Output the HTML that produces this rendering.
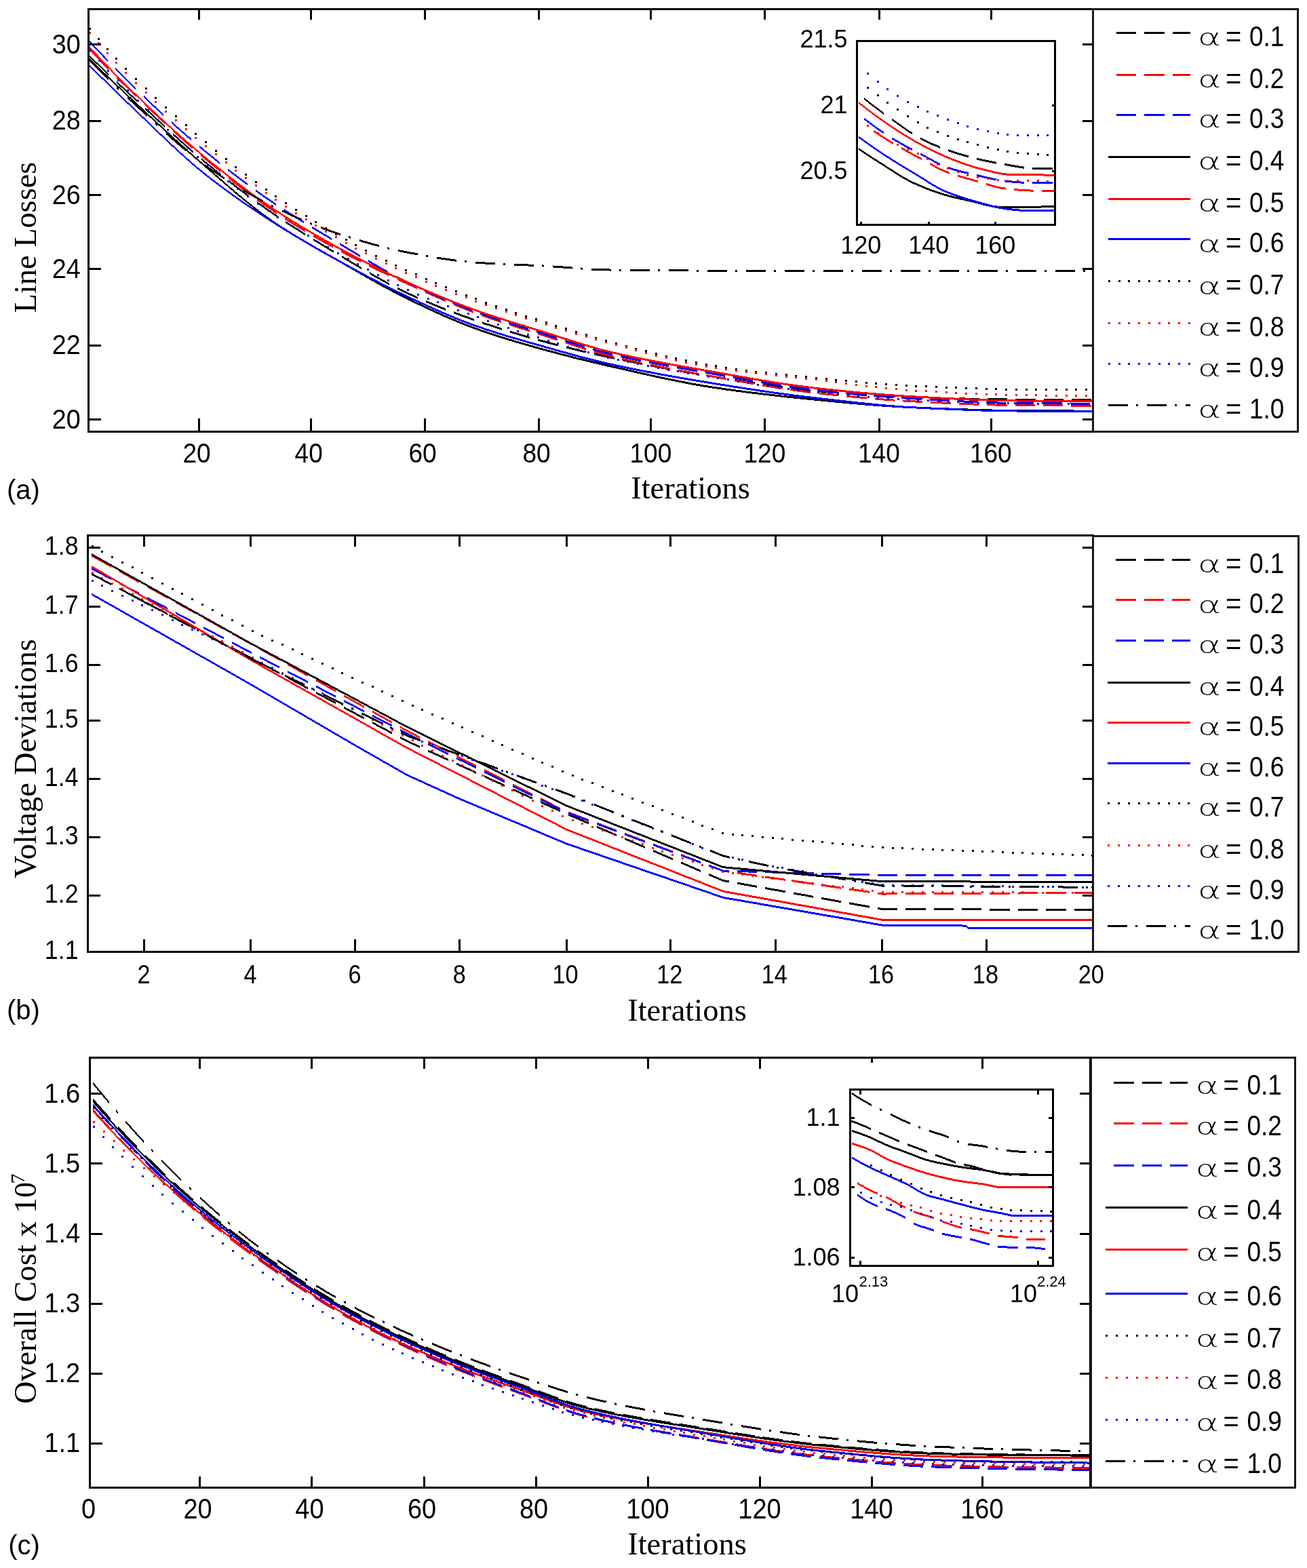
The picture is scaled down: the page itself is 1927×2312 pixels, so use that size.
<!DOCTYPE html>
<html><head><meta charset="utf-8"><title>Convergence plots</title>
<style>html,body{margin:0;padding:0;background:#fff;}svg{display:block;}</style></head>
<body><svg width="1927" height="2312" viewBox="0 0 1927 2312" shape-rendering="crispEdges">
<rect width="100%" height="100%" fill="#fff"/>
<clipPath id="ca"><rect x="130.4" y="13.1" width="1481.3" height="623.1999999999999"/></clipPath>
<path d="M131 80.5 135 84.3 139 88.2 143 92 147 95.8 151 99.6 155 103.4 159 107.2 160.4 108.5 160.4 111.5 159 110.2 155 106.4 151 102.6 147 98.8 143 95 139 91.2 135 87.3 131 83.5ZM172.4 119.8 175 122.3 179 126 183 129.7 187 133.5 191 137.2 195 140.9 199 144.6 201.8 147.2 201.8 150.2 199 147.6 195 143.9 191 140.2 187 136.5 183 132.7 179 129 175 125.3 172.4 122.8ZM213.8 158.3 215 159.4 219 163.1 223 166.8 227 170.5 231 174.2 235 177.9 239 181.6 243 185.3 243.2 185.5 243.2 188.5 243 188.3 239 184.6 235 180.9 231 177.2 227 173.5 223 169.8 219 166.1 215 162.4 213.8 161.3ZM255.2 196.5 259 199.9 263 203.5 267 207.1 271 210.6 275 214.2 279 217.7 283 221.1 284.6 222.5 284.6 225.5 283 224.1 279 220.7 275 217.2 271 213.6 267 210.1 263 206.5 259 202.9 255.2 199.5ZM296.6 232.7 299 234.7 303 238 307 241.2 311 244.5 315 247.7 319 250.9 323 254.1 326 256.5 326 259.5 323 257.1 319 253.9 315 250.7 311 247.5 307 244.2 303 241 299 237.7 296.6 235.7ZM338 266 339 266.7 343 269.8 347 272.9 351 276 355 279 359 282 363 285 367 287.9 367.4 288.2 367.4 291.2 367 290.9 363 288 359 285 355 282 351 279 347 275.9 343 272.8 339 269.7 338 269ZM379.4 297 383 299.6 387 302.4 391 305.2 395 308 399 310.8 403 313.6 407 316.3 408.8 317.5 408.8 320.5 407 319.3 403 316.6 399 313.8 395 311 391 308.2 387 305.4 383 302.6 379.4 300ZM420.8 325.5 423 326.9 427 329.6 431 332.1 435 334.7 439 337.3 443 339.8 447 342.3 450.2 344.3 450.2 347.3 447 345.3 443 342.8 439 340.3 435 337.7 431 335.1 427 332.6 423 329.9 420.8 328.5ZM462.2 351.8 463 352.2 467 354.7 471 357.1 475 359.5 479 362 483 364.4 487 366.8 491 369.1 491.6 369.5 491.6 372.5 491 372.1 487 369.8 483 367.4 479 365 475 362.5 471 360.1 467 357.7 463 355.2 462.2 354.8ZM503.6 376.6 507 378.7 511 381 515 383.4 519 385.8 523 388.2 527 390.6 531 393 533 394.1 533 397.1 531 396 527 393.6 523 391.2 519 388.8 515 386.4 511 384 507 381.7 503.6 379.6ZM545 401.2 547 402.3 551 404.7 555 406.9 559 409.2 563 411.4 567 413.6 571 415.8 574.4 417.6 574.4 420.6 571 418.8 567 416.6 563 414.4 559 412.2 555 409.9 551 407.7 547 405.3 545 404.2ZM586.4 423.9 587 424.2 591 426.2 595 428.1 599 430 603 431.9 607 433.7 611 435.5 615 437.3 615.8 437.7 615.8 440.7 615 440.3 611 438.5 607 436.7 603 434.9 599 433 595 431.1 591 429.2 587 427.2 586.4 426.9ZM627.8 442.9 631 444.2 635 445.9 639 447.5 643 449.2 647 450.8 651 452.4 655 453.9 657.2 454.8 657.2 457.8 655 456.9 651 455.4 647 453.8 643 452.2 639 450.5 635 448.9 631 447.2 627.8 445.9ZM669.2 459.4 671 460 675 461.5 679 463 683 464.5 687 465.9 691 467.3 695 468.7 698.6 470 698.6 473 695 471.7 691 470.3 687 468.9 683 467.5 679 466 675 464.5 671 463 669.2 462.4ZM710.6 474.2 711 474.3 715 475.7 719 477 723 478.3 727 479.6 731 481 735 482.2 739 483.5 740 483.8 740 486.8 739 486.5 735 485.2 731 484 727 482.6 723 481.3 719 480 715 478.7 711 477.3 710.6 477.2ZM752 487.6 755 488.5 759 489.7 763 490.9 767 492.1 771 493.3 775 494.5 779 495.6 781.4 496.3 781.4 499.3 779 498.6 775 497.5 771 496.3 767 495.1 763 493.9 759 492.7 755 491.5 752 490.6ZM793.4 499.7 795 500.1 799 501.2 803 502.3 807 503.4 811 504.4 815 505.5 819 506.5 822.8 507.5 822.8 510.5 819 509.5 815 508.5 811 507.4 807 506.4 803 505.3 799 504.2 795 503.1 793.4 502.7ZM834.8 510.5 835 510.6 839 511.6 843 512.5 847 513.5 851 514.5 855 515.4 859 516.4 863 517.3 864.2 517.6 864.2 520.6 863 520.3 859 519.4 855 518.4 851 517.5 847 516.5 843 515.5 839 514.6 835 513.6 834.8 513.5ZM876.2 520.3 879 520.9 883 521.8 887 522.7 891 523.6 895 524.4 899 525.3 903 526.1 905.6 526.7 905.6 529.7 903 529.1 899 528.3 895 527.4 891 526.6 887 525.7 883 524.8 879 523.9 876.2 523.3ZM917.6 529.2 919 529.5 923 530.3 927 531.1 931 531.9 935 532.7 939 533.5 943 534.3 947 535.1 947 538.1 943 537.3 939 536.5 935 535.7 931 534.9 927 534.1 923 533.3 919 532.5 917.6 532.2ZM959 508.9 959 537.4 963 538.2 967 539 971 539.7 975 540.5 979 541.2 983 542 987 542.7 988.4 542.9 988.4 545.9 987 545.7 983 545 979 544.2 975 543.5 971 542.7 967 542 963 541.2 959 540.4 959 568.9ZM1000.4 545.1 1003 545.6 1007 546.3 1011 547 1015 547.7 1019 548.4 1023 549 1027 549.7 1029.8 550.2 1029.8 553.2 1027 552.7 1023 552 1019 551.4 1015 550.7 1011 550 1007 549.3 1003 548.6 1000.4 548.1ZM1041.8 552.2 1043 552.4 1047 553 1051 553.7 1055 554.3 1059 554.9 1063 555.6 1067 556.2 1071 556.9 1071.2 556.9 1071.2 559.9 1071 559.9 1067 559.2 1063 558.6 1059 557.9 1055 557.3 1051 556.7 1047 556 1043 555.4 1041.8 555.2ZM1083.2 558.8 1087 559.4 1091 560.1 1095 560.7 1099 561.3 1103 562 1107 562.6 1111 563.2 1112.6 563.4 1112.6 566.4 1111 566.2 1107 565.6 1103 565 1099 564.3 1095 563.7 1091 563.1 1087 562.4 1083.2 561.8ZM1124.6 565.2 1127 565.6 1131 566.2 1135 566.8 1139 567.3 1143 567.9 1147 568.4 1151 569 1154 569.4 1154 572.4 1151 572 1147 571.4 1143 570.9 1139 570.3 1135 569.8 1131 569.2 1127 568.6 1124.6 568.2ZM1166 570.9 1167 571 1171 571.5 1175 571.9 1179 572.4 1183 572.8 1187 573.2 1191 573.6 1195 574 1195.4 574.1 1195.4 577.1 1195 577 1191 576.6 1187 576.2 1183 575.8 1179 575.4 1175 574.9 1171 574.5 1167 574 1166 573.9ZM1207.4 575.2 1211 575.5 1215 575.8 1219 576.2 1223 576.5 1227 576.9 1231 577.2 1235 577.5 1236.8 577.7 1236.8 580.7 1235 580.5 1231 580.2 1227 579.9 1223 579.5 1219 579.2 1215 578.8 1211 578.5 1207.4 578.2ZM1248.8 578.7 1251 578.8 1255 579.1 1259 579.5 1263 579.8 1267 580 1271 580.3 1275 580.6 1278.2 580.8 1278.2 583.8 1275 583.6 1271 583.3 1267 583 1263 582.8 1259 582.5 1255 582.1 1251 581.8 1248.8 581.7ZM1290.2 581.6 1291 581.7 1295 581.9 1299 582.2 1303 582.4 1307 582.6 1311 582.8 1315 583.1 1319 583.3 1319.6 583.3 1319.6 586.3 1319 586.3 1315 586.1 1311 585.8 1307 585.6 1303 585.4 1299 585.2 1295 584.9 1291 584.7 1290.2 584.6ZM1331.6 583.8 1335 584 1339 584.1 1343 584.3 1347 584.4 1351 584.5 1355 584.7 1359 584.8 1361 584.8 1361 587.8 1359 587.8 1355 587.7 1351 587.5 1347 587.4 1343 587.3 1339 587.1 1335 587 1331.6 586.8ZM1373 585.2 1375 585.3 1379 585.4 1383 585.5 1387 585.6 1391 585.7 1395 585.8 1399 585.9 1402.4 586 1402.4 589 1399 588.9 1395 588.8 1391 588.7 1387 588.6 1383 588.5 1379 588.4 1375 588.3 1373 588.2ZM1414.4 586.3 1415 586.3 1419 586.4 1423 586.5 1427 586.6 1431 586.7 1435 586.8 1439 586.9 1443 586.9 1443.8 587 1443.8 590 1443 589.9 1439 589.9 1435 589.8 1431 589.7 1427 589.6 1423 589.5 1419 589.4 1415 589.3 1414.4 589.3ZM1455.8 587.2 1459 587.2 1463 587.3 1467 587.3 1471 587.3 1475 587.4 1479 587.4 1483 587.4 1485.2 587.5 1485.2 590.5 1483 590.4 1479 590.4 1475 590.4 1471 590.3 1467 590.3 1463 590.3 1459 590.2 1455.8 590.2ZM1497.2 587.5 1499 587.5 1503 587.5 1507 587.5 1511 587.5 1515 587.5 1519 587.5 1523 587.5 1526.6 587.5 1526.6 590.5 1523 590.5 1519 590.5 1515 590.5 1511 590.5 1507 590.5 1503 590.5 1499 590.5 1497.2 590.5ZM1538.6 587.5 1539 587.5 1543 587.5 1547 587.5 1551 587.5 1555 587.5 1559 587.5 1563 587.5 1567 587.5 1568 587.5 1568 590.5 1567 590.5 1563 590.5 1559 590.5 1555 590.5 1551 590.5 1547 590.5 1543 590.5 1539 590.5 1538.6 590.5ZM1580 587.5 1583 587.5 1587 587.5 1591 587.5 1595 587.5 1599 587.5 1603 587.5 1607 587.5 1609.4 587.5 1609.4 590.5 1607 590.5 1603 590.5 1599 590.5 1595 590.5 1591 590.5 1587 590.5 1583 590.5 1580 590.5Z" fill="#000" clip-path="url(#ca)"/>
<path d="M131 70.4 135 74.6 139 78.7 143 82.8 147 86.9 151 91 155 95.1 159 99.1 159.7 99.9 159.7 102.9 159 102.2 155 98.1 151 94.1 147 90 143 85.9 139 81.8 135 77.7 131 73.6ZM171.7 111.9 175 115.2 179 119.1 183 123 187 127 191 130.8 195 134.7 199 138.5 201.1 140.5 201.1 143.5 199 141.5 195 137.7 191 133.8 187 130 183 126 179 122.1 175 118.2 171.7 114.9ZM213.1 152 215 153.8 219 157.6 223 161.4 227 165.1 231 168.9 235 172.6 239 176.4 242.5 179.6 242.5 182.6 239 179.4 235 175.6 231 171.9 227 168.1 223 164.4 219 160.6 215 156.8 213.1 155ZM254.5 190.6 255 191.1 259 194.7 263 198.3 267 201.9 271 205.5 275 209 279 212.5 283 216 283.9 216.8 283.9 219.8 283 219 279 215.5 275 212 271 208.5 267 204.9 263 201.3 259 197.7 255 194.1 254.5 193.6ZM295.9 227.1 299 229.7 303 233 307 236.3 311 239.6 315 242.9 319 246.2 323 249.5 325.3 251.3 325.3 254.3 323 252.5 319 249.2 315 245.9 311 242.6 307 239.3 303 236 299 232.7 295.9 230.1ZM337.3 261 339 262.3 343 265.5 347 268.7 351 271.8 355 274.9 359 277.9 363 281 366.7 283.7 366.7 286.7 363 284 359 280.9 355 277.9 351 274.8 347 271.7 343 268.5 339 265.3 337.3 264ZM378.7 292.6 379 292.8 383 295.7 387 298.5 391 301.3 395 304.1 399 306.8 403 309.5 407 312.2 408.1 312.9 408.1 315.9 407 315.2 403 312.5 399 309.8 395 307.1 391 304.3 387 301.5 383 298.7 379 295.8 378.7 295.6ZM420.1 320.7 423 322.6 427 325.1 431 327.6 435 330.1 439 332.5 443 335 447 337.4 449.5 338.9 449.5 341.9 447 340.4 443 338 439 335.5 435 333.1 431 330.6 427 328.1 423 325.6 420.1 323.7ZM461.5 346 463 346.8 467 349.1 471 351.4 475 353.7 479 356 483 358.2 487 360.4 490.9 362.6 490.9 365.6 487 363.4 483 361.2 479 359 475 356.7 471 354.4 467 352.1 463 349.8 461.5 349ZM502.9 369.1 503 369.1 507 371.2 511 373.4 515 375.4 519 377.5 523 379.6 527 381.6 531 383.6 532.3 384.3 532.3 387.3 531 386.6 527 384.6 523 382.6 519 380.5 515 378.4 511 376.4 507 374.2 503 372.1 502.9 372.1ZM544.3 390.2 547 391.6 551 393.5 555 395.4 559 397.4 563 399.3 567 401.2 571 403.1 573.7 404.3 573.7 407.3 571 406.1 567 404.2 563 402.3 559 400.4 555 398.4 551 396.5 547 394.6 544.3 393.2ZM585.7 409.9 587 410.5 591 412.4 595 414.2 599 416 603 417.9 607 419.7 611 421.5 615 423.4 615.1 423.4 615.1 426.4 615 426.4 611 424.5 607 422.7 603 420.9 599 419 595 417.2 591 415.4 587 413.5 585.7 412.9ZM627.1 428.9 631 430.6 635 432.4 639 434.2 643 436 647 437.7 651 439.5 655 441.2 656.5 441.9 656.5 444.9 655 444.2 651 442.5 647 440.7 643 439 639 437.2 635 435.4 631 433.6 627.1 431.9ZM668.5 447 671 448 675 449.7 679 451.3 683 452.9 687 454.5 691 456.1 695 457.6 697.9 458.7 697.9 461.7 695 460.6 691 459.1 687 457.5 683 455.9 679 454.3 675 452.7 671 451 668.5 450ZM709.9 463.1 711 463.5 715 464.9 719 466.3 723 467.7 727 469.1 731 470.4 735 471.8 739 473.1 739.3 473.2 739.3 476.2 739 476.1 735 474.8 731 473.4 727 472.1 723 470.7 719 469.3 715 467.9 711 466.5 709.9 466.1ZM751.3 477.1 755 478.3 759 479.5 763 480.8 767 482.1 771 483.3 775 484.6 779 485.9 780.7 486.4 780.7 489.4 779 488.9 775 487.6 771 486.3 767 485.1 763 483.8 759 482.5 755 481.3 751.3 480.1ZM792.7 490.2 795 490.9 799 492.2 803 493.5 807 494.8 811 496.1 815 497.4 819 498.7 822.1 499.7 822.1 502.7 819 501.7 815 500.4 811 499.1 807 497.8 803 496.5 799 495.2 795 493.9 792.7 493.2ZM834.1 503.7 835 504 839 505.3 843 506.6 847 507.9 851 509.2 855 510.5 859 511.8 863 513 863.5 513.2 863.5 516.2 863 516 859 514.8 855 513.5 851 512.2 847 510.9 843 509.6 839 508.3 835 507 834.1 506.7ZM875.5 516.8 879 517.9 883 519 887 520.1 891 521.2 895 522.2 899 523.3 903 524.2 904.9 524.7 904.9 527.7 903 527.2 899 526.3 895 525.2 891 524.2 887 523.1 883 522 879 520.9 875.5 519.8ZM916.9 527.5 919 528 923 528.9 927 529.8 931 530.7 935 531.6 939 532.5 943 533.3 946.3 534 946.3 537 943 536.3 939 535.5 935 534.6 931 533.7 927 532.8 923 531.9 919 531 916.9 530.5ZM958.3 536.5 959 536.6 963 537.4 967 538.2 971 539 975 539.8 979 540.6 983 541.3 987 542.1 987.7 542.2 987.7 545.2 987 545.1 983 544.3 979 543.6 975 542.8 971 542 967 541.2 963 540.4 959 539.6 958.3 539.5ZM999.7 544.5 1003 545.1 1007 545.8 1011 546.5 1015 547.2 1019 548 1023 548.7 1027 549.4 1029.1 549.8 1029.1 552.8 1027 552.4 1023 551.7 1019 551 1015 550.2 1011 549.5 1007 548.8 1003 548.1 999.7 547.5ZM1041.1 551.9 1043 552.3 1047 553 1051 553.7 1055 554.4 1059 555.1 1063 555.8 1067 556.5 1070.5 557.2 1070.5 560.2 1067 559.5 1063 558.8 1059 558.1 1055 557.4 1051 556.7 1047 556 1043 555.3 1041.1 554.9ZM1082.5 559.3 1083 559.4 1087 560.1 1091 560.8 1095 561.5 1099 562.2 1103 563 1107 563.6 1111 564.3 1111.9 564.5 1111.9 567.5 1111 567.3 1107 566.6 1103 566 1099 565.2 1095 564.5 1091 563.8 1087 563.1 1083 562.4 1082.5 562.3ZM1123.9 566.5 1127 567.1 1131 567.7 1135 568.4 1139 569 1143 569.7 1147 570.3 1151 570.9 1153.3 571.3 1153.3 574.3 1151 573.9 1147 573.3 1143 572.7 1139 572 1135 571.4 1131 570.7 1127 570.1 1123.9 569.5ZM1165.3 573 1167 573.3 1171 573.8 1175 574.4 1179 574.9 1183 575.4 1187 576 1191 576.4 1194.7 576.9 1194.7 579.9 1191 579.4 1187 579 1183 578.4 1179 577.9 1175 577.4 1171 576.8 1167 576.3 1165.3 576ZM1206.7 578.2 1207 578.3 1211 578.7 1215 579.2 1219 579.6 1223 580 1227 580.4 1231 580.9 1235 581.3 1236.1 581.4 1236.1 584.4 1235 584.3 1231 583.9 1227 583.4 1223 583 1219 582.6 1215 582.2 1211 581.7 1207 581.3 1206.7 581.2ZM1248.1 582.6 1251 582.9 1255 583.3 1259 583.7 1263 584 1267 584.4 1271 584.8 1275 585.1 1277.5 585.4 1277.5 588.4 1275 588.1 1271 587.8 1267 587.4 1263 587 1259 586.7 1255 586.3 1251 585.9 1248.1 585.6ZM1289.5 586.4 1291 586.5 1295 586.8 1299 587.2 1303 587.5 1307 587.8 1311 588.1 1315 588.4 1318.9 588.6 1318.9 591.6 1315 591.4 1311 591.1 1307 590.8 1303 590.5 1299 590.2 1295 589.8 1291 589.5 1289.5 589.4ZM1330.9 589.4 1331 589.4 1335 589.7 1339 589.9 1343 590.1 1347 590.3 1351 590.6 1355 590.8 1359 591 1360.3 591 1360.3 594 1359 594 1355 593.8 1351 593.6 1347 593.3 1343 593.1 1339 592.9 1335 592.7 1331 592.4 1330.9 592.4ZM1372.3 591.6 1375 591.8 1379 592 1383 592.2 1387 592.4 1391 592.6 1395 592.8 1399 592.9 1401.7 593.1 1401.7 596.1 1399 595.9 1395 595.8 1391 595.6 1387 595.4 1383 595.2 1379 595 1375 594.8 1372.3 594.6ZM1413.7 593.6 1415 593.7 1419 593.8 1423 594 1427 594.2 1431 594.3 1435 594.5 1439 594.6 1443 594.7 1443.1 594.7 1443.1 597.7 1443 597.7 1439 597.6 1435 597.5 1431 597.3 1427 597.2 1423 597 1419 596.8 1415 596.7 1413.7 596.6ZM1455.1 595.1 1459 595.2 1463 595.4 1467 595.5 1471 595.6 1475 595.6 1479 595.7 1483 595.8 1484.5 595.8 1484.5 598.8 1483 598.8 1479 598.7 1475 598.6 1471 598.6 1467 598.5 1463 598.4 1459 598.2 1455.1 598.1ZM1496.5 596 1499 596 1503 596 1507 596.1 1511 596.1 1515 596.1 1519 596.1 1523 596.2 1525.9 596.2 1525.9 599.2 1523 599.2 1519 599.1 1515 599.1 1511 599.1 1507 599.1 1503 599 1499 599 1496.5 599ZM1537.9 596.3 1539 596.3 1543 596.3 1547 596.3 1551 596.3 1555 596.4 1559 596.4 1563 596.4 1567 596.4 1567.3 596.4 1567.3 599.4 1567 599.4 1563 599.4 1559 599.4 1555 599.4 1551 599.3 1547 599.3 1543 599.3 1539 599.3 1537.9 599.3ZM1579.3 596.5 1583 596.5 1587 596.5 1591 596.5 1595 596.5 1599 596.5 1603 596.5 1607 596.5 1608.7 596.5 1608.7 599.5 1607 599.5 1603 599.5 1599 599.5 1595 599.5 1591 599.5 1587 599.5 1583 599.5 1579.3 599.5Z" fill="#f00" clip-path="url(#ca)"/>
<path d="M131 58.4 135 62.7 139 67 143 71.3 147 75.6 151 79.8 155 84 158.6 87.8 158.6 91 155 87.2 151 83 147 78.7 143 74.5 139 70.2 135 65.9 131 61.6ZM170.3 99.9 171 100.6 175 104.7 179 108.8 183 112.8 187 116.8 191 120.7 195 124.7 199 128.5 199.5 129 199.5 132 199 131.5 195 127.7 191 123.7 187 119.8 183 115.8 179 111.8 175 107.8 171 103.7 170.3 102.9ZM211.5 140.5 215 143.8 219 147.6 223 151.4 227 155.1 231 158.8 235 162.6 239 166.2 240.9 168 240.9 171 239 169.2 235 165.6 231 161.8 227 158.1 223 154.4 219 150.6 215 146.8 211.5 143.5ZM252.9 178.9 255 180.7 259 184.3 263 187.9 267 191.4 271 194.9 275 198.4 279 201.8 282.3 204.6 282.3 207.6 279 204.8 275 201.4 271 197.9 267 194.4 263 190.9 259 187.3 255 183.7 252.9 181.9ZM294.3 214.8 295 215.4 299 218.7 303 222 307 225.2 311 228.5 315 231.7 319 235 323 238.2 323.7 238.7 323.7 241.7 323 241.2 319 238 315 234.7 311 231.5 307 228.2 303 225 299 221.7 295 218.4 294.3 217.8ZM335.7 248.2 339 250.8 343 253.9 347 257 351 260 355 263.1 359 266.1 363 269.1 365.1 270.6 365.1 273.6 363 272.1 359 269.1 355 266.1 351 263 347 260 343 256.9 339 253.8 335.7 251.2ZM377.1 279.4 379 280.8 383 283.6 387 286.5 391 289.3 395 292.1 399 294.8 403 297.5 406.5 299.9 406.5 302.9 403 300.5 399 297.8 395 295.1 391 292.3 387 289.5 383 286.6 379 283.8 377.1 282.4ZM418.5 307.8 419 308.1 423 310.7 427 313.3 431 315.8 435 318.3 439 320.8 443 323.3 447 325.8 447.9 326.3 447.9 329.3 447 328.8 443 326.3 439 323.8 435 321.3 431 318.8 427 316.3 423 313.7 419 311.1 418.5 310.8ZM459.9 333.6 463 335.5 467 337.9 471 340.3 475 342.7 479 345 483 347.4 487 349.8 489.3 351.2 489.3 354.2 487 352.8 483 350.4 479 348 475 345.7 471 343.3 467 340.9 463 338.5 459.9 336.6ZM501.3 358.3 503 359.3 507 361.7 511 364.1 515 366.5 519 368.9 523 371.3 527 373.7 530.7 375.9 530.7 378.9 527 376.7 523 374.3 519 371.9 515 369.5 511 367.1 507 364.7 503 362.3 501.3 361.3ZM542.7 383 543 383.2 547 385.5 551 387.9 555 390.2 559 392.5 563 394.8 567 397 571 399.3 572.1 399.9 572.1 402.9 571 402.3 567 400 563 397.8 559 395.5 555 393.2 551 390.9 547 388.5 543 386.2 542.7 386ZM584.1 406.4 587 407.9 591 410 595 412 599 414 603 416 607 417.9 611 419.8 613.5 421 613.5 424 611 422.8 607 420.9 603 419 599 417 595 415 591 413 587 410.9 584.1 409.4ZM625.5 426.6 627 427.3 631 429.1 635 430.9 639 432.7 643 434.4 647 436.2 651 437.9 654.9 439.5 654.9 442.5 651 440.9 647 439.2 643 437.4 639 435.7 635 433.9 631 432.1 627 430.3 625.5 429.6ZM666.9 444.5 667 444.6 671 446.2 675 447.8 679 449.4 683 451 687 452.6 691 454.1 695 455.6 696.3 456.1 696.3 459.1 695 458.6 691 457.1 687 455.6 683 454 679 452.4 675 450.8 671 449.2 667 447.6 666.9 447.5ZM708.3 460.5 711 461.5 715 463 719 464.4 723 465.7 727 467.1 731 468.5 735 469.8 737.7 470.7 737.7 473.7 735 472.8 731 471.5 727 470.1 723 468.7 719 467.4 715 466 711 464.5 708.3 463.5ZM749.7 474.6 751 475.1 755 476.3 759 477.6 763 478.9 767 480.2 771 481.4 775 482.7 779 483.9 779.1 484 779.1 487 779 486.9 775 485.7 771 484.4 767 483.2 763 481.9 759 480.6 755 479.3 751 478.1 749.7 477.6ZM791.1 487.7 795 488.9 799 490.2 803 491.4 807 492.7 811 494 815 495.3 819 496.6 820.5 497 820.5 500 819 499.6 815 498.3 811 497 807 495.7 803 494.4 799 493.2 795 491.9 791.1 490.7ZM832.5 500.9 835 501.7 839 503 843 504.2 847 505.5 851 506.8 855 508 859 509.2 861.9 510.1 861.9 513.1 859 512.2 855 511 851 509.8 847 508.5 843 507.2 839 506 835 504.7 832.5 503.9ZM873.9 513.6 875 513.9 879 515.1 883 516.2 887 517.2 891 518.3 895 519.3 899 520.3 903 521.2 903.3 521.3 903.3 524.3 903 524.2 899 523.3 895 522.3 891 521.3 887 520.2 883 519.2 879 518.1 875 516.9 873.9 516.6ZM915.3 524 919 524.9 923 525.7 927 526.6 931 527.5 935 528.3 939 529.1 943 530 944.7 530.3 944.7 533.3 943 533 939 532.1 935 531.3 931 530.5 927 529.6 923 528.7 919 527.9 915.3 527ZM956.7 532.7 959 533.1 963 533.9 967 534.7 971 535.4 975 536.2 979 536.9 983 537.7 986.1 538.2 986.1 541.2 983 540.7 979 539.9 975 539.2 971 538.4 967 537.7 963 536.9 959 536.1 956.7 535.7ZM998.1 540.4 999 540.6 1003 541.3 1007 542 1011 542.7 1015 543.4 1019 544.1 1023 544.8 1027 545.5 1027.5 545.6 1027.5 548.6 1027 548.5 1023 547.8 1019 547.1 1015 546.4 1011 545.7 1007 545 1003 544.3 999 543.6 998.1 543.4ZM1039.5 547.7 1043 548.3 1047 549 1051 549.7 1055 550.4 1059 551.1 1063 551.8 1067 552.5 1068.9 552.8 1068.9 555.8 1067 555.5 1063 554.8 1059 554.1 1055 553.4 1051 552.7 1047 552 1043 551.3 1039.5 550.7ZM1080.9 555 1083 555.4 1087 556.1 1091 556.8 1095 557.5 1099 558.2 1103 558.9 1107 559.6 1110.3 560.2 1110.3 563.2 1107 562.6 1103 561.9 1099 561.2 1095 560.5 1091 559.8 1087 559.1 1083 558.4 1080.9 558ZM1122.3 562.2 1123 562.3 1127 563 1131 563.7 1135 564.3 1139 565 1143 565.6 1147 566.3 1151 566.9 1151.7 567 1151.7 570 1151 569.9 1147 569.3 1143 568.6 1139 568 1135 567.3 1131 566.7 1127 566 1123 565.3 1122.3 565.2ZM1163.7 568.8 1167 569.3 1171 569.8 1175 570.4 1179 570.9 1183 571.4 1187 572 1191 572.4 1193.1 572.7 1193.1 575.7 1191 575.4 1187 575 1183 574.4 1179 573.9 1175 573.4 1171 572.8 1167 572.3 1163.7 571.8ZM1205.1 574.1 1207 574.3 1211 574.7 1215 575.2 1219 575.6 1223 576 1227 576.4 1231 576.8 1234.5 577.2 1234.5 580.2 1231 579.8 1227 579.4 1223 579 1219 578.6 1215 578.2 1211 577.7 1207 577.3 1205.1 577.1ZM1246.5 578.4 1247 578.4 1251 578.8 1255 579.2 1259 579.6 1263 579.9 1267 580.3 1271 580.7 1275 581 1275.9 581.1 1275.9 584.1 1275 584 1271 583.7 1267 583.3 1263 582.9 1259 582.6 1255 582.2 1251 581.8 1247 581.4 1246.5 581.4ZM1287.9 582.1 1291 582.4 1295 582.7 1299 583 1303 583.3 1307 583.6 1311 583.9 1315 584.2 1317.3 584.4 1317.3 587.4 1315 587.2 1311 586.9 1307 586.6 1303 586.3 1299 586 1295 585.7 1291 585.4 1287.9 585.1ZM1329.3 585.2 1331 585.3 1335 585.6 1339 585.8 1343 586.1 1347 586.3 1351 586.6 1355 586.8 1358.7 587 1358.7 590 1355 589.8 1351 589.6 1347 589.3 1343 589.1 1339 588.8 1335 588.6 1331 588.3 1329.3 588.2ZM1370.7 587.7 1371 587.7 1375 588 1379 588.2 1383 588.4 1387 588.7 1391 588.9 1395 589.1 1399 589.3 1400.1 589.4 1400.1 592.4 1399 592.3 1395 592.1 1391 591.9 1387 591.7 1383 591.4 1379 591.2 1375 591 1371 590.7 1370.7 590.7ZM1412.1 590 1415 590.2 1419 590.4 1423 590.6 1427 590.8 1431 591 1435 591.2 1439 591.3 1441.5 591.4 1441.5 594.4 1439 594.3 1435 594.2 1431 594 1427 593.8 1423 593.6 1419 593.4 1415 593.2 1412.1 593ZM1453.5 591.9 1455 592 1459 592.1 1463 592.2 1467 592.4 1471 592.5 1475 592.6 1479 592.7 1482.9 592.8 1482.9 595.8 1479 595.7 1475 595.6 1471 595.5 1467 595.4 1463 595.2 1459 595.1 1455 595 1453.5 594.9ZM1494.9 593 1495 593 1499 593 1503 593 1507 593.1 1511 593.1 1515 593.1 1519 593.1 1523 593.2 1524.3 593.2 1524.3 596.2 1523 596.2 1519 596.1 1515 596.1 1511 596.1 1507 596.1 1503 596 1499 596 1495 596 1494.9 596ZM1536.3 593.3 1539 593.3 1543 593.3 1547 593.3 1551 593.3 1555 593.4 1559 593.4 1563 593.4 1565.7 593.4 1565.7 596.4 1563 596.4 1559 596.4 1555 596.4 1551 596.3 1547 596.3 1543 596.3 1539 596.3 1536.3 596.3ZM1577.7 593.4 1579 593.5 1583 593.5 1587 593.5 1591 593.5 1595 593.5 1599 593.5 1603 593.5 1607 593.5 1607.1 593.5 1607.1 596.5 1607 596.5 1603 596.5 1599 596.5 1595 596.5 1591 596.5 1587 596.5 1583 596.5 1579 596.5 1577.7 596.4Z" fill="#00f" clip-path="url(#ca)"/>
<path d="M131 84.9 135 88.8 139 92.6 143 96.5 147 100.3 151 104.2 155 108 159 111.8 163 115.6 167 119.4 171 123.2 175 127 179 130.8 183 134.6 187 138.3 191 142.1 195 145.8 199 149.6 203 153.3 207 157 211 160.7 215 164.5 219 168.2 223 171.9 227 175.6 231 179.3 235 183 239 186.7 243 190.4 247 194.1 251 197.8 255 201.4 259 205.1 263 208.7 267 212.3 271 215.9 275 219.5 279 223.1 283 226.6 287 230.2 291 233.7 295 237.2 299 240.6 303 244.1 307 247.6 311 251 315 254.5 319 258 323 261.5 327 264.9 331 268.4 335 271.8 339 275.3 343 278.7 347 282.1 351 285.5 355 288.8 359 292.1 363 295.4 367 298.6 371 301.8 375 305 379 308.1 383 311.2 387 314.2 391 317.1 395 320 399 322.8 403 325.6 407 328.3 411 330.9 415 333.6 419 336.1 423 338.7 427 341.2 431 343.6 435 346.1 439 348.5 443 350.9 447 353.2 451 355.6 455 357.9 459 360.2 463 362.5 467 364.8 471 367 475 369.3 479 371.6 483 373.8 487 376.1 491 378.4 495 380.6 499 382.9 503 385.2 507 387.5 511 389.8 515 392.1 519 394.4 523 396.7 527 399 531 401.3 535 403.6 539 405.9 543 408.1 547 410.4 551 412.6 555 414.8 559 417.1 563 419.3 567 421.4 571 423.6 575 425.7 579 427.8 583 429.9 587 432 591 434 595 436 599 438 603 440 607 441.9 611 443.8 615 445.8 619 447.7 623 449.6 627 451.5 631 453.4 635 455.2 639 457.1 643 458.9 647 460.7 651 462.5 655 464.3 659 466 663 467.8 667 469.5 671 471.1 675 472.8 679 474.4 683 476 687 477.6 691 479.1 695 480.7 699 482.1 703 483.6 707 485 711 486.4 715 487.8 719 489.2 723 490.5 727 491.8 731 493.1 735 494.4 739 495.7 743 496.9 747 498.2 751 499.4 755 500.6 759 501.8 763 503 767 504.2 771 505.3 775 506.5 779 507.6 783 508.7 787 509.9 791 511 795 512.1 799 513.2 803 514.3 807 515.4 811 516.5 815 517.6 819 518.6 823 519.7 827 520.8 831 521.8 835 522.8 839 523.8 843 524.9 847 525.9 851 526.9 855 527.9 859 528.8 863 529.8 867 530.8 871 531.7 875 532.7 879 533.6 883 534.6 887 535.5 891 536.4 895 537.4 899 538.3 903 539.2 907 540.1 911 541 915 541.9 919 542.8 923 543.8 927 544.7 931 545.6 935 546.5 939 547.4 943 548.3 947 549.2 951 550.1 955 551 959 551.9 963 552.8 967 553.7 971 554.6 975 555.4 979 556.3 983 557.1 987 558 991 558.8 995 559.6 999 560.4 1003 561.2 1007 562 1011 562.8 1015 563.5 1019 564.3 1023 565 1027 565.7 1031 566.4 1035 567.1 1039 567.8 1043 568.4 1047 569 1051 569.7 1055 570.3 1059 570.8 1063 571.4 1067 572 1071 572.6 1075 573.1 1079 573.7 1083 574.2 1087 574.8 1091 575.3 1095 575.8 1099 576.3 1103 576.9 1107 577.4 1111 577.9 1115 578.3 1119 578.8 1123 579.3 1127 579.8 1131 580.2 1135 580.7 1139 581.2 1143 581.6 1147 582.1 1151 582.5 1155 582.9 1159 583.4 1163 583.8 1167 584.2 1171 584.6 1175 585 1179 585.4 1183 585.8 1187 586.2 1191 586.6 1195 587 1199 587.4 1203 587.8 1207 588.2 1211 588.6 1215 588.9 1219 589.3 1223 589.7 1227 590.1 1231 590.5 1235 590.9 1239 591.2 1243 591.6 1247 592 1251 592.4 1255 592.7 1259 593.1 1263 593.4 1267 593.8 1271 594.1 1275 594.5 1279 594.8 1283 595.2 1287 595.5 1291 595.8 1295 596.1 1299 596.4 1303 596.7 1307 597 1311 597.3 1315 597.5 1319 597.8 1323 598.1 1327 598.3 1331 598.5 1335 598.8 1339 599 1343 599.2 1347 599.4 1351 599.5 1355 599.7 1359 599.9 1363 600.1 1367 600.2 1371 600.4 1375 600.6 1379 600.7 1383 600.9 1387 601.1 1391 601.2 1395 601.4 1399 601.5 1403 601.7 1407 601.8 1411 602 1415 602.1 1419 602.2 1423 602.4 1427 602.5 1431 602.6 1435 602.7 1439 602.9 1443 603 1447 603.1 1451 603.2 1455 603.3 1459 603.4 1463 603.5 1467 603.5 1471 603.6 1475 603.7 1479 603.8 1483 603.8 1487 603.9 1491 603.9 1495 604 1499 604 1503 604 1507 604.1 1511 604.1 1515 604.1 1519 604.1 1523 604.2 1527 604.2 1531 604.2 1535 604.2 1539 604.3 1543 604.3 1547 604.3 1551 604.3 1555 604.4 1559 604.4 1563 604.4 1567 604.4 1571 604.4 1575 604.4 1579 604.4 1583 604.5 1587 604.5 1591 604.5 1595 604.5 1599 604.5 1603 604.5 1607 604.5 1611 604.5 1611 607.5 1607 607.5 1603 607.5 1599 607.5 1595 607.5 1591 607.5 1587 607.5 1583 607.5 1579 607.4 1575 607.4 1571 607.4 1567 607.4 1563 607.4 1559 607.4 1555 607.4 1551 607.3 1547 607.3 1543 607.3 1539 607.3 1535 607.2 1531 607.2 1527 607.2 1523 607.2 1519 607.1 1515 607.1 1511 607.1 1507 607.1 1503 607 1499 607 1495 607 1491 606.9 1487 606.9 1483 606.8 1479 606.8 1475 606.7 1471 606.6 1467 606.5 1463 606.5 1459 606.4 1455 606.3 1451 606.2 1447 606.1 1443 606 1439 605.9 1435 605.7 1431 605.6 1427 605.5 1423 605.4 1419 605.2 1415 605.1 1411 605 1407 604.8 1403 604.7 1399 604.5 1395 604.4 1391 604.2 1387 604.1 1383 603.9 1379 603.7 1375 603.6 1371 603.4 1367 603.2 1363 603.1 1359 602.9 1355 602.7 1351 602.5 1347 602.4 1343 602.2 1339 602 1335 601.8 1331 601.5 1327 601.3 1323 601.1 1319 600.8 1315 600.5 1311 600.3 1307 600 1303 599.7 1299 599.4 1295 599.1 1291 598.8 1287 598.5 1283 598.2 1279 597.8 1275 597.5 1271 597.1 1267 596.8 1263 596.4 1259 596.1 1255 595.7 1251 595.4 1247 595 1243 594.6 1239 594.2 1235 593.9 1231 593.5 1227 593.1 1223 592.7 1219 592.3 1215 591.9 1211 591.6 1207 591.2 1203 590.8 1199 590.4 1195 590 1191 589.6 1187 589.2 1183 588.8 1179 588.4 1175 588 1171 587.6 1167 587.2 1163 586.8 1159 586.4 1155 585.9 1151 585.5 1147 585.1 1143 584.6 1139 584.2 1135 583.7 1131 583.2 1127 582.8 1123 582.3 1119 581.8 1115 581.3 1111 580.9 1107 580.4 1103 579.9 1099 579.3 1095 578.8 1091 578.3 1087 577.8 1083 577.2 1079 576.7 1075 576.1 1071 575.6 1067 575 1063 574.4 1059 573.8 1055 573.3 1051 572.7 1047 572 1043 571.4 1039 570.8 1035 570.1 1031 569.4 1027 568.7 1023 568 1019 567.3 1015 566.5 1011 565.8 1007 565 1003 564.2 999 563.4 995 562.6 991 561.8 987 561 983 560.1 979 559.3 975 558.4 971 557.6 967 556.7 963 555.8 959 554.9 955 554 951 553.1 947 552.2 943 551.3 939 550.4 935 549.5 931 548.6 927 547.7 923 546.8 919 545.8 915 544.9 911 544 907 543.1 903 542.2 899 541.3 895 540.4 891 539.4 887 538.5 883 537.6 879 536.6 875 535.7 871 534.7 867 533.8 863 532.8 859 531.8 855 530.9 851 529.9 847 528.9 843 527.9 839 526.8 835 525.8 831 524.8 827 523.8 823 522.7 819 521.6 815 520.6 811 519.5 807 518.4 803 517.3 799 516.2 795 515.1 791 514 787 512.9 783 511.7 779 510.6 775 509.5 771 508.3 767 507.2 763 506 759 504.8 755 503.6 751 502.4 747 501.2 743 499.9 739 498.7 735 497.4 731 496.1 727 494.8 723 493.5 719 492.2 715 490.8 711 489.4 707 488 703 486.6 699 485.1 695 483.7 691 482.1 687 480.6 683 479 679 477.4 675 475.8 671 474.1 667 472.5 663 470.8 659 469 655 467.3 651 465.5 647 463.7 643 461.9 639 460.1 635 458.2 631 456.4 627 454.5 623 452.6 619 450.7 615 448.8 611 446.8 607 444.9 603 443 599 441 595 439 591 437 587 435 583 432.9 579 430.8 575 428.7 571 426.6 567 424.4 563 422.3 559 420.1 555 417.8 551 415.6 547 413.4 543 411.1 539 408.9 535 406.6 531 404.3 527 402 523 399.7 519 397.4 515 395.1 511 392.8 507 390.5 503 388.2 499 385.9 495 383.6 491 381.4 487 379.1 483 376.8 479 374.6 475 372.3 471 370 467 367.8 463 365.5 459 363.2 455 360.9 451 358.6 447 356.2 443 353.9 439 351.5 435 349.1 431 346.6 427 344.2 423 341.7 419 339.1 415 336.6 411 333.9 407 331.3 403 328.6 399 325.8 395 323 391 320.1 387 317.2 383 314.2 379 311.1 375 308 371 304.8 367 301.6 363 298.4 359 295.1 355 291.8 351 288.5 347 285.1 343 281.7 339 278.3 335 274.8 331 271.4 327 267.9 323 264.5 319 261 315 257.5 311 254 307 250.6 303 247.1 299 243.6 295 240.2 291 236.7 287 233.2 283 229.6 279 226.1 275 222.5 271 218.9 267 215.3 263 211.7 259 208.1 255 204.4 251 200.8 247 197.1 243 193.4 239 189.7 235 186 231 182.3 227 178.6 223 174.9 219 171.2 215 167.5 211 163.7 207 160 203 156.3 199 152.6 195 148.8 191 145.1 187 141.3 183 137.6 179 133.8 175 130 171 126.2 167 122.4 163 118.6 159 114.8 155 111 151 107.2 147 103.3 143 99.5 139 95.6 135 91.8 131 87.9Z" fill="#000" clip-path="url(#ca)"/>
<path d="M131 67 135 71.3 139 75.6 143 79.9 147 84.1 151 88.3 155 92.5 159 96.7 163 100.9 167 105 171 109.1 175 113.2 179 117.3 183 121.3 187 125.3 191 129.2 195 133.1 199 137 203 140.9 207 144.7 211 148.6 215 152.4 219 156.2 223 160 227 163.7 231 167.5 235 171.2 239 174.9 243 178.6 247 182.3 251 185.9 255 189.5 259 193.1 263 196.7 267 200.2 271 203.8 275 207.3 279 210.7 283 214.2 287 217.6 291 221 295 224.3 299 227.7 303 231 307 234.3 311 237.5 315 240.8 319 244 323 247.2 327 250.4 331 253.6 335 256.8 339 259.9 343 263 347 266.1 351 269.2 355 272.3 359 275.3 363 278.3 367 281.2 371 284.2 375 287.1 379 289.9 383 292.8 387 295.6 391 298.4 395 301.1 399 303.8 403 306.5 407 309.2 411 311.8 415 314.4 419 316.9 423 319.5 427 322 431 324.5 435 327 439 329.4 443 331.9 447 334.3 451 336.7 455 339 459 341.4 463 343.7 467 346 471 348.3 475 350.6 479 352.9 483 355.1 487 357.3 491 359.6 495 361.8 499 364 503 366.1 507 368.3 511 370.4 515 372.6 519 374.7 523 376.8 527 378.9 531 381 535 383.1 539 385.1 543 387.2 547 389.2 551 391.2 555 393.2 559 395.2 563 397.1 567 399.1 571 401 575 402.9 579 404.8 583 406.7 587 408.6 591 410.4 595 412.2 599 414 603 415.8 607 417.6 611 419.4 615 421.2 619 422.9 623 424.7 627 426.4 631 428.1 635 429.9 639 431.5 643 433.2 647 434.9 651 436.6 655 438.2 659 439.8 663 441.4 667 443 671 444.6 675 446.2 679 447.7 683 449.2 687 450.7 691 452.2 695 453.7 699 455.1 703 456.6 707 458 711 459.4 715 460.7 719 462.1 723 463.4 727 464.8 731 466.1 735 467.4 739 468.6 743 469.9 747 471.2 751 472.4 755 473.7 759 474.9 763 476.2 767 477.4 771 478.6 775 479.8 779 481.1 783 482.3 787 483.5 791 484.7 795 486 799 487.2 803 488.4 807 489.7 811 491 815 492.2 819 493.5 823 494.8 827 496.1 831 497.4 835 498.6 839 499.9 843 501.2 847 502.4 851 503.7 855 504.9 859 506.2 863 507.4 867 508.6 871 509.8 875 510.9 879 512 883 513.1 887 514.2 891 515.3 895 516.3 899 517.3 903 518.2 907 519.1 911 520.1 915 521 919 521.9 923 522.7 927 523.6 931 524.5 935 525.3 939 526.1 943 527 947 527.8 951 528.6 955 529.4 959 530.1 963 530.9 967 531.7 971 532.4 975 533.2 979 533.9 983 534.7 987 535.4 991 536.1 995 536.8 999 537.6 1003 538.3 1007 539 1011 539.7 1015 540.4 1019 541.1 1023 541.8 1027 542.5 1031 543.2 1035 543.9 1039 544.6 1043 545.3 1047 546 1051 546.7 1055 547.4 1059 548.1 1063 548.8 1067 549.5 1071 550.2 1075 550.9 1079 551.6 1083 552.4 1087 553.1 1091 553.8 1095 554.5 1099 555.2 1103 555.9 1107 556.6 1111 557.3 1115 558 1119 558.7 1123 559.3 1127 560 1131 560.7 1135 561.3 1139 562 1143 562.6 1147 563.3 1151 563.9 1155 564.5 1159 565.1 1163 565.7 1167 566.3 1171 566.8 1175 567.4 1179 567.9 1183 568.4 1187 569 1191 569.4 1195 569.9 1199 570.4 1203 570.8 1207 571.3 1211 571.7 1215 572.2 1219 572.6 1223 573 1227 573.4 1231 573.9 1235 574.3 1239 574.7 1243 575.1 1247 575.5 1251 575.9 1255 576.2 1259 576.6 1263 577 1267 577.4 1271 577.7 1275 578.1 1279 578.4 1283 578.8 1287 579.1 1291 579.4 1295 579.8 1299 580.1 1303 580.4 1307 580.7 1311 581 1315 581.3 1319 581.6 1323 581.8 1327 582.1 1331 582.4 1335 582.6 1339 582.9 1343 583.1 1347 583.3 1351 583.6 1355 583.8 1359 584 1363 584.2 1367 584.4 1371 584.6 1375 584.9 1379 585.1 1383 585.3 1387 585.5 1391 585.7 1395 585.9 1399 586.1 1403 586.3 1407 586.5 1411 586.7 1415 586.9 1419 587 1423 587.2 1427 587.4 1431 587.6 1435 587.7 1439 587.9 1443 588 1447 588.2 1451 588.3 1455 588.5 1459 588.6 1463 588.7 1467 588.8 1471 588.9 1475 589 1479 589.1 1483 589.2 1487 589.3 1491 589.4 1495 589.4 1499 589.5 1503 589.5 1507 589.6 1511 589.6 1515 589.7 1519 589.7 1523 589.8 1527 589.8 1531 589.8 1535 589.9 1539 589.9 1543 590 1547 590 1551 590 1555 590.1 1559 590.1 1563 590.1 1567 590.1 1571 590.2 1575 590.2 1579 590.2 1583 590.2 1587 590.3 1591 590.3 1595 590.3 1599 590.3 1603 590.3 1607 590.3 1611 590.3 1611 593.3 1607 593.3 1603 593.3 1599 593.3 1595 593.3 1591 593.3 1587 593.3 1583 593.2 1579 593.2 1575 593.2 1571 593.2 1567 593.1 1563 593.1 1559 593.1 1555 593.1 1551 593 1547 593 1543 593 1539 592.9 1535 592.9 1531 592.8 1527 592.8 1523 592.8 1519 592.7 1515 592.7 1511 592.6 1507 592.6 1503 592.5 1499 592.5 1495 592.4 1491 592.4 1487 592.3 1483 592.2 1479 592.1 1475 592 1471 591.9 1467 591.8 1463 591.7 1459 591.6 1455 591.5 1451 591.3 1447 591.2 1443 591 1439 590.9 1435 590.7 1431 590.6 1427 590.4 1423 590.2 1419 590 1415 589.9 1411 589.7 1407 589.5 1403 589.3 1399 589.1 1395 588.9 1391 588.7 1387 588.5 1383 588.3 1379 588.1 1375 587.9 1371 587.6 1367 587.4 1363 587.2 1359 587 1355 586.8 1351 586.6 1347 586.3 1343 586.1 1339 585.9 1335 585.6 1331 585.4 1327 585.1 1323 584.8 1319 584.6 1315 584.3 1311 584 1307 583.7 1303 583.4 1299 583.1 1295 582.8 1291 582.4 1287 582.1 1283 581.8 1279 581.4 1275 581.1 1271 580.7 1267 580.4 1263 580 1259 579.6 1255 579.2 1251 578.9 1247 578.5 1243 578.1 1239 577.7 1235 577.3 1231 576.9 1227 576.4 1223 576 1219 575.6 1215 575.2 1211 574.7 1207 574.3 1203 573.8 1199 573.4 1195 572.9 1191 572.4 1187 572 1183 571.4 1179 570.9 1175 570.4 1171 569.8 1167 569.3 1163 568.7 1159 568.1 1155 567.5 1151 566.9 1147 566.3 1143 565.6 1139 565 1135 564.3 1131 563.7 1127 563 1123 562.3 1119 561.7 1115 561 1111 560.3 1107 559.6 1103 558.9 1099 558.2 1095 557.5 1091 556.8 1087 556.1 1083 555.4 1079 554.6 1075 553.9 1071 553.2 1067 552.5 1063 551.8 1059 551.1 1055 550.4 1051 549.7 1047 549 1043 548.3 1039 547.6 1035 546.9 1031 546.2 1027 545.5 1023 544.8 1019 544.1 1015 543.4 1011 542.7 1007 542 1003 541.3 999 540.6 995 539.8 991 539.1 987 538.4 983 537.7 979 536.9 975 536.2 971 535.4 967 534.7 963 533.9 959 533.1 955 532.4 951 531.6 947 530.8 943 530 939 529.1 935 528.3 931 527.5 927 526.6 923 525.7 919 524.9 915 524 911 523.1 907 522.1 903 521.2 899 520.3 895 519.3 891 518.3 887 517.2 883 516.1 879 515 875 513.9 871 512.8 867 511.6 863 510.4 859 509.2 855 507.9 851 506.7 847 505.4 843 504.2 839 502.9 835 501.6 831 500.4 827 499.1 823 497.8 819 496.5 815 495.2 811 494 807 492.7 803 491.4 799 490.2 795 489 791 487.7 787 486.5 783 485.3 779 484.1 775 482.8 771 481.6 767 480.4 763 479.2 759 477.9 755 476.7 751 475.4 747 474.2 743 472.9 739 471.6 735 470.4 731 469.1 727 467.8 723 466.4 719 465.1 715 463.7 711 462.4 707 461 703 459.6 699 458.1 695 456.7 691 455.2 687 453.7 683 452.2 679 450.7 675 449.2 671 447.6 667 446 663 444.4 659 442.8 655 441.2 651 439.6 647 437.9 643 436.2 639 434.5 635 432.9 631 431.1 627 429.4 623 427.7 619 425.9 615 424.2 611 422.4 607 420.6 603 418.8 599 417 595 415.2 591 413.4 587 411.6 583 409.7 579 407.8 575 405.9 571 404 567 402.1 563 400.1 559 398.2 555 396.2 551 394.2 547 392.2 543 390.2 539 388.1 535 386.1 531 384 527 381.9 523 379.8 519 377.7 515 375.6 511 373.4 507 371.3 503 369.1 499 367 495 364.8 491 362.6 487 360.3 483 358.1 479 355.9 475 353.6 471 351.3 467 349 463 346.7 459 344.4 455 342 451 339.7 447 337.3 443 334.9 439 332.4 435 330 431 327.5 427 325 423 322.5 419 319.9 415 317.4 411 314.8 407 312.2 403 309.5 399 306.8 395 304.1 391 301.4 387 298.6 383 295.8 379 292.9 375 290.1 371 287.2 367 284.2 363 281.3 359 278.3 355 275.3 351 272.2 347 269.1 343 266 339 262.9 335 259.8 331 256.6 327 253.4 323 250.2 319 247 315 243.8 311 240.5 307 237.3 303 234 299 230.7 295 227.3 291 224 287 220.6 283 217.2 279 213.7 275 210.3 271 206.8 267 203.2 263 199.7 259 196.1 255 192.5 251 188.9 247 185.3 243 181.6 239 177.9 235 174.2 231 170.5 227 166.7 223 163 219 159.2 215 155.4 211 151.6 207 147.7 203 143.9 199 140 195 136.1 191 132.2 187 128.3 183 124.3 179 120.3 175 116.2 171 112.2 167 108.1 163 104 159 99.8 155 95.7 151 91.5 147 87.3 143 83 139 78.8 135 74.5 131 70.2Z" fill="#f00" clip-path="url(#ca)"/>
<path d="M131 94.2 135 98.2 139 102.2 143 106.1 147 110.1 151 114 155 118 159 121.9 163 125.8 167 129.7 171 133.6 175 137.5 179 141.4 183 145.2 187 149.1 191 152.9 195 156.7 199 160.6 203 164.4 207 168.2 211 172 215 175.8 219 179.7 223 183.5 227 187.4 231 191.2 235 195.1 239 198.9 243 202.7 247 206.5 251 210.3 255 214 259 217.8 263 221.4 267 225.1 271 228.7 275 232.3 279 235.8 283 239.3 287 242.7 291 246.1 295 249.4 299 252.7 303 255.9 307 259.1 311 262.2 315 265.3 319 268.3 323 271.3 327 274.3 331 277.3 335 280.2 339 283.1 343 286 347 288.8 351 291.7 355 294.5 359 297.2 363 300 367 302.7 371 305.4 375 308.1 379 310.8 383 313.4 387 316 391 318.7 395 321.3 399 323.9 403 326.4 407 329 411 331.5 415 334 419 336.5 423 339 427 341.4 431 343.8 435 346.3 439 348.6 443 351 447 353.4 451 355.7 455 358.1 459 360.4 463 362.7 467 365 471 367.3 475 369.5 479 371.8 483 374 487 376.3 491 378.5 495 380.7 499 382.9 503 385.2 507 387.4 511 389.6 515 391.7 519 393.9 523 396.1 527 398.3 531 400.4 535 402.6 539 404.7 543 406.8 547 408.9 551 411 555 413.1 559 415.2 563 417.3 567 419.3 571 421.3 575 423.3 579 425.3 583 427.3 587 429.3 591 431.2 595 433.1 599 435 603 436.9 607 438.8 611 440.7 615 442.5 619 444.4 623 446.2 627 448.1 631 449.9 635 451.7 639 453.5 643 455.3 647 457.1 651 458.9 655 460.6 659 462.3 663 464 667 465.7 671 467.3 675 469 679 470.6 683 472.1 687 473.7 691 475.2 695 476.7 699 478.1 703 479.6 707 481 711 482.3 715 483.7 719 485 723 486.3 727 487.6 731 488.9 735 490.1 739 491.3 743 492.6 747 493.8 751 495 755 496.1 759 497.3 763 498.5 767 499.6 771 500.8 775 501.9 779 503.1 783 504.2 787 505.3 791 506.5 795 507.6 799 508.7 803 509.9 807 511 811 512.1 815 513.3 819 514.4 823 515.5 827 516.7 831 517.8 835 518.9 839 520 843 521.1 847 522.2 851 523.3 855 524.4 859 525.4 863 526.5 867 527.5 871 528.6 875 529.6 879 530.6 883 531.5 887 532.5 891 533.5 895 534.4 899 535.3 903 536.2 907 537 911 537.9 915 538.8 919 539.6 923 540.4 927 541.3 931 542.1 935 542.9 939 543.7 943 544.5 947 545.3 951 546.1 955 546.8 959 547.6 963 548.4 967 549.1 971 549.9 975 550.6 979 551.3 983 552.1 987 552.8 991 553.5 995 554.2 999 554.9 1003 555.6 1007 556.3 1011 557 1015 557.7 1019 558.4 1023 559 1027 559.7 1031 560.4 1035 561 1039 561.7 1043 562.4 1047 563 1051 563.7 1055 564.3 1059 565 1063 565.6 1067 566.2 1071 566.9 1075 567.5 1079 568.2 1083 568.8 1087 569.4 1091 570 1095 570.7 1099 571.3 1103 571.9 1107 572.5 1111 573.1 1115 573.7 1119 574.3 1123 574.9 1127 575.5 1131 576.1 1135 576.6 1139 577.2 1143 577.8 1147 578.3 1151 578.9 1155 579.4 1159 580 1163 580.5 1167 581 1171 581.6 1175 582.1 1179 582.6 1183 583.1 1187 583.6 1191 584 1195 584.5 1199 585 1203 585.4 1207 585.9 1211 586.4 1215 586.8 1219 587.3 1223 587.8 1227 588.2 1231 588.7 1235 589.1 1239 589.6 1243 590.1 1247 590.5 1251 591 1255 591.4 1259 591.8 1263 592.3 1267 592.7 1271 593.1 1275 593.5 1279 593.9 1283 594.3 1287 594.7 1291 595.1 1295 595.5 1299 595.9 1303 596.2 1307 596.6 1311 596.9 1315 597.2 1319 597.5 1323 597.8 1327 598.1 1331 598.4 1335 598.7 1339 598.9 1343 599.1 1347 599.3 1351 599.5 1355 599.7 1359 599.9 1363 600.1 1367 600.3 1371 600.5 1375 600.7 1379 600.9 1383 601.1 1387 601.2 1391 601.4 1395 601.6 1399 601.8 1403 601.9 1407 602.1 1411 602.2 1415 602.4 1419 602.5 1423 602.7 1427 602.8 1431 603 1435 603.1 1439 603.2 1443 603.4 1447 603.5 1451 603.6 1455 603.7 1459 603.8 1463 603.9 1467 604 1471 604.1 1475 604.1 1479 604.2 1483 604.3 1487 604.3 1491 604.4 1495 604.4 1499 604.5 1503 604.5 1507 604.6 1511 604.6 1515 604.6 1519 604.7 1523 604.7 1527 604.7 1531 604.8 1535 604.8 1539 604.8 1543 604.8 1547 604.9 1551 604.9 1555 604.9 1559 604.9 1563 605 1567 605 1571 605 1575 605 1579 605 1583 605.1 1587 605.1 1591 605.1 1595 605.1 1599 605.1 1603 605.1 1607 605.1 1611 605.1 1611 608.1 1607 608.1 1603 608.1 1599 608.1 1595 608.1 1591 608.1 1587 608.1 1583 608.1 1579 608 1575 608 1571 608 1567 608 1563 608 1559 607.9 1555 607.9 1551 607.9 1547 607.9 1543 607.8 1539 607.8 1535 607.8 1531 607.8 1527 607.7 1523 607.7 1519 607.7 1515 607.6 1511 607.6 1507 607.6 1503 607.5 1499 607.5 1495 607.4 1491 607.4 1487 607.3 1483 607.3 1479 607.2 1475 607.1 1471 607.1 1467 607 1463 606.9 1459 606.8 1455 606.7 1451 606.6 1447 606.5 1443 606.4 1439 606.2 1435 606.1 1431 606 1427 605.8 1423 605.7 1419 605.5 1415 605.4 1411 605.2 1407 605.1 1403 604.9 1399 604.8 1395 604.6 1391 604.4 1387 604.2 1383 604.1 1379 603.9 1375 603.7 1371 603.5 1367 603.3 1363 603.1 1359 602.9 1355 602.7 1351 602.5 1347 602.3 1343 602.1 1339 601.9 1335 601.7 1331 601.4 1327 601.1 1323 600.8 1319 600.5 1315 600.2 1311 599.9 1307 599.6 1303 599.2 1299 598.9 1295 598.5 1291 598.1 1287 597.7 1283 597.3 1279 596.9 1275 596.5 1271 596.1 1267 595.7 1263 595.3 1259 594.8 1255 594.4 1251 594 1247 593.5 1243 593.1 1239 592.6 1235 592.1 1231 591.7 1227 591.2 1223 590.8 1219 590.3 1215 589.8 1211 589.4 1207 588.9 1203 588.4 1199 588 1195 587.5 1191 587 1187 586.6 1183 586.1 1179 585.6 1175 585.1 1171 584.6 1167 584 1163 583.5 1159 583 1155 582.4 1151 581.9 1147 581.3 1143 580.8 1139 580.2 1135 579.6 1131 579.1 1127 578.5 1123 577.9 1119 577.3 1115 576.7 1111 576.1 1107 575.5 1103 574.9 1099 574.3 1095 573.7 1091 573 1087 572.4 1083 571.8 1079 571.2 1075 570.5 1071 569.9 1067 569.2 1063 568.6 1059 568 1055 567.3 1051 566.7 1047 566 1043 565.4 1039 564.7 1035 564 1031 563.4 1027 562.7 1023 562 1019 561.4 1015 560.7 1011 560 1007 559.3 1003 558.6 999 557.9 995 557.2 991 556.5 987 555.8 983 555.1 979 554.3 975 553.6 971 552.9 967 552.1 963 551.4 959 550.6 955 549.8 951 549.1 947 548.3 943 547.5 939 546.7 935 545.9 931 545.1 927 544.3 923 543.4 919 542.6 915 541.8 911 540.9 907 540 903 539.2 899 538.3 895 537.4 891 536.5 887 535.5 883 534.5 879 533.6 875 532.6 871 531.6 867 530.5 863 529.5 859 528.4 855 527.4 851 526.3 847 525.2 843 524.1 839 523 835 521.9 831 520.8 827 519.7 823 518.5 819 517.4 815 516.3 811 515.1 807 514 803 512.9 799 511.7 795 510.6 791 509.5 787 508.3 783 507.2 779 506.1 775 504.9 771 503.8 767 502.6 763 501.5 759 500.3 755 499.1 751 498 747 496.8 743 495.6 739 494.3 735 493.1 731 491.9 727 490.6 723 489.3 719 488 715 486.7 711 485.3 707 484 703 482.6 699 481.1 695 479.7 691 478.2 687 476.7 683 475.1 679 473.6 675 472 671 470.3 667 468.7 663 467 659 465.3 655 463.6 651 461.9 647 460.1 643 458.3 639 456.5 635 454.7 631 452.9 627 451.1 623 449.2 619 447.4 615 445.5 611 443.7 607 441.8 603 439.9 599 438 595 436.1 591 434.2 587 432.3 583 430.3 579 428.3 575 426.3 571 424.3 567 422.3 563 420.3 559 418.2 555 416.1 551 414 547 411.9 543 409.8 539 407.7 535 405.6 531 403.4 527 401.3 523 399.1 519 396.9 515 394.7 511 392.6 507 390.4 503 388.2 499 385.9 495 383.7 491 381.5 487 379.3 483 377 479 374.8 475 372.5 471 370.3 467 368 463 365.7 459 363.4 455 361.1 451 358.7 447 356.4 443 354 439 351.6 435 349.3 431 346.8 427 344.4 423 342 419 339.5 415 337 411 334.5 407 332 403 329.4 399 326.9 395 324.3 391 321.7 387 319 383 316.4 379 313.8 375 311.1 371 308.4 367 305.7 363 303 359 300.2 355 297.5 351 294.7 347 291.8 343 289 339 286.1 335 283.2 331 280.3 327 277.3 323 274.3 319 271.3 315 268.3 311 265.2 307 262.1 303 258.9 299 255.7 295 252.4 291 249.1 287 245.7 283 242.3 279 238.8 275 235.3 271 231.7 267 228.1 263 224.4 259 220.8 255 217 251 213.3 247 209.5 243 205.7 239 201.9 235 198.1 231 194.2 227 190.4 223 186.5 219 182.7 215 178.8 211 175 207 171.2 203 167.4 199 163.6 195 159.7 191 155.9 187 152.1 183 148.2 179 144.4 175 140.5 171 136.6 167 132.7 163 128.8 159 124.9 155 121 151 117 147 113.1 143 109.1 139 105.2 135 101.2 131 97.2Z" fill="#00f" clip-path="url(#ca)"/>
<path d="M130.8 41h3v3h-3zM143.7 55.8h3v3h-3zM156.8 70.5h3v3h-3zM170.3 85.2h3v3h-3zM184.3 100h3v3h-3zM198.7 114.7h3v3h-3zM213.5 129.2h3v3h-3zM228.2 143.3h3v3h-3zM243 156.9h3v3h-3zM257.7 170.3h3v3h-3zM272.5 183.3h3v3h-3zM287.2 196h3v3h-3zM302 208.4h3v3h-3zM316.7 220.7h3v3h-3zM331.5 232.7h3v3h-3zM346.2 244.5h3v3h-3zM361 256h3v3h-3zM375.7 267.1h3v3h-3zM390.5 277.9h3v3h-3zM405.2 288.2h3v3h-3zM420 298.2h3v3h-3zM434.7 307.9h3v3h-3zM449.5 317.3h3v3h-3zM464.2 326.4h3v3h-3zM479 335.3h3v3h-3zM493.7 343.8h3v3h-3zM508.5 352.1h3v3h-3zM523.2 360.1h3v3h-3zM538 367.9h3v3h-3zM552.7 375.5h3v3h-3zM567.5 382.9h3v3h-3zM582.2 390h3v3h-3zM597 396.8h3v3h-3zM611.7 403.4h3v3h-3zM626.5 409.8h3v3h-3zM641.2 416h3v3h-3zM656 422.1h3v3h-3zM670.7 427.9h3v3h-3zM685.5 433.6h3v3h-3zM700.2 439.1h3v3h-3zM715 444.5h3v3h-3zM729.7 449.7h3v3h-3zM744.5 454.8h3v3h-3zM759.2 459.8h3v3h-3zM774 464.6h3v3h-3zM788.7 469.4h3v3h-3zM803.5 474.1h3v3h-3zM818.2 478.8h3v3h-3zM833 483.4h3v3h-3zM847.7 487.9h3v3h-3zM862.5 492.4h3v3h-3zM877.2 496.7h3v3h-3zM892 500.8h3v3h-3zM906.7 504.7h3v3h-3zM921.5 508.6h3v3h-3zM936.2 512.5h3v3h-3zM951 516.3h3v3h-3zM965.7 520.1h3v3h-3zM980.5 523.7h3v3h-3zM995.2 527.1h3v3h-3zM1010 530.3h3v3h-3zM1024.7 533.3h3v3h-3zM1039.5 536h3v3h-3zM1054.2 538.4h3v3h-3zM1069 540.6h3v3h-3zM1083.7 542.7h3v3h-3zM1098.5 544.6h3v3h-3zM1113.2 546.5h3v3h-3zM1128 548.2h3v3h-3zM1142.7 549.8h3v3h-3zM1157.5 551.4h3v3h-3zM1172.2 552.9h3v3h-3zM1187 554.4h3v3h-3zM1201.7 555.8h3v3h-3zM1216.5 557.2h3v3h-3zM1231.2 558.6h3v3h-3zM1246 560h3v3h-3zM1260.7 561.3h3v3h-3zM1275.5 562.6h3v3h-3zM1290.2 563.7h3v3h-3zM1305 564.9h3v3h-3zM1319.7 565.9h3v3h-3zM1334.5 566.8h3v3h-3zM1349.2 567.5h3v3h-3zM1364 568.2h3v3h-3zM1378.7 568.9h3v3h-3zM1393.5 569.6h3v3h-3zM1408.2 570.2h3v3h-3zM1423 570.8h3v3h-3zM1437.7 571.3h3v3h-3zM1452.5 571.8h3v3h-3zM1467.2 572.2h3v3h-3zM1482 572.5h3v3h-3zM1496.7 572.7h3v3h-3zM1511.5 572.8h3v3h-3zM1526.2 572.9h3v3h-3zM1541 573h3v3h-3zM1555.7 573.1h3v3h-3zM1570.5 573.2h3v3h-3zM1585.2 573.3h3v3h-3zM1600 573.3h3v3h-3z" fill="#000" clip-path="url(#ca)"/>
<path d="M130.8 47h3v3h-3zM143.6 61.8h3v3h-3zM156.8 76.5h3v3h-3zM170.3 91.2h3v3h-3zM184.2 106h3v3h-3zM198.7 120.7h3v3h-3zM213.5 135.2h3v3h-3zM228.2 149.1h3v3h-3zM243 162.7h3v3h-3zM257.7 176h3v3h-3zM272.5 188.9h3v3h-3zM287.2 201.5h3v3h-3zM302 213.9h3v3h-3zM316.7 226.1h3v3h-3zM331.5 238.1h3v3h-3zM346.2 249.8h3v3h-3zM361 261.2h3v3h-3zM375.7 272.2h3v3h-3zM390.5 282.9h3v3h-3zM405.2 293.1h3v3h-3zM420 303.1h3v3h-3zM434.7 312.7h3v3h-3zM449.5 322h3v3h-3zM464.2 331.1h3v3h-3zM479 339.9h3v3h-3zM493.7 348.3h3v3h-3zM508.5 356.5h3v3h-3zM523.2 364.5h3v3h-3zM538 372.2h3v3h-3zM552.7 379.7h3v3h-3zM567.5 387h3v3h-3zM582.2 394h3v3h-3zM597 400.8h3v3h-3zM611.7 407.4h3v3h-3zM626.5 413.7h3v3h-3zM641.2 419.8h3v3h-3zM656 425.8h3v3h-3zM670.7 431.6h3v3h-3zM685.5 437.2h3v3h-3zM700.2 442.6h3v3h-3zM715 447.9h3v3h-3zM729.7 453.1h3v3h-3zM744.5 458.1h3v3h-3zM759.2 463h3v3h-3zM774 467.7h3v3h-3zM788.7 472.4h3v3h-3zM803.5 477.1h3v3h-3zM818.2 481.7h3v3h-3zM833 486.2h3v3h-3zM847.7 490.7h3v3h-3zM862.5 495h3v3h-3zM877.2 499.2h3v3h-3zM892 503.3h3v3h-3zM906.7 507.2h3v3h-3zM921.5 511.1h3v3h-3zM936.2 515h3v3h-3zM951 518.8h3v3h-3zM965.7 522.5h3v3h-3zM980.5 526.1h3v3h-3zM995.2 529.6h3v3h-3zM1010 532.8h3v3h-3zM1024.7 535.8h3v3h-3zM1039.5 538.5h3v3h-3zM1054.2 540.9h3v3h-3zM1069 543.1h3v3h-3zM1083.7 545.1h3v3h-3zM1098.5 546.9h3v3h-3zM1113.2 548.7h3v3h-3zM1128 550.3h3v3h-3zM1142.7 551.9h3v3h-3zM1157.5 553.5h3v3h-3zM1172.2 555.1h3v3h-3zM1187 556.7h3v3h-3zM1201.7 558.4h3v3h-3zM1216.5 560.1h3v3h-3zM1231.2 562h3v3h-3zM1246 563.8h3v3h-3zM1260.7 565.7h3v3h-3zM1275.5 567.5h3v3h-3zM1290.2 569.2h3v3h-3zM1305 570.8h3v3h-3zM1319.7 572.3h3v3h-3zM1334.5 573.5h3v3h-3zM1349.2 574.5h3v3h-3zM1364 575.4h3v3h-3zM1378.7 576.3h3v3h-3zM1393.5 577.1h3v3h-3zM1408.2 577.9h3v3h-3zM1423 578.6h3v3h-3zM1437.7 579.3h3v3h-3zM1452.5 579.9h3v3h-3zM1467.2 580.3h3v3h-3zM1482 580.7h3v3h-3zM1496.7 581h3v3h-3zM1511.5 581.2h3v3h-3zM1526.2 581.3h3v3h-3zM1541 581.5h3v3h-3zM1555.7 581.6h3v3h-3zM1570.5 581.8h3v3h-3zM1585.2 581.8h3v3h-3zM1600 581.9h3v3h-3z" fill="#f00" clip-path="url(#ca)"/>
<path d="M130.9 73h3v3h-3zM144.5 87.8h3v3h-3zM158.4 102.5h3v3h-3zM172.5 117.2h3v3h-3zM187 132h3v3h-3zM201.7 146.7h3v3h-3zM216.5 161.1h3v3h-3zM231.2 175.4h3v3h-3zM246 189.5h3v3h-3zM260.7 203.2h3v3h-3zM275.5 216.6h3v3h-3zM290.2 229.5h3v3h-3zM305 241.9h3v3h-3zM319.7 253.9h3v3h-3zM334.5 265.7h3v3h-3zM349.2 277.1h3v3h-3zM364 288.2h3v3h-3zM378.7 298.8h3v3h-3zM393.5 309.1h3v3h-3zM408.2 318.9h3v3h-3zM423 328.3h3v3h-3zM437.7 337.4h3v3h-3zM452.5 346.2h3v3h-3zM467.2 354.7h3v3h-3zM482 363.2h3v3h-3zM496.7 371.5h3v3h-3zM511.5 379.8h3v3h-3zM526.2 388.1h3v3h-3zM541 396.3h3v3h-3zM555.7 404.3h3v3h-3zM570.5 412h3v3h-3zM585.2 419.3h3v3h-3zM600 426.1h3v3h-3zM614.7 432.6h3v3h-3zM629.5 438.6h3v3h-3zM644.2 444.4h3v3h-3zM659 450h3v3h-3zM673.7 455.5h3v3h-3zM688.5 460.9h3v3h-3zM703.2 466.2h3v3h-3zM718 471.5h3v3h-3zM732.7 476.7h3v3h-3zM747.5 481.8h3v3h-3zM762.2 486.8h3v3h-3zM777 491.7h3v3h-3zM791.7 496.4h3v3h-3zM806.5 500.9h3v3h-3zM821.2 505.4h3v3h-3zM836 509.8h3v3h-3zM850.7 514.1h3v3h-3zM865.5 518.2h3v3h-3zM880.2 522.1h3v3h-3zM895 525.7h3v3h-3zM909.7 529h3v3h-3zM924.5 532.1h3v3h-3zM939.2 535.2h3v3h-3zM954 538h3v3h-3zM968.7 540.8h3v3h-3zM983.5 543.5h3v3h-3zM998.2 546.1h3v3h-3zM1013 548.6h3v3h-3zM1027.7 551.1h3v3h-3zM1042.5 553.5h3v3h-3zM1057.2 555.9h3v3h-3zM1072 558.4h3v3h-3zM1086.7 560.8h3v3h-3zM1101.5 563.2h3v3h-3zM1116.2 565.5h3v3h-3zM1131 567.8h3v3h-3zM1145.7 569.9h3v3h-3zM1160.5 572h3v3h-3zM1175.2 573.9h3v3h-3zM1190 575.6h3v3h-3zM1204.7 577.1h3v3h-3zM1219.5 578.6h3v3h-3zM1234.2 580.1h3v3h-3zM1249 581.4h3v3h-3zM1263.7 582.7h3v3h-3zM1278.5 584h3v3h-3zM1293.2 585.1h3v3h-3zM1308 586.2h3v3h-3zM1322.7 587.1h3v3h-3zM1337.5 587.9h3v3h-3zM1352.2 588.7h3v3h-3zM1367 589.4h3v3h-3zM1381.7 590.1h3v3h-3zM1396.5 590.8h3v3h-3zM1411.2 591.4h3v3h-3zM1426 592h3v3h-3zM1440.7 592.5h3v3h-3zM1455.5 592.9h3v3h-3zM1470.2 593.2h3v3h-3zM1485 593.4h3v3h-3zM1499.7 593.5h3v3h-3zM1514.5 593.5h3v3h-3zM1529.2 593.5h3v3h-3zM1544 593.5h3v3h-3zM1558.7 593.5h3v3h-3zM1573.5 593.5h3v3h-3zM1588.2 593.5h3v3h-3zM1603 593.5h3v3h-3z" fill="#00f" clip-path="url(#ca)"/>
<path d="M131 86.5 135 90.5 139 94.6 143 98.6 147 102.6 151 106.5 155 110.5 159 114.4 159.9 115.3 159.9 118.3 159 117.4 155 113.5 151 109.5 147 105.6 143 101.6 139 97.6 135 93.6 131 89.5ZM171.9 127 174.9 129.9 174.9 132.9 171.9 130ZM187.9 142.3 191 145.1 195 148.9 199 152.6 203 156.3 207 160 211 163.7 215 167.4 216.9 169.2 216.9 172.2 215 170.4 211 166.7 207 163 203 159.3 199 155.6 195 151.9 191 148.1 187.9 145.3ZM228.9 180.3 231 182.2 231.9 183.1 231.9 186.1 231 185.2 228.9 183.3ZM244.9 195 247 196.9 251 200.4 255 204 259 207.5 263 211 267 214.4 271 217.8 273.9 220.2 273.9 223.2 271 220.8 267 217.4 263 214 259 210.5 255 207 251 203.4 247 199.9 244.9 198ZM285.9 229.9 287 230.8 288.9 232.2 288.9 235.2 287 233.8 285.9 232.9ZM301.9 241.9 303 242.6 307 245.5 311 248.3 315 251 319 253.8 323 256.4 327 259.1 330.9 261.7 330.9 264.7 327 262.1 323 259.4 319 256.8 315 254 311 251.3 307 248.5 303 245.6 301.9 244.9ZM342.9 269.4 343 269.4 345.9 271.2 345.9 274.2 343 272.4 342.9 272.4ZM358.9 279.1 359 279.2 363 281.5 367 283.8 371 286.1 375 288.3 379 290.5 383 292.7 387 294.8 387.9 295.3 387.9 298.3 387 297.8 383 295.7 379 293.5 375 291.3 371 289.1 367 286.8 363 284.5 359 282.2 358.9 282.1ZM399.9 301.5 402.9 302.9 402.9 305.9 399.9 304.5ZM415.9 309.3 419 310.7 423 312.6 427 314.4 431 316.3 435 318.1 439 319.9 443 321.6 444.9 322.4 444.9 325.4 443 324.6 439 322.9 435 321.1 431 319.3 427 317.4 423 315.6 419 313.7 415.9 312.3ZM456.9 327.5 459 328.4 459.9 328.7 459.9 331.7 459 331.4 456.9 330.5ZM472.9 333.9 475 334.6 479 336.1 483 337.6 487 339.1 491 340.5 495 341.8 499 343.2 501.9 344.1 501.9 347.1 499 346.2 495 344.8 491 343.5 487 342.1 483 340.6 479 339.1 475 337.6 472.9 336.9ZM513.9 348 515 348.3 516.9 348.9 516.9 351.9 515 351.3 513.9 351ZM529.9 352.9 531 353.2 535 354.4 539 355.6 543 356.7 547 357.9 551 359 555 360.1 558.9 361.1 558.9 364.1 555 363.1 551 362 547 360.9 543 359.7 539 358.6 535 357.4 531 356.2 529.9 355.9ZM570.9 364.1 571 364.1 573.9 364.9 573.9 367.9 571 367.1 570.9 367.1ZM586.9 367.8 587 367.8 591 368.7 595 369.5 599 370.3 603 371.1 607 371.8 611 372.6 615 373.4 615.9 373.5 615.9 376.5 615 376.4 611 375.6 607 374.8 603 374.1 599 373.3 595 372.5 591 371.7 587 370.8 586.9 370.8ZM627.9 375.7 630.9 376.3 630.9 379.3 627.9 378.7ZM643.9 378.5 647 379 651 379.6 655 380.2 659 380.8 663 381.4 667 382 671 382.5 672.9 382.7 672.9 385.7 671 385.5 667 385 663 384.4 659 383.8 655 383.2 651 382.6 647 382 643.9 381.5ZM684.9 384.1 687 384.4 687.9 384.4 687.9 387.4 687 387.4 684.9 387.1ZM700.9 385.6 703 385.7 707 386 711 386.3 715 386.5 719 386.7 723 387 727 387.2 729.9 387.3 729.9 390.3 727 390.2 723 390 719 389.7 715 389.5 711 389.3 707 389 703 388.7 700.9 388.6ZM741.9 387.9 743 388 744.9 388 744.9 391 743 391 741.9 390.9ZM757.9 388.6 759 388.6 763 388.8 767 389 771 389.1 775 389.3 779 389.5 783 389.7 786.9 389.8 786.9 392.8 783 392.7 779 392.5 775 392.3 771 392.1 767 392 763 391.8 759 391.6 757.9 391.6ZM798.9 390.4 799 390.4 801.9 390.6 801.9 393.6 799 393.4 798.9 393.4ZM814.9 391.4 815 391.4 819 391.7 823 392 827 392.3 831 392.6 835 392.9 839 393.2 843 393.5 843.9 393.6 843.9 396.6 843 396.5 839 396.2 835 395.9 831 395.6 827 395.3 823 395 819 394.7 815 394.4 814.9 394.4ZM855.9 394.4 858.9 394.7 858.9 397.7 855.9 397.4ZM871.9 395.5 875 395.6 879 395.8 883 396 887 396.2 891 396.3 895 396.4 899 396.5 900.9 396.5 900.9 399.5 899 399.5 895 399.4 891 399.3 887 399.2 883 399 879 398.8 875 398.6 871.9 398.5ZM912.9 396.7 915 396.7 915.9 396.7 915.9 399.7 915 399.7 912.9 399.7ZM928.9 396.8 931 396.9 935 396.9 939 396.9 943 397 947 397 951 397 955 397.1 957.9 397.1 957.9 400.1 955 400.1 951 400 947 400 943 400 939 399.9 935 399.9 931 399.9 928.9 399.8ZM969.9 397.2 971 397.2 972.9 397.2 972.9 400.2 971 400.2 969.9 400.2ZM985.9 397.3 987 397.3 991 397.3 995 397.4 999 397.4 1003 397.4 1007 397.4 1011 397.4 1014.9 397.4 1014.9 400.4 1011 400.4 1007 400.4 1003 400.4 999 400.4 995 400.4 991 400.3 987 400.3 985.9 400.3ZM1026.9 397.5 1027 397.5 1029.9 397.5 1029.9 400.5 1027 400.5 1026.9 400.5ZM1042.9 397.5 1043 397.5 1047 397.5 1051 397.5 1055 397.5 1059 397.5 1063 397.5 1067 397.5 1071 397.5 1071.9 397.5 1071.9 400.5 1071 400.5 1067 400.5 1063 400.5 1059 400.5 1055 400.5 1051 400.5 1047 400.5 1043 400.5 1042.9 400.5ZM1083.9 397.5 1086.9 397.5 1086.9 400.5 1083.9 400.5ZM1099.9 397.5 1103 397.5 1107 397.5 1111 397.5 1115 397.5 1119 397.5 1123 397.5 1127 397.5 1128.9 397.5 1128.9 400.5 1127 400.5 1123 400.5 1119 400.5 1115 400.5 1111 400.5 1107 400.5 1103 400.5 1099.9 400.5ZM1140.9 397.5 1143 397.5 1143.9 397.5 1143.9 400.5 1143 400.5 1140.9 400.5ZM1156.9 397.5 1159 397.5 1163 397.5 1167 397.5 1171 397.5 1175 397.5 1179 397.5 1183 397.5 1185.9 397.5 1185.9 400.5 1183 400.5 1179 400.5 1175 400.5 1171 400.5 1167 400.5 1163 400.5 1159 400.5 1156.9 400.5ZM1197.9 397.5 1199 397.5 1200.9 397.5 1200.9 400.5 1199 400.5 1197.9 400.5ZM1213.9 397.5 1215 397.5 1219 397.5 1223 397.5 1227 397.5 1231 397.5 1235 397.5 1239 397.5 1242.9 397.5 1242.9 400.5 1239 400.5 1235 400.5 1231 400.5 1227 400.5 1223 400.5 1219 400.5 1215 400.5 1213.9 400.5ZM1254.9 397.5 1255 397.5 1257.9 397.5 1257.9 400.5 1255 400.5 1254.9 400.5ZM1270.9 397.5 1271 397.5 1275 397.5 1279 397.5 1283 397.5 1287 397.5 1291 397.5 1295 397.5 1299 397.5 1299.9 397.5 1299.9 400.5 1299 400.5 1295 400.5 1291 400.5 1287 400.5 1283 400.5 1279 400.5 1275 400.5 1271 400.5 1270.9 400.5ZM1311.9 397.5 1314.9 397.5 1314.9 400.5 1311.9 400.5ZM1327.9 397.5 1331 397.5 1335 397.5 1339 397.5 1343 397.5 1347 397.5 1351 397.5 1355 397.5 1356.9 397.5 1356.9 400.5 1355 400.5 1351 400.5 1347 400.5 1343 400.5 1339 400.5 1335 400.5 1331 400.5 1327.9 400.5ZM1368.9 397.5 1371 397.5 1371.9 397.5 1371.9 400.5 1371 400.5 1368.9 400.5ZM1384.9 397.5 1387 397.5 1391 397.5 1395 397.5 1399 397.5 1403 397.5 1407 397.5 1411 397.5 1413.9 397.5 1413.9 400.5 1411 400.5 1407 400.5 1403 400.5 1399 400.5 1395 400.5 1391 400.5 1387 400.5 1384.9 400.5ZM1425.9 397.5 1427 397.5 1428.9 397.5 1428.9 400.5 1427 400.5 1425.9 400.5ZM1441.9 397.5 1443 397.5 1447 397.5 1451 397.5 1455 397.5 1459 397.5 1463 397.5 1467 397.5 1470.9 397.5 1470.9 400.5 1467 400.5 1463 400.5 1459 400.5 1455 400.5 1451 400.5 1447 400.5 1443 400.5 1441.9 400.5ZM1482.9 397.5 1483 397.5 1485.9 397.5 1485.9 400.5 1483 400.5 1482.9 400.5ZM1498.9 397.5 1499 397.5 1503 397.5 1507 397.5 1511 397.5 1515 397.5 1519 397.5 1523 397.5 1527 397.5 1527.9 397.5 1527.9 400.5 1527 400.5 1523 400.5 1519 400.5 1515 400.5 1511 400.5 1507 400.5 1503 400.5 1499 400.5 1498.9 400.5ZM1539.9 397.5 1542.9 397.5 1542.9 400.5 1539.9 400.5ZM1555.9 397.5 1559 397.5 1563 397.5 1567 397.5 1571 397.5 1575 397.5 1579 397.5 1583 397.5 1584.9 397.5 1584.9 400.5 1583 400.5 1579 400.5 1575 400.5 1571 400.5 1567 400.5 1563 400.5 1559 400.5 1555.9 400.5ZM1596.9 397.5 1599 397.5 1599.9 397.5 1599.9 400.5 1599 400.5 1596.9 400.5Z" fill="#000" clip-path="url(#ca)"/>
<rect x="130.4" y="13.1" width="1481.3" height="623.2" fill="none" stroke="#000" stroke-width="3"/>
<line x1="293.1" y1="636.3" x2="293.1" y2="617.3" stroke="#000" stroke-width="3"/>
<line x1="293.1" y1="13.1" x2="293.1" y2="29.1" stroke="#000" stroke-width="3"/>
<text transform="translate(290.1 682) scale(0.9 1)" font-family="'Liberation Sans', Arial, Helvetica, sans-serif" font-size="41.2" text-anchor="middle">20</text>
<line x1="458.2" y1="636.3" x2="458.2" y2="617.3" stroke="#000" stroke-width="3"/>
<line x1="458.2" y1="13.1" x2="458.2" y2="29.1" stroke="#000" stroke-width="3"/>
<text transform="translate(455.2 682) scale(0.9 1)" font-family="'Liberation Sans', Arial, Helvetica, sans-serif" font-size="41.2" text-anchor="middle">40</text>
<line x1="626.1" y1="636.3" x2="626.1" y2="617.3" stroke="#000" stroke-width="3"/>
<line x1="626.1" y1="13.1" x2="626.1" y2="29.1" stroke="#000" stroke-width="3"/>
<text transform="translate(623.1 682) scale(0.9 1)" font-family="'Liberation Sans', Arial, Helvetica, sans-serif" font-size="41.2" text-anchor="middle">60</text>
<line x1="794.1" y1="636.3" x2="794.1" y2="617.3" stroke="#000" stroke-width="3"/>
<line x1="794.1" y1="13.1" x2="794.1" y2="29.1" stroke="#000" stroke-width="3"/>
<text transform="translate(791.1 682) scale(0.9 1)" font-family="'Liberation Sans', Arial, Helvetica, sans-serif" font-size="41.2" text-anchor="middle">80</text>
<line x1="959.9" y1="636.3" x2="959.9" y2="617.3" stroke="#000" stroke-width="3"/>
<line x1="959.9" y1="13.1" x2="959.9" y2="29.1" stroke="#000" stroke-width="3"/>
<text transform="translate(959.4 682) scale(0.9 1)" font-family="'Liberation Sans', Arial, Helvetica, sans-serif" font-size="41.2" text-anchor="middle">100</text>
<line x1="1127.9" y1="636.3" x2="1127.9" y2="617.3" stroke="#000" stroke-width="3"/>
<line x1="1127.9" y1="13.1" x2="1127.9" y2="29.1" stroke="#000" stroke-width="3"/>
<text transform="translate(1127.4 682) scale(0.9 1)" font-family="'Liberation Sans', Arial, Helvetica, sans-serif" font-size="41.2" text-anchor="middle">120</text>
<line x1="1296.4" y1="636.3" x2="1296.4" y2="617.3" stroke="#000" stroke-width="3"/>
<line x1="1296.4" y1="13.1" x2="1296.4" y2="29.1" stroke="#000" stroke-width="3"/>
<text transform="translate(1295.9 682) scale(0.9 1)" font-family="'Liberation Sans', Arial, Helvetica, sans-serif" font-size="41.2" text-anchor="middle">140</text>
<line x1="1461.3" y1="636.3" x2="1461.3" y2="617.3" stroke="#000" stroke-width="3"/>
<line x1="1461.3" y1="13.1" x2="1461.3" y2="29.1" stroke="#000" stroke-width="3"/>
<text transform="translate(1460.8 682) scale(0.9 1)" font-family="'Liberation Sans', Arial, Helvetica, sans-serif" font-size="41.2" text-anchor="middle">160</text>
<line x1="130.4" y1="618.5" x2="149.4" y2="618.5" stroke="#000" stroke-width="3"/>
<line x1="1611.7" y1="618.5" x2="1595.7" y2="618.5" stroke="#000" stroke-width="3"/>
<text transform="translate(118.7 631.5) scale(0.93 1)" font-family="'Liberation Sans', Arial, Helvetica, sans-serif" font-size="40.6" text-anchor="end">20</text>
<line x1="130.4" y1="509.1" x2="149.4" y2="509.1" stroke="#000" stroke-width="3"/>
<line x1="1611.7" y1="509.1" x2="1595.7" y2="509.1" stroke="#000" stroke-width="3"/>
<text transform="translate(118.7 522.1) scale(0.93 1)" font-family="'Liberation Sans', Arial, Helvetica, sans-serif" font-size="40.6" text-anchor="end">22</text>
<line x1="130.4" y1="396.9" x2="149.4" y2="396.9" stroke="#000" stroke-width="3"/>
<line x1="1611.7" y1="396.9" x2="1595.7" y2="396.9" stroke="#000" stroke-width="3"/>
<text transform="translate(118.7 409.9) scale(0.93 1)" font-family="'Liberation Sans', Arial, Helvetica, sans-serif" font-size="40.6" text-anchor="end">24</text>
<line x1="130.4" y1="287.6" x2="149.4" y2="287.6" stroke="#000" stroke-width="3"/>
<line x1="1611.7" y1="287.6" x2="1595.7" y2="287.6" stroke="#000" stroke-width="3"/>
<text transform="translate(118.7 300.6) scale(0.93 1)" font-family="'Liberation Sans', Arial, Helvetica, sans-serif" font-size="40.6" text-anchor="end">26</text>
<line x1="130.4" y1="178.3" x2="149.4" y2="178.3" stroke="#000" stroke-width="3"/>
<line x1="1611.7" y1="178.3" x2="1595.7" y2="178.3" stroke="#000" stroke-width="3"/>
<text transform="translate(118.7 191.3) scale(0.93 1)" font-family="'Liberation Sans', Arial, Helvetica, sans-serif" font-size="40.6" text-anchor="end">28</text>
<line x1="130.4" y1="65.6" x2="149.4" y2="65.6" stroke="#000" stroke-width="3"/>
<line x1="1611.7" y1="65.6" x2="1595.7" y2="65.6" stroke="#000" stroke-width="3"/>
<text transform="translate(118.7 78.6) scale(0.93 1)" font-family="'Liberation Sans', Arial, Helvetica, sans-serif" font-size="40.6" text-anchor="end">30</text>
<rect x="1263.5" y="60" width="291.9" height="271.7" fill="#fff" stroke="#000" stroke-width="3"/>
<clipPath id="cai"><rect x="1263.5" y="60" width="291.9000000000001" height="271.7"/></clipPath>
<path d="M1274 144 1278 147.1 1282 150.2 1286 153.3 1290.1 156.3 1294.1 159.3 1298.1 162.3 1302.1 165.2 1303.4 166.2 1303.4 169.2 1302.1 168.2 1298.1 165.3 1294.1 162.3 1290.1 159.3 1286 156.3 1282 153.2 1278 150.1 1274 147ZM1315.4 174.8 1318.2 176.7 1322.2 179.6 1326.2 182.4 1330.2 185.3 1334.2 188.2 1338.2 191 1342.2 193.7 1344.8 195.3 1344.8 198.3 1342.2 196.7 1338.2 194 1334.2 191.2 1330.2 188.3 1326.2 185.4 1322.2 182.6 1318.2 179.7 1315.4 177.8ZM1356.8 202.5 1358.3 203.3 1362.3 205.3 1366.3 207.2 1370.3 209.1 1374.4 210.9 1378.4 212.6 1382.4 214.2 1386.2 215.8 1386.2 218.8 1382.4 217.2 1378.4 215.6 1374.4 213.9 1370.3 212.1 1366.3 210.2 1362.3 208.3 1358.3 206.3 1356.8 205.5ZM1398.2 220.2 1398.4 220.3 1402.5 221.6 1406.5 223 1410.5 224.3 1414.5 225.5 1418.5 226.7 1422.5 227.9 1426.5 229 1427.6 229.3 1427.6 232.3 1426.5 232 1422.5 230.9 1418.5 229.7 1414.5 228.5 1410.5 227.3 1406.5 226 1402.5 224.6 1398.4 223.3 1398.2 223.2ZM1439.6 232.4 1442.6 233.1 1446.6 234.1 1450.6 235 1454.6 235.8 1458.7 236.7 1462.7 237.5 1466.7 238.3 1469 238.7 1469 241.7 1466.7 241.3 1462.7 240.5 1458.7 239.7 1454.6 238.8 1450.6 238 1446.6 237.1 1442.6 236.1 1439.6 235.4ZM1481 240.9 1482.7 241.2 1486.8 241.9 1490.8 242.6 1494.8 243.3 1498.8 244 1502.8 244.7 1506.8 245.3 1510.4 245.8 1510.4 248.8 1506.8 248.3 1502.8 247.7 1498.8 247 1494.8 246.3 1490.8 245.6 1486.8 244.9 1482.7 244.2 1481 243.9ZM1522.4 246.7 1522.9 246.7 1526.9 246.8 1530.9 246.9 1534.9 247 1538.9 247.1 1543 247.1 1547 247.2 1551 247.2 1551.8 247.2 1551.8 250.2 1551 250.2 1547 250.2 1543 250.1 1538.9 250.1 1534.9 250 1530.9 249.9 1526.9 249.8 1522.9 249.7 1522.4 249.7Z" fill="#000" clip-path="url(#cai)"/>
<path d="M1288 191.5 1292 194.3 1296.1 197 1300.1 199.6 1304.2 202.2 1308.2 204.8 1312.3 207.2 1316.3 209.6 1317.4 210.2 1317.4 213.2 1316.3 212.6 1312.3 210.2 1308.2 207.8 1304.2 205.2 1300.1 202.6 1296.1 200 1292 197.3 1288 194.5ZM1329.4 217.1 1332.5 218.9 1336.5 221.1 1340.6 223.3 1344.6 225.5 1348.7 227.7 1352.7 229.9 1356.8 232.1 1358.8 233.2 1358.8 236.2 1356.8 235.1 1352.7 232.9 1348.7 230.7 1344.6 228.5 1340.6 226.3 1336.5 224.1 1332.5 221.9 1329.4 220.1ZM1370.8 239.8 1373 241 1377 243.2 1381 245.4 1385.1 247.4 1389.1 249.3 1393.2 251.1 1397.2 252.7 1400.2 253.8 1400.2 256.8 1397.2 255.7 1393.2 254.1 1389.1 252.3 1385.1 250.4 1381 248.4 1377 246.2 1373 244 1370.8 242.8ZM1412.2 257.7 1413.4 258.1 1417.5 259.3 1421.5 260.4 1425.5 261.5 1429.6 262.6 1433.6 263.7 1437.7 264.9 1441.6 266 1441.6 269 1437.7 267.9 1433.6 266.7 1429.6 265.6 1425.5 264.5 1421.5 263.4 1417.5 262.3 1413.4 261.1 1412.2 260.7ZM1453.6 269.6 1453.9 269.7 1457.9 271 1462 272.2 1466 273.3 1470 274.4 1474.1 275.3 1478.1 276 1482.2 276.6 1483 276.6 1483 279.6 1482.2 279.6 1478.1 279 1474.1 278.3 1470 277.4 1466 276.3 1462 275.2 1457.9 274 1453.9 272.7 1453.6 272.6ZM1495 278 1498.4 278.3 1502.4 278.6 1506.5 278.9 1510.5 279.2 1514.5 279.4 1518.6 279.5 1522.6 279.5 1524.4 279.5 1524.4 282.5 1522.6 282.5 1518.6 282.5 1514.5 282.4 1510.5 282.2 1506.5 281.9 1502.4 281.6 1498.4 281.3 1495 281ZM1536.4 279.5 1538.8 279.5 1542.9 279.5 1546.9 279.5 1551 279.5 1555 279.5 1555 282.5 1551 282.5 1546.9 282.5 1542.9 282.5 1538.8 282.5 1536.4 282.5Z" fill="#f00" clip-path="url(#cai)"/>
<path d="M1274 173.5 1278 176.6 1282 179.6 1286 182.6 1290.1 185.5 1294.1 188.4 1298.1 191.2 1302.1 193.9 1303.4 194.8 1303.4 197.8 1302.1 196.9 1298.1 194.2 1294.1 191.4 1290.1 188.5 1286 185.6 1282 182.6 1278 179.6 1274 176.5ZM1315.4 202.5 1318.2 204.2 1322.2 206.6 1326.2 208.9 1330.2 211.2 1334.2 213.4 1338.2 215.5 1342.2 217.7 1344.8 219 1344.8 222 1342.2 220.7 1338.2 218.5 1334.2 216.4 1330.2 214.2 1326.2 211.9 1322.2 209.6 1318.2 207.2 1315.4 205.5ZM1356.8 225.3 1358.3 226 1362.3 228.2 1366.3 230.4 1370.3 232.6 1374.4 234.8 1378.4 237 1382.4 239.1 1386.2 241 1386.2 244 1382.4 242.1 1378.4 240 1374.4 237.8 1370.3 235.6 1366.3 233.4 1362.3 231.2 1358.3 229 1356.8 228.3ZM1398.2 246 1398.4 246.1 1402.5 247.4 1406.5 248.6 1410.5 249.7 1414.5 250.8 1418.5 251.8 1422.5 252.8 1426.5 253.7 1427.6 254 1427.6 257 1426.5 256.7 1422.5 255.8 1418.5 254.8 1414.5 253.8 1410.5 252.7 1406.5 251.6 1402.5 250.4 1398.4 249.1 1398.2 249ZM1439.6 256.7 1442.6 257.4 1446.6 258.3 1450.6 259.3 1454.6 260.3 1458.7 261.3 1462.7 262.2 1466.7 263.1 1469 263.6 1469 266.6 1466.7 266.1 1462.7 265.2 1458.7 264.3 1454.6 263.3 1450.6 262.3 1446.6 261.3 1442.6 260.4 1439.6 259.7ZM1481 265.4 1482.7 265.6 1486.8 266 1490.8 266.4 1494.8 266.7 1498.8 267.1 1502.8 267.4 1506.8 267.6 1510.4 267.8 1510.4 270.8 1506.8 270.6 1502.8 270.4 1498.8 270.1 1494.8 269.7 1490.8 269.4 1486.8 269 1482.7 268.6 1481 268.4ZM1522.4 268.1 1522.9 268.1 1526.9 268.1 1530.9 268.1 1534.9 268.1 1538.9 268.1 1543 268.1 1547 268.1 1551 268.1 1551.8 268.1 1551.8 271.1 1551 271.1 1547 271.1 1543 271.1 1538.9 271.1 1534.9 271.1 1530.9 271.1 1526.9 271.1 1522.9 271.1 1522.4 271.1Z" fill="#00f" clip-path="url(#cai)"/>
<path d="M1265.5 217.7 1269.5 220.4 1273.5 223.1 1277.6 225.7 1281.6 228.4 1285.6 231 1289.6 233.6 1293.6 236.1 1297.7 238.7 1301.7 241.2 1305.7 243.8 1309.7 246.4 1313.8 249 1317.8 251.6 1321.8 254.2 1325.8 256.7 1329.8 259.1 1333.9 261.5 1337.9 263.7 1341.9 265.8 1345.9 267.8 1349.9 269.6 1354 271.4 1358 273.1 1362 274.8 1366 276.4 1370 278 1374.1 279.5 1378.1 280.9 1382.1 282.3 1386.1 283.6 1390.1 284.9 1394.2 286.1 1398.2 287.2 1402.2 288.3 1406.2 289.3 1410.2 290.2 1414.3 291.1 1418.3 292 1422.3 292.9 1426.3 293.7 1430.4 294.6 1434.4 295.5 1438.4 296.5 1442.4 297.6 1446.4 298.7 1450.5 299.8 1454.5 300.8 1458.5 301.7 1462.5 302.6 1466.5 303.2 1470.6 303.6 1474.6 303.7 1478.6 303.7 1482.6 303.7 1486.6 303.7 1490.7 303.7 1494.7 303.7 1498.7 303.7 1502.7 303.7 1506.8 303.7 1510.8 303.7 1514.8 303.6 1518.8 303.6 1522.8 303.6 1526.9 303.6 1530.9 303.5 1534.9 303.5 1538.9 303.4 1542.9 303.4 1547 303.3 1551 303.3 1555 303.2 1555 306.2 1551 306.3 1547 306.3 1542.9 306.4 1538.9 306.4 1534.9 306.5 1530.9 306.5 1526.9 306.6 1522.8 306.6 1518.8 306.6 1514.8 306.6 1510.8 306.7 1506.8 306.7 1502.7 306.7 1498.7 306.7 1494.7 306.7 1490.7 306.7 1486.6 306.7 1482.6 306.7 1478.6 306.7 1474.6 306.7 1470.6 306.6 1466.5 306.2 1462.5 305.6 1458.5 304.7 1454.5 303.8 1450.5 302.8 1446.4 301.7 1442.4 300.6 1438.4 299.5 1434.4 298.5 1430.4 297.6 1426.3 296.7 1422.3 295.9 1418.3 295 1414.3 294.1 1410.2 293.2 1406.2 292.3 1402.2 291.3 1398.2 290.2 1394.2 289.1 1390.1 287.9 1386.1 286.6 1382.1 285.3 1378.1 283.9 1374.1 282.5 1370 281 1366 279.4 1362 277.8 1358 276.1 1354 274.4 1349.9 272.6 1345.9 270.8 1341.9 268.8 1337.9 266.7 1333.9 264.5 1329.8 262.1 1325.8 259.7 1321.8 257.2 1317.8 254.6 1313.8 252 1309.7 249.4 1305.7 246.8 1301.7 244.2 1297.7 241.7 1293.6 239.1 1289.6 236.6 1285.6 234 1281.6 231.4 1277.6 228.7 1273.5 226.1 1269.5 223.4 1265.5 220.7Z" fill="#000" clip-path="url(#cai)"/>
<path d="M1265.5 149.4 1269.5 152.6 1273.5 155.7 1277.6 158.9 1281.6 161.9 1285.6 165 1289.6 167.9 1293.6 170.8 1297.7 173.7 1301.7 176.5 1305.7 179.3 1309.7 182.1 1313.8 184.8 1317.8 187.5 1321.8 190.2 1325.8 192.8 1329.8 195.3 1333.9 197.8 1337.9 200.3 1341.9 202.7 1345.9 205 1349.9 207.3 1354 209.5 1358 211.7 1362 213.9 1366 216 1370 218.1 1374.1 220.1 1378.1 222.1 1382.1 224 1386.1 225.8 1390.1 227.6 1394.2 229.4 1398.2 231 1402.2 232.7 1406.2 234.3 1410.2 235.9 1414.3 237.4 1418.3 238.9 1422.3 240.3 1426.3 241.7 1430.4 243.1 1434.4 244.3 1438.4 245.5 1442.4 246.6 1446.4 247.6 1450.5 248.6 1454.5 249.7 1458.5 250.7 1462.5 251.7 1466.5 252.7 1470.6 253.5 1474.6 254.3 1478.6 254.9 1482.6 255.4 1486.6 255.7 1490.7 255.8 1494.7 255.9 1498.7 256 1502.7 256.1 1506.8 256.1 1510.8 256.2 1514.8 256.2 1518.8 256.3 1522.8 256.3 1526.9 256.4 1530.9 256.4 1534.9 256.4 1538.9 256.5 1542.9 256.5 1547 256.5 1551 256.5 1555 256.5 1555 259.5 1551 259.5 1547 259.5 1542.9 259.5 1538.9 259.5 1534.9 259.4 1530.9 259.4 1526.9 259.4 1522.8 259.3 1518.8 259.3 1514.8 259.2 1510.8 259.2 1506.8 259.1 1502.7 259.1 1498.7 259 1494.7 258.9 1490.7 258.8 1486.6 258.7 1482.6 258.4 1478.6 257.9 1474.6 257.3 1470.6 256.5 1466.5 255.7 1462.5 254.7 1458.5 253.7 1454.5 252.7 1450.5 251.6 1446.4 250.6 1442.4 249.6 1438.4 248.5 1434.4 247.3 1430.4 246.1 1426.3 244.7 1422.3 243.3 1418.3 241.9 1414.3 240.4 1410.2 238.9 1406.2 237.3 1402.2 235.7 1398.2 234 1394.2 232.4 1390.1 230.6 1386.1 228.8 1382.1 227 1378.1 225.1 1374.1 223.1 1370 221.1 1366 219 1362 216.9 1358 214.7 1354 212.5 1349.9 210.3 1345.9 208 1341.9 205.7 1337.9 203.3 1333.9 200.8 1329.8 198.3 1325.8 195.8 1321.8 193.2 1317.8 190.5 1313.8 187.8 1309.7 185.1 1305.7 182.3 1301.7 179.5 1297.7 176.7 1293.6 173.8 1289.6 170.9 1285.6 168 1281.6 164.9 1277.6 161.9 1273.5 158.7 1269.5 155.6 1265.5 152.4Z" fill="#f00" clip-path="url(#cai)"/>
<path d="M1265.5 200 1269.5 203 1273.5 205.9 1277.6 208.8 1281.6 211.7 1285.6 214.5 1289.6 217.3 1293.6 220.1 1297.7 222.8 1301.7 225.4 1305.7 228.1 1309.7 230.6 1313.8 233.2 1317.8 235.7 1321.8 238.2 1325.8 240.7 1329.8 243.2 1333.9 245.6 1337.9 248.1 1341.9 250.5 1345.9 252.9 1349.9 255.3 1354 257.8 1358 260.3 1362 262.8 1366 265.4 1370 267.8 1374.1 270.3 1378.1 272.6 1382.1 274.9 1386.1 277 1390.1 279 1394.2 280.8 1398.2 282.5 1402.2 284.1 1406.2 285.6 1410.2 287 1414.3 288.4 1418.3 289.7 1422.3 291 1426.3 292.2 1430.4 293.4 1434.4 294.6 1438.4 295.7 1442.4 296.8 1446.4 298 1450.5 299.1 1454.5 300.2 1458.5 301.3 1462.5 302.4 1466.5 303.4 1470.6 304.2 1474.6 304.9 1478.6 305.6 1482.6 306.3 1486.6 306.9 1490.7 307.4 1494.7 307.9 1498.7 308.2 1502.7 308.5 1506.8 308.6 1510.8 308.7 1514.8 308.8 1518.8 308.9 1522.8 309 1526.9 309 1530.9 309.1 1534.9 309.2 1538.9 309.2 1542.9 309.3 1547 309.3 1551 309.3 1555 309.3 1555 312.3 1551 312.3 1547 312.3 1542.9 312.3 1538.9 312.2 1534.9 312.2 1530.9 312.1 1526.9 312 1522.8 312 1518.8 311.9 1514.8 311.8 1510.8 311.7 1506.8 311.6 1502.7 311.5 1498.7 311.2 1494.7 310.9 1490.7 310.4 1486.6 309.9 1482.6 309.3 1478.6 308.6 1474.6 307.9 1470.6 307.2 1466.5 306.4 1462.5 305.4 1458.5 304.3 1454.5 303.2 1450.5 302.1 1446.4 301 1442.4 299.8 1438.4 298.7 1434.4 297.6 1430.4 296.4 1426.3 295.2 1422.3 294 1418.3 292.7 1414.3 291.4 1410.2 290 1406.2 288.6 1402.2 287.1 1398.2 285.5 1394.2 283.8 1390.1 282 1386.1 280 1382.1 277.9 1378.1 275.6 1374.1 273.3 1370 270.8 1366 268.4 1362 265.8 1358 263.3 1354 260.8 1349.9 258.3 1345.9 255.9 1341.9 253.5 1337.9 251.1 1333.9 248.6 1329.8 246.2 1325.8 243.7 1321.8 241.2 1317.8 238.7 1313.8 236.2 1309.7 233.6 1305.7 231.1 1301.7 228.4 1297.7 225.8 1293.6 223.1 1289.6 220.3 1285.6 217.5 1281.6 214.7 1277.6 211.8 1273.5 208.9 1269.5 206 1265.5 203Z" fill="#00f" clip-path="url(#cai)"/>
<path d="M1277.8 128h3v3h-3zM1292.5 139.1h3v3h-3zM1307.3 149.7h3v3h-3zM1322 159.7h3v3h-3zM1336.8 169.5h3v3h-3zM1351.5 178.6h3v3h-3zM1366.3 186.5h3v3h-3zM1381 193.1h3v3h-3zM1395.8 199h3v3h-3zM1410.5 204h3v3h-3zM1425.3 208.3h3v3h-3zM1440 212.1h3v3h-3zM1454.8 215.6h3v3h-3zM1469.5 219h3v3h-3zM1484.3 222h3v3h-3zM1499 223.9h3v3h-3zM1513.8 225.2h3v3h-3zM1528.5 226.2h3v3h-3zM1543.3 226.9h3v3h-3z" fill="#000" clip-path="url(#cai)"/>
<path d="M1277.8 184.2h3v3h-3zM1292.5 195.2h3v3h-3zM1307.3 204.5h3v3h-3zM1322 212.1h3v3h-3zM1336.8 218.7h3v3h-3zM1351.5 225.3h3v3h-3zM1366.3 232.8h3v3h-3zM1381 240.6h3v3h-3zM1395.8 247.1h3v3h-3zM1410.5 252.3h3v3h-3zM1425.3 256.6h3v3h-3zM1440 259.8h3v3h-3zM1454.8 262.1h3v3h-3zM1469.5 263.9h3v3h-3zM1484.3 264.6h3v3h-3zM1499 264.9h3v3h-3zM1513.8 265.2h3v3h-3zM1528.5 265.4h3v3h-3zM1543.3 265.5h3v3h-3z" fill="#f00" clip-path="url(#cai)"/>
<path d="M1277.8 107.2h3v3h-3zM1292.5 119.3h3v3h-3zM1307.3 130.3h3v3h-3zM1322 140h3v3h-3zM1336.8 148.6h3v3h-3zM1351.5 156.2h3v3h-3zM1366.3 163.1h3v3h-3zM1381 169.4h3v3h-3zM1395.8 175.1h3v3h-3zM1410.5 180.1h3v3h-3zM1425.3 184.8h3v3h-3zM1440 189h3v3h-3zM1454.8 192.2h3v3h-3zM1469.5 194.8h3v3h-3zM1484.3 196.8h3v3h-3zM1499 197.5h3v3h-3zM1513.8 197.5h3v3h-3zM1528.5 197.5h3v3h-3zM1543.3 197.5h3v3h-3z" fill="#00f" clip-path="url(#cai)"/>
<rect x="1263.5" y="60" width="291.9" height="271.7" fill="none" stroke="#000" stroke-width="3"/>
<line x1="1269.2" y1="331.7" x2="1269.2" y2="327.2" stroke="#000" stroke-width="3"/>
<line x1="1369.6" y1="331.7" x2="1369.6" y2="327.2" stroke="#000" stroke-width="3"/>
<line x1="1467" y1="331.7" x2="1467" y2="327.2" stroke="#000" stroke-width="3"/>
<line x1="1555.4" y1="155" x2="1550.6" y2="155" stroke="#000" stroke-width="3"/>
<line x1="1555.4" y1="252" x2="1550.6" y2="252" stroke="#000" stroke-width="3"/>
<text transform="translate(1269.2 374) scale(1.0 1)" font-family="'Liberation Sans', Arial, Helvetica, sans-serif" font-size="36" text-anchor="middle">120</text>
<text transform="translate(1369.3 374) scale(1.0 1)" font-family="'Liberation Sans', Arial, Helvetica, sans-serif" font-size="36" text-anchor="middle">140</text>
<text transform="translate(1467.3 374) scale(1.0 1)" font-family="'Liberation Sans', Arial, Helvetica, sans-serif" font-size="36" text-anchor="middle">160</text>
<text transform="translate(1249.5 70.2) scale(1.0 1)" font-family="'Liberation Sans', Arial, Helvetica, sans-serif" font-size="36" text-anchor="end">21.5</text>
<text transform="translate(1249.5 167.1) scale(1.0 1)" font-family="'Liberation Sans', Arial, Helvetica, sans-serif" font-size="36" text-anchor="end">21</text>
<text transform="translate(1249.5 264) scale(1.0 1)" font-family="'Liberation Sans', Arial, Helvetica, sans-serif" font-size="36" text-anchor="end">20.5</text>
<rect x="1611.7" y="13.1" width="301.3" height="623.2" fill="none" stroke="#181818" stroke-width="3"/>
<path d="M1645.7 47.1 1675.1 47.1 1675.1 50.1 1645.7 50.1ZM1687.1 47.1 1716.5 47.1 1716.5 50.1 1687.1 50.1ZM1728.5 47.1 1755.1 47.1 1755.1 50.1 1728.5 50.1Z" fill="#000"/>
<text transform="translate(1765.8 67.3) scale(1.55 1)" font-family="'DejaVu Sans', sans-serif" font-size="34" text-anchor="start" font-weight="200">α</text>
<text transform="translate(1806.9 68.1) scale(0.95 1)" font-family="'Liberation Sans', Arial, Helvetica, sans-serif" font-size="42" text-anchor="start">=</text>
<text transform="translate(1841.9 68.1) scale(0.875 1)" font-family="'Liberation Sans', Arial, Helvetica, sans-serif" font-size="42.3" text-anchor="start">0.1</text>
<path d="M1645.7 109.1 1675.1 109.1 1675.1 112.1 1645.7 112.1ZM1687.1 109.1 1716.5 109.1 1716.5 112.1 1687.1 112.1ZM1728.5 109.1 1755.1 109.1 1755.1 112.1 1728.5 112.1Z" fill="#f00"/>
<text transform="translate(1765.8 129.3) scale(1.55 1)" font-family="'DejaVu Sans', sans-serif" font-size="34" text-anchor="start" font-weight="200">α</text>
<text transform="translate(1806.9 130.1) scale(0.95 1)" font-family="'Liberation Sans', Arial, Helvetica, sans-serif" font-size="42" text-anchor="start">=</text>
<text transform="translate(1841.9 130.1) scale(0.875 1)" font-family="'Liberation Sans', Arial, Helvetica, sans-serif" font-size="42.3" text-anchor="start">0.2</text>
<path d="M1645.7 167.9 1675.1 167.9 1675.1 170.9 1645.7 170.9ZM1687.1 167.9 1716.5 167.9 1716.5 170.9 1687.1 170.9ZM1728.5 167.9 1755.1 167.9 1755.1 170.9 1728.5 170.9Z" fill="#00f"/>
<text transform="translate(1765.8 188.1) scale(1.55 1)" font-family="'DejaVu Sans', sans-serif" font-size="34" text-anchor="start" font-weight="200">α</text>
<text transform="translate(1806.9 188.9) scale(0.95 1)" font-family="'Liberation Sans', Arial, Helvetica, sans-serif" font-size="42" text-anchor="start">=</text>
<text transform="translate(1841.9 188.9) scale(0.875 1)" font-family="'Liberation Sans', Arial, Helvetica, sans-serif" font-size="42.3" text-anchor="start">0.3</text>
<path d="M1633.7 229.9 1755.1 229.9 1755.1 232.9 1633.7 232.9Z" fill="#000"/>
<text transform="translate(1765.8 250.1) scale(1.55 1)" font-family="'DejaVu Sans', sans-serif" font-size="34" text-anchor="start" font-weight="200">α</text>
<text transform="translate(1806.9 250.9) scale(0.95 1)" font-family="'Liberation Sans', Arial, Helvetica, sans-serif" font-size="42" text-anchor="start">=</text>
<text transform="translate(1841.9 250.9) scale(0.875 1)" font-family="'Liberation Sans', Arial, Helvetica, sans-serif" font-size="42.3" text-anchor="start">0.4</text>
<path d="M1633.7 292.2 1755.1 292.2 1755.1 295.2 1633.7 295.2Z" fill="#f00"/>
<text transform="translate(1765.8 312.4) scale(1.55 1)" font-family="'DejaVu Sans', sans-serif" font-size="34" text-anchor="start" font-weight="200">α</text>
<text transform="translate(1806.9 313.2) scale(0.95 1)" font-family="'Liberation Sans', Arial, Helvetica, sans-serif" font-size="42" text-anchor="start">=</text>
<text transform="translate(1841.9 313.2) scale(0.875 1)" font-family="'Liberation Sans', Arial, Helvetica, sans-serif" font-size="42.3" text-anchor="start">0.5</text>
<path d="M1633.7 351.4 1755.1 351.4 1755.1 354.4 1633.7 354.4Z" fill="#00f"/>
<text transform="translate(1765.8 371.6) scale(1.55 1)" font-family="'DejaVu Sans', sans-serif" font-size="34" text-anchor="start" font-weight="200">α</text>
<text transform="translate(1806.9 372.4) scale(0.95 1)" font-family="'Liberation Sans', Arial, Helvetica, sans-serif" font-size="42" text-anchor="start">=</text>
<text transform="translate(1841.9 372.4) scale(0.875 1)" font-family="'Liberation Sans', Arial, Helvetica, sans-serif" font-size="42.3" text-anchor="start">0.6</text>
<path d="M1633.7 413.4h3v3h-3zM1648.5 413.4h3v3h-3zM1663.2 413.4h3v3h-3zM1678 413.4h3v3h-3zM1692.7 413.4h3v3h-3zM1707.5 413.4h3v3h-3zM1722.2 413.4h3v3h-3zM1737 413.4h3v3h-3zM1751.7 413.4h3v3h-3z" fill="#000"/>
<text transform="translate(1765.8 433.6) scale(1.55 1)" font-family="'DejaVu Sans', sans-serif" font-size="34" text-anchor="start" font-weight="200">α</text>
<text transform="translate(1806.9 434.4) scale(0.95 1)" font-family="'Liberation Sans', Arial, Helvetica, sans-serif" font-size="42" text-anchor="start">=</text>
<text transform="translate(1841.9 434.4) scale(0.875 1)" font-family="'Liberation Sans', Arial, Helvetica, sans-serif" font-size="42.3" text-anchor="start">0.7</text>
<path d="M1633.7 475.1h3v3h-3zM1648.5 475.1h3v3h-3zM1663.2 475.1h3v3h-3zM1678 475.1h3v3h-3zM1692.7 475.1h3v3h-3zM1707.5 475.1h3v3h-3zM1722.2 475.1h3v3h-3zM1737 475.1h3v3h-3zM1751.7 475.1h3v3h-3z" fill="#f00"/>
<text transform="translate(1765.8 495.3) scale(1.55 1)" font-family="'DejaVu Sans', sans-serif" font-size="34" text-anchor="start" font-weight="200">α</text>
<text transform="translate(1806.9 496.1) scale(0.95 1)" font-family="'Liberation Sans', Arial, Helvetica, sans-serif" font-size="42" text-anchor="start">=</text>
<text transform="translate(1841.9 496.1) scale(0.875 1)" font-family="'Liberation Sans', Arial, Helvetica, sans-serif" font-size="42.3" text-anchor="start">0.8</text>
<path d="M1633.7 534.5h3v3h-3zM1648.5 534.5h3v3h-3zM1663.2 534.5h3v3h-3zM1678 534.5h3v3h-3zM1692.7 534.5h3v3h-3zM1707.5 534.5h3v3h-3zM1722.2 534.5h3v3h-3zM1737 534.5h3v3h-3zM1751.7 534.5h3v3h-3z" fill="#00f"/>
<text transform="translate(1765.8 554.7) scale(1.55 1)" font-family="'DejaVu Sans', sans-serif" font-size="34" text-anchor="start" font-weight="200">α</text>
<text transform="translate(1806.9 555.5) scale(0.95 1)" font-family="'Liberation Sans', Arial, Helvetica, sans-serif" font-size="42" text-anchor="start">=</text>
<text transform="translate(1841.9 555.5) scale(0.875 1)" font-family="'Liberation Sans', Arial, Helvetica, sans-serif" font-size="42.3" text-anchor="start">0.9</text>
<path d="M1633.7 596.2 1662.7 596.2 1662.7 599.2 1633.7 599.2ZM1674.7 596.2 1677.7 596.2 1677.7 599.2 1674.7 599.2ZM1690.7 596.2 1719.7 596.2 1719.7 599.2 1690.7 599.2ZM1731.7 596.2 1734.7 596.2 1734.7 599.2 1731.7 599.2ZM1747.7 596.2 1755.1 596.2 1755.1 599.2 1747.7 599.2Z" fill="#000"/>
<text transform="translate(1765.8 616.4) scale(1.55 1)" font-family="'DejaVu Sans', sans-serif" font-size="34" text-anchor="start" font-weight="200">α</text>
<text transform="translate(1806.9 617.2) scale(0.95 1)" font-family="'Liberation Sans', Arial, Helvetica, sans-serif" font-size="42" text-anchor="start">=</text>
<text transform="translate(1841.9 617.2) scale(0.875 1)" font-family="'Liberation Sans', Arial, Helvetica, sans-serif" font-size="42.3" text-anchor="start">1.0</text>
<text transform="translate(52.6 350) rotate(-90)" font-family="'Liberation Serif', 'Times New Roman', serif" font-size="46.3" text-anchor="middle">Line Losses</text>
<text x="1018" y="735.3" font-family="'Liberation Serif', 'Times New Roman', serif" font-size="46.5" text-anchor="middle">Iterations</text>
<text x="10" y="736" font-family="'Liberation Sans', Arial, Helvetica, sans-serif" font-size="40">(a)</text>
<clipPath id="cb"><rect x="129.4" y="789.8" width="1482.3" height="613.8"/></clipPath>
<path d="M134.5 844.5 138.5 846.6 142.5 848.7 146.5 850.8 150.5 852.9 154.5 855.1 158.5 857.2 162.5 859.3 163.9 860 163.9 863 162.5 862.3 158.5 860.2 154.5 858.1 150.5 855.9 146.5 853.8 142.5 851.7 138.5 849.6 134.5 847.5ZM175.9 866.3 178.5 867.7 182.5 869.8 186.5 872 190.5 874.1 194.5 876.2 198.5 878.3 202.5 880.4 205.3 881.9 205.3 884.9 202.5 883.4 198.5 881.3 194.5 879.2 190.5 877.1 186.5 875 182.5 872.8 178.5 870.7 175.9 869.3ZM217.3 888.2 218.5 888.8 222.5 891 226.5 893.1 230.6 895.2 234.6 897.3 238.6 899.4 242.6 901.5 246.6 903.6 246.7 903.7 246.7 906.7 246.6 906.6 242.6 904.5 238.6 902.4 234.6 900.3 230.6 898.2 226.5 896.1 222.5 894 218.5 891.8 217.3 891.2ZM258.7 910 262.6 912.1 266.6 914.2 270.6 916.3 274.6 918.4 278.6 920.5 282.6 922.6 286.6 924.7 288.1 925.5 288.1 928.5 286.6 927.7 282.6 925.6 278.6 923.5 274.6 921.4 270.6 919.3 266.6 917.2 262.6 915.1 258.7 913ZM300.1 931.9 302.6 933.2 306.6 935.3 310.6 937.4 314.6 939.5 318.6 941.6 322.6 943.8 326.6 945.9 329.5 947.4 329.5 950.4 326.6 948.9 322.6 946.8 318.6 944.6 314.6 942.5 310.6 940.4 306.6 938.3 302.6 936.2 300.1 934.9ZM341.5 953.7 342.6 954.3 346.6 956.4 350.6 958.5 354.6 960.6 358.6 962.8 362.6 964.9 366.6 967 369.5 968.5 370.6 969.1 370.9 969.2 370.9 972.2 370.6 972.1 369.5 971.5 366.6 970 362.6 967.9 358.6 965.8 354.6 963.6 350.6 961.5 346.6 959.4 342.6 957.3 341.5 956.7ZM382.9 975.6 386.6 977.6 390.6 979.7 394.6 981.9 398.6 984 402.6 986.1 406.6 988.3 410.6 990.4 412.3 991.3 412.3 994.3 410.6 993.4 406.6 991.3 402.6 989.1 398.6 987 394.6 984.9 390.6 982.7 386.6 980.6 382.9 978.6ZM424.3 997.7 426.7 998.9 430.7 1001 434.7 1003.2 438.7 1005.3 442.7 1007.4 446.7 1009.6 450.7 1011.7 453.7 1013.3 453.7 1016.3 450.7 1014.7 446.7 1012.6 442.7 1010.4 438.7 1008.3 434.7 1006.2 430.7 1004 426.7 1001.9 424.3 1000.7ZM465.7 1019.7 466.7 1020.2 470.7 1022.3 474.7 1024.5 478.7 1026.6 482.7 1028.7 486.7 1030.9 490.7 1033 494.7 1035.1 495.1 1035.3 495.1 1038.3 494.7 1038.1 490.7 1036 486.7 1033.9 482.7 1031.7 478.7 1029.6 474.7 1027.5 470.7 1025.3 466.7 1023.2 465.7 1022.7ZM507.1 1041.7 510.7 1043.6 514.7 1045.8 518.7 1047.9 522.7 1050 526.7 1052.2 530.7 1054.3 534.7 1056.4 536.5 1057.4 536.5 1060.4 534.7 1059.4 530.7 1057.3 526.7 1055.2 522.7 1053 518.7 1050.9 514.7 1048.8 510.7 1046.6 507.1 1044.7ZM548.5 1063.7 550.7 1064.9 554.7 1067.1 558.7 1069.2 562.7 1071.3 566.7 1073.5 570.7 1075.6 574.7 1077.7 577.9 1079.4 577.9 1082.4 574.7 1080.7 570.7 1078.6 566.7 1076.5 562.7 1074.3 558.7 1072.2 554.7 1070.1 550.7 1067.9 548.5 1066.7ZM589.9 1085.8 590.7 1086.2 594.7 1088.4 598.8 1090.5 600.6 1091.5 602.8 1092.5 606.8 1094.3 610.8 1096.1 614.8 1097.9 618.8 1099.8 619.3 1100 619.3 1103 618.8 1102.8 614.8 1100.9 610.8 1099.1 606.8 1097.3 602.8 1095.5 600.6 1094.5 598.8 1093.5 594.7 1091.4 590.7 1089.2 589.9 1088.8ZM631.3 1105.5 634.8 1107.1 638.8 1108.9 642.8 1110.7 646.8 1112.6 650.8 1114.4 654.8 1116.2 658.8 1118 660.7 1118.9 660.7 1121.9 658.8 1121 654.8 1119.2 650.8 1117.4 646.8 1115.6 642.8 1113.7 638.8 1111.9 634.8 1110.1 631.3 1108.5ZM672.7 1124.4 674.8 1125.3 678.8 1127.2 682.8 1129 686.8 1130.8 690.8 1132.6 694.8 1134.5 698.8 1136.3 702.1 1137.8 702.1 1140.8 698.8 1139.3 694.8 1137.5 690.8 1135.6 686.8 1133.8 682.8 1132 678.8 1130.2 674.8 1128.3 672.7 1127.4ZM714.1 1143.3 714.8 1143.6 718.8 1145.4 722.8 1147.3 726.8 1149.1 730.8 1150.9 734.8 1152.7 738.8 1154.6 742.8 1156.4 743.5 1156.7 743.5 1159.7 742.8 1159.4 738.8 1157.6 734.8 1155.7 730.8 1153.9 726.8 1152.1 722.8 1150.3 718.8 1148.4 714.8 1146.6 714.1 1146.3ZM755.5 1162.2 758.8 1163.7 762.8 1165.5 766.8 1167.3 770.8 1169.2 774.8 1171 778.8 1172.8 782.9 1174.7 784.9 1175.6 784.9 1178.6 782.9 1177.7 778.8 1175.8 774.8 1174 770.8 1172.2 766.8 1170.3 762.8 1168.5 758.8 1166.7 755.5 1165.2ZM796.9 1181.1 798.9 1182 802.9 1183.8 806.9 1185.6 810.9 1187.4 814.9 1189.3 818.9 1191.1 822.9 1192.9 826.3 1194.5 826.3 1197.5 822.9 1195.9 818.9 1194.1 814.9 1192.3 810.9 1190.4 806.9 1188.6 802.9 1186.8 798.9 1185 796.9 1184.1ZM838.3 1199.9 838.9 1200.1 842.9 1201.8 846.9 1203.5 850.9 1205.2 854.9 1206.9 858.9 1208.6 862.9 1210.3 866.9 1212 867.7 1212.4 867.7 1215.4 866.9 1215 862.9 1213.3 858.9 1211.6 854.9 1209.9 850.9 1208.2 846.9 1206.5 842.9 1204.8 838.9 1203.1 838.3 1202.9ZM879.7 1217.5 882.9 1218.9 886.9 1220.6 890.9 1222.3 894.9 1224 898.9 1225.7 902.9 1227.4 906.9 1229.1 909.1 1230 909.1 1233 906.9 1232.1 902.9 1230.4 898.9 1228.7 894.9 1227 890.9 1225.3 886.9 1223.6 882.9 1221.9 879.7 1220.5ZM921.1 1235.1 922.9 1235.9 926.9 1237.6 930.9 1239.3 934.9 1241 938.9 1242.7 942.9 1244.4 946.9 1246.2 950.5 1247.7 950.5 1250.7 946.9 1249.2 942.9 1247.4 938.9 1245.7 934.9 1244 930.9 1242.3 926.9 1240.6 922.9 1238.9 921.1 1238.1ZM962.5 1252.8 962.9 1253 967 1254.7 971 1256.4 975 1258.1 979 1259.8 983 1261.5 987 1263.2 991 1264.9 991.9 1265.3 991.9 1268.3 991 1267.9 987 1266.2 983 1264.5 979 1262.8 975 1261.1 971 1259.4 967 1257.7 962.9 1256 962.5 1255.8ZM1003.9 1270.4 1007 1271.7 1011 1273.4 1015 1275.1 1019 1276.8 1023 1278.5 1027 1280.3 1031 1282 1033.3 1282.9 1033.3 1285.9 1031 1285 1027 1283.3 1023 1281.5 1019 1279.8 1015 1278.1 1011 1276.4 1007 1274.7 1003.9 1273.4ZM1045.3 1288.1 1047 1288.8 1051 1290.5 1055 1292.2 1059 1293.9 1063 1295.6 1066 1296.9 1067 1297.1 1071 1297.8 1074.7 1298.5 1074.7 1301.5 1071 1300.8 1067 1300.1 1066 1299.9 1063 1298.6 1059 1296.9 1055 1295.2 1051 1293.5 1047 1291.8 1045.3 1291.1ZM1086.7 1300.6 1087 1300.7 1091 1301.4 1095 1302.1 1099 1302.8 1103 1303.5 1107 1304.3 1111 1305 1115 1305.7 1116.1 1305.9 1116.1 1308.9 1115 1308.7 1111 1308 1107 1307.3 1103 1306.5 1099 1305.8 1095 1305.1 1091 1304.4 1087 1303.7 1086.7 1303.6ZM1128.1 1308 1131 1308.6 1135 1309.3 1139 1310 1143 1310.7 1147 1311.4 1151.1 1312.2 1155.1 1312.9 1157.5 1313.3 1157.5 1316.3 1155.1 1315.9 1151.1 1315.2 1147 1314.4 1143 1313.7 1139 1313 1135 1312.3 1131 1311.6 1128.1 1311ZM1169.5 1315.5 1171.1 1315.8 1175.1 1316.5 1179.1 1317.2 1183.1 1317.9 1187.1 1318.6 1191.1 1319.4 1195.1 1320.1 1198.9 1320.8 1198.9 1323.8 1195.1 1323.1 1191.1 1322.4 1187.1 1321.6 1183.1 1320.9 1179.1 1320.2 1175.1 1319.5 1171.1 1318.8 1169.5 1318.5ZM1210.9 1322.9 1211.1 1322.9 1215.1 1323.7 1219.1 1324.4 1223.1 1325.1 1227.1 1325.8 1231.1 1326.5 1235.1 1327.3 1239.1 1328 1240.3 1328.2 1240.3 1331.2 1239.1 1331 1235.1 1330.3 1231.1 1329.5 1227.1 1328.8 1223.1 1328.1 1219.1 1327.4 1215.1 1326.7 1211.1 1325.9 1210.9 1325.9ZM1252.3 1330.3 1255.1 1330.8 1259.1 1331.6 1263.1 1332.3 1267.1 1333 1271.1 1333.7 1275.1 1334.4 1279.1 1335.2 1281.7 1335.6 1281.7 1338.6 1279.1 1338.2 1275.1 1337.4 1271.1 1336.7 1267.1 1336 1263.1 1335.3 1259.1 1334.6 1255.1 1333.8 1252.3 1333.3ZM1293.7 1337.8 1295.1 1338 1299.1 1338.8 1300.5 1339 1303.1 1339 1307.1 1339 1311.1 1339 1315.1 1339 1319.1 1339.1 1323.1 1339.1 1323.1 1342.1 1319.1 1342.1 1315.1 1342 1311.1 1342 1307.1 1342 1303.1 1342 1300.5 1342 1299.1 1341.8 1295.1 1341 1293.7 1340.8ZM1335.1 1339.1 1335.2 1339.1 1339.2 1339.1 1343.2 1339.1 1347.2 1339.1 1351.2 1339.1 1355.2 1339.2 1359.2 1339.2 1363.2 1339.2 1364.5 1339.2 1364.5 1342.2 1363.2 1342.2 1359.2 1342.2 1355.2 1342.2 1351.2 1342.1 1347.2 1342.1 1343.2 1342.1 1339.2 1342.1 1335.2 1342.1 1335.1 1342.1ZM1376.5 1339.2 1379.2 1339.2 1383.2 1339.2 1387.2 1339.3 1391.2 1339.3 1395.2 1339.3 1399.2 1339.3 1403.2 1339.3 1405.9 1339.3 1405.9 1342.3 1403.2 1342.3 1399.2 1342.3 1395.2 1342.3 1391.2 1342.3 1387.2 1342.3 1383.2 1342.2 1379.2 1342.2 1376.5 1342.2ZM1417.9 1339.3 1419.2 1339.3 1423.2 1339.4 1427.2 1339.4 1431.2 1339.4 1435.2 1339.4 1439.2 1339.4 1443.2 1339.4 1447.2 1339.4 1447.3 1339.4 1447.3 1342.4 1447.2 1342.4 1443.2 1342.4 1439.2 1342.4 1435.2 1342.4 1431.2 1342.4 1427.2 1342.4 1423.2 1342.4 1419.2 1342.3 1417.9 1342.3ZM1459.3 1339.5 1463.2 1339.5 1467.2 1339.5 1471.2 1339.5 1475.2 1339.5 1479.2 1339.5 1483.2 1339.5 1487.2 1339.5 1488.7 1339.5 1488.7 1342.5 1487.2 1342.5 1483.2 1342.5 1479.2 1342.5 1475.2 1342.5 1471.2 1342.5 1467.2 1342.5 1463.2 1342.5 1459.3 1342.5ZM1500.7 1339.6 1503.2 1339.6 1507.2 1339.6 1511.2 1339.6 1515.2 1339.6 1519.3 1339.6 1523.3 1339.6 1527.3 1339.7 1530.1 1339.7 1530.1 1342.7 1527.3 1342.7 1523.3 1342.6 1519.3 1342.6 1515.2 1342.6 1511.2 1342.6 1507.2 1342.6 1503.2 1342.6 1500.7 1342.6ZM1542.1 1339.7 1543.3 1339.7 1547.3 1339.7 1551.3 1339.7 1555.3 1339.7 1559.3 1339.7 1563.3 1339.8 1567.3 1339.8 1571.3 1339.8 1571.5 1339.8 1571.5 1342.8 1571.3 1342.8 1567.3 1342.8 1563.3 1342.8 1559.3 1342.7 1555.3 1342.7 1551.3 1342.7 1547.3 1342.7 1543.3 1342.7 1542.1 1342.7ZM1583.5 1339.8 1587.3 1339.8 1591.3 1339.8 1595.3 1339.9 1599.3 1339.9 1603.3 1339.9 1607.3 1339.9 1611.3 1339.9 1611.3 1342.9 1607.3 1342.9 1603.3 1342.9 1599.3 1342.9 1595.3 1342.9 1591.3 1342.8 1587.3 1342.8 1583.5 1342.8Z" fill="#000" clip-path="url(#cb)"/>
<path d="M134.5 817.5 138.5 819.7 142.5 821.9 146.5 824.1 150.5 826.4 154.5 828.6 158.5 830.8 162.5 833 163.9 833.8 163.9 836.8 162.5 836 158.5 833.8 154.5 831.6 150.5 829.4 146.5 827.1 142.5 824.9 138.5 822.7 134.5 820.5ZM175.9 840.4 178.5 841.9 182.5 844.1 186.5 846.3 190.5 848.5 194.5 850.7 198.5 852.9 202.5 855.1 205.3 856.7 205.3 859.7 202.5 858.1 198.5 855.9 194.5 853.7 190.5 851.5 186.5 849.3 182.5 847.1 178.5 844.9 175.9 843.4ZM217.3 863.3 218.5 864 222.5 866.2 226.5 868.4 230.6 870.6 234.6 872.8 238.6 875.1 242.6 877.3 246.6 879.5 246.7 879.6 246.7 882.6 246.6 882.5 242.6 880.3 238.6 878.1 234.6 875.8 230.6 873.6 226.5 871.4 222.5 869.2 218.5 867 217.3 866.3ZM258.7 886.2 262.6 888.3 266.6 890.6 270.6 892.8 274.6 895 278.6 897.2 282.6 899.4 286.6 901.6 288.1 902.5 288.1 905.5 286.6 904.6 282.6 902.4 278.6 900.2 274.6 898 270.6 895.8 266.6 893.6 262.6 891.3 258.7 889.2ZM300.1 909.1 302.6 910.5 306.6 912.7 310.6 914.9 314.6 917.1 318.6 919.3 322.6 921.6 326.6 923.8 329.5 925.4 329.5 928.4 326.6 926.8 322.6 924.6 318.6 922.3 314.6 920.1 310.6 917.9 306.6 915.7 302.6 913.5 300.1 912.1ZM341.5 932 342.6 932.6 346.6 934.8 350.6 937.1 354.6 939.3 358.6 941.5 362.6 943.7 366.6 945.9 369.5 947.5 370.6 948.1 370.9 948.3 370.9 951.3 370.6 951.1 369.5 950.5 366.6 948.9 362.6 946.7 358.6 944.5 354.6 942.3 350.6 940.1 346.6 937.8 342.6 935.6 341.5 935ZM382.9 955 386.6 957.1 390.6 959.3 394.6 961.5 398.6 963.8 402.6 966 406.6 968.2 410.6 970.5 412.3 971.4 412.3 974.4 410.6 973.5 406.6 971.2 402.6 969 398.6 966.8 394.6 964.5 390.6 962.3 386.6 960.1 382.9 958ZM424.3 978.1 426.7 979.4 430.7 981.6 434.7 983.9 438.7 986.1 442.7 988.3 446.7 990.6 450.7 992.8 453.7 994.5 453.7 997.5 450.7 995.8 446.7 993.6 442.7 991.3 438.7 989.1 434.7 986.9 430.7 984.6 426.7 982.4 424.3 981.1ZM465.7 1001.2 466.7 1001.7 470.7 1004 474.7 1006.2 478.7 1008.4 482.7 1010.7 486.7 1012.9 490.7 1015.1 494.7 1017.4 495.1 1017.6 495.1 1020.6 494.7 1020.4 490.7 1018.1 486.7 1015.9 482.7 1013.7 478.7 1011.4 474.7 1009.2 470.7 1007 466.7 1004.7 465.7 1004.2ZM507.1 1024.3 510.7 1026.3 514.7 1028.5 518.7 1030.8 522.7 1033 526.7 1035.2 530.7 1037.5 534.7 1039.7 536.5 1040.7 536.5 1043.7 534.7 1042.7 530.7 1040.5 526.7 1038.2 522.7 1036 518.7 1033.8 514.7 1031.5 510.7 1029.3 507.1 1027.3ZM548.5 1047.4 550.7 1048.6 554.7 1050.9 558.7 1053.1 562.7 1055.3 566.7 1057.6 570.7 1059.8 574.7 1062 577.9 1063.8 577.9 1066.8 574.7 1065 570.7 1062.8 566.7 1060.6 562.7 1058.3 558.7 1056.1 554.7 1053.9 550.7 1051.6 548.5 1050.4ZM589.9 1070.5 590.7 1071 594.7 1073.2 598.8 1075.4 600.6 1076.5 602.8 1077.6 606.8 1079.6 610.8 1081.6 614.8 1083.7 618.8 1085.7 619.3 1086 619.3 1089 618.8 1088.7 614.8 1086.7 610.8 1084.6 606.8 1082.6 602.8 1080.6 600.6 1079.5 598.8 1078.4 594.7 1076.2 590.7 1074 589.9 1073.5ZM631.3 1092.1 634.8 1093.8 638.8 1095.9 642.8 1097.9 646.8 1099.9 650.8 1101.9 654.8 1104 658.8 1106 660.7 1107 660.7 1110 658.8 1109 654.8 1107 650.8 1104.9 646.8 1102.9 642.8 1100.9 638.8 1098.9 634.8 1096.8 631.3 1095.1ZM672.7 1113.1 674.8 1114.1 678.8 1116.2 682.8 1118.2 686.8 1120.2 690.8 1122.3 694.8 1124.3 698.8 1126.3 702.1 1128 702.1 1131 698.8 1129.3 694.8 1127.3 690.8 1125.3 686.8 1123.2 682.8 1121.2 678.8 1119.2 674.8 1117.1 672.7 1116.1ZM714.1 1134.1 714.8 1134.4 718.8 1136.5 722.8 1138.5 726.8 1140.5 730.8 1142.6 734.8 1144.6 738.8 1146.6 742.8 1148.7 743.5 1149 743.5 1152 742.8 1151.7 738.8 1149.6 734.8 1147.6 730.8 1145.6 726.8 1143.5 722.8 1141.5 718.8 1139.5 714.8 1137.4 714.1 1137.1ZM755.5 1155.1 758.8 1156.8 762.8 1158.8 766.8 1160.9 770.8 1162.9 774.8 1164.9 778.8 1166.9 782.9 1169 784.9 1170 784.9 1173 782.9 1172 778.8 1169.9 774.8 1167.9 770.8 1165.9 766.8 1163.9 762.8 1161.8 758.8 1159.8 755.5 1158.1ZM796.9 1176.1 798.9 1177.1 802.9 1179.1 806.9 1181.2 810.9 1183.2 814.9 1185.2 818.9 1187.3 822.9 1189.3 826.3 1191 826.3 1194 822.9 1192.3 818.9 1190.3 814.9 1188.2 810.9 1186.2 806.9 1184.2 802.9 1182.1 798.9 1180.1 796.9 1179.1ZM838.3 1196.7 838.9 1196.9 842.9 1198.4 846.9 1199.9 850.9 1201.4 854.9 1203 858.9 1204.5 862.9 1206 866.9 1207.5 867.7 1207.8 867.7 1210.8 866.9 1210.5 862.9 1209 858.9 1207.5 854.9 1206 850.9 1204.4 846.9 1202.9 842.9 1201.4 838.9 1199.9 838.3 1199.7ZM879.7 1212.3 882.9 1213.5 886.9 1215 890.9 1216.5 894.9 1218 898.9 1219.5 902.9 1221 906.9 1222.6 909.1 1223.4 909.1 1226.4 906.9 1225.6 902.9 1224 898.9 1222.5 894.9 1221 890.9 1219.5 886.9 1218 882.9 1216.5 879.7 1215.3ZM921.1 1227.9 922.9 1228.6 926.9 1230.1 930.9 1231.6 934.9 1233.1 938.9 1234.6 942.9 1236.1 946.9 1237.6 950.5 1239 950.5 1242 946.9 1240.6 942.9 1239.1 938.9 1237.6 934.9 1236.1 930.9 1234.6 926.9 1233.1 922.9 1231.6 921.1 1230.9ZM962.5 1243.5 962.9 1243.7 967 1245.2 971 1246.7 975 1248.2 979 1249.7 983 1251.2 987 1252.7 991 1254.2 991.9 1254.6 991.9 1257.6 991 1257.2 987 1255.7 983 1254.2 979 1252.7 975 1251.2 971 1249.7 967 1248.2 962.9 1246.7 962.5 1246.5ZM1003.9 1259.1 1007 1260.2 1011 1261.8 1015 1263.3 1019 1264.8 1023 1266.3 1027 1267.8 1031 1269.3 1033.3 1270.2 1033.3 1273.2 1031 1272.3 1027 1270.8 1023 1269.3 1019 1267.8 1015 1266.3 1011 1264.8 1007 1263.2 1003.9 1262.1ZM1045.3 1274.7 1047 1275.3 1051 1276.8 1055 1278.3 1059 1279.8 1063 1281.4 1066 1282.5 1067 1282.6 1071 1283.2 1074.7 1283.8 1074.7 1286.8 1071 1286.2 1067 1285.6 1066 1285.5 1063 1284.4 1059 1282.8 1055 1281.3 1051 1279.8 1047 1278.3 1045.3 1277.7ZM1086.7 1285.5 1087 1285.5 1091 1286.1 1095 1286.7 1099 1287.3 1103 1287.9 1107 1288.4 1111 1289 1115 1289.6 1116.1 1289.8 1116.1 1292.8 1115 1292.6 1111 1292 1107 1291.4 1103 1290.9 1099 1290.3 1095 1289.7 1091 1289.1 1087 1288.5 1086.7 1288.5ZM1128.1 1291.5 1131 1291.9 1135 1292.5 1139 1293.1 1143 1293.7 1147 1294.2 1151.1 1294.8 1155.1 1295.4 1157.5 1295.8 1157.5 1298.8 1155.1 1298.4 1151.1 1297.8 1147 1297.2 1143 1296.7 1139 1296.1 1135 1295.5 1131 1294.9 1128.1 1294.5ZM1169.5 1297.5 1171.1 1297.7 1175.1 1298.3 1179.1 1298.9 1183.1 1299.5 1187.1 1300.1 1191.1 1300.6 1195.1 1301.2 1198.9 1301.8 1198.9 1304.8 1195.1 1304.2 1191.1 1303.6 1187.1 1303.1 1183.1 1302.5 1179.1 1301.9 1175.1 1301.3 1171.1 1300.7 1169.5 1300.5ZM1210.9 1303.5 1211.1 1303.5 1215.1 1304.1 1219.1 1304.7 1223.1 1305.3 1227.1 1305.9 1231.1 1306.4 1235.1 1307 1239.1 1307.6 1240.3 1307.8 1240.3 1310.8 1239.1 1310.6 1235.1 1310 1231.1 1309.4 1227.1 1308.9 1223.1 1308.3 1219.1 1307.7 1215.1 1307.1 1211.1 1306.5 1210.9 1306.5ZM1252.3 1309.5 1255.1 1309.9 1259.1 1310.5 1263.1 1311.1 1267.1 1311.7 1271.1 1312.2 1275.1 1312.8 1279.1 1313.4 1281.7 1313.8 1281.7 1316.8 1279.1 1316.4 1275.1 1315.8 1271.1 1315.2 1267.1 1314.7 1263.1 1314.1 1259.1 1313.5 1255.1 1312.9 1252.3 1312.5ZM1293.7 1315.5 1295.1 1315.7 1299.1 1316.3 1300.5 1316.5 1303.1 1316.5 1307.1 1316.5 1311.1 1316.4 1315.1 1316.4 1319.1 1316.4 1323.1 1316.4 1323.1 1319.4 1319.1 1319.4 1315.1 1319.4 1311.1 1319.4 1307.1 1319.5 1303.1 1319.5 1300.5 1319.5 1299.1 1319.3 1295.1 1318.7 1293.7 1318.5ZM1335.1 1316.3 1335.2 1316.3 1339.2 1316.3 1343.2 1316.3 1347.2 1316.3 1351.2 1316.2 1355.2 1316.2 1359.2 1316.2 1363.2 1316.2 1364.5 1316.2 1364.5 1319.2 1363.2 1319.2 1359.2 1319.2 1355.2 1319.2 1351.2 1319.2 1347.2 1319.3 1343.2 1319.3 1339.2 1319.3 1335.2 1319.3 1335.1 1319.3ZM1376.5 1316.1 1379.2 1316.1 1383.2 1316.1 1387.2 1316.1 1391.2 1316 1395.2 1316 1399.2 1316 1403.2 1316 1405.9 1316 1405.9 1319 1403.2 1319 1399.2 1319 1395.2 1319 1391.2 1319 1387.2 1319.1 1383.2 1319.1 1379.2 1319.1 1376.5 1319.1ZM1417.9 1315.9 1419.2 1315.9 1423.2 1315.9 1427.2 1315.8 1431.2 1315.8 1435.2 1315.8 1439.2 1315.8 1443.2 1315.8 1447.2 1315.7 1447.3 1315.7 1447.3 1318.7 1447.2 1318.7 1443.2 1318.8 1439.2 1318.8 1435.2 1318.8 1431.2 1318.8 1427.2 1318.8 1423.2 1318.9 1419.2 1318.9 1417.9 1318.9ZM1459.3 1315.7 1463.2 1315.7 1467.2 1315.6 1471.2 1315.6 1475.2 1315.6 1479.2 1315.6 1483.2 1315.6 1487.2 1315.5 1488.7 1315.5 1488.7 1318.5 1487.2 1318.5 1483.2 1318.6 1479.2 1318.6 1475.2 1318.6 1471.2 1318.6 1467.2 1318.6 1463.2 1318.7 1459.3 1318.7ZM1500.7 1315.5 1503.2 1315.5 1507.2 1315.4 1511.2 1315.4 1515.2 1315.4 1519.3 1315.4 1523.3 1315.4 1527.3 1315.3 1530.1 1315.3 1530.1 1318.3 1527.3 1318.3 1523.3 1318.4 1519.3 1318.4 1515.2 1318.4 1511.2 1318.4 1507.2 1318.4 1503.2 1318.5 1500.7 1318.5ZM1542.1 1315.3 1543.3 1315.3 1547.3 1315.2 1551.3 1315.2 1555.3 1315.2 1559.3 1315.2 1563.3 1315.1 1567.3 1315.1 1571.3 1315.1 1571.5 1315.1 1571.5 1318.1 1571.3 1318.1 1567.3 1318.1 1563.3 1318.1 1559.3 1318.2 1555.3 1318.2 1551.3 1318.2 1547.3 1318.2 1543.3 1318.3 1542.1 1318.3ZM1583.5 1315 1587.3 1315 1591.3 1315 1595.3 1315 1599.3 1315 1603.3 1314.9 1607.3 1314.9 1611.3 1314.9 1611.3 1317.9 1607.3 1317.9 1603.3 1317.9 1599.3 1318 1595.3 1318 1591.3 1318 1587.3 1318 1583.5 1318Z" fill="#f00" clip-path="url(#cb)"/>
<path d="M134.5 836.5 138.5 838.6 142.5 840.7 146.5 842.8 150.5 844.9 154.5 847.1 158.5 849.2 162.5 851.3 163.9 852 163.9 855 162.5 854.3 158.5 852.2 154.5 850.1 150.5 847.9 146.5 845.8 142.5 843.7 138.5 841.6 134.5 839.5ZM175.9 858.3 178.5 859.7 182.5 861.8 186.5 864 190.5 866.1 194.5 868.2 198.5 870.3 202.5 872.4 205.3 873.9 205.3 876.9 202.5 875.4 198.5 873.3 194.5 871.2 190.5 869.1 186.5 867 182.5 864.8 178.5 862.7 175.9 861.3ZM217.3 880.2 218.5 880.8 222.5 883 226.5 885.1 230.6 887.2 234.6 889.3 238.6 891.4 242.6 893.5 246.6 895.6 246.7 895.7 246.7 898.7 246.6 898.6 242.6 896.5 238.6 894.4 234.6 892.3 230.6 890.2 226.5 888.1 222.5 886 218.5 883.8 217.3 883.2ZM258.7 902 262.6 904.1 266.6 906.2 270.6 908.3 274.6 910.4 278.6 912.5 282.6 914.6 286.6 916.7 288.1 917.5 288.1 920.5 286.6 919.7 282.6 917.6 278.6 915.5 274.6 913.4 270.6 911.3 266.6 909.2 262.6 907.1 258.7 905ZM300.1 923.9 302.6 925.2 306.6 927.3 310.6 929.4 314.6 931.5 318.6 933.6 322.6 935.8 326.6 937.9 329.5 939.4 329.5 942.4 326.6 940.9 322.6 938.8 318.6 936.6 314.6 934.5 310.6 932.4 306.6 930.3 302.6 928.2 300.1 926.9ZM341.5 945.7 342.6 946.3 346.6 948.4 350.6 950.5 354.6 952.6 358.6 954.8 362.6 956.9 366.6 959 369.5 960.5 370.6 961.1 370.9 961.2 370.9 964.2 370.6 964.1 369.5 963.5 366.6 962 362.6 959.9 358.6 957.8 354.6 955.6 350.6 953.5 346.6 951.4 342.6 949.3 341.5 948.7ZM382.9 967.5 386.6 969.4 390.6 971.5 394.6 973.6 398.6 975.6 402.6 977.7 406.6 979.8 410.6 981.9 412.3 982.7 412.3 985.7 410.6 984.9 406.6 982.8 402.6 980.7 398.6 978.6 394.6 976.6 390.6 974.5 386.6 972.4 382.9 970.5ZM424.3 988.9 426.7 990.2 430.7 992.3 434.7 994.3 438.7 996.4 442.7 998.5 446.7 1000.6 450.7 1002.6 453.7 1004.2 453.7 1007.2 450.7 1005.6 446.7 1003.6 442.7 1001.5 438.7 999.4 434.7 997.3 430.7 995.3 426.7 993.2 424.3 991.9ZM465.7 1010.4 466.7 1011 470.7 1013 474.7 1015.1 478.7 1017.2 482.7 1019.3 486.7 1021.3 490.7 1023.4 494.7 1025.5 495.1 1025.7 495.1 1028.7 494.7 1028.5 490.7 1026.4 486.7 1024.3 482.7 1022.3 478.7 1020.2 474.7 1018.1 470.7 1016 466.7 1014 465.7 1013.4ZM507.1 1031.9 510.7 1033.8 514.7 1035.9 518.7 1038 522.7 1040 526.7 1042.1 530.7 1044.2 534.7 1046.3 536.5 1047.2 536.5 1050.2 534.7 1049.3 530.7 1047.2 526.7 1045.1 522.7 1043 518.7 1041 514.7 1038.9 510.7 1036.8 507.1 1034.9ZM548.5 1053.4 550.7 1054.6 554.7 1056.7 558.7 1058.7 562.7 1060.8 566.7 1062.9 570.7 1065 574.7 1067 577.9 1068.7 577.9 1071.7 574.7 1070 570.7 1068 566.7 1065.9 562.7 1063.8 558.7 1061.7 554.7 1059.7 550.7 1057.6 548.5 1056.4ZM589.9 1074.9 590.7 1075.4 594.7 1077.4 598.8 1079.5 600.6 1080.5 602.8 1081.5 606.8 1083.5 610.8 1085.5 614.8 1087.5 618.8 1089.5 619.3 1089.7 619.3 1092.7 618.8 1092.5 614.8 1090.5 610.8 1088.5 606.8 1086.5 602.8 1084.5 600.6 1083.5 598.8 1082.5 594.7 1080.4 590.7 1078.4 589.9 1077.9ZM631.3 1095.7 634.8 1097.4 638.8 1099.4 642.8 1101.3 646.8 1103.3 650.8 1105.3 654.8 1107.3 658.8 1109.3 660.7 1110.2 660.7 1113.2 658.8 1112.3 654.8 1110.3 650.8 1108.3 646.8 1106.3 642.8 1104.3 638.8 1102.4 634.8 1100.4 631.3 1098.7ZM672.7 1116.1 674.8 1117.2 678.8 1119.2 682.8 1121.1 686.8 1123.1 690.8 1125.1 694.8 1127.1 698.8 1129.1 702.1 1130.7 702.1 1133.7 698.8 1132.1 694.8 1130.1 690.8 1128.1 686.8 1126.1 682.8 1124.1 678.8 1122.2 674.8 1120.2 672.7 1119.1ZM714.1 1136.6 714.8 1137 718.8 1139 722.8 1140.9 726.8 1142.9 730.8 1144.9 734.8 1146.9 738.8 1148.9 742.8 1150.8 743.5 1151.2 743.5 1154.2 742.8 1153.8 738.8 1151.9 734.8 1149.9 730.8 1147.9 726.8 1145.9 722.8 1143.9 718.8 1142 714.8 1140 714.1 1139.6ZM755.5 1157.1 758.8 1158.8 762.8 1160.7 766.8 1162.7 770.8 1164.7 774.8 1166.7 778.8 1168.7 782.9 1170.6 784.9 1171.7 784.9 1174.7 782.9 1173.6 778.8 1171.7 774.8 1169.7 770.8 1167.7 766.8 1165.7 762.8 1163.7 758.8 1161.8 755.5 1160.1ZM796.9 1177.6 798.9 1178.6 802.9 1180.5 806.9 1182.5 810.9 1184.5 814.9 1186.5 818.9 1188.5 822.9 1190.5 826.3 1192.1 826.3 1195.1 822.9 1193.5 818.9 1191.5 814.9 1189.5 810.9 1187.5 806.9 1185.5 802.9 1183.5 798.9 1181.6 796.9 1180.6ZM838.3 1197.7 838.9 1197.9 842.9 1199.4 846.9 1200.9 850.9 1202.4 854.9 1203.9 858.9 1205.4 862.9 1206.9 866.9 1208.3 867.7 1208.6 867.7 1211.6 866.9 1211.3 862.9 1209.9 858.9 1208.4 854.9 1206.9 850.9 1205.4 846.9 1203.9 842.9 1202.4 838.9 1200.9 838.3 1200.7ZM879.7 1213.1 882.9 1214.3 886.9 1215.8 890.9 1217.3 894.9 1218.8 898.9 1220.3 902.9 1221.8 906.9 1223.2 909.1 1224.1 909.1 1227.1 906.9 1226.2 902.9 1224.8 898.9 1223.3 894.9 1221.8 890.9 1220.3 886.9 1218.8 882.9 1217.3 879.7 1216.1ZM921.1 1228.5 922.9 1229.2 926.9 1230.7 930.9 1232.2 934.9 1233.7 938.9 1235.2 942.9 1236.7 946.9 1238.1 950.5 1239.5 950.5 1242.5 946.9 1241.1 942.9 1239.7 938.9 1238.2 934.9 1236.7 930.9 1235.2 926.9 1233.7 922.9 1232.2 921.1 1231.5ZM962.5 1243.9 962.9 1244.1 967 1245.6 971 1247.1 975 1248.6 979 1250.1 983 1251.6 987 1253 991 1254.5 991.9 1254.9 991.9 1257.9 991 1257.5 987 1256 983 1254.6 979 1253.1 975 1251.6 971 1250.1 967 1248.6 962.9 1247.1 962.5 1246.9ZM1003.9 1259.4 1007 1260.5 1011 1262 1015 1263.5 1019 1265 1023 1266.5 1027 1268 1031 1269.4 1033.3 1270.3 1033.3 1273.3 1031 1272.4 1027 1271 1023 1269.5 1019 1268 1015 1266.5 1011 1265 1007 1263.5 1003.9 1262.4ZM1045.3 1274.8 1047 1275.4 1051 1276.9 1055 1278.4 1059 1279.9 1063 1281.4 1066 1282.5 1067 1282.5 1071 1282.6 1074.7 1282.7 1074.7 1285.7 1071 1285.6 1067 1285.5 1066 1285.5 1063 1284.4 1059 1282.9 1055 1281.4 1051 1279.9 1047 1278.4 1045.3 1277.8ZM1086.7 1283.1 1087 1283.1 1091 1283.2 1095 1283.3 1099 1283.4 1103 1283.5 1107 1283.6 1111 1283.7 1115 1283.9 1116.1 1283.9 1116.1 1286.9 1115 1286.9 1111 1286.7 1107 1286.6 1103 1286.5 1099 1286.4 1095 1286.3 1091 1286.2 1087 1286.1 1086.7 1286.1ZM1128.1 1284.2 1131 1284.3 1135 1284.4 1139 1284.5 1143 1284.6 1147 1284.7 1151.1 1284.9 1155.1 1285 1157.5 1285 1157.5 1288 1155.1 1288 1151.1 1287.9 1147 1287.7 1143 1287.6 1139 1287.5 1135 1287.4 1131 1287.3 1128.1 1287.2ZM1169.5 1285.4 1171.1 1285.4 1175.1 1285.5 1179.1 1285.6 1183.1 1285.7 1187.1 1285.9 1191.1 1286 1195.1 1286.1 1198.9 1286.2 1198.9 1289.2 1195.1 1289.1 1191.1 1289 1187.1 1288.9 1183.1 1288.7 1179.1 1288.6 1175.1 1288.5 1171.1 1288.4 1169.5 1288.4ZM1210.9 1286.5 1211.1 1286.5 1215.1 1286.6 1219.1 1286.7 1223.1 1286.9 1227.1 1287 1231.1 1287.1 1235.1 1287.2 1239.1 1287.3 1240.3 1287.3 1240.3 1290.3 1239.1 1290.3 1235.1 1290.2 1231.1 1290.1 1227.1 1290 1223.1 1289.9 1219.1 1289.7 1215.1 1289.6 1211.1 1289.5 1210.9 1289.5ZM1252.3 1287.7 1255.1 1287.7 1259.1 1287.9 1263.1 1288 1267.1 1288.1 1271.1 1288.2 1275.1 1288.3 1279.1 1288.4 1281.7 1288.5 1281.7 1291.5 1279.1 1291.4 1275.1 1291.3 1271.1 1291.2 1267.1 1291.1 1263.1 1291 1259.1 1290.9 1255.1 1290.7 1252.3 1290.7ZM1293.7 1288.8 1295.1 1288.9 1299.1 1289 1300.5 1289 1303.1 1289 1307.1 1289 1311.1 1289 1315.1 1289 1319.1 1289 1323.1 1289 1323.1 1292 1319.1 1292 1315.1 1292 1311.1 1292 1307.1 1292 1303.1 1292 1300.5 1292 1299.1 1292 1295.1 1291.9 1293.7 1291.8ZM1335.1 1289 1335.2 1289 1339.2 1289 1343.2 1289 1347.2 1289 1351.2 1289 1355.2 1289.1 1359.2 1289.1 1363.2 1289.1 1364.5 1289.1 1364.5 1292.1 1363.2 1292.1 1359.2 1292.1 1355.2 1292.1 1351.2 1292 1347.2 1292 1343.2 1292 1339.2 1292 1335.2 1292 1335.1 1292ZM1376.5 1289.1 1379.2 1289.1 1383.2 1289.1 1387.2 1289.1 1391.2 1289.1 1395.2 1289.1 1399.2 1289.1 1403.2 1289.1 1405.9 1289.1 1405.9 1292.1 1403.2 1292.1 1399.2 1292.1 1395.2 1292.1 1391.2 1292.1 1387.2 1292.1 1383.2 1292.1 1379.2 1292.1 1376.5 1292.1ZM1417.9 1289.1 1419.2 1289.1 1423.2 1289.1 1427.2 1289.1 1431.2 1289.1 1435.2 1289.1 1439.2 1289.1 1443.2 1289.1 1447.2 1289.1 1447.3 1289.1 1447.3 1292.1 1447.2 1292.1 1443.2 1292.1 1439.2 1292.1 1435.2 1292.1 1431.2 1292.1 1427.2 1292.1 1423.2 1292.1 1419.2 1292.1 1417.9 1292.1ZM1459.3 1289.2 1463.2 1289.2 1467.2 1289.2 1471.2 1289.2 1475.2 1289.2 1479.2 1289.2 1483.2 1289.2 1487.2 1289.2 1488.7 1289.2 1488.7 1292.2 1487.2 1292.2 1483.2 1292.2 1479.2 1292.2 1475.2 1292.2 1471.2 1292.2 1467.2 1292.2 1463.2 1292.2 1459.3 1292.2ZM1500.7 1289.2 1503.2 1289.2 1507.2 1289.2 1511.2 1289.2 1515.2 1289.2 1519.3 1289.2 1523.3 1289.2 1527.3 1289.2 1530.1 1289.2 1530.1 1292.2 1527.3 1292.2 1523.3 1292.2 1519.3 1292.2 1515.2 1292.2 1511.2 1292.2 1507.2 1292.2 1503.2 1292.2 1500.7 1292.2ZM1542.1 1289.2 1543.3 1289.2 1547.3 1289.2 1551.3 1289.2 1555.3 1289.2 1559.3 1289.2 1563.3 1289.3 1567.3 1289.3 1571.3 1289.3 1571.5 1289.3 1571.5 1292.3 1571.3 1292.3 1567.3 1292.3 1563.3 1292.3 1559.3 1292.2 1555.3 1292.2 1551.3 1292.2 1547.3 1292.2 1543.3 1292.2 1542.1 1292.2ZM1583.5 1289.3 1587.3 1289.3 1591.3 1289.3 1595.3 1289.3 1599.3 1289.3 1603.3 1289.3 1607.3 1289.3 1611.3 1289.3 1611.3 1292.3 1607.3 1292.3 1603.3 1292.3 1599.3 1292.3 1595.3 1292.3 1591.3 1292.3 1587.3 1292.3 1583.5 1292.3Z" fill="#00f" clip-path="url(#cb)"/>
<path d="M134.5 815.6 138.5 817.8 142.5 820.1 146.5 822.3 150.5 824.6 154.5 826.8 158.5 829 162.5 831.3 166.5 833.5 170.5 835.8 174.5 838 178.5 840.2 182.5 842.5 186.5 844.7 190.5 847 194.5 849.2 198.5 851.4 202.5 853.7 206.5 855.9 210.5 858.2 214.5 860.4 218.5 862.6 222.5 864.9 226.5 867.1 230.6 869.3 234.6 871.6 238.6 873.8 242.6 876.1 246.6 878.3 250.6 880.5 254.6 882.8 258.6 885 262.6 887.3 266.6 889.5 270.6 891.7 274.6 894 278.6 896.2 282.6 898.5 286.6 900.7 290.6 902.9 294.6 905.2 298.6 907.4 302.6 909.7 306.6 911.9 310.6 914.1 314.6 916.4 318.6 918.6 322.6 920.9 326.6 923.1 330.6 925.3 334.6 927.6 338.6 929.8 342.6 932.1 346.6 934.3 350.6 936.5 354.6 938.8 358.6 941 362.6 943.3 366.6 945.5 369.5 947.1 370.6 947.7 374.6 949.8 378.6 952 382.6 954.1 386.6 956.2 390.6 958.4 394.6 960.5 398.6 962.7 402.6 964.8 406.6 966.9 410.6 969.1 414.7 971.2 418.7 973.3 422.7 975.5 426.7 977.6 430.7 979.8 434.7 981.9 438.7 984 442.7 986.2 446.7 988.3 450.7 990.4 454.7 992.6 458.7 994.7 462.7 996.8 466.7 999 470.7 1001.1 474.7 1003.3 478.7 1005.4 482.7 1007.5 486.7 1009.7 490.7 1011.8 494.7 1013.9 498.7 1016.1 502.7 1018.2 506.7 1020.3 510.7 1022.5 514.7 1024.6 518.7 1026.8 522.7 1028.9 526.7 1031 530.7 1033.2 534.7 1035.3 538.7 1037.4 542.7 1039.6 546.7 1041.7 550.7 1043.8 554.7 1046 558.7 1048.1 562.7 1050.3 566.7 1052.4 570.7 1054.5 574.7 1056.7 578.7 1058.8 582.7 1060.9 586.7 1063.1 590.7 1065.2 594.7 1067.3 598.8 1069.5 600.6 1070.5 602.8 1071.5 606.8 1073.5 610.8 1075.5 614.8 1077.5 618.8 1079.5 622.8 1081.4 626.8 1083.4 630.8 1085.4 634.8 1087.4 638.8 1089.4 642.8 1091.3 646.8 1093.3 650.8 1095.3 654.8 1097.3 658.8 1099.3 662.8 1101.2 666.8 1103.2 670.8 1105.2 674.8 1107.2 678.8 1109.2 682.8 1111.1 686.8 1113.1 690.8 1115.1 694.8 1117.1 698.8 1119.1 702.8 1121 706.8 1123 710.8 1125 714.8 1127 718.8 1129 722.8 1130.9 726.8 1132.9 730.8 1134.9 734.8 1136.9 738.8 1138.9 742.8 1140.8 746.8 1142.8 750.8 1144.8 754.8 1146.8 758.8 1148.8 762.8 1150.7 766.8 1152.7 770.8 1154.7 774.8 1156.7 778.8 1158.7 782.9 1160.6 786.9 1162.6 790.9 1164.6 794.9 1166.6 798.9 1168.6 802.9 1170.5 806.9 1172.5 810.9 1174.5 814.9 1176.5 818.9 1178.5 822.9 1180.5 826.9 1182.4 830.9 1184.4 834.9 1186.4 835.1 1186.5 838.9 1188 842.9 1189.6 846.9 1191.1 850.9 1192.7 854.9 1194.3 858.9 1195.8 862.9 1197.4 866.9 1199 870.9 1200.6 874.9 1202.1 878.9 1203.7 882.9 1205.3 886.9 1206.8 890.9 1208.4 894.9 1210 898.9 1211.6 902.9 1213.1 906.9 1214.7 910.9 1216.3 914.9 1217.8 918.9 1219.4 922.9 1221 926.9 1222.6 930.9 1224.1 934.9 1225.7 938.9 1227.3 942.9 1228.9 946.9 1230.4 950.9 1232 954.9 1233.6 958.9 1235.1 962.9 1236.7 967 1238.3 971 1239.9 975 1241.4 979 1243 983 1244.6 987 1246.1 991 1247.7 995 1249.3 999 1250.9 1003 1252.4 1007 1254 1011 1255.6 1015 1257.1 1019 1258.7 1023 1260.3 1027 1261.9 1031 1263.4 1035 1265 1039 1266.6 1043 1268.1 1047 1269.7 1051 1271.3 1055 1272.9 1059 1274.4 1063 1276 1066 1277.2 1067 1277.3 1071 1277.6 1075 1278 1079 1278.4 1083 1278.7 1087 1279.1 1091 1279.4 1095 1279.8 1099 1280.2 1103 1280.5 1107 1280.9 1111 1281.2 1115 1281.6 1119 1281.9 1123 1282.3 1127 1282.7 1131 1283 1135 1283.4 1139 1283.7 1143 1284.1 1147 1284.5 1151.1 1284.8 1155.1 1285.2 1159.1 1285.5 1163.1 1285.9 1167.1 1286.2 1171.1 1286.6 1175.1 1287 1179.1 1287.3 1183.1 1287.7 1187.1 1288 1191.1 1288.4 1195.1 1288.8 1199.1 1289.1 1203.1 1289.5 1207.1 1289.8 1211.1 1290.2 1215.1 1290.5 1219.1 1290.9 1223.1 1291.3 1227.1 1291.6 1231.1 1292 1235.1 1292.3 1239.1 1292.7 1243.1 1293.1 1247.1 1293.4 1251.1 1293.8 1255.1 1294.1 1259.1 1294.5 1263.1 1294.9 1267.1 1295.2 1271.1 1295.6 1275.1 1295.9 1279.1 1296.3 1283.1 1296.6 1287.1 1297 1291.1 1297.4 1295.1 1297.7 1299.1 1298.1 1300.5 1298.2 1303.1 1298.2 1307.1 1298.2 1311.1 1298.2 1315.1 1298.2 1319.1 1298.2 1323.1 1298.2 1327.1 1298.3 1331.1 1298.3 1335.2 1298.3 1339.2 1298.3 1343.2 1298.3 1347.2 1298.3 1351.2 1298.3 1355.2 1298.3 1359.2 1298.3 1363.2 1298.3 1367.2 1298.3 1371.2 1298.3 1375.2 1298.3 1379.2 1298.4 1383.2 1298.4 1387.2 1298.4 1391.2 1298.4 1395.2 1298.4 1399.2 1298.4 1403.2 1298.4 1407.2 1298.4 1411.2 1298.4 1415.2 1298.4 1419.2 1298.4 1423.2 1298.4 1427.2 1298.4 1431.2 1298.5 1435.2 1298.5 1439.2 1298.5 1443.2 1298.5 1447.2 1298.5 1451.2 1298.5 1455.2 1298.5 1459.2 1298.5 1463.2 1298.5 1467.2 1298.5 1471.2 1298.5 1475.2 1298.5 1479.2 1298.5 1483.2 1298.6 1487.2 1298.6 1491.2 1298.6 1495.2 1298.6 1499.2 1298.6 1503.2 1298.6 1507.2 1298.6 1511.2 1298.6 1515.2 1298.6 1519.3 1298.6 1523.3 1298.6 1527.3 1298.6 1531.3 1298.6 1535.3 1298.7 1539.3 1298.7 1543.3 1298.7 1547.3 1298.7 1551.3 1298.7 1555.3 1298.7 1559.3 1298.7 1563.3 1298.7 1567.3 1298.7 1571.3 1298.7 1575.3 1298.7 1579.3 1298.7 1583.3 1298.7 1587.3 1298.8 1591.3 1298.8 1595.3 1298.8 1599.3 1298.8 1603.3 1298.8 1607.3 1298.8 1611.3 1298.8 1611.3 1301.8 1607.3 1301.8 1603.3 1301.8 1599.3 1301.8 1595.3 1301.8 1591.3 1301.8 1587.3 1301.8 1583.3 1301.7 1579.3 1301.7 1575.3 1301.7 1571.3 1301.7 1567.3 1301.7 1563.3 1301.7 1559.3 1301.7 1555.3 1301.7 1551.3 1301.7 1547.3 1301.7 1543.3 1301.7 1539.3 1301.7 1535.3 1301.7 1531.3 1301.6 1527.3 1301.6 1523.3 1301.6 1519.3 1301.6 1515.2 1301.6 1511.2 1301.6 1507.2 1301.6 1503.2 1301.6 1499.2 1301.6 1495.2 1301.6 1491.2 1301.6 1487.2 1301.6 1483.2 1301.6 1479.2 1301.5 1475.2 1301.5 1471.2 1301.5 1467.2 1301.5 1463.2 1301.5 1459.2 1301.5 1455.2 1301.5 1451.2 1301.5 1447.2 1301.5 1443.2 1301.5 1439.2 1301.5 1435.2 1301.5 1431.2 1301.5 1427.2 1301.4 1423.2 1301.4 1419.2 1301.4 1415.2 1301.4 1411.2 1301.4 1407.2 1301.4 1403.2 1301.4 1399.2 1301.4 1395.2 1301.4 1391.2 1301.4 1387.2 1301.4 1383.2 1301.4 1379.2 1301.4 1375.2 1301.3 1371.2 1301.3 1367.2 1301.3 1363.2 1301.3 1359.2 1301.3 1355.2 1301.3 1351.2 1301.3 1347.2 1301.3 1343.2 1301.3 1339.2 1301.3 1335.2 1301.3 1331.1 1301.3 1327.1 1301.3 1323.1 1301.2 1319.1 1301.2 1315.1 1301.2 1311.1 1301.2 1307.1 1301.2 1303.1 1301.2 1300.5 1301.2 1299.1 1301.1 1295.1 1300.7 1291.1 1300.4 1287.1 1300 1283.1 1299.6 1279.1 1299.3 1275.1 1298.9 1271.1 1298.6 1267.1 1298.2 1263.1 1297.9 1259.1 1297.5 1255.1 1297.1 1251.1 1296.8 1247.1 1296.4 1243.1 1296.1 1239.1 1295.7 1235.1 1295.3 1231.1 1295 1227.1 1294.6 1223.1 1294.3 1219.1 1293.9 1215.1 1293.5 1211.1 1293.2 1207.1 1292.8 1203.1 1292.5 1199.1 1292.1 1195.1 1291.8 1191.1 1291.4 1187.1 1291 1183.1 1290.7 1179.1 1290.3 1175.1 1290 1171.1 1289.6 1167.1 1289.2 1163.1 1288.9 1159.1 1288.5 1155.1 1288.2 1151.1 1287.8 1147 1287.5 1143 1287.1 1139 1286.7 1135 1286.4 1131 1286 1127 1285.7 1123 1285.3 1119 1284.9 1115 1284.6 1111 1284.2 1107 1283.9 1103 1283.5 1099 1283.2 1095 1282.8 1091 1282.4 1087 1282.1 1083 1281.7 1079 1281.4 1075 1281 1071 1280.6 1067 1280.3 1066 1280.2 1063 1279 1059 1277.4 1055 1275.9 1051 1274.3 1047 1272.7 1043 1271.1 1039 1269.6 1035 1268 1031 1266.4 1027 1264.9 1023 1263.3 1019 1261.7 1015 1260.1 1011 1258.6 1007 1257 1003 1255.4 999 1253.9 995 1252.3 991 1250.7 987 1249.1 983 1247.6 979 1246 975 1244.4 971 1242.9 967 1241.3 962.9 1239.7 958.9 1238.1 954.9 1236.6 950.9 1235 946.9 1233.4 942.9 1231.9 938.9 1230.3 934.9 1228.7 930.9 1227.1 926.9 1225.6 922.9 1224 918.9 1222.4 914.9 1220.8 910.9 1219.3 906.9 1217.7 902.9 1216.1 898.9 1214.6 894.9 1213 890.9 1211.4 886.9 1209.8 882.9 1208.3 878.9 1206.7 874.9 1205.1 870.9 1203.6 866.9 1202 862.9 1200.4 858.9 1198.8 854.9 1197.3 850.9 1195.7 846.9 1194.1 842.9 1192.6 838.9 1191 835.1 1189.5 834.9 1189.4 830.9 1187.4 826.9 1185.4 822.9 1183.5 818.9 1181.5 814.9 1179.5 810.9 1177.5 806.9 1175.5 802.9 1173.5 798.9 1171.6 794.9 1169.6 790.9 1167.6 786.9 1165.6 782.9 1163.6 778.8 1161.7 774.8 1159.7 770.8 1157.7 766.8 1155.7 762.8 1153.7 758.8 1151.8 754.8 1149.8 750.8 1147.8 746.8 1145.8 742.8 1143.8 738.8 1141.9 734.8 1139.9 730.8 1137.9 726.8 1135.9 722.8 1133.9 718.8 1132 714.8 1130 710.8 1128 706.8 1126 702.8 1124 698.8 1122.1 694.8 1120.1 690.8 1118.1 686.8 1116.1 682.8 1114.1 678.8 1112.2 674.8 1110.2 670.8 1108.2 666.8 1106.2 662.8 1104.2 658.8 1102.3 654.8 1100.3 650.8 1098.3 646.8 1096.3 642.8 1094.3 638.8 1092.4 634.8 1090.4 630.8 1088.4 626.8 1086.4 622.8 1084.4 618.8 1082.5 614.8 1080.5 610.8 1078.5 606.8 1076.5 602.8 1074.5 600.6 1073.5 598.8 1072.5 594.7 1070.3 590.7 1068.2 586.7 1066.1 582.7 1063.9 578.7 1061.8 574.7 1059.7 570.7 1057.5 566.7 1055.4 562.7 1053.3 558.7 1051.1 554.7 1049 550.7 1046.8 546.7 1044.7 542.7 1042.6 538.7 1040.4 534.7 1038.3 530.7 1036.2 526.7 1034 522.7 1031.9 518.7 1029.8 514.7 1027.6 510.7 1025.5 506.7 1023.3 502.7 1021.2 498.7 1019.1 494.7 1016.9 490.7 1014.8 486.7 1012.7 482.7 1010.5 478.7 1008.4 474.7 1006.3 470.7 1004.1 466.7 1002 462.7 999.8 458.7 997.7 454.7 995.6 450.7 993.4 446.7 991.3 442.7 989.2 438.7 987 434.7 984.9 430.7 982.8 426.7 980.6 422.7 978.5 418.7 976.3 414.7 974.2 410.6 972.1 406.6 969.9 402.6 967.8 398.6 965.7 394.6 963.5 390.6 961.4 386.6 959.2 382.6 957.1 378.6 955 374.6 952.8 370.6 950.7 369.5 950.1 366.6 948.5 362.6 946.3 358.6 944 354.6 941.8 350.6 939.5 346.6 937.3 342.6 935.1 338.6 932.8 334.6 930.6 330.6 928.3 326.6 926.1 322.6 923.9 318.6 921.6 314.6 919.4 310.6 917.1 306.6 914.9 302.6 912.7 298.6 910.4 294.6 908.2 290.6 905.9 286.6 903.7 282.6 901.5 278.6 899.2 274.6 897 270.6 894.7 266.6 892.5 262.6 890.3 258.6 888 254.6 885.8 250.6 883.5 246.6 881.3 242.6 879.1 238.6 876.8 234.6 874.6 230.6 872.3 226.5 870.1 222.5 867.9 218.5 865.6 214.5 863.4 210.5 861.2 206.5 858.9 202.5 856.7 198.5 854.4 194.5 852.2 190.5 850 186.5 847.7 182.5 845.5 178.5 843.2 174.5 841 170.5 838.8 166.5 836.5 162.5 834.3 158.5 832 154.5 829.8 150.5 827.6 146.5 825.3 142.5 823.1 138.5 820.8 134.5 818.6Z" fill="#000" clip-path="url(#cb)"/>
<path d="M134.5 833.4 138.5 835.8 142.5 838.1 146.5 840.5 150.5 842.8 154.5 845.2 158.5 847.5 162.5 849.9 166.5 852.2 170.5 854.6 174.5 856.9 178.5 859.3 182.5 861.6 186.5 864 190.5 866.3 194.5 868.7 198.5 871 202.5 873.4 206.5 875.7 210.5 878.1 214.5 880.4 218.5 882.8 222.5 885.1 226.5 887.5 230.6 889.8 234.6 892.2 238.6 894.5 242.6 896.9 246.6 899.2 250.6 901.6 254.6 903.9 258.6 906.3 262.6 908.6 266.6 911 270.6 913.3 274.6 915.7 278.6 918 282.6 920.4 286.6 922.7 290.6 925.1 294.6 927.4 298.6 929.8 302.6 932.1 306.6 934.5 310.6 936.8 314.6 939.2 318.6 941.5 322.6 943.9 326.6 946.2 330.6 948.6 334.6 950.9 338.6 953.3 342.6 955.6 346.6 958 350.6 960.3 354.6 962.7 358.6 965 362.6 967.4 366.6 969.7 369.5 971.4 370.6 972 374.6 974.3 378.6 976.5 382.6 978.8 386.6 981 390.6 983.3 394.6 985.6 398.6 987.8 402.6 990.1 406.6 992.3 410.6 994.6 414.7 996.8 418.7 999.1 422.7 1001.3 426.7 1003.6 430.7 1005.8 434.7 1008.1 438.7 1010.3 442.7 1012.6 446.7 1014.8 450.7 1017.1 454.7 1019.3 458.7 1021.6 462.7 1023.8 466.7 1026.1 470.7 1028.3 474.7 1030.6 478.7 1032.9 482.7 1035.1 486.7 1037.4 490.7 1039.6 494.7 1041.9 498.7 1044.1 502.7 1046.4 506.7 1048.6 510.7 1050.9 514.7 1053.1 518.7 1055.4 522.7 1057.6 526.7 1059.9 530.7 1062.1 534.7 1064.4 538.7 1066.6 542.7 1068.9 546.7 1071.1 550.7 1073.4 554.7 1075.7 558.7 1077.9 562.7 1080.2 566.7 1082.4 570.7 1084.7 574.7 1086.9 578.7 1089.2 582.7 1091.4 586.7 1093.7 590.7 1095.9 594.7 1098.2 598.8 1100.4 600.6 1101.5 602.8 1102.6 606.8 1104.6 610.8 1106.7 614.8 1108.7 618.8 1110.8 622.8 1112.8 626.8 1114.9 630.8 1116.9 634.8 1119 638.8 1121 642.8 1123.1 646.8 1125.1 650.8 1127.2 654.8 1129.2 658.8 1131.3 662.8 1133.3 666.8 1135.4 670.8 1137.4 674.8 1139.4 678.8 1141.5 682.8 1143.5 686.8 1145.6 690.8 1147.6 694.8 1149.7 698.8 1151.7 702.8 1153.8 706.8 1155.8 710.8 1157.9 714.8 1159.9 718.8 1162 722.8 1164 726.8 1166.1 730.8 1168.1 734.8 1170.2 738.8 1172.2 742.8 1174.3 746.8 1176.3 750.8 1178.4 754.8 1180.4 758.8 1182.5 762.8 1184.5 766.8 1186.6 770.8 1188.6 774.8 1190.7 778.8 1192.7 782.9 1194.8 786.9 1196.8 790.9 1198.9 794.9 1200.9 798.9 1203 802.9 1205 806.9 1207 810.9 1209.1 814.9 1211.1 818.9 1213.2 822.9 1215.2 826.9 1217.3 830.9 1219.3 834.9 1221.4 835.1 1221.5 838.9 1223 842.9 1224.6 846.9 1226.2 850.9 1227.7 854.9 1229.3 858.9 1230.9 862.9 1232.5 866.9 1234.1 870.9 1235.6 874.9 1237.2 878.9 1238.8 882.9 1240.4 886.9 1242 890.9 1243.5 894.9 1245.1 898.9 1246.7 902.9 1248.3 906.9 1249.9 910.9 1251.4 914.9 1253 918.9 1254.6 922.9 1256.2 926.9 1257.8 930.9 1259.3 934.9 1260.9 938.9 1262.5 942.9 1264.1 946.9 1265.7 950.9 1267.2 954.9 1268.8 958.9 1270.4 962.9 1272 967 1273.6 971 1275.1 975 1276.7 979 1278.3 983 1279.9 987 1281.5 991 1283 995 1284.6 999 1286.2 1003 1287.8 1007 1289.4 1011 1291 1015 1292.5 1019 1294.1 1023 1295.7 1027 1297.3 1031 1298.9 1035 1300.4 1039 1302 1043 1303.6 1047 1305.2 1051 1306.8 1055 1308.3 1059 1309.9 1063 1311.5 1066 1312.7 1067 1312.9 1071 1313.6 1075 1314.3 1079 1315 1083 1315.7 1087 1316.5 1091 1317.2 1095 1317.9 1099 1318.6 1103 1319.3 1107 1320.1 1111 1320.8 1115 1321.5 1119 1322.2 1123 1322.9 1127 1323.7 1131 1324.4 1135 1325.1 1139 1325.8 1143 1326.5 1147 1327.2 1151.1 1328 1155.1 1328.7 1159.1 1329.4 1163.1 1330.1 1167.1 1330.8 1171.1 1331.6 1175.1 1332.3 1179.1 1333 1183.1 1333.7 1187.1 1334.4 1191.1 1335.2 1195.1 1335.9 1199.1 1336.6 1203.1 1337.3 1207.1 1338 1211.1 1338.7 1215.1 1339.5 1219.1 1340.2 1223.1 1340.9 1227.1 1341.6 1231.1 1342.3 1235.1 1343.1 1239.1 1343.8 1243.1 1344.5 1247.1 1345.2 1251.1 1345.9 1255.1 1346.6 1259.1 1347.4 1263.1 1348.1 1267.1 1348.8 1271.1 1349.5 1275.1 1350.2 1279.1 1351 1283.1 1351.7 1287.1 1352.4 1291.1 1353.1 1295.1 1353.8 1299.1 1354.6 1300.5 1354.8 1303.1 1354.8 1307.1 1354.8 1311.1 1354.8 1315.1 1354.8 1319.1 1354.8 1323.1 1354.8 1327.1 1354.8 1331.1 1354.8 1335.2 1354.8 1339.2 1354.8 1343.2 1354.8 1347.2 1354.8 1351.2 1354.8 1355.2 1354.8 1359.2 1354.8 1363.2 1354.8 1367.2 1354.8 1371.2 1354.8 1375.2 1354.8 1379.2 1354.9 1383.2 1354.9 1387.2 1354.9 1391.2 1354.9 1395.2 1354.9 1399.2 1354.9 1403.2 1354.9 1407.2 1354.9 1411.2 1354.9 1415.2 1354.9 1419.2 1354.9 1423.2 1354.9 1427.2 1354.9 1431.2 1354.9 1435.2 1354.9 1439.2 1354.9 1443.2 1354.9 1447.2 1354.9 1451.2 1354.9 1455.2 1354.9 1459.2 1354.9 1463.2 1354.9 1467.2 1354.9 1471.2 1354.9 1475.2 1354.9 1479.2 1354.9 1483.2 1354.9 1487.2 1354.9 1491.2 1354.9 1495.2 1354.9 1499.2 1354.9 1503.2 1354.9 1507.2 1354.9 1511.2 1354.9 1515.2 1354.9 1519.3 1354.9 1523.3 1354.9 1527.3 1354.9 1531.3 1354.9 1535.3 1355 1539.3 1355 1543.3 1355 1547.3 1355 1551.3 1355 1555.3 1355 1559.3 1355 1563.3 1355 1567.3 1355 1571.3 1355 1575.3 1355 1579.3 1355 1583.3 1355 1587.3 1355 1591.3 1355 1595.3 1355 1599.3 1355 1603.3 1355 1607.3 1355 1611.3 1355 1611.3 1358 1607.3 1358 1603.3 1358 1599.3 1358 1595.3 1358 1591.3 1358 1587.3 1358 1583.3 1358 1579.3 1358 1575.3 1358 1571.3 1358 1567.3 1358 1563.3 1358 1559.3 1358 1555.3 1358 1551.3 1358 1547.3 1358 1543.3 1358 1539.3 1358 1535.3 1358 1531.3 1357.9 1527.3 1357.9 1523.3 1357.9 1519.3 1357.9 1515.2 1357.9 1511.2 1357.9 1507.2 1357.9 1503.2 1357.9 1499.2 1357.9 1495.2 1357.9 1491.2 1357.9 1487.2 1357.9 1483.2 1357.9 1479.2 1357.9 1475.2 1357.9 1471.2 1357.9 1467.2 1357.9 1463.2 1357.9 1459.2 1357.9 1455.2 1357.9 1451.2 1357.9 1447.2 1357.9 1443.2 1357.9 1439.2 1357.9 1435.2 1357.9 1431.2 1357.9 1427.2 1357.9 1423.2 1357.9 1419.2 1357.9 1415.2 1357.9 1411.2 1357.9 1407.2 1357.9 1403.2 1357.9 1399.2 1357.9 1395.2 1357.9 1391.2 1357.9 1387.2 1357.9 1383.2 1357.9 1379.2 1357.9 1375.2 1357.8 1371.2 1357.8 1367.2 1357.8 1363.2 1357.8 1359.2 1357.8 1355.2 1357.8 1351.2 1357.8 1347.2 1357.8 1343.2 1357.8 1339.2 1357.8 1335.2 1357.8 1331.1 1357.8 1327.1 1357.8 1323.1 1357.8 1319.1 1357.8 1315.1 1357.8 1311.1 1357.8 1307.1 1357.8 1303.1 1357.8 1300.5 1357.8 1299.1 1357.6 1295.1 1356.8 1291.1 1356.1 1287.1 1355.4 1283.1 1354.7 1279.1 1354 1275.1 1353.2 1271.1 1352.5 1267.1 1351.8 1263.1 1351.1 1259.1 1350.4 1255.1 1349.6 1251.1 1348.9 1247.1 1348.2 1243.1 1347.5 1239.1 1346.8 1235.1 1346.1 1231.1 1345.3 1227.1 1344.6 1223.1 1343.9 1219.1 1343.2 1215.1 1342.5 1211.1 1341.7 1207.1 1341 1203.1 1340.3 1199.1 1339.6 1195.1 1338.9 1191.1 1338.2 1187.1 1337.4 1183.1 1336.7 1179.1 1336 1175.1 1335.3 1171.1 1334.6 1167.1 1333.8 1163.1 1333.1 1159.1 1332.4 1155.1 1331.7 1151.1 1331 1147 1330.2 1143 1329.5 1139 1328.8 1135 1328.1 1131 1327.4 1127 1326.7 1123 1325.9 1119 1325.2 1115 1324.5 1111 1323.8 1107 1323.1 1103 1322.3 1099 1321.6 1095 1320.9 1091 1320.2 1087 1319.5 1083 1318.7 1079 1318 1075 1317.3 1071 1316.6 1067 1315.9 1066 1315.7 1063 1314.5 1059 1312.9 1055 1311.3 1051 1309.8 1047 1308.2 1043 1306.6 1039 1305 1035 1303.4 1031 1301.9 1027 1300.3 1023 1298.7 1019 1297.1 1015 1295.5 1011 1294 1007 1292.4 1003 1290.8 999 1289.2 995 1287.6 991 1286 987 1284.5 983 1282.9 979 1281.3 975 1279.7 971 1278.1 967 1276.6 962.9 1275 958.9 1273.4 954.9 1271.8 950.9 1270.2 946.9 1268.7 942.9 1267.1 938.9 1265.5 934.9 1263.9 930.9 1262.3 926.9 1260.8 922.9 1259.2 918.9 1257.6 914.9 1256 910.9 1254.4 906.9 1252.9 902.9 1251.3 898.9 1249.7 894.9 1248.1 890.9 1246.5 886.9 1245 882.9 1243.4 878.9 1241.8 874.9 1240.2 870.9 1238.6 866.9 1237.1 862.9 1235.5 858.9 1233.9 854.9 1232.3 850.9 1230.7 846.9 1229.2 842.9 1227.6 838.9 1226 835.1 1224.5 834.9 1224.4 830.9 1222.3 826.9 1220.3 822.9 1218.2 818.9 1216.2 814.9 1214.1 810.9 1212.1 806.9 1210 802.9 1208 798.9 1206 794.9 1203.9 790.9 1201.9 786.9 1199.8 782.9 1197.8 778.8 1195.7 774.8 1193.7 770.8 1191.6 766.8 1189.6 762.8 1187.5 758.8 1185.5 754.8 1183.4 750.8 1181.4 746.8 1179.3 742.8 1177.3 738.8 1175.2 734.8 1173.2 730.8 1171.1 726.8 1169.1 722.8 1167 718.8 1165 714.8 1162.9 710.8 1160.9 706.8 1158.8 702.8 1156.8 698.8 1154.7 694.8 1152.7 690.8 1150.6 686.8 1148.6 682.8 1146.5 678.8 1144.5 674.8 1142.4 670.8 1140.4 666.8 1138.4 662.8 1136.3 658.8 1134.3 654.8 1132.2 650.8 1130.2 646.8 1128.1 642.8 1126.1 638.8 1124 634.8 1122 630.8 1119.9 626.8 1117.9 622.8 1115.8 618.8 1113.8 614.8 1111.7 610.8 1109.7 606.8 1107.6 602.8 1105.6 600.6 1104.5 598.8 1103.4 594.7 1101.2 590.7 1098.9 586.7 1096.7 582.7 1094.4 578.7 1092.2 574.7 1089.9 570.7 1087.7 566.7 1085.4 562.7 1083.2 558.7 1080.9 554.7 1078.7 550.7 1076.4 546.7 1074.1 542.7 1071.9 538.7 1069.6 534.7 1067.4 530.7 1065.1 526.7 1062.9 522.7 1060.6 518.7 1058.4 514.7 1056.1 510.7 1053.9 506.7 1051.6 502.7 1049.4 498.7 1047.1 494.7 1044.9 490.7 1042.6 486.7 1040.4 482.7 1038.1 478.7 1035.9 474.7 1033.6 470.7 1031.3 466.7 1029.1 462.7 1026.8 458.7 1024.6 454.7 1022.3 450.7 1020.1 446.7 1017.8 442.7 1015.6 438.7 1013.3 434.7 1011.1 430.7 1008.8 426.7 1006.6 422.7 1004.3 418.7 1002.1 414.7 999.8 410.6 997.6 406.6 995.3 402.6 993.1 398.6 990.8 394.6 988.6 390.6 986.3 386.6 984 382.6 981.8 378.6 979.5 374.6 977.3 370.6 975 369.5 974.4 366.6 972.7 362.6 970.4 358.6 968 354.6 965.7 350.6 963.3 346.6 961 342.6 958.6 338.6 956.3 334.6 953.9 330.6 951.6 326.6 949.2 322.6 946.9 318.6 944.5 314.6 942.2 310.6 939.8 306.6 937.5 302.6 935.1 298.6 932.8 294.6 930.4 290.6 928.1 286.6 925.7 282.6 923.4 278.6 921 274.6 918.7 270.6 916.3 266.6 914 262.6 911.6 258.6 909.3 254.6 906.9 250.6 904.6 246.6 902.2 242.6 899.9 238.6 897.5 234.6 895.2 230.6 892.8 226.5 890.5 222.5 888.1 218.5 885.8 214.5 883.4 210.5 881.1 206.5 878.7 202.5 876.4 198.5 874 194.5 871.7 190.5 869.3 186.5 867 182.5 864.6 178.5 862.3 174.5 859.9 170.5 857.6 166.5 855.2 162.5 852.9 158.5 850.5 154.5 848.2 150.5 845.8 146.5 843.5 142.5 841.1 138.5 838.8 134.5 836.4Z" fill="#f00" clip-path="url(#cb)"/>
<path d="M134.5 874.2 138.5 876.5 142.5 878.7 146.5 881 150.5 883.3 154.5 885.6 158.5 887.8 162.5 890.1 166.5 892.4 170.5 894.6 174.5 896.9 178.5 899.2 182.5 901.4 186.5 903.7 190.5 906 194.5 908.3 198.5 910.5 202.5 912.8 206.5 915.1 210.5 917.3 214.5 919.6 218.5 921.9 222.5 924.1 226.5 926.4 230.6 928.7 234.6 931 238.6 933.2 242.6 935.5 246.6 937.8 250.6 940 254.6 942.3 258.6 944.6 262.6 946.8 266.6 949.1 270.6 951.4 274.6 953.7 278.6 955.9 282.6 958.2 286.6 960.5 290.6 962.7 294.6 965 298.6 967.3 302.6 969.5 306.6 971.8 310.6 974.1 314.6 976.4 318.6 978.6 322.6 980.9 326.6 983.2 330.6 985.4 334.6 987.7 338.6 990 342.6 992.2 346.6 994.5 350.6 996.8 354.6 999.1 358.6 1001.3 362.6 1003.6 366.6 1005.9 369.5 1007.5 370.6 1008.2 374.6 1010.5 378.6 1012.8 382.6 1015.2 386.6 1017.5 390.6 1019.9 394.6 1022.2 398.6 1024.5 402.6 1026.9 406.6 1029.2 410.6 1031.5 414.7 1033.9 418.7 1036.2 422.7 1038.6 426.7 1040.9 430.7 1043.2 434.7 1045.6 438.7 1047.9 442.7 1050.3 446.7 1052.6 450.7 1054.9 454.7 1057.3 458.7 1059.6 462.7 1062 466.7 1064.3 470.7 1066.6 474.7 1069 478.7 1071.3 482.7 1073.6 486.7 1076 490.7 1078.3 494.7 1080.7 498.7 1083 502.7 1085.3 506.7 1087.7 510.7 1090 514.7 1092.4 518.7 1094.7 522.7 1097 523.5 1097.5 526.7 1099.3 530.7 1101.6 534.7 1103.9 538.7 1106.2 542.7 1108.5 546.7 1110.7 550.7 1113 554.7 1115.3 558.7 1117.6 562.7 1119.9 566.7 1122.2 570.7 1124.4 574.7 1126.7 578.7 1129 582.7 1131.3 586.7 1133.6 590.7 1135.9 594.7 1138.1 598.8 1140.4 600.6 1141.5 602.8 1142.5 606.8 1144.3 610.8 1146.1 614.8 1147.9 618.8 1149.7 622.8 1151.5 626.8 1153.3 630.8 1155.2 634.8 1157 638.8 1158.8 642.8 1160.6 646.8 1162.4 650.8 1164.2 654.8 1166.1 658.8 1167.9 662.8 1169.7 666.8 1171.5 670.8 1173.3 674.8 1175.1 677.8 1176.5 678.8 1176.9 682.8 1178.6 686.8 1180.3 690.8 1182 694.8 1183.6 698.8 1185.3 702.8 1187 706.8 1188.7 710.8 1190.4 714.8 1192 718.8 1193.7 722.8 1195.4 726.8 1197.1 730.8 1198.7 734.8 1200.4 738.8 1202.1 742.8 1203.8 746.8 1205.5 750.8 1207.1 754.8 1208.8 758.8 1210.5 762.8 1212.2 766.8 1213.9 770.8 1215.5 774.8 1217.2 778.8 1218.9 782.9 1220.6 786.9 1222.3 790.9 1223.9 794.9 1225.6 798.9 1227.3 802.9 1229 806.9 1230.7 810.9 1232.3 814.9 1234 818.9 1235.7 822.9 1237.4 826.9 1239 830.9 1240.7 834.9 1242.4 835.1 1242.5 838.9 1243.8 842.9 1245.2 846.9 1246.6 850.9 1247.9 854.9 1249.3 858.9 1250.7 862.9 1252.1 866.9 1253.4 870.9 1254.8 874.9 1256.2 878.9 1257.6 882.9 1258.9 886.9 1260.3 890.9 1261.7 894.9 1263.1 898.9 1264.4 902.9 1265.8 906.9 1267.2 910.9 1268.6 914.9 1269.9 918.9 1271.3 922.9 1272.7 926.9 1274.1 930.9 1275.4 934.9 1276.8 938.9 1278.2 942.9 1279.6 946.9 1281 950.9 1282.3 954.9 1283.7 958.9 1285.1 962.9 1286.5 967 1287.8 971 1289.2 975 1290.6 979 1292 983 1293.3 987 1294.7 991 1296.1 995 1297.5 999 1298.8 1003 1300.2 1007 1301.6 1011 1303 1015 1304.3 1019 1305.7 1023 1307.1 1027 1308.5 1031 1309.8 1035 1311.2 1039 1312.6 1043 1314 1047 1315.3 1051 1316.7 1055 1318.1 1059 1319.5 1063 1320.9 1066 1321.9 1067 1322.1 1071 1322.8 1075 1323.5 1079 1324.2 1083 1324.8 1087 1325.5 1091 1326.2 1095 1326.9 1099 1327.6 1103 1328.3 1107 1329 1111 1329.7 1115 1330.4 1119 1331.1 1123 1331.8 1127 1332.5 1131 1333.2 1135 1333.9 1139 1334.6 1143 1335.3 1147 1336 1151.1 1336.7 1155.1 1337.4 1159.1 1338 1163.1 1338.7 1167.1 1339.4 1171.1 1340.1 1175.1 1340.8 1179.1 1341.5 1183.1 1342.2 1187.1 1342.9 1191.1 1343.6 1195.1 1344.3 1199.1 1345 1203.1 1345.7 1207.1 1346.4 1211.1 1347.1 1215.1 1347.8 1219.1 1348.5 1223.1 1349.2 1227.1 1349.9 1231.1 1350.6 1235.1 1351.2 1239.1 1351.9 1243.1 1352.6 1247.1 1353.3 1251.1 1354 1255.1 1354.7 1259.1 1355.4 1263.1 1356.1 1267.1 1356.8 1271.1 1357.5 1275.1 1358.2 1279.1 1358.9 1283.1 1359.6 1287.1 1360.3 1291.1 1361 1295.1 1361.7 1299.1 1362.4 1300.5 1362.6 1303.1 1362.6 1307.1 1362.6 1311.1 1362.7 1315.1 1362.7 1319.1 1362.7 1323.1 1362.8 1327.1 1362.8 1331.1 1362.8 1335.2 1362.9 1339.2 1362.9 1343.2 1362.9 1347.2 1362.9 1351.2 1363 1355.2 1363 1359.2 1363 1363.2 1363.1 1367.2 1363.1 1371.2 1363.1 1375.2 1363.1 1379.2 1363.2 1383.2 1363.2 1387.2 1363.2 1391.2 1363.3 1395.2 1363.3 1399.2 1363.3 1403.2 1363.4 1407.2 1363.4 1411.2 1363.4 1415.2 1363.4 1419.2 1363.5 1423.2 1363.5 1423.6 1363.5 1427.2 1366.6 1427.5 1366.8 1431.2 1366.8 1435.2 1366.8 1439.2 1366.8 1443.2 1366.8 1447.2 1366.8 1451.2 1366.8 1455.2 1366.8 1459.2 1366.8 1463.2 1366.8 1467.2 1366.8 1471.2 1366.8 1475.2 1366.8 1479.2 1366.8 1483.2 1366.8 1487.2 1366.8 1491.2 1366.8 1495.2 1366.8 1499.2 1366.8 1503.2 1366.8 1507.2 1366.8 1511.2 1366.8 1515.2 1366.8 1519.3 1366.8 1523.3 1366.8 1527.3 1366.8 1531.3 1366.8 1535.3 1366.8 1539.3 1366.8 1543.3 1366.8 1547.3 1366.8 1551.3 1366.8 1555.3 1366.8 1559.3 1366.8 1563.3 1366.8 1567.3 1366.8 1571.3 1366.8 1575.3 1366.8 1579.3 1366.8 1583.3 1366.8 1587.3 1366.8 1591.3 1366.8 1595.3 1366.8 1599.3 1366.8 1603.3 1366.8 1607.3 1366.8 1611.3 1366.8 1611.3 1369.8 1607.3 1369.8 1603.3 1369.8 1599.3 1369.8 1595.3 1369.8 1591.3 1369.8 1587.3 1369.8 1583.3 1369.8 1579.3 1369.8 1575.3 1369.8 1571.3 1369.8 1567.3 1369.8 1563.3 1369.8 1559.3 1369.8 1555.3 1369.8 1551.3 1369.8 1547.3 1369.8 1543.3 1369.8 1539.3 1369.8 1535.3 1369.8 1531.3 1369.8 1527.3 1369.8 1523.3 1369.8 1519.3 1369.8 1515.2 1369.8 1511.2 1369.8 1507.2 1369.8 1503.2 1369.8 1499.2 1369.8 1495.2 1369.8 1491.2 1369.8 1487.2 1369.8 1483.2 1369.8 1479.2 1369.8 1475.2 1369.8 1471.2 1369.8 1467.2 1369.8 1463.2 1369.8 1459.2 1369.8 1455.2 1369.8 1451.2 1369.8 1447.2 1369.8 1443.2 1369.8 1439.2 1369.8 1435.2 1369.8 1431.2 1369.8 1427.5 1369.8 1427.2 1369.6 1423.6 1366.5 1423.2 1366.5 1419.2 1366.5 1415.2 1366.4 1411.2 1366.4 1407.2 1366.4 1403.2 1366.4 1399.2 1366.3 1395.2 1366.3 1391.2 1366.3 1387.2 1366.2 1383.2 1366.2 1379.2 1366.2 1375.2 1366.1 1371.2 1366.1 1367.2 1366.1 1363.2 1366.1 1359.2 1366 1355.2 1366 1351.2 1366 1347.2 1365.9 1343.2 1365.9 1339.2 1365.9 1335.2 1365.9 1331.1 1365.8 1327.1 1365.8 1323.1 1365.8 1319.1 1365.7 1315.1 1365.7 1311.1 1365.7 1307.1 1365.6 1303.1 1365.6 1300.5 1365.6 1299.1 1365.4 1295.1 1364.7 1291.1 1364 1287.1 1363.3 1283.1 1362.6 1279.1 1361.9 1275.1 1361.2 1271.1 1360.5 1267.1 1359.8 1263.1 1359.1 1259.1 1358.4 1255.1 1357.7 1251.1 1357 1247.1 1356.3 1243.1 1355.6 1239.1 1354.9 1235.1 1354.2 1231.1 1353.6 1227.1 1352.9 1223.1 1352.2 1219.1 1351.5 1215.1 1350.8 1211.1 1350.1 1207.1 1349.4 1203.1 1348.7 1199.1 1348 1195.1 1347.3 1191.1 1346.6 1187.1 1345.9 1183.1 1345.2 1179.1 1344.5 1175.1 1343.8 1171.1 1343.1 1167.1 1342.4 1163.1 1341.7 1159.1 1341 1155.1 1340.4 1151.1 1339.7 1147 1339 1143 1338.3 1139 1337.6 1135 1336.9 1131 1336.2 1127 1335.5 1123 1334.8 1119 1334.1 1115 1333.4 1111 1332.7 1107 1332 1103 1331.3 1099 1330.6 1095 1329.9 1091 1329.2 1087 1328.5 1083 1327.8 1079 1327.2 1075 1326.5 1071 1325.8 1067 1325.1 1066 1324.9 1063 1323.9 1059 1322.5 1055 1321.1 1051 1319.7 1047 1318.3 1043 1317 1039 1315.6 1035 1314.2 1031 1312.8 1027 1311.5 1023 1310.1 1019 1308.7 1015 1307.3 1011 1306 1007 1304.6 1003 1303.2 999 1301.8 995 1300.5 991 1299.1 987 1297.7 983 1296.3 979 1295 975 1293.6 971 1292.2 967 1290.8 962.9 1289.5 958.9 1288.1 954.9 1286.7 950.9 1285.3 946.9 1284 942.9 1282.6 938.9 1281.2 934.9 1279.8 930.9 1278.4 926.9 1277.1 922.9 1275.7 918.9 1274.3 914.9 1272.9 910.9 1271.6 906.9 1270.2 902.9 1268.8 898.9 1267.4 894.9 1266.1 890.9 1264.7 886.9 1263.3 882.9 1261.9 878.9 1260.6 874.9 1259.2 870.9 1257.8 866.9 1256.4 862.9 1255.1 858.9 1253.7 854.9 1252.3 850.9 1250.9 846.9 1249.6 842.9 1248.2 838.9 1246.8 835.1 1245.5 834.9 1245.4 830.9 1243.7 826.9 1242 822.9 1240.4 818.9 1238.7 814.9 1237 810.9 1235.3 806.9 1233.7 802.9 1232 798.9 1230.3 794.9 1228.6 790.9 1226.9 786.9 1225.3 782.9 1223.6 778.8 1221.9 774.8 1220.2 770.8 1218.5 766.8 1216.9 762.8 1215.2 758.8 1213.5 754.8 1211.8 750.8 1210.1 746.8 1208.5 742.8 1206.8 738.8 1205.1 734.8 1203.4 730.8 1201.7 726.8 1200.1 722.8 1198.4 718.8 1196.7 714.8 1195 710.8 1193.4 706.8 1191.7 702.8 1190 698.8 1188.3 694.8 1186.6 690.8 1185 686.8 1183.3 682.8 1181.6 678.8 1179.9 677.8 1179.5 674.8 1178.1 670.8 1176.3 666.8 1174.5 662.8 1172.7 658.8 1170.9 654.8 1169.1 650.8 1167.2 646.8 1165.4 642.8 1163.6 638.8 1161.8 634.8 1160 630.8 1158.2 626.8 1156.3 622.8 1154.5 618.8 1152.7 614.8 1150.9 610.8 1149.1 606.8 1147.3 602.8 1145.5 600.6 1144.5 598.8 1143.4 594.7 1141.1 590.7 1138.9 586.7 1136.6 582.7 1134.3 578.7 1132 574.7 1129.7 570.7 1127.4 566.7 1125.2 562.7 1122.9 558.7 1120.6 554.7 1118.3 550.7 1116 546.7 1113.7 542.7 1111.5 538.7 1109.2 534.7 1106.9 530.7 1104.6 526.7 1102.3 523.5 1100.5 522.7 1100 518.7 1097.7 514.7 1095.4 510.7 1093 506.7 1090.7 502.7 1088.3 498.7 1086 494.7 1083.7 490.7 1081.3 486.7 1079 482.7 1076.6 478.7 1074.3 474.7 1072 470.7 1069.6 466.7 1067.3 462.7 1065 458.7 1062.6 454.7 1060.3 450.7 1057.9 446.7 1055.6 442.7 1053.3 438.7 1050.9 434.7 1048.6 430.7 1046.2 426.7 1043.9 422.7 1041.6 418.7 1039.2 414.7 1036.9 410.6 1034.5 406.6 1032.2 402.6 1029.9 398.6 1027.5 394.6 1025.2 390.6 1022.9 386.6 1020.5 382.6 1018.2 378.6 1015.8 374.6 1013.5 370.6 1011.2 369.5 1010.5 366.6 1008.9 362.6 1006.6 358.6 1004.3 354.6 1002.1 350.6 999.8 346.6 997.5 342.6 995.2 338.6 993 334.6 990.7 330.6 988.4 326.6 986.2 322.6 983.9 318.6 981.6 314.6 979.4 310.6 977.1 306.6 974.8 302.6 972.5 298.6 970.3 294.6 968 290.6 965.7 286.6 963.5 282.6 961.2 278.6 958.9 274.6 956.7 270.6 954.4 266.6 952.1 262.6 949.8 258.6 947.6 254.6 945.3 250.6 943 246.6 940.8 242.6 938.5 238.6 936.2 234.6 934 230.6 931.7 226.5 929.4 222.5 927.1 218.5 924.9 214.5 922.6 210.5 920.3 206.5 918.1 202.5 915.8 198.5 913.5 194.5 911.3 190.5 909 186.5 906.7 182.5 904.4 178.5 902.2 174.5 899.9 170.5 897.6 166.5 895.4 162.5 893.1 158.5 890.8 154.5 888.6 150.5 886.3 146.5 884 142.5 881.7 138.5 879.5 134.5 877.2Z" fill="#00f" clip-path="url(#cb)"/>
<path d="M134.5 804.3h3v3h-3zM149.2 812.1h3v3h-3zM164 819.9h3v3h-3zM178.8 827.6h3v3h-3zM193.5 835.4h3v3h-3zM208.2 843.2h3v3h-3zM223 851h3v3h-3zM237.8 858.8h3v3h-3zM252.5 866.6h3v3h-3zM267.2 874.3h3v3h-3zM282 882.1h3v3h-3zM296.8 889.9h3v3h-3zM311.5 897.7h3v3h-3zM326.2 905.5h3v3h-3zM341 913.3h3v3h-3zM355.8 921h3v3h-3zM370.5 928.7h3v3h-3zM385.2 935.6h3v3h-3zM400 942.5h3v3h-3zM414.8 949.3h3v3h-3zM429.5 956.2h3v3h-3zM444.2 963.1h3v3h-3zM459 970h3v3h-3zM473.8 976.9h3v3h-3zM488.5 983.8h3v3h-3zM503.2 990.7h3v3h-3zM518 997.6h3v3h-3zM532.8 1004.5h3v3h-3zM547.5 1011.4h3v3h-3zM562.2 1018.3h3v3h-3zM577 1025.2h3v3h-3zM591.8 1032h3v3h-3zM606.5 1038.7h3v3h-3zM621.2 1045.2h3v3h-3zM636 1051.7h3v3h-3zM650.8 1058.2h3v3h-3zM665.5 1064.6h3v3h-3zM680.2 1071.1h3v3h-3zM695 1077.6h3v3h-3zM709.8 1084.1h3v3h-3zM724.5 1090.6h3v3h-3zM739.2 1097h3v3h-3zM754 1103.5h3v3h-3zM768.8 1110h3v3h-3zM783.5 1116.5h3v3h-3zM798.2 1123h3v3h-3zM813 1129.4h3v3h-3zM827.8 1135.9h3v3h-3zM842.5 1141.9h3v3h-3zM857.2 1147.6h3v3h-3zM872 1153.3h3v3h-3zM886.8 1158.9h3v3h-3zM901.5 1164.6h3v3h-3zM916.2 1170.3h3v3h-3zM931 1176h3v3h-3zM945.8 1181.6h3v3h-3zM960.5 1187.3h3v3h-3zM975.2 1193h3v3h-3zM990 1198.6h3v3h-3zM1004.8 1204.3h3v3h-3zM1019.5 1210h3v3h-3zM1034.2 1215.6h3v3h-3zM1049 1221.3h3v3h-3zM1063.8 1226.9h3v3h-3zM1078.5 1228.5h3v3h-3zM1093.2 1229.9h3v3h-3zM1108 1231.2h3v3h-3zM1122.8 1232.5h3v3h-3zM1137.5 1233.8h3v3h-3zM1152.2 1235.2h3v3h-3zM1167 1236.5h3v3h-3zM1181.8 1237.8h3v3h-3zM1196.5 1239.1h3v3h-3zM1211.2 1240.4h3v3h-3zM1226 1241.8h3v3h-3zM1240.8 1243.1h3v3h-3zM1255.5 1244.4h3v3h-3zM1270.2 1245.7h3v3h-3zM1285 1247h3v3h-3zM1299.8 1248.3h3v3h-3zM1314.5 1248.9h3v3h-3zM1329.2 1249.4h3v3h-3zM1344 1250h3v3h-3zM1358.8 1250.5h3v3h-3zM1373.5 1251.1h3v3h-3zM1388.2 1251.7h3v3h-3zM1403 1252.2h3v3h-3zM1417.8 1252.8h3v3h-3zM1432.5 1253.3h3v3h-3zM1447.2 1253.9h3v3h-3zM1462 1254.4h3v3h-3zM1476.8 1255h3v3h-3zM1491.5 1255.5h3v3h-3zM1506.2 1256.1h3v3h-3zM1521 1256.7h3v3h-3zM1535.8 1257.2h3v3h-3zM1550.5 1257.8h3v3h-3zM1565.2 1258.3h3v3h-3zM1580 1258.9h3v3h-3zM1594.8 1259.4h3v3h-3zM1608.9 1260h3v3h-3z" fill="#000" clip-path="url(#cb)"/>
<path d="M134.5 842.9h3v3h-3zM149.2 850.7h3v3h-3zM164 858.5h3v3h-3zM178.8 866.3h3v3h-3zM193.5 874.1h3v3h-3zM208.2 881.9h3v3h-3zM223 889.7h3v3h-3zM237.8 897.6h3v3h-3zM252.5 905.4h3v3h-3zM267.2 913.2h3v3h-3zM282 921h3v3h-3zM296.8 928.8h3v3h-3zM311.5 936.6h3v3h-3zM326.2 944.4h3v3h-3zM341 952.2h3v3h-3zM355.8 960h3v3h-3zM370.5 967.8h3v3h-3zM385.2 975.5h3v3h-3zM400 983.1h3v3h-3zM414.8 990.8h3v3h-3zM429.5 998.4h3v3h-3zM444.2 1006.1h3v3h-3zM459 1013.7h3v3h-3zM473.8 1021.4h3v3h-3zM488.5 1029.1h3v3h-3zM503.2 1036.7h3v3h-3zM518 1044.4h3v3h-3zM532.8 1052h3v3h-3zM547.5 1059.7h3v3h-3zM562.2 1067.3h3v3h-3zM577 1075h3v3h-3zM591.8 1082.7h3v3h-3zM606.5 1090.2h3v3h-3zM621.2 1097.6h3v3h-3zM636 1105h3v3h-3zM650.8 1112.5h3v3h-3zM665.5 1119.9h3v3h-3zM680.2 1127.3h3v3h-3zM695 1134.7h3v3h-3zM709.8 1142.2h3v3h-3zM724.5 1149.6h3v3h-3zM739.2 1157h3v3h-3zM754 1164.4h3v3h-3zM768.8 1171.9h3v3h-3zM783.5 1179.3h3v3h-3zM798.2 1186.7h3v3h-3zM813 1194.1h3v3h-3zM827.8 1201.6h3v3h-3zM842.5 1207.6h3v3h-3zM857.2 1212.7h3v3h-3zM872 1217.8h3v3h-3zM886.8 1222.9h3v3h-3zM901.5 1228h3v3h-3zM916.2 1233.1h3v3h-3zM931 1238.2h3v3h-3zM945.8 1243.3h3v3h-3zM960.5 1248.5h3v3h-3zM975.2 1253.6h3v3h-3zM990 1258.7h3v3h-3zM1004.8 1263.8h3v3h-3zM1019.5 1268.9h3v3h-3zM1034.2 1274h3v3h-3zM1049 1279.1h3v3h-3zM1063.8 1284.1h3v3h-3zM1078.5 1286.2h3v3h-3zM1093.2 1288.1h3v3h-3zM1108 1289.9h3v3h-3zM1122.8 1291.7h3v3h-3zM1137.5 1293.5h3v3h-3zM1152.2 1295.3h3v3h-3zM1167 1297.2h3v3h-3zM1181.8 1299h3v3h-3zM1196.5 1300.8h3v3h-3zM1211.2 1302.6h3v3h-3zM1226 1304.5h3v3h-3zM1240.8 1306.3h3v3h-3zM1255.5 1308.1h3v3h-3zM1270.2 1309.9h3v3h-3zM1285 1311.8h3v3h-3zM1299.8 1313.5h3v3h-3zM1314.5 1313.6h3v3h-3zM1329.2 1313.6h3v3h-3zM1344 1313.7h3v3h-3zM1358.8 1313.8h3v3h-3zM1373.5 1313.8h3v3h-3zM1388.2 1313.9h3v3h-3zM1403 1314h3v3h-3zM1417.8 1314h3v3h-3zM1432.5 1314.1h3v3h-3zM1447.2 1314.2h3v3h-3zM1462 1314.2h3v3h-3zM1476.8 1314.3h3v3h-3zM1491.5 1314.4h3v3h-3zM1506.2 1314.4h3v3h-3zM1521 1314.5h3v3h-3zM1535.8 1314.6h3v3h-3zM1550.5 1314.6h3v3h-3zM1565.2 1314.7h3v3h-3zM1580 1314.8h3v3h-3zM1594.8 1314.8h3v3h-3zM1608.9 1314.9h3v3h-3z" fill="#f00" clip-path="url(#cb)"/>
<path d="M134.5 855.2h3v3h-3zM149.2 862.4h3v3h-3zM164 869.5h3v3h-3zM178.8 876.7h3v3h-3zM193.5 883.8h3v3h-3zM208.2 891h3v3h-3zM223 898.2h3v3h-3zM237.8 905.3h3v3h-3zM252.5 912.5h3v3h-3zM267.2 919.6h3v3h-3zM282 926.8h3v3h-3zM296.8 933.9h3v3h-3zM311.5 941.1h3v3h-3zM326.2 948.2h3v3h-3zM341 955.4h3v3h-3zM355.8 962.6h3v3h-3zM370.5 969.7h3v3h-3zM385.2 977.1h3v3h-3zM400 984.4h3v3h-3zM414.8 991.8h3v3h-3zM429.5 999.1h3v3h-3zM444.2 1006.4h3v3h-3zM459 1013.8h3v3h-3zM473.8 1021.1h3v3h-3zM488.5 1028.5h3v3h-3zM503.2 1035.8h3v3h-3zM518 1043.1h3v3h-3zM532.8 1050.5h3v3h-3zM547.5 1057.8h3v3h-3zM562.2 1065.1h3v3h-3zM577 1072.5h3v3h-3zM591.8 1079.8h3v3h-3zM606.5 1086.2h3v3h-3zM621.2 1091.6h3v3h-3zM636 1097h3v3h-3zM650.8 1102.4h3v3h-3zM665.5 1107.8h3v3h-3zM680.2 1113.2h3v3h-3zM695 1118.7h3v3h-3zM709.8 1124.1h3v3h-3zM724.5 1129.5h3v3h-3zM739.2 1134.9h3v3h-3zM754 1140.3h3v3h-3zM768.8 1145.7h3v3h-3zM783.5 1151.1h3v3h-3zM798.2 1156.5h3v3h-3zM813 1161.9h3v3h-3zM827.8 1167.4h3v3h-3zM842.5 1173h3v3h-3zM857.2 1178.8h3v3h-3zM872 1184.6h3v3h-3zM886.8 1190.4h3v3h-3zM901.5 1196.3h3v3h-3zM916.2 1202.1h3v3h-3zM931 1207.9h3v3h-3zM945.8 1213.7h3v3h-3zM960.5 1219.5h3v3h-3zM975.2 1225.3h3v3h-3zM990 1231.1h3v3h-3zM1004.8 1236.9h3v3h-3zM1019.5 1242.7h3v3h-3zM1034.2 1248.6h3v3h-3zM1049 1254.4h3v3h-3zM1063.8 1260.1h3v3h-3zM1078.5 1263.4h3v3h-3zM1093.2 1266.4h3v3h-3zM1108 1269.5h3v3h-3zM1122.8 1272.6h3v3h-3zM1137.5 1275.6h3v3h-3zM1152.2 1278.3h3v3h-3zM1167 1280.8h3v3h-3zM1181.8 1283.4h3v3h-3zM1196.5 1285.9h3v3h-3zM1211.2 1288.4h3v3h-3zM1226 1291h3v3h-3zM1240.8 1293.5h3v3h-3zM1255.5 1296h3v3h-3zM1270.2 1298.6h3v3h-3zM1285 1301.1h3v3h-3zM1299.8 1303.4h3v3h-3zM1314.5 1303.7h3v3h-3zM1329.2 1303.8h3v3h-3zM1344 1304h3v3h-3zM1358.8 1304.1h3v3h-3zM1373.5 1304.3h3v3h-3zM1388.2 1304.4h3v3h-3zM1403 1304.6h3v3h-3zM1417.8 1304.8h3v3h-3zM1432.5 1304.9h3v3h-3zM1447.2 1305.1h3v3h-3zM1462 1305.2h3v3h-3zM1476.8 1305.4h3v3h-3zM1491.5 1305.5h3v3h-3zM1506.2 1305.7h3v3h-3zM1521 1305.9h3v3h-3zM1535.8 1306h3v3h-3zM1550.5 1306.2h3v3h-3zM1565.2 1306.3h3v3h-3zM1580 1306.5h3v3h-3zM1594.8 1306.6h3v3h-3zM1608.9 1306.8h3v3h-3z" fill="#00f" clip-path="url(#cb)"/>
<path d="M134.5 844.5 138.5 846.6 142.5 848.8 146.5 850.9 150.5 853 154.5 855.1 158.5 857.3 162.5 859.4 163.5 859.9 163.5 862.9 162.5 862.4 158.5 860.3 154.5 858.1 150.5 856 146.5 853.9 142.5 851.8 138.5 849.6 134.5 847.5ZM175.5 866.3 178.5 867.9 178.5 870.9 175.5 869.3ZM191.5 874.8 194.5 876.4 198.5 878.6 202.5 880.7 206.5 882.8 210.5 884.9 214.5 887.1 218.5 889.2 220.5 890.2 220.5 893.2 218.5 892.2 214.5 890.1 210.5 887.9 206.5 885.8 202.5 883.7 198.5 881.6 194.5 879.4 191.5 877.8ZM232.5 896.6 234.6 897.7 235.5 898.2 235.5 901.2 234.6 900.7 232.5 899.6ZM248.5 905.1 250.6 906.2 254.6 908.4 258.6 910.5 262.6 912.6 266.6 914.8 270.6 916.9 274.6 919 277.5 920.6 277.5 923.6 274.6 922 270.6 919.9 266.6 917.8 262.6 915.6 258.6 913.5 254.6 911.4 250.6 909.2 248.5 908.1ZM289.5 926.9 290.6 927.5 292.5 928.5 292.5 931.5 290.6 930.5 289.5 929.9ZM305.5 935.5 306.6 936 310.6 938.2 314.6 940.3 318.6 942.4 322.6 944.6 326.6 946.7 330.6 948.8 334.5 950.9 334.5 953.9 330.6 951.8 326.6 949.7 322.6 947.6 318.6 945.4 314.6 943.3 310.6 941.2 306.6 939 305.5 938.5ZM346.5 957.3 346.6 957.3 349.5 958.9 349.5 961.9 346.6 960.3 346.5 960.3ZM362.5 965.8 362.6 965.8 366.6 968 369.5 969.5 370.6 970.1 374.6 972 378.6 974 382.6 976 386.6 978 390.6 979.9 391.5 980.4 391.5 983.4 390.6 982.9 386.6 981 382.6 979 378.6 977 374.6 975 370.6 973.1 369.5 972.5 366.6 971 362.6 968.8 362.5 968.8ZM403.5 986.3 406.5 987.7 406.5 990.7 403.5 989.3ZM419.5 994.2 422.7 995.7 426.7 997.7 430.7 999.7 434.7 1001.6 438.7 1003.6 442.7 1005.6 446.7 1007.6 448.5 1008.5 448.5 1011.5 446.7 1010.6 442.7 1008.6 438.7 1006.6 434.7 1004.6 430.7 1002.7 426.7 1000.7 422.7 998.7 419.5 997.2ZM460.5 1014.4 462.7 1015.5 463.5 1015.9 463.5 1018.9 462.7 1018.5 460.5 1017.4ZM476.5 1022.3 478.7 1023.3 482.7 1025.3 486.7 1027.3 490.7 1029.3 494.7 1031.2 498.7 1033.2 502.7 1035.2 505.5 1036.6 505.5 1039.6 502.7 1038.2 498.7 1036.2 494.7 1034.2 490.7 1032.3 486.7 1030.3 482.7 1028.3 478.7 1026.3 476.5 1025.3ZM517.5 1042.5 518.7 1043.1 520.5 1044 520.5 1047 518.7 1046.1 517.5 1045.5ZM533.5 1050.4 534.7 1051 538.7 1053 542.7 1054.9 546.7 1056.9 550.7 1058.9 554.7 1060.9 558.7 1062.8 562.5 1064.7 562.5 1067.7 558.7 1065.8 554.7 1063.9 550.7 1061.9 546.7 1059.9 542.7 1057.9 538.7 1056 534.7 1054 533.5 1053.4ZM574.5 1070.6 574.7 1070.7 577.5 1072.1 577.5 1075.1 574.7 1073.7 574.5 1073.6ZM590.5 1078.5 590.7 1078.6 594.7 1080.6 598.8 1082.6 600.6 1083.5 602.8 1084.3 606.8 1085.7 610.8 1087.2 614.8 1088.6 618.8 1090.1 619.5 1090.3 619.5 1093.3 618.8 1093.1 614.8 1091.6 610.8 1090.2 606.8 1088.7 602.8 1087.3 600.6 1086.5 598.8 1085.6 594.7 1083.6 590.7 1081.6 590.5 1081.5ZM631.5 1094.7 634.5 1095.8 634.5 1098.8 631.5 1097.7ZM647.5 1100.5 650.8 1101.7 654.8 1103.1 658.8 1104.6 662.8 1106 666.8 1107.5 670.8 1108.9 674.8 1110.4 676.5 1111 676.5 1114 674.8 1113.4 670.8 1111.9 666.8 1110.5 662.8 1109 658.8 1107.6 654.8 1106.1 650.8 1104.7 647.5 1103.5ZM688.5 1115.4 690.8 1116.2 691.5 1116.4 691.5 1119.4 690.8 1119.2 688.5 1118.4ZM704.5 1121.2 706.8 1122 710.8 1123.4 714.8 1124.9 718.8 1126.3 722.8 1127.8 726.8 1129.2 730.8 1130.7 733.5 1131.7 733.5 1134.7 730.8 1133.7 726.8 1132.2 722.8 1130.8 718.8 1129.3 714.8 1127.9 710.8 1126.4 706.8 1125 704.5 1124.2ZM745.5 1136 746.8 1136.5 748.5 1137.1 748.5 1140.1 746.8 1139.5 745.5 1139ZM761.5 1141.8 762.8 1142.3 766.8 1143.8 770.8 1145.2 774.8 1146.7 778.8 1148.1 782.9 1149.6 786.9 1151 790.5 1152.3 790.5 1155.3 786.9 1154 782.9 1152.6 778.8 1151.1 774.8 1149.7 770.8 1148.2 766.8 1146.8 762.8 1145.3 761.5 1144.8ZM802.5 1156.7 802.9 1156.8 805.5 1157.8 805.5 1160.8 802.9 1159.8 802.5 1159.7ZM818.5 1162.5 818.9 1162.6 822.9 1164.1 826.9 1165.5 830.9 1167 834.9 1168.4 835.1 1168.5 838.9 1170 842.9 1171.6 846.9 1173.2 847.5 1173.4 847.5 1176.4 846.9 1176.2 842.9 1174.6 838.9 1173 835.1 1171.5 834.9 1171.4 830.9 1170 826.9 1168.5 822.9 1167.1 818.9 1165.6 818.5 1165.5ZM859.5 1178.2 862.5 1179.4 862.5 1182.4 859.5 1181.2ZM875.5 1184.6 878.9 1185.9 882.9 1187.5 886.9 1189.1 890.9 1190.7 894.9 1192.3 898.9 1193.9 902.9 1195.5 904.5 1196.1 904.5 1199.1 902.9 1198.5 898.9 1196.9 894.9 1195.3 890.9 1193.7 886.9 1192.1 882.9 1190.5 878.9 1188.9 875.5 1187.6ZM916.5 1200.9 918.9 1201.9 919.5 1202.1 919.5 1205.1 918.9 1204.9 916.5 1203.9ZM932.5 1207.3 934.9 1208.3 938.9 1209.9 942.9 1211.5 946.9 1213.1 950.9 1214.6 954.9 1216.2 958.9 1217.8 961.5 1218.9 961.5 1221.9 958.9 1220.8 954.9 1219.2 950.9 1217.6 946.9 1216.1 942.9 1214.5 938.9 1212.9 934.9 1211.3 932.5 1210.3ZM973.5 1223.6 975 1224.2 976.5 1224.8 976.5 1227.8 975 1227.2 973.5 1226.6ZM989.5 1230 991 1230.6 995 1232.2 999 1233.8 1003 1235.4 1007 1237 1011 1238.6 1015 1240.2 1018.5 1241.6 1018.5 1244.6 1015 1243.2 1011 1241.6 1007 1240 1003 1238.4 999 1236.8 995 1235.2 991 1233.6 989.5 1233ZM1030.5 1246.3 1031 1246.5 1033.5 1247.5 1033.5 1250.5 1031 1249.5 1030.5 1249.3ZM1046.5 1252.7 1047 1252.9 1051 1254.5 1055 1256.1 1059 1257.7 1063 1259.3 1066 1260.5 1067 1260.7 1071 1261.6 1075 1262.5 1075.5 1262.6 1075.5 1265.6 1075 1265.5 1071 1264.6 1067 1263.7 1066 1263.5 1063 1262.3 1059 1260.7 1055 1259.1 1051 1257.5 1047 1255.9 1046.5 1255.7ZM1087.5 1265.2 1090.5 1265.9 1090.5 1268.9 1087.5 1268.2ZM1103.5 1268.7 1107 1269.5 1111 1270.4 1115 1271.3 1119 1272.2 1123 1273 1127 1273.9 1131 1274.8 1132.5 1275.1 1132.5 1278.1 1131 1277.8 1127 1276.9 1123 1276 1119 1275.2 1115 1274.3 1111 1273.4 1107 1272.5 1103.5 1271.7ZM1144.5 1277.7 1147 1278.1 1147.5 1278.2 1147.5 1281.2 1147 1281.1 1144.5 1280.7ZM1160.5 1280.5 1163.1 1280.9 1167.1 1281.6 1171.1 1282.3 1175.1 1283 1179.1 1283.6 1183.1 1284.3 1187.1 1285 1189.5 1285.4 1189.5 1288.4 1187.1 1288 1183.1 1287.3 1179.1 1286.6 1175.1 1286 1171.1 1285.3 1167.1 1284.6 1163.1 1283.9 1160.5 1283.5ZM1201.5 1287.5 1203.1 1287.8 1204.5 1288 1204.5 1291 1203.1 1290.8 1201.5 1290.5ZM1217.5 1290.2 1219.1 1290.5 1223.1 1291.2 1227.1 1291.9 1231.1 1292.6 1235.1 1293.3 1239.1 1294 1243.1 1294.6 1246.5 1295.2 1246.5 1298.2 1243.1 1297.6 1239.1 1297 1235.1 1296.3 1231.1 1295.6 1227.1 1294.9 1223.1 1294.2 1219.1 1293.5 1217.5 1293.2ZM1258.5 1297.3 1259.1 1297.4 1261.5 1297.8 1261.5 1300.8 1259.1 1300.4 1258.5 1300.3ZM1274.5 1300 1275.1 1300.1 1279.1 1300.8 1283.1 1301.5 1287.1 1302.2 1291.1 1302.9 1295.1 1303.6 1299.1 1304.3 1300.5 1304.5 1303.1 1304.5 1303.5 1304.5 1303.5 1307.5 1303.1 1307.5 1300.5 1307.5 1299.1 1307.3 1295.1 1306.6 1291.1 1305.9 1287.1 1305.2 1283.1 1304.5 1279.1 1303.8 1275.1 1303.1 1274.5 1303ZM1315.5 1304.6 1318.5 1304.6 1318.5 1307.6 1315.5 1307.6ZM1331.5 1304.7 1335.2 1304.8 1339.2 1304.8 1343.2 1304.8 1347.2 1304.8 1351.2 1304.9 1355.2 1304.9 1359.2 1304.9 1360.5 1304.9 1360.5 1307.9 1359.2 1307.9 1355.2 1307.9 1351.2 1307.9 1347.2 1307.8 1343.2 1307.8 1339.2 1307.8 1335.2 1307.8 1331.5 1307.7ZM1372.5 1305 1375.2 1305.1 1375.5 1305.1 1375.5 1308.1 1375.2 1308.1 1372.5 1308ZM1388.5 1305.2 1391.2 1305.2 1395.2 1305.2 1399.2 1305.2 1403.2 1305.3 1407.2 1305.3 1411.2 1305.3 1415.2 1305.3 1417.5 1305.4 1417.5 1308.4 1415.2 1308.3 1411.2 1308.3 1407.2 1308.3 1403.2 1308.3 1399.2 1308.2 1395.2 1308.2 1391.2 1308.2 1388.5 1308.2ZM1429.5 1305.5 1431.2 1305.5 1432.5 1305.5 1432.5 1308.5 1431.2 1308.5 1429.5 1308.5ZM1445.5 1305.6 1447.2 1305.6 1451.2 1305.6 1455.2 1305.6 1459.2 1305.7 1463.2 1305.7 1467.2 1305.7 1471.2 1305.8 1474.5 1305.8 1474.5 1308.8 1471.2 1308.8 1467.2 1308.7 1463.2 1308.7 1459.2 1308.7 1455.2 1308.6 1451.2 1308.6 1447.2 1308.6 1445.5 1308.6ZM1486.5 1305.9 1487.2 1305.9 1489.5 1305.9 1489.5 1308.9 1487.2 1308.9 1486.5 1308.9ZM1502.5 1306 1503.2 1306 1507.2 1306 1511.2 1306.1 1515.2 1306.1 1519.3 1306.1 1523.3 1306.1 1527.3 1306.2 1531.3 1306.2 1531.5 1306.2 1531.5 1309.2 1531.3 1309.2 1527.3 1309.2 1523.3 1309.1 1519.3 1309.1 1515.2 1309.1 1511.2 1309.1 1507.2 1309 1503.2 1309 1502.5 1309ZM1543.5 1306.3 1546.5 1306.3 1546.5 1309.3 1543.5 1309.3ZM1559.5 1306.4 1563.3 1306.4 1567.3 1306.5 1571.3 1306.5 1575.3 1306.5 1579.3 1306.6 1583.3 1306.6 1587.3 1306.6 1588.5 1306.6 1588.5 1309.6 1587.3 1309.6 1583.3 1309.6 1579.3 1309.6 1575.3 1309.5 1571.3 1309.5 1567.3 1309.5 1563.3 1309.4 1559.5 1309.4ZM1600.5 1306.7 1603.3 1306.7 1603.5 1306.7 1603.5 1309.7 1603.3 1309.7 1600.5 1309.7Z" fill="#000" clip-path="url(#cb)"/>
<rect x="129.4" y="789.8" width="1482.3" height="613.8" fill="none" stroke="#000" stroke-width="3"/>
<line x1="212.5" y1="1403.6" x2="212.5" y2="1384.6" stroke="#000" stroke-width="3"/>
<line x1="212.5" y1="789.8" x2="212.5" y2="805.8" stroke="#000" stroke-width="3"/>
<text transform="translate(212 1450.1) scale(0.88 1)" font-family="'Liberation Sans', Arial, Helvetica, sans-serif" font-size="38.9" text-anchor="middle">2</text>
<line x1="369.5" y1="1403.6" x2="369.5" y2="1384.6" stroke="#000" stroke-width="3"/>
<line x1="369.5" y1="789.8" x2="369.5" y2="805.8" stroke="#000" stroke-width="3"/>
<text transform="translate(369 1450.1) scale(0.88 1)" font-family="'Liberation Sans', Arial, Helvetica, sans-serif" font-size="38.9" text-anchor="middle">4</text>
<line x1="523.5" y1="1403.6" x2="523.5" y2="1384.6" stroke="#000" stroke-width="3"/>
<line x1="523.5" y1="789.8" x2="523.5" y2="805.8" stroke="#000" stroke-width="3"/>
<text transform="translate(523 1450.1) scale(0.88 1)" font-family="'Liberation Sans', Arial, Helvetica, sans-serif" font-size="38.9" text-anchor="middle">6</text>
<line x1="677.8" y1="1403.6" x2="677.8" y2="1384.6" stroke="#000" stroke-width="3"/>
<line x1="677.8" y1="789.8" x2="677.8" y2="805.8" stroke="#000" stroke-width="3"/>
<text transform="translate(677.3 1450.1) scale(0.88 1)" font-family="'Liberation Sans', Arial, Helvetica, sans-serif" font-size="38.9" text-anchor="middle">8</text>
<line x1="835.1" y1="1403.6" x2="835.1" y2="1384.6" stroke="#000" stroke-width="3"/>
<line x1="835.1" y1="789.8" x2="835.1" y2="805.8" stroke="#000" stroke-width="3"/>
<text transform="translate(833.6 1450.1) scale(0.88 1)" font-family="'Liberation Sans', Arial, Helvetica, sans-serif" font-size="38.9" text-anchor="middle">10</text>
<line x1="988.8" y1="1403.6" x2="988.8" y2="1384.6" stroke="#000" stroke-width="3"/>
<line x1="988.8" y1="789.8" x2="988.8" y2="805.8" stroke="#000" stroke-width="3"/>
<text transform="translate(987.3 1450.1) scale(0.88 1)" font-family="'Liberation Sans', Arial, Helvetica, sans-serif" font-size="38.9" text-anchor="middle">12</text>
<line x1="1143.3" y1="1403.6" x2="1143.3" y2="1384.6" stroke="#000" stroke-width="3"/>
<line x1="1143.3" y1="789.8" x2="1143.3" y2="805.8" stroke="#000" stroke-width="3"/>
<text transform="translate(1141.8 1450.1) scale(0.88 1)" font-family="'Liberation Sans', Arial, Helvetica, sans-serif" font-size="38.9" text-anchor="middle">14</text>
<line x1="1300.5" y1="1403.6" x2="1300.5" y2="1384.6" stroke="#000" stroke-width="3"/>
<line x1="1300.5" y1="789.8" x2="1300.5" y2="805.8" stroke="#000" stroke-width="3"/>
<text transform="translate(1299 1450.1) scale(0.88 1)" font-family="'Liberation Sans', Arial, Helvetica, sans-serif" font-size="38.9" text-anchor="middle">16</text>
<line x1="1454.4" y1="1403.6" x2="1454.4" y2="1384.6" stroke="#000" stroke-width="3"/>
<line x1="1454.4" y1="789.8" x2="1454.4" y2="805.8" stroke="#000" stroke-width="3"/>
<text transform="translate(1452.9 1450.1) scale(0.88 1)" font-family="'Liberation Sans', Arial, Helvetica, sans-serif" font-size="38.9" text-anchor="middle">18</text>
<text transform="translate(1608.8 1450.1) scale(0.88 1)" font-family="'Liberation Sans', Arial, Helvetica, sans-serif" font-size="38.9" text-anchor="middle">20</text>
<line x1="129.4" y1="1320.6" x2="148.4" y2="1320.6" stroke="#000" stroke-width="3"/>
<line x1="1611.7" y1="1320.6" x2="1595.7" y2="1320.6" stroke="#000" stroke-width="3"/>
<text transform="translate(115.5 1331.1) scale(0.94 1)" font-family="'Liberation Sans', Arial, Helvetica, sans-serif" font-size="38" text-anchor="end">1.2</text>
<line x1="129.4" y1="1234.9" x2="148.4" y2="1234.9" stroke="#000" stroke-width="3"/>
<line x1="1611.7" y1="1234.9" x2="1595.7" y2="1234.9" stroke="#000" stroke-width="3"/>
<text transform="translate(115.5 1245.4) scale(0.94 1)" font-family="'Liberation Sans', Arial, Helvetica, sans-serif" font-size="38" text-anchor="end">1.3</text>
<line x1="129.4" y1="1148.6" x2="148.4" y2="1148.6" stroke="#000" stroke-width="3"/>
<line x1="1611.7" y1="1148.6" x2="1595.7" y2="1148.6" stroke="#000" stroke-width="3"/>
<text transform="translate(115.5 1159.1) scale(0.94 1)" font-family="'Liberation Sans', Arial, Helvetica, sans-serif" font-size="38" text-anchor="end">1.4</text>
<line x1="129.4" y1="1062.9" x2="148.4" y2="1062.9" stroke="#000" stroke-width="3"/>
<line x1="1611.7" y1="1062.9" x2="1595.7" y2="1062.9" stroke="#000" stroke-width="3"/>
<text transform="translate(115.5 1073.4) scale(0.94 1)" font-family="'Liberation Sans', Arial, Helvetica, sans-serif" font-size="38" text-anchor="end">1.5</text>
<line x1="129.4" y1="980" x2="148.4" y2="980" stroke="#000" stroke-width="3"/>
<line x1="1611.7" y1="980" x2="1595.7" y2="980" stroke="#000" stroke-width="3"/>
<text transform="translate(115.5 990.5) scale(0.94 1)" font-family="'Liberation Sans', Arial, Helvetica, sans-serif" font-size="38" text-anchor="end">1.6</text>
<line x1="129.4" y1="894.3" x2="148.4" y2="894.3" stroke="#000" stroke-width="3"/>
<line x1="1611.7" y1="894.3" x2="1595.7" y2="894.3" stroke="#000" stroke-width="3"/>
<text transform="translate(115.5 904.8) scale(0.94 1)" font-family="'Liberation Sans', Arial, Helvetica, sans-serif" font-size="38" text-anchor="end">1.7</text>
<line x1="129.4" y1="807.1" x2="148.4" y2="807.1" stroke="#000" stroke-width="3"/>
<line x1="1611.7" y1="807.1" x2="1595.7" y2="807.1" stroke="#000" stroke-width="3"/>
<text transform="translate(115.5 817.6) scale(0.94 1)" font-family="'Liberation Sans', Arial, Helvetica, sans-serif" font-size="38" text-anchor="end">1.8</text>
<text transform="translate(115.5 1414.2) scale(0.94 1)" font-family="'Liberation Sans', Arial, Helvetica, sans-serif" font-size="38" text-anchor="end">1.1</text>
<rect x="1611.7" y="790" width="302.3" height="613.6" fill="none" stroke="#181818" stroke-width="3"/>
<path d="M1645.4 824.2 1674.8 824.2 1674.8 827.2 1645.4 827.2ZM1686.8 824.2 1716.2 824.2 1716.2 827.2 1686.8 827.2ZM1728.2 824.2 1755 824.2 1755 827.2 1728.2 827.2Z" fill="#000"/>
<text transform="translate(1765.8 844.4) scale(1.55 1)" font-family="'DejaVu Sans', sans-serif" font-size="34" text-anchor="start" font-weight="200">α</text>
<text transform="translate(1806.9 845.2) scale(0.95 1)" font-family="'Liberation Sans', Arial, Helvetica, sans-serif" font-size="42" text-anchor="start">=</text>
<text transform="translate(1841.9 845.2) scale(0.875 1)" font-family="'Liberation Sans', Arial, Helvetica, sans-serif" font-size="42.3" text-anchor="start">0.1</text>
<path d="M1645.4 883.4 1674.8 883.4 1674.8 886.4 1645.4 886.4ZM1686.8 883.4 1716.2 883.4 1716.2 886.4 1686.8 886.4ZM1728.2 883.4 1755 883.4 1755 886.4 1728.2 886.4Z" fill="#f00"/>
<text transform="translate(1765.8 903.6) scale(1.55 1)" font-family="'DejaVu Sans', sans-serif" font-size="34" text-anchor="start" font-weight="200">α</text>
<text transform="translate(1806.9 904.4) scale(0.95 1)" font-family="'Liberation Sans', Arial, Helvetica, sans-serif" font-size="42" text-anchor="start">=</text>
<text transform="translate(1841.9 904.4) scale(0.875 1)" font-family="'Liberation Sans', Arial, Helvetica, sans-serif" font-size="42.3" text-anchor="start">0.2</text>
<path d="M1645.4 942.8 1674.8 942.8 1674.8 945.8 1645.4 945.8ZM1686.8 942.8 1716.2 942.8 1716.2 945.8 1686.8 945.8ZM1728.2 942.8 1755 942.8 1755 945.8 1728.2 945.8Z" fill="#00f"/>
<text transform="translate(1765.8 963) scale(1.55 1)" font-family="'DejaVu Sans', sans-serif" font-size="34" text-anchor="start" font-weight="200">α</text>
<text transform="translate(1806.9 963.8) scale(0.95 1)" font-family="'Liberation Sans', Arial, Helvetica, sans-serif" font-size="42" text-anchor="start">=</text>
<text transform="translate(1841.9 963.8) scale(0.875 1)" font-family="'Liberation Sans', Arial, Helvetica, sans-serif" font-size="42.3" text-anchor="start">0.3</text>
<path d="M1633.4 1004.8 1755 1004.8 1755 1007.8 1633.4 1007.8Z" fill="#000"/>
<text transform="translate(1765.8 1025) scale(1.55 1)" font-family="'DejaVu Sans', sans-serif" font-size="34" text-anchor="start" font-weight="200">α</text>
<text transform="translate(1806.9 1025.8) scale(0.95 1)" font-family="'Liberation Sans', Arial, Helvetica, sans-serif" font-size="42" text-anchor="start">=</text>
<text transform="translate(1841.9 1025.8) scale(0.875 1)" font-family="'Liberation Sans', Arial, Helvetica, sans-serif" font-size="42.3" text-anchor="start">0.4</text>
<path d="M1633.4 1064.2 1755 1064.2 1755 1067.2 1633.4 1067.2Z" fill="#f00"/>
<text transform="translate(1765.8 1084.4) scale(1.55 1)" font-family="'DejaVu Sans', sans-serif" font-size="34" text-anchor="start" font-weight="200">α</text>
<text transform="translate(1806.9 1085.2) scale(0.95 1)" font-family="'Liberation Sans', Arial, Helvetica, sans-serif" font-size="42" text-anchor="start">=</text>
<text transform="translate(1841.9 1085.2) scale(0.875 1)" font-family="'Liberation Sans', Arial, Helvetica, sans-serif" font-size="42.3" text-anchor="start">0.5</text>
<path d="M1633.4 1123.6 1755 1123.6 1755 1126.6 1633.4 1126.6Z" fill="#00f"/>
<text transform="translate(1765.8 1143.8) scale(1.55 1)" font-family="'DejaVu Sans', sans-serif" font-size="34" text-anchor="start" font-weight="200">α</text>
<text transform="translate(1806.9 1144.6) scale(0.95 1)" font-family="'Liberation Sans', Arial, Helvetica, sans-serif" font-size="42" text-anchor="start">=</text>
<text transform="translate(1841.9 1144.6) scale(0.875 1)" font-family="'Liberation Sans', Arial, Helvetica, sans-serif" font-size="42.3" text-anchor="start">0.6</text>
<path d="M1633.4 1182.8h3v3h-3zM1648.2 1182.8h3v3h-3zM1662.9 1182.8h3v3h-3zM1677.7 1182.8h3v3h-3zM1692.4 1182.8h3v3h-3zM1707.2 1182.8h3v3h-3zM1721.9 1182.8h3v3h-3zM1736.7 1182.8h3v3h-3zM1751.4 1182.8h3v3h-3z" fill="#000"/>
<text transform="translate(1765.8 1203) scale(1.55 1)" font-family="'DejaVu Sans', sans-serif" font-size="34" text-anchor="start" font-weight="200">α</text>
<text transform="translate(1806.9 1203.8) scale(0.95 1)" font-family="'Liberation Sans', Arial, Helvetica, sans-serif" font-size="42" text-anchor="start">=</text>
<text transform="translate(1841.9 1203.8) scale(0.875 1)" font-family="'Liberation Sans', Arial, Helvetica, sans-serif" font-size="42.3" text-anchor="start">0.7</text>
<path d="M1633.4 1244.8h3v3h-3zM1648.2 1244.8h3v3h-3zM1662.9 1244.8h3v3h-3zM1677.7 1244.8h3v3h-3zM1692.4 1244.8h3v3h-3zM1707.2 1244.8h3v3h-3zM1721.9 1244.8h3v3h-3zM1736.7 1244.8h3v3h-3zM1751.4 1244.8h3v3h-3z" fill="#f00"/>
<text transform="translate(1765.8 1265) scale(1.55 1)" font-family="'DejaVu Sans', sans-serif" font-size="34" text-anchor="start" font-weight="200">α</text>
<text transform="translate(1806.9 1265.8) scale(0.95 1)" font-family="'Liberation Sans', Arial, Helvetica, sans-serif" font-size="42" text-anchor="start">=</text>
<text transform="translate(1841.9 1265.8) scale(0.875 1)" font-family="'Liberation Sans', Arial, Helvetica, sans-serif" font-size="42.3" text-anchor="start">0.8</text>
<path d="M1633.4 1304.8h3v3h-3zM1648.2 1304.8h3v3h-3zM1662.9 1304.8h3v3h-3zM1677.7 1304.8h3v3h-3zM1692.4 1304.8h3v3h-3zM1707.2 1304.8h3v3h-3zM1721.9 1304.8h3v3h-3zM1736.7 1304.8h3v3h-3zM1751.4 1304.8h3v3h-3z" fill="#00f"/>
<text transform="translate(1765.8 1325) scale(1.55 1)" font-family="'DejaVu Sans', sans-serif" font-size="34" text-anchor="start" font-weight="200">α</text>
<text transform="translate(1806.9 1325.8) scale(0.95 1)" font-family="'Liberation Sans', Arial, Helvetica, sans-serif" font-size="42" text-anchor="start">=</text>
<text transform="translate(1841.9 1325.8) scale(0.875 1)" font-family="'Liberation Sans', Arial, Helvetica, sans-serif" font-size="42.3" text-anchor="start">0.9</text>
<path d="M1633.4 1363.6 1662.4 1363.6 1662.4 1366.6 1633.4 1366.6ZM1674.4 1363.6 1677.4 1363.6 1677.4 1366.6 1674.4 1366.6ZM1690.4 1363.6 1719.4 1363.6 1719.4 1366.6 1690.4 1366.6ZM1731.4 1363.6 1734.4 1363.6 1734.4 1366.6 1731.4 1366.6ZM1747.4 1363.6 1755 1363.6 1755 1366.6 1747.4 1366.6Z" fill="#000"/>
<text transform="translate(1765.8 1383.8) scale(1.55 1)" font-family="'DejaVu Sans', sans-serif" font-size="34" text-anchor="start" font-weight="200">α</text>
<text transform="translate(1806.9 1384.6) scale(0.95 1)" font-family="'Liberation Sans', Arial, Helvetica, sans-serif" font-size="42" text-anchor="start">=</text>
<text transform="translate(1841.9 1384.6) scale(0.875 1)" font-family="'Liberation Sans', Arial, Helvetica, sans-serif" font-size="42.3" text-anchor="start">1.0</text>
<text transform="translate(53 1118.5) rotate(-90)" font-family="'Liberation Serif', 'Times New Roman', serif" font-size="46.3" text-anchor="middle">Voltage Deviations</text>
<text x="1013" y="1504.5" font-family="'Liberation Serif', 'Times New Roman', serif" font-size="46.5" text-anchor="middle">Iterations</text>
<text x="10" y="1503" font-family="'Liberation Sans', Arial, Helvetica, sans-serif" font-size="40">(b)</text>
<clipPath id="cc"><rect x="132.4" y="1559.2" width="1475.3" height="634.2"/></clipPath>
<path d="M137 1619.3 141 1623.8 145 1628.4 149 1632.9 153 1637.4 157 1641.8 161 1646.2 163.3 1648.8 163.3 1652 161 1649.5 157 1645.1 153 1640.7 149 1636.2 145 1631.8 141 1627.2 137 1622.7ZM174.4 1660.8 177.1 1663.7 181.1 1667.9 185.1 1672.2 189.1 1676.4 193.1 1680.6 197.1 1684.8 201.1 1688.9 202.4 1690.3 202.4 1693.3 201.1 1692 197.1 1687.9 193.1 1683.8 189.1 1679.6 185.1 1675.4 181.1 1671.1 177.1 1666.9 174.4 1664ZM214.2 1702.3 217.1 1705.2 221.1 1709.1 225.1 1713.1 229.1 1717 233.1 1720.8 237.1 1724.6 241.1 1728.4 243.6 1730.8 243.6 1733.8 241.1 1731.4 237.1 1727.6 233.1 1723.8 229.1 1720 225.1 1716.1 221.1 1712.1 217.1 1708.2 214.2 1705.3ZM255.6 1741.9 257.2 1743.3 261.2 1746.9 265.2 1750.5 269.2 1754 273.2 1757.6 277.2 1761.1 281.2 1764.6 285 1767.9 285 1770.9 281.2 1767.6 277.2 1764.1 273.2 1760.6 269.2 1757 265.2 1753.5 261.2 1749.9 257.2 1746.3 255.6 1744.9ZM297 1778.1 297.2 1778.2 301.2 1781.6 305.2 1784.9 309.2 1788.2 313.2 1791.5 317.2 1794.8 321.3 1798 325.3 1801.2 326.4 1802.1 326.4 1805.1 325.3 1804.2 321.3 1801 317.2 1797.8 313.2 1794.5 309.2 1791.2 305.2 1787.9 301.2 1784.6 297.2 1781.2 297 1781.1ZM338.4 1811.6 341.3 1813.8 345.3 1816.9 349.3 1820 353.3 1823 357.3 1826 361.3 1829 365.3 1832 367.8 1833.9 367.8 1836.9 365.3 1835 361.3 1832 357.3 1829 353.3 1826 349.3 1823 345.3 1819.9 341.3 1816.8 338.4 1814.6ZM379.8 1842.7 381.3 1843.7 385.3 1846.6 389.3 1849.5 393.3 1852.3 397.4 1855.2 401.4 1858 405.4 1860.7 409.2 1863.4 409.2 1866.4 405.4 1863.7 401.4 1861 397.4 1858.2 393.3 1855.3 389.3 1852.5 385.3 1849.6 381.3 1846.7 379.8 1845.7ZM421.2 1871.6 421.4 1871.7 425.4 1874.4 429.4 1877.1 433.4 1879.8 437.4 1882.5 441.4 1885.1 445.4 1887.7 449.4 1890.3 450.6 1891.1 450.6 1894.1 449.4 1893.3 445.4 1890.7 441.4 1888.1 437.4 1885.5 433.4 1882.8 429.4 1880.1 425.4 1877.4 421.4 1874.7 421.2 1874.6ZM462.6 1898.7 465.4 1900.5 469.5 1903 473.5 1905.4 477.5 1907.9 481.5 1910.3 485.5 1912.7 489.5 1915.1 492 1916.6 492 1919.6 489.5 1918.1 485.5 1915.7 481.5 1913.3 477.5 1910.9 473.5 1908.4 469.5 1906 465.4 1903.5 462.6 1901.7ZM504 1923.6 505.5 1924.4 509.5 1926.6 513.5 1928.9 517.5 1931.1 521.5 1933.3 525.5 1935.4 529.5 1937.6 533.4 1939.7 533.4 1942.7 529.5 1940.6 525.5 1938.4 521.5 1936.3 517.5 1934.1 513.5 1931.9 509.5 1929.6 505.5 1927.4 504 1926.6ZM545.4 1945.9 545.6 1946 549.6 1948.1 553.6 1950.1 557.6 1952.1 561.6 1954.1 565.6 1956.1 569.6 1958.1 573.6 1960 574.8 1960.7 574.8 1963.7 573.6 1963 569.6 1961.1 565.6 1959.1 561.6 1957.1 557.6 1955.1 553.6 1953.1 549.6 1951.1 545.6 1949 545.4 1948.9ZM586.8 1966.4 589.6 1967.7 593.6 1969.6 597.6 1971.5 601.6 1973.3 605.6 1975.2 609.6 1977 613.6 1978.8 616.2 1980 616.2 1983 613.6 1981.8 609.6 1980 605.6 1978.2 601.6 1976.3 597.6 1974.5 593.6 1972.6 589.6 1970.7 586.8 1969.4ZM628.2 1985.3 629.7 1986 633.7 1987.7 637.7 1989.4 641.7 1991.2 645.7 1992.9 649.7 1994.6 653.7 1996.3 657.6 1997.9 657.6 2000.9 653.7 1999.3 649.7 1997.6 645.7 1995.9 641.7 1994.2 637.7 1992.4 633.7 1990.7 629.7 1989 628.2 1988.3ZM669.6 2002.9 669.7 2002.9 673.7 2004.5 677.7 2006.1 681.7 2007.7 685.7 2009.3 689.8 2010.9 693.8 2012.5 697.8 2014 699 2014.5 699 2017.5 697.8 2017 693.8 2015.5 689.8 2013.9 685.7 2012.3 681.7 2010.7 677.7 2009.1 673.7 2007.5 669.7 2005.9 669.6 2005.9ZM711 2019.1 713.8 2020.1 717.8 2021.7 721.8 2023.2 725.8 2024.7 729.8 2026.1 733.8 2027.6 737.8 2029.1 740.4 2030.1 740.4 2033.1 737.8 2032.1 733.8 2030.6 729.8 2029.1 725.8 2027.7 721.8 2026.2 717.8 2024.7 713.8 2023.1 711 2022.1ZM752.4 2034.5 753.8 2035 757.8 2036.4 761.9 2037.9 765.9 2039.4 769.9 2040.8 773.9 2042.3 777.9 2043.8 781.8 2045.2 781.8 2048.2 777.9 2046.8 773.9 2045.3 769.9 2043.8 765.9 2042.4 761.9 2040.9 757.8 2039.4 753.8 2038 752.4 2037.5ZM793.8 2049.8 793.9 2049.8 797.9 2051.3 801.9 2052.8 805.9 2054.3 809.9 2055.8 813.9 2057.3 817.9 2058.8 821.9 2060.3 823.2 2060.7 823.2 2063.7 821.9 2063.3 817.9 2061.8 813.9 2060.3 809.9 2058.8 805.9 2057.3 801.9 2055.8 797.9 2054.3 793.9 2052.8 793.8 2052.8ZM835.2 2064.8 838 2065.7 842 2067 846 2068.2 850 2069.4 854 2070.5 858 2071.6 862 2072.6 864.6 2073.2 864.6 2076.2 862 2075.6 858 2074.6 854 2073.5 850 2072.4 846 2071.2 842 2070 838 2068.7 835.2 2067.8ZM876.6 2076 878 2076.3 882 2077.2 886 2078.1 890 2079 894 2079.8 898 2080.7 902 2081.5 906 2082.3 906 2085.3 902 2084.5 898 2083.7 894 2082.8 890 2082 886 2081.1 882 2080.2 878 2079.3 876.6 2079ZM918 2084.6 918.1 2084.6 922.1 2085.4 926.1 2086.1 930.1 2086.9 934.1 2087.6 938.1 2088.3 942.1 2089 946.1 2089.7 947.4 2089.9 947.4 2092.9 946.1 2092.7 942.1 2092 938.1 2091.3 934.1 2090.6 930.1 2089.9 926.1 2089.1 922.1 2088.4 918.1 2087.6 918 2087.6ZM959.4 2092 962.1 2092.4 966.1 2093.1 970.1 2093.7 974.1 2094.4 978.1 2095 982.1 2095.7 986.2 2096.3 988.8 2096.7 988.8 2099.7 986.2 2099.3 982.1 2098.7 978.1 2098 974.1 2097.4 970.1 2096.7 966.1 2096.1 962.1 2095.4 959.4 2095ZM1000.8 2098.6 1002.2 2098.8 1006.2 2099.4 1010.2 2100.1 1014.2 2100.7 1018.2 2101.3 1022.2 2102 1026.2 2102.6 1030.2 2103.2 1030.2 2103.2 1030.2 2106.2 1030.2 2106.2 1026.2 2105.6 1022.2 2105 1018.2 2104.3 1014.2 2103.7 1010.2 2103.1 1006.2 2102.4 1002.2 2101.8 1000.8 2101.6ZM1042.2 2105.2 1046.2 2105.8 1050.2 2106.4 1054.2 2107.1 1058.3 2107.7 1062.3 2108.4 1066.3 2109 1070.3 2109.7 1071.6 2109.9 1071.6 2112.9 1070.3 2112.7 1066.3 2112 1062.3 2111.4 1058.3 2110.7 1054.2 2110.1 1050.2 2109.4 1046.2 2108.8 1042.2 2108.2ZM1083.6 2111.8 1086.3 2112.2 1090.3 2112.9 1094.3 2113.5 1098.3 2114.1 1102.3 2114.7 1106.3 2115.4 1110.3 2116 1113 2116.4 1113 2119.4 1110.3 2119 1106.3 2118.4 1102.3 2117.7 1098.3 2117.1 1094.3 2116.5 1090.3 2115.9 1086.3 2115.2 1083.6 2114.8ZM1125 2118.2 1126.3 2118.4 1130.4 2119 1134.4 2119.6 1138.4 2120.1 1142.4 2120.7 1146.4 2121.2 1150.4 2121.8 1154.4 2122.3 1154.4 2122.3 1154.4 2125.3 1154.4 2125.3 1150.4 2124.8 1146.4 2124.2 1142.4 2123.7 1138.4 2123.1 1134.4 2122.6 1130.4 2122 1126.3 2121.4 1125 2121.2ZM1166.4 2123.9 1170.4 2124.4 1174.4 2124.9 1178.4 2125.4 1182.4 2125.8 1186.4 2126.3 1190.4 2126.8 1194.4 2127.2 1195.8 2127.3 1195.8 2130.3 1194.4 2130.2 1190.4 2129.8 1186.4 2129.3 1182.4 2128.8 1178.4 2128.4 1174.4 2127.9 1170.4 2127.4 1166.4 2126.9ZM1207.8 2128.6 1210.5 2128.8 1214.5 2129.2 1218.5 2129.6 1222.5 2130 1226.5 2130.3 1230.5 2130.7 1234.5 2131.1 1237.2 2131.4 1237.2 2134.4 1234.5 2134.1 1230.5 2133.7 1226.5 2133.3 1222.5 2133 1218.5 2132.6 1214.5 2132.2 1210.5 2131.8 1207.8 2131.6ZM1249.2 2132.5 1250.5 2132.6 1254.5 2133 1258.5 2133.3 1262.5 2133.7 1266.5 2134 1270.5 2134.4 1274.5 2134.7 1278.6 2135.1 1278.6 2135.1 1278.6 2138.1 1278.6 2138.1 1274.5 2137.7 1270.5 2137.4 1266.5 2137 1262.5 2136.7 1258.5 2136.3 1254.5 2136 1250.5 2135.6 1249.2 2135.5ZM1290.6 2136.1 1294.6 2136.4 1298.6 2136.7 1302.6 2137 1306.6 2137.3 1310.6 2137.6 1314.6 2137.9 1318.6 2138.2 1320 2138.3 1320 2141.3 1318.6 2141.2 1314.6 2140.9 1310.6 2140.6 1306.6 2140.3 1302.6 2140 1298.6 2139.7 1294.6 2139.4 1290.6 2139.1ZM1332 2139 1334.6 2139.2 1338.6 2139.4 1342.6 2139.6 1346.6 2139.8 1350.7 2140 1354.7 2140.2 1358.7 2140.4 1361.4 2140.5 1361.4 2143.5 1358.7 2143.4 1354.7 2143.2 1350.7 2143 1346.6 2142.8 1342.6 2142.6 1338.6 2142.4 1334.6 2142.2 1332 2142ZM1373.4 2141 1374.7 2141 1378.7 2141.2 1382.7 2141.3 1386.7 2141.4 1390.7 2141.5 1394.7 2141.6 1398.7 2141.7 1402.7 2141.8 1402.8 2141.8 1402.8 2144.8 1402.7 2144.8 1398.7 2144.7 1394.7 2144.6 1390.7 2144.5 1386.7 2144.4 1382.7 2144.3 1378.7 2144.2 1374.7 2144 1373.4 2144ZM1414.8 2142.1 1418.7 2142.1 1422.7 2142.2 1426.8 2142.3 1430.8 2142.4 1434.8 2142.5 1438.8 2142.5 1442.8 2142.6 1444.2 2142.6 1444.2 2145.6 1442.8 2145.6 1438.8 2145.5 1434.8 2145.5 1430.8 2145.4 1426.8 2145.3 1422.7 2145.2 1418.7 2145.1 1414.8 2145.1ZM1456.2 2142.8 1458.8 2142.9 1462.8 2142.9 1466.8 2143 1470.8 2143.1 1474.8 2143.1 1478.8 2143.2 1482.8 2143.2 1485.6 2143.2 1485.6 2146.2 1482.8 2146.2 1478.8 2146.2 1474.8 2146.1 1470.8 2146.1 1466.8 2146 1462.8 2145.9 1458.8 2145.9 1456.2 2145.8ZM1497.6 2143.3 1498.9 2143.4 1502.9 2143.4 1506.9 2143.4 1510.9 2143.5 1514.9 2143.5 1518.9 2143.5 1522.9 2143.6 1526.9 2143.6 1527 2143.6 1527 2146.6 1526.9 2146.6 1522.9 2146.6 1518.9 2146.5 1514.9 2146.5 1510.9 2146.5 1506.9 2146.4 1502.9 2146.4 1498.9 2146.4 1497.6 2146.3ZM1539 2143.7 1542.9 2143.7 1546.9 2143.7 1550.9 2143.8 1554.9 2143.8 1558.9 2143.8 1562.9 2143.8 1566.9 2143.9 1568.4 2143.9 1568.4 2146.9 1566.9 2146.9 1562.9 2146.8 1558.9 2146.8 1554.9 2146.8 1550.9 2146.8 1546.9 2146.7 1542.9 2146.7 1539 2146.7ZM1580.4 2143.9 1583 2143.9 1587 2144 1591 2144 1595 2144 1599 2144 1603 2144 1607 2144 1607 2147 1603 2147 1599 2147 1595 2147 1591 2147 1587 2147 1583 2146.9 1580.4 2146.9Z" fill="#000" clip-path="url(#cc)"/>
<path d="M137 1634.3 141 1638.8 145 1643.3 149 1647.8 153 1652.2 157 1656.6 161 1661 163.6 1663.8 163.6 1667 161 1664.2 157 1659.9 153 1655.5 149 1651.1 145 1646.6 141 1642.2 137 1637.7ZM174.8 1675.8 177.1 1678.2 181.1 1682.5 185.1 1686.7 189.1 1690.9 193.1 1695 197.1 1699.1 201.1 1703.2 203.1 1705.3 203.1 1708.3 201.1 1706.3 197.1 1702.2 193.1 1698.1 189.1 1694 185.1 1689.8 181.1 1685.6 177.1 1681.4 174.8 1679ZM215.1 1717.3 217.1 1719.2 221.1 1723.2 225.1 1727.1 229.1 1730.9 233.1 1734.7 237.1 1738.5 241.1 1742.3 244.5 1745.4 244.5 1748.4 241.1 1745.3 237.1 1741.5 233.1 1737.7 229.1 1733.9 225.1 1730.1 221.1 1726.2 217.1 1722.2 215.1 1720.3ZM256.5 1756.3 257.2 1756.9 261.2 1760.5 265.2 1764 269.2 1767.5 273.2 1771 277.2 1774.5 281.2 1777.9 285.2 1781.3 285.9 1781.9 285.9 1784.9 285.2 1784.3 281.2 1780.9 277.2 1777.5 273.2 1774 269.2 1770.5 265.2 1767 261.2 1763.5 257.2 1759.9 256.5 1759.3ZM297.9 1792 301.2 1794.7 305.2 1798 309.2 1801.3 313.2 1804.5 317.2 1807.7 321.3 1810.9 325.3 1814 327.3 1815.6 327.3 1818.6 325.3 1817 321.3 1813.9 317.2 1810.7 313.2 1807.5 309.2 1804.3 305.2 1801 301.2 1797.7 297.9 1795ZM339.3 1824.9 341.3 1826.5 345.3 1829.5 349.3 1832.5 353.3 1835.5 357.3 1838.5 361.3 1841.5 365.3 1844.4 368.7 1846.9 368.7 1849.9 365.3 1847.4 361.3 1844.5 357.3 1841.5 353.3 1838.5 349.3 1835.5 345.3 1832.5 341.3 1829.5 339.3 1827.9ZM380.7 1855.5 381.3 1856 385.3 1858.8 389.3 1861.6 393.3 1864.4 397.4 1867.2 401.4 1870 405.4 1872.8 409.4 1875.6 410.1 1876.1 410.1 1879.1 409.4 1878.6 405.4 1875.8 401.4 1873 397.4 1870.2 393.3 1867.4 389.3 1864.6 385.3 1861.8 381.3 1859 380.7 1858.5ZM422.1 1884.3 425.4 1886.5 429.4 1889.2 433.4 1891.9 437.4 1894.6 441.4 1897.3 445.4 1899.9 449.4 1902.5 451.5 1903.8 451.5 1906.8 449.4 1905.5 445.4 1902.9 441.4 1900.3 437.4 1897.6 433.4 1894.9 429.4 1892.2 425.4 1889.5 422.1 1887.3ZM463.5 1911.5 465.4 1912.7 469.5 1915.2 473.5 1917.7 477.5 1920.2 481.5 1922.6 485.5 1925 489.5 1927.4 492.9 1929.5 492.9 1932.5 489.5 1930.4 485.5 1928 481.5 1925.6 477.5 1923.2 473.5 1920.7 469.5 1918.2 465.4 1915.7 463.5 1914.5ZM504.9 1936.4 505.5 1936.8 509.5 1939.1 513.5 1941.3 517.5 1943.5 521.5 1945.7 525.5 1947.9 529.5 1950.1 533.5 1952.2 534.3 1952.6 534.3 1955.6 533.5 1955.2 529.5 1953.1 525.5 1950.9 521.5 1948.7 517.5 1946.5 513.5 1944.3 509.5 1942.1 505.5 1939.8 504.9 1939.4ZM546.3 1958.9 549.6 1960.6 553.6 1962.7 557.6 1964.7 561.6 1966.7 565.6 1968.7 569.6 1970.7 573.6 1972.7 575.7 1973.7 575.7 1976.7 573.6 1975.7 569.6 1973.7 565.6 1971.7 561.6 1969.7 557.6 1967.7 553.6 1965.7 549.6 1963.6 546.3 1961.9ZM587.7 1979.5 589.6 1980.4 593.6 1982.3 597.6 1984.2 601.6 1986.1 605.6 1987.9 609.6 1989.8 613.6 1991.6 617.1 1993.2 617.1 1996.2 613.6 1994.6 609.6 1992.8 605.6 1990.9 601.6 1989.1 597.6 1987.2 593.6 1985.3 589.6 1983.4 587.7 1982.5ZM629.1 1998.6 629.7 1998.8 633.7 2000.6 637.7 2002.3 641.7 2004.1 645.7 2005.8 649.7 2007.5 653.7 2009.3 657.7 2010.9 658.5 2011.3 658.5 2014.3 657.7 2013.9 653.7 2012.3 649.7 2010.5 645.7 2008.8 641.7 2007.1 637.7 2005.3 633.7 2003.6 629.7 2001.8 629.1 2001.6ZM670.5 2016.2 673.7 2017.6 677.7 2019.2 681.7 2020.8 685.7 2022.4 689.8 2024 693.8 2025.6 697.8 2027.1 699.9 2028 699.9 2031 697.8 2030.1 693.8 2028.6 689.8 2027 685.7 2025.4 681.7 2023.8 677.7 2022.2 673.7 2020.6 670.5 2019.2ZM711.9 2032.6 713.8 2033.3 717.8 2034.8 721.8 2036.4 725.8 2037.9 729.8 2039.4 733.8 2040.9 737.8 2042.4 741.3 2043.7 741.3 2046.7 737.8 2045.4 733.8 2043.9 729.8 2042.4 725.8 2040.9 721.8 2039.4 717.8 2037.8 713.8 2036.3 711.9 2035.6ZM753.3 2048.1 753.8 2048.3 757.8 2049.8 761.9 2051.3 765.9 2052.7 769.9 2054.2 773.9 2055.7 777.9 2057.2 781.9 2058.7 782.7 2059 782.7 2062 781.9 2061.7 777.9 2060.2 773.9 2058.7 769.9 2057.2 765.9 2055.7 761.9 2054.3 757.8 2052.8 753.8 2051.3 753.3 2051.1ZM794.7 2063.6 797.9 2064.8 801.9 2066.3 805.9 2067.9 809.9 2069.4 813.9 2071 817.9 2072.5 821.9 2073.9 824.1 2074.7 824.1 2077.7 821.9 2076.9 817.9 2075.5 813.9 2074 809.9 2072.4 805.9 2070.9 801.9 2069.3 797.9 2067.8 794.7 2066.6ZM836.1 2078.9 838 2079.6 842 2080.9 846 2082.1 850 2083.3 854 2084.5 858 2085.6 862 2086.6 865.5 2087.5 865.5 2090.5 862 2089.6 858 2088.6 854 2087.5 850 2086.3 846 2085.1 842 2083.9 838 2082.6 836.1 2081.9ZM877.5 2090.4 878 2090.5 882 2091.5 886 2092.4 890 2093.3 894 2094.2 898 2095 902 2095.9 906 2096.7 906.9 2096.9 906.9 2099.9 906 2099.7 902 2098.9 898 2098 894 2097.2 890 2096.3 886 2095.4 882 2094.5 878 2093.5 877.5 2093.4ZM918.9 2099.3 922.1 2100 926.1 2100.7 930.1 2101.5 934.1 2102.3 938.1 2103 942.1 2103.8 946.1 2104.5 948.3 2104.9 948.3 2107.9 946.1 2107.5 942.1 2106.8 938.1 2106 934.1 2105.3 930.1 2104.5 926.1 2103.7 922.1 2103 918.9 2102.3ZM960.3 2107 962.1 2107.3 966.1 2108 970.1 2108.7 974.1 2109.4 978.1 2110.1 982.1 2110.7 986.2 2111.4 989.7 2112 989.7 2115 986.2 2114.4 982.1 2113.7 978.1 2113.1 974.1 2112.4 970.1 2111.7 966.1 2111 962.1 2110.3 960.3 2110ZM1001.7 2114 1002.2 2114.1 1006.2 2114.8 1010.2 2115.4 1014.2 2116.1 1018.2 2116.7 1022.2 2117.4 1026.2 2118.1 1030.2 2118.8 1031.1 2118.9 1031.1 2121.9 1030.2 2121.8 1026.2 2121.1 1022.2 2120.4 1018.2 2119.7 1014.2 2119.1 1010.2 2118.4 1006.2 2117.8 1002.2 2117.1 1001.7 2117ZM1043.1 2120.9 1046.2 2121.5 1050.2 2122.1 1054.2 2122.8 1058.3 2123.5 1062.3 2124.2 1066.3 2124.9 1070.3 2125.5 1072.5 2125.9 1072.5 2128.9 1070.3 2128.5 1066.3 2127.9 1062.3 2127.2 1058.3 2126.5 1054.2 2125.8 1050.2 2125.1 1046.2 2124.5 1043.1 2123.9ZM1084.5 2127.9 1086.3 2128.2 1090.3 2128.9 1094.3 2129.6 1098.3 2130.2 1102.3 2130.9 1106.3 2131.5 1110.3 2132.2 1113.9 2132.8 1113.9 2135.8 1110.3 2135.2 1106.3 2134.5 1102.3 2133.9 1098.3 2133.2 1094.3 2132.6 1090.3 2131.9 1086.3 2131.2 1084.5 2130.9ZM1125.9 2134.7 1126.3 2134.7 1130.4 2135.4 1134.4 2136 1138.4 2136.6 1142.4 2137.2 1146.4 2137.8 1150.4 2138.4 1154.4 2138.9 1155.3 2139.1 1155.3 2142.1 1154.4 2141.9 1150.4 2141.4 1146.4 2140.8 1142.4 2140.2 1138.4 2139.6 1134.4 2139 1130.4 2138.4 1126.3 2137.7 1125.9 2137.7ZM1167.3 2140.7 1170.4 2141.1 1174.4 2141.7 1178.4 2142.2 1182.4 2142.7 1186.4 2143.2 1190.4 2143.7 1194.4 2144.1 1196.7 2144.4 1196.7 2147.4 1194.4 2147.1 1190.4 2146.7 1186.4 2146.2 1182.4 2145.7 1178.4 2145.2 1174.4 2144.7 1170.4 2144.1 1167.3 2143.7ZM1208.7 2145.7 1210.5 2145.9 1214.5 2146.3 1218.5 2146.7 1222.5 2147.1 1226.5 2147.5 1230.5 2147.9 1234.5 2148.3 1238.1 2148.6 1238.1 2151.6 1234.5 2151.3 1230.5 2150.9 1226.5 2150.5 1222.5 2150.1 1218.5 2149.7 1214.5 2149.3 1210.5 2148.9 1208.7 2148.7ZM1250.1 2149.8 1250.5 2149.9 1254.5 2150.2 1258.5 2150.6 1262.5 2151 1266.5 2151.4 1270.5 2151.7 1274.5 2152.1 1278.6 2152.5 1279.5 2152.6 1279.5 2155.6 1278.6 2155.5 1274.5 2155.1 1270.5 2154.7 1266.5 2154.4 1262.5 2154 1258.5 2153.6 1254.5 2153.2 1250.5 2152.9 1250.1 2152.8ZM1291.5 2153.6 1294.6 2153.9 1298.6 2154.2 1302.6 2154.5 1306.6 2154.8 1310.6 2155.1 1314.6 2155.4 1318.6 2155.7 1320.9 2155.9 1320.9 2158.9 1318.6 2158.7 1314.6 2158.4 1310.6 2158.1 1306.6 2157.8 1302.6 2157.5 1298.6 2157.2 1294.6 2156.9 1291.5 2156.6ZM1332.9 2156.7 1334.6 2156.8 1338.6 2157.1 1342.6 2157.3 1346.6 2157.6 1350.7 2157.8 1354.7 2158 1358.7 2158.2 1362.3 2158.4 1362.3 2161.4 1358.7 2161.2 1354.7 2161 1350.7 2160.8 1346.6 2160.6 1342.6 2160.3 1338.6 2160.1 1334.6 2159.8 1332.9 2159.7ZM1374.3 2158.9 1374.7 2158.9 1378.7 2159 1382.7 2159.2 1386.7 2159.3 1390.7 2159.4 1394.7 2159.5 1398.7 2159.7 1402.7 2159.8 1403.7 2159.8 1403.7 2162.8 1402.7 2162.8 1398.7 2162.7 1394.7 2162.5 1390.7 2162.4 1386.7 2162.3 1382.7 2162.2 1378.7 2162 1374.7 2161.9 1374.3 2161.9ZM1415.7 2160.1 1418.7 2160.2 1422.7 2160.3 1426.8 2160.4 1430.8 2160.5 1434.8 2160.6 1438.8 2160.7 1442.8 2160.8 1445.1 2160.9 1445.1 2163.9 1442.8 2163.8 1438.8 2163.7 1434.8 2163.6 1430.8 2163.5 1426.8 2163.4 1422.7 2163.3 1418.7 2163.2 1415.7 2163.1ZM1457.1 2161.1 1458.8 2161.2 1462.8 2161.2 1466.8 2161.3 1470.8 2161.4 1474.8 2161.5 1478.8 2161.5 1482.8 2161.6 1486.5 2161.6 1486.5 2164.6 1482.8 2164.6 1478.8 2164.5 1474.8 2164.5 1470.8 2164.4 1466.8 2164.3 1462.8 2164.2 1458.8 2164.2 1457.1 2164.1ZM1498.5 2161.8 1498.9 2161.8 1502.9 2161.9 1506.9 2161.9 1510.9 2162 1514.9 2162 1518.9 2162.1 1522.9 2162.1 1526.9 2162.2 1527.9 2162.2 1527.9 2165.2 1526.9 2165.2 1522.9 2165.1 1518.9 2165.1 1514.9 2165 1510.9 2165 1506.9 2164.9 1502.9 2164.9 1498.9 2164.8 1498.5 2164.8ZM1539.9 2162.4 1542.9 2162.4 1546.9 2162.4 1550.9 2162.5 1554.9 2162.5 1558.9 2162.6 1562.9 2162.6 1566.9 2162.7 1569.3 2162.7 1569.3 2165.7 1566.9 2165.7 1562.9 2165.6 1558.9 2165.6 1554.9 2165.5 1550.9 2165.5 1546.9 2165.4 1542.9 2165.4 1539.9 2165.4ZM1581.3 2162.8 1583 2162.8 1587 2162.9 1591 2162.9 1595 2162.9 1599 2162.9 1603 2163 1607 2163 1607 2166 1603 2166 1599 2165.9 1595 2165.9 1591 2165.9 1587 2165.9 1583 2165.8 1581.3 2165.8Z" fill="#f00" clip-path="url(#cc)"/>
<path d="M137 1628.3 141 1632.9 145 1637.4 149 1641.9 153 1646.4 157 1650.9 161 1655.3 163.2 1657.8 163.2 1661 161 1658.6 157 1654.2 153 1649.8 149 1645.3 145 1640.8 141 1636.3 137 1631.7ZM174.3 1669.8 177.1 1672.8 181.1 1677.1 185.1 1681.4 189.1 1685.6 193.1 1689.8 197.1 1694 201.1 1698.2 202.1 1699.3 202.1 1702.3 201.1 1701.3 197.1 1697.1 193.1 1693 189.1 1688.8 185.1 1684.6 181.1 1680.3 177.1 1676 174.3 1673ZM214 1711.3 217.1 1714.5 221.1 1718.4 225.1 1722.4 229.1 1726.3 233.1 1730.2 237.1 1734 241.1 1737.8 243.3 1739.9 243.3 1742.9 241.1 1740.8 237.1 1737 233.1 1733.2 229.1 1729.3 225.1 1725.4 221.1 1721.4 217.1 1717.5 214 1714.3ZM255.3 1751.1 257.2 1752.7 261.2 1756.3 265.2 1760 269.2 1763.5 273.2 1767.1 277.2 1770.6 281.2 1774.1 284.7 1777.2 284.7 1780.2 281.2 1777.1 277.2 1773.6 273.2 1770.1 269.2 1766.5 265.2 1763 261.2 1759.3 257.2 1755.7 255.3 1754.1ZM296.7 1787.4 297.2 1787.8 301.2 1791.2 305.2 1794.5 309.2 1797.9 313.2 1801.2 317.2 1804.4 321.3 1807.7 325.3 1810.9 326.1 1811.6 326.1 1814.6 325.3 1813.9 321.3 1810.7 317.2 1807.4 313.2 1804.2 309.2 1800.9 305.2 1797.5 301.2 1794.2 297.2 1790.8 296.7 1790.4ZM338.1 1821.1 341.3 1823.6 345.3 1826.7 349.3 1829.8 353.3 1832.8 357.3 1835.9 361.3 1838.9 365.3 1841.9 367.5 1843.6 367.5 1846.6 365.3 1844.9 361.3 1841.9 357.3 1838.9 353.3 1835.8 349.3 1832.8 345.3 1829.7 341.3 1826.6 338.1 1824.1ZM379.5 1852.4 381.3 1853.7 385.3 1856.6 389.3 1859.4 393.3 1862.3 397.4 1865.1 401.4 1868 405.4 1870.8 408.9 1873.3 408.9 1876.3 405.4 1873.8 401.4 1871 397.4 1868.1 393.3 1865.3 389.3 1862.4 385.3 1859.6 381.3 1856.7 379.5 1855.4ZM420.9 1881.6 421.4 1881.9 425.4 1884.6 429.4 1887.3 433.4 1890 437.4 1892.7 441.4 1895.4 445.4 1898 449.4 1900.6 450.3 1901.2 450.3 1904.2 449.4 1903.6 445.4 1901 441.4 1898.4 437.4 1895.7 433.4 1893 429.4 1890.3 425.4 1887.6 421.4 1884.9 420.9 1884.6ZM462.3 1908.9 465.4 1910.9 469.5 1913.4 473.5 1915.9 477.5 1918.4 481.5 1920.8 485.5 1923.3 489.5 1925.7 491.7 1927 491.7 1930 489.5 1928.7 485.5 1926.3 481.5 1923.8 477.5 1921.4 473.5 1918.9 469.5 1916.4 465.4 1913.9 462.3 1911.9ZM503.7 1934 505.5 1935 509.5 1937.3 513.5 1939.6 517.5 1941.8 521.5 1944 525.5 1946.2 529.5 1948.4 533.1 1950.3 533.1 1953.3 529.5 1951.4 525.5 1949.2 521.5 1947 517.5 1944.8 513.5 1942.6 509.5 1940.3 505.5 1938 503.7 1937ZM545.1 1956.7 545.6 1956.9 549.6 1959 553.6 1961.1 557.6 1963.1 561.6 1965.1 565.6 1967.2 569.6 1969.2 573.6 1971.1 574.5 1971.6 574.5 1974.6 573.6 1974.1 569.6 1972.2 565.6 1970.2 561.6 1968.1 557.6 1966.1 553.6 1964.1 549.6 1962 545.6 1959.9 545.1 1959.7ZM586.5 1977.4 589.6 1978.9 593.6 1980.8 597.6 1982.7 601.6 1984.6 605.6 1986.5 609.6 1988.3 613.6 1990.2 615.9 1991.2 615.9 1994.2 613.6 1993.2 609.6 1991.3 605.6 1989.5 601.6 1987.6 597.6 1985.7 593.6 1983.8 589.6 1981.9 586.5 1980.4ZM627.9 1996.6 629.7 1997.4 633.7 1999.2 637.7 2000.9 641.7 2002.7 645.7 2004.4 649.7 2006.2 653.7 2007.9 657.3 2009.4 657.3 2012.4 653.7 2010.9 649.7 2009.2 645.7 2007.4 641.7 2005.7 637.7 2003.9 633.7 2002.2 629.7 2000.4 627.9 1999.6ZM669.3 2014.4 669.7 2014.6 673.7 2016.2 677.7 2017.9 681.7 2019.5 685.7 2021.1 689.8 2022.7 693.8 2024.3 697.8 2025.9 698.7 2026.3 698.7 2029.3 697.8 2028.9 693.8 2027.3 689.8 2025.7 685.7 2024.1 681.7 2022.5 677.7 2020.9 673.7 2019.2 669.7 2017.6 669.3 2017.4ZM710.7 2030.9 713.8 2032.1 717.8 2033.6 721.8 2035.2 725.8 2036.7 729.8 2038.2 733.8 2039.7 737.8 2041.2 740.1 2042.1 740.1 2045.1 737.8 2044.2 733.8 2042.7 729.8 2041.2 725.8 2039.7 721.8 2038.2 717.8 2036.6 713.8 2035.1 710.7 2033.9ZM752.1 2046.6 753.8 2047.2 757.8 2048.7 761.9 2050.2 765.9 2051.7 769.9 2053.1 773.9 2054.6 777.9 2056.1 781.5 2057.5 781.5 2060.5 777.9 2059.1 773.9 2057.6 769.9 2056.1 765.9 2054.7 761.9 2053.2 757.8 2051.7 753.8 2050.2 752.1 2049.6ZM793.5 2062.1 793.9 2062.2 797.9 2063.8 801.9 2065.4 805.9 2066.9 809.9 2068.5 813.9 2070.1 817.9 2071.6 821.9 2073.1 822.9 2073.5 822.9 2076.5 821.9 2076.1 817.9 2074.6 813.9 2073.1 809.9 2071.5 805.9 2069.9 801.9 2068.4 797.9 2066.8 793.9 2065.2 793.5 2065.1ZM834.9 2077.8 838 2078.8 842 2080.2 846 2081.5 850 2082.7 854 2083.9 858 2085 862 2086.1 864.3 2086.7 864.3 2089.7 862 2089.1 858 2088 854 2086.9 850 2085.7 846 2084.5 842 2083.2 838 2081.8 834.9 2080.8ZM876.3 2089.7 878 2090.1 882 2091.1 886 2092 890 2092.9 894 2093.9 898 2094.8 902 2095.7 905.7 2096.5 905.7 2099.5 902 2098.7 898 2097.8 894 2096.9 890 2095.9 886 2095 882 2094.1 878 2093.1 876.3 2092.7ZM917.7 2099 918.1 2099.1 922.1 2099.9 926.1 2100.7 930.1 2101.5 934.1 2102.3 938.1 2103 942.1 2103.8 946.1 2104.6 947.1 2104.8 947.1 2107.8 946.1 2107.6 942.1 2106.8 938.1 2106 934.1 2105.3 930.1 2104.5 926.1 2103.7 922.1 2102.9 918.1 2102.1 917.7 2102ZM959.1 2107 962.1 2107.5 966.1 2108.3 970.1 2109 974.1 2109.7 978.1 2110.4 982.1 2111.1 986.2 2111.8 988.5 2112.2 988.5 2115.2 986.2 2114.8 982.1 2114.1 978.1 2113.4 974.1 2112.7 970.1 2112 966.1 2111.3 962.1 2110.5 959.1 2110ZM1000.5 2114.3 1002.2 2114.6 1006.2 2115.3 1010.2 2116 1014.2 2116.7 1018.2 2117.4 1022.2 2118.1 1026.2 2118.8 1029.9 2119.4 1029.9 2122.4 1026.2 2121.8 1022.2 2121.1 1018.2 2120.4 1014.2 2119.7 1010.2 2119 1006.2 2118.3 1002.2 2117.6 1000.5 2117.3ZM1041.9 2121.5 1042.2 2121.6 1046.2 2122.3 1050.2 2123 1054.2 2123.7 1058.3 2124.4 1062.3 2125.1 1066.3 2125.9 1070.3 2126.6 1071.3 2126.8 1071.3 2129.8 1070.3 2129.6 1066.3 2128.9 1062.3 2128.1 1058.3 2127.4 1054.2 2126.7 1050.2 2126 1046.2 2125.3 1042.2 2124.6 1041.9 2124.5ZM1083.3 2128.9 1086.3 2129.4 1090.3 2130.1 1094.3 2130.8 1098.3 2131.5 1102.3 2132.2 1106.3 2132.8 1110.3 2133.5 1112.7 2133.9 1112.7 2136.9 1110.3 2136.5 1106.3 2135.8 1102.3 2135.2 1098.3 2134.5 1094.3 2133.8 1090.3 2133.1 1086.3 2132.4 1083.3 2131.9ZM1124.7 2135.9 1126.3 2136.2 1130.4 2136.8 1134.4 2137.5 1138.4 2138.1 1142.4 2138.8 1146.4 2139.4 1150.4 2140 1154.1 2140.6 1154.1 2143.6 1150.4 2143 1146.4 2142.4 1142.4 2141.8 1138.4 2141.1 1134.4 2140.5 1130.4 2139.8 1126.3 2139.2 1124.7 2138.9ZM1166.1 2142.3 1166.4 2142.4 1170.4 2142.9 1174.4 2143.5 1178.4 2144 1182.4 2144.6 1186.4 2145.1 1190.4 2145.6 1194.4 2146.1 1195.5 2146.2 1195.5 2149.2 1194.4 2149.1 1190.4 2148.6 1186.4 2148.1 1182.4 2147.6 1178.4 2147 1174.4 2146.5 1170.4 2145.9 1166.4 2145.4 1166.1 2145.3ZM1207.5 2147.6 1210.5 2147.9 1214.5 2148.3 1218.5 2148.7 1222.5 2149.1 1226.5 2149.5 1230.5 2150 1234.5 2150.4 1236.9 2150.6 1236.9 2153.6 1234.5 2153.4 1230.5 2153 1226.5 2152.5 1222.5 2152.1 1218.5 2151.7 1214.5 2151.3 1210.5 2150.9 1207.5 2150.6ZM1248.9 2151.8 1250.5 2152 1254.5 2152.4 1258.5 2152.8 1262.5 2153.2 1266.5 2153.5 1270.5 2153.9 1274.5 2154.3 1278.3 2154.6 1278.3 2157.6 1274.5 2157.3 1270.5 2156.9 1266.5 2156.5 1262.5 2156.2 1258.5 2155.8 1254.5 2155.4 1250.5 2155 1248.9 2154.8ZM1290.3 2155.7 1290.6 2155.7 1294.6 2156.1 1298.6 2156.4 1302.6 2156.8 1306.6 2157.1 1310.6 2157.4 1314.6 2157.7 1318.6 2158 1319.7 2158.1 1319.7 2161.1 1318.6 2161 1314.6 2160.7 1310.6 2160.4 1306.6 2160.1 1302.6 2159.8 1298.6 2159.4 1294.6 2159.1 1290.6 2158.7 1290.3 2158.7ZM1331.7 2159 1334.6 2159.2 1338.6 2159.4 1342.6 2159.7 1346.6 2159.9 1350.7 2160.2 1354.7 2160.4 1358.7 2160.6 1361.1 2160.7 1361.1 2163.7 1358.7 2163.6 1354.7 2163.4 1350.7 2163.2 1346.6 2162.9 1342.6 2162.7 1338.6 2162.4 1334.6 2162.2 1331.7 2162ZM1373.1 2161.3 1374.7 2161.3 1378.7 2161.5 1382.7 2161.6 1386.7 2161.8 1390.7 2161.9 1394.7 2162 1398.7 2162.1 1402.5 2162.3 1402.5 2165.3 1398.7 2165.1 1394.7 2165 1390.7 2164.9 1386.7 2164.8 1382.7 2164.6 1378.7 2164.5 1374.7 2164.3 1373.1 2164.3ZM1414.5 2162.6 1414.7 2162.6 1418.7 2162.8 1422.7 2162.9 1426.8 2163 1430.8 2163.1 1434.8 2163.2 1438.8 2163.3 1442.8 2163.4 1443.9 2163.4 1443.9 2166.4 1442.8 2166.4 1438.8 2166.3 1434.8 2166.2 1430.8 2166.1 1426.8 2166 1422.7 2165.9 1418.7 2165.8 1414.7 2165.6 1414.5 2165.6ZM1455.9 2163.7 1458.8 2163.8 1462.8 2163.9 1466.8 2164 1470.8 2164 1474.8 2164.1 1478.8 2164.2 1482.8 2164.3 1485.3 2164.3 1485.3 2167.3 1482.8 2167.3 1478.8 2167.2 1474.8 2167.1 1470.8 2167 1466.8 2167 1462.8 2166.9 1458.8 2166.8 1455.9 2166.7ZM1497.3 2164.5 1498.9 2164.6 1502.9 2164.6 1506.9 2164.7 1510.9 2164.8 1514.9 2164.8 1518.9 2164.9 1522.9 2164.9 1526.7 2165 1526.7 2168 1522.9 2167.9 1518.9 2167.9 1514.9 2167.8 1510.9 2167.8 1506.9 2167.7 1502.9 2167.6 1498.9 2167.6 1497.3 2167.5ZM1538.7 2165.2 1538.9 2165.2 1542.9 2165.2 1546.9 2165.3 1550.9 2165.4 1554.9 2165.4 1558.9 2165.5 1562.9 2165.5 1566.9 2165.6 1568.1 2165.6 1568.1 2168.6 1566.9 2168.6 1562.9 2168.5 1558.9 2168.5 1554.9 2168.4 1550.9 2168.4 1546.9 2168.3 1542.9 2168.2 1538.9 2168.2 1538.7 2168.2ZM1580.1 2165.7 1583 2165.8 1587 2165.8 1591 2165.8 1595 2165.9 1599 2165.9 1603 2166 1607 2166 1607 2169 1603 2169 1599 2168.9 1595 2168.9 1591 2168.8 1587 2168.8 1583 2168.8 1580.1 2168.7Z" fill="#00f" clip-path="url(#cc)"/>
<path d="M137 1622.3 141 1626.8 145 1631.4 149 1635.8 153 1640.3 157 1644.7 161 1649.1 165 1653.5 169 1657.9 173 1662.2 177.1 1666.5 181.1 1670.8 185.1 1675 189.1 1679.2 193.1 1683.4 197.1 1687.6 201.1 1691.7 205.1 1695.8 209.1 1699.8 213.1 1703.9 217.1 1707.9 221.1 1711.8 225.1 1715.7 229.1 1719.6 233.1 1723.5 237.1 1727.3 241.1 1731 245.1 1734.8 249.2 1738.5 253.2 1742.2 257.2 1745.8 261.2 1749.4 265.2 1753 269.2 1756.5 273.2 1760 277.2 1763.5 281.2 1767 285.2 1770.4 289.2 1773.9 293.2 1777.3 297.2 1780.6 301.2 1784 305.2 1787.3 309.2 1790.6 313.2 1793.8 317.2 1797.1 321.3 1800.3 325.3 1803.5 329.3 1806.6 333.3 1809.8 337.3 1812.9 341.3 1816 345.3 1819.1 349.3 1822.2 353.3 1825.2 357.3 1828.2 361.3 1831.2 365.3 1834.2 369.3 1837.1 373.3 1840 377.3 1842.9 381.3 1845.8 385.3 1848.7 389.3 1851.5 393.3 1854.3 397.4 1857.2 401.4 1860 405.4 1862.7 409.4 1865.5 413.4 1868.3 417.4 1871 421.4 1873.7 425.4 1876.4 429.4 1879.1 433.4 1881.8 437.4 1884.4 441.4 1887 445.4 1889.7 449.4 1892.2 453.4 1894.8 457.4 1897.4 461.4 1899.9 465.4 1902.4 469.5 1904.9 473.5 1907.4 477.5 1909.8 481.5 1912.2 485.5 1914.6 489.5 1917 493.5 1919.3 497.5 1921.7 501.5 1924 505.5 1926.3 509.5 1928.5 513.5 1930.7 517.5 1932.9 521.5 1935.1 525.5 1937.3 529.5 1939.4 533.5 1941.6 537.5 1943.7 541.6 1945.7 545.6 1947.8 549.6 1949.9 553.6 1951.9 557.6 1953.9 561.6 1955.9 565.6 1957.9 569.6 1959.9 573.6 1961.8 577.6 1963.8 581.6 1965.7 585.6 1967.6 589.6 1969.5 593.6 1971.4 597.6 1973.2 601.6 1975.1 605.6 1976.9 609.6 1978.7 613.6 1980.6 617.7 1982.3 621.7 1984.1 625.7 1985.9 629.7 1987.7 633.7 1989.4 637.7 1991.2 641.7 1992.9 645.7 1994.6 649.7 1996.3 653.7 1998 657.7 1999.7 661.7 2001.3 665.7 2003 669.7 2004.6 673.7 2006.2 677.7 2007.8 681.7 2009.4 685.7 2011 689.8 2012.5 693.8 2014.1 697.8 2015.6 701.8 2017.2 705.8 2018.7 709.8 2020.2 713.8 2021.7 717.8 2023.3 721.8 2024.8 725.8 2026.2 729.8 2027.7 733.8 2029.2 737.8 2030.7 741.8 2032.2 745.8 2033.6 749.8 2035.1 753.8 2036.5 757.8 2038 761.9 2039.5 765.9 2040.9 769.9 2042.4 773.9 2043.8 777.9 2045.3 781.9 2046.8 785.9 2048.3 789.9 2049.8 793.9 2051.3 797.9 2052.8 801.9 2054.3 805.9 2055.8 809.9 2057.3 813.9 2058.8 817.9 2060.3 821.9 2061.7 825.9 2063.1 829.9 2064.5 833.9 2065.9 838 2067.2 842 2068.4 846 2069.7 850 2070.8 854 2071.9 858 2073 862 2074 866 2075 870 2075.9 874 2076.8 878 2077.7 882 2078.6 886 2079.5 890 2080.4 894 2081.2 898 2082 902 2082.9 906 2083.7 910.1 2084.5 914.1 2085.2 918.1 2086 922.1 2086.7 926.1 2087.5 930.1 2088.2 934.1 2088.9 938.1 2089.6 942.1 2090.3 946.1 2091 950.1 2091.7 954.1 2092.4 958.1 2093 962.1 2093.7 966.1 2094.4 970.1 2095 974.1 2095.7 978.1 2096.3 982.1 2096.9 986.2 2097.6 990.2 2098.2 994.2 2098.8 998.2 2099.4 1002.2 2100.1 1006.2 2100.7 1010.2 2101.3 1014.2 2101.9 1018.2 2102.6 1022.2 2103.2 1026.2 2103.8 1030.2 2104.4 1034.2 2105.1 1038.2 2105.7 1042.2 2106.4 1046.2 2107 1050.2 2107.6 1054.2 2108.3 1058.3 2108.9 1062.3 2109.6 1066.3 2110.2 1070.3 2110.8 1074.3 2111.5 1078.3 2112.1 1082.3 2112.7 1086.3 2113.4 1090.3 2114 1094.3 2114.6 1098.3 2115.3 1102.3 2115.9 1106.3 2116.5 1110.3 2117.1 1114.3 2117.7 1118.3 2118.3 1122.3 2118.9 1126.3 2119.5 1130.4 2120.1 1134.4 2120.6 1138.4 2121.2 1142.4 2121.8 1146.4 2122.3 1150.4 2122.9 1154.4 2123.4 1158.4 2123.9 1162.4 2124.4 1166.4 2124.9 1170.4 2125.4 1174.4 2125.9 1178.4 2126.4 1182.4 2126.9 1186.4 2127.3 1190.4 2127.8 1194.4 2128.2 1198.4 2128.6 1202.4 2129 1206.5 2129.4 1210.5 2129.8 1214.5 2130.2 1218.5 2130.6 1222.5 2130.9 1226.5 2131.3 1230.5 2131.7 1234.5 2132.1 1238.5 2132.4 1242.5 2132.8 1246.5 2133.2 1250.5 2133.5 1254.5 2133.9 1258.5 2134.3 1262.5 2134.6 1266.5 2135 1270.5 2135.3 1274.5 2135.7 1278.6 2136 1282.6 2136.3 1286.6 2136.6 1290.6 2137 1294.6 2137.3 1298.6 2137.6 1302.6 2137.9 1306.6 2138.2 1310.6 2138.5 1314.6 2138.7 1318.6 2139 1322.6 2139.3 1326.6 2139.5 1330.6 2139.8 1334.6 2140 1338.6 2140.2 1342.6 2140.5 1346.6 2140.7 1350.7 2140.9 1354.7 2141 1358.7 2141.2 1362.7 2141.4 1366.7 2141.5 1370.7 2141.7 1374.7 2141.8 1378.7 2141.9 1382.7 2142 1386.7 2142.1 1390.7 2142.2 1394.7 2142.3 1398.7 2142.4 1402.7 2142.5 1406.7 2142.6 1410.7 2142.7 1414.7 2142.8 1418.7 2142.9 1422.7 2143 1426.8 2143 1430.8 2143.1 1434.8 2143.2 1438.8 2143.3 1442.8 2143.3 1446.8 2143.4 1450.8 2143.4 1454.8 2143.5 1458.8 2143.6 1462.8 2143.6 1466.8 2143.7 1470.8 2143.7 1474.8 2143.8 1478.8 2143.8 1482.8 2143.9 1486.8 2143.9 1490.8 2143.9 1494.8 2144 1498.9 2144 1502.9 2144 1506.9 2144 1510.9 2144.1 1514.9 2144.1 1518.9 2144.1 1522.9 2144.2 1526.9 2144.2 1530.9 2144.2 1534.9 2144.2 1538.9 2144.3 1542.9 2144.3 1546.9 2144.3 1550.9 2144.3 1554.9 2144.4 1558.9 2144.4 1562.9 2144.4 1566.9 2144.4 1571 2144.4 1575 2144.4 1579 2144.5 1583 2144.5 1587 2144.5 1591 2144.5 1595 2144.5 1599 2144.5 1603 2144.5 1607 2144.5 1607 2147.5 1603 2147.5 1599 2147.5 1595 2147.5 1591 2147.5 1587 2147.5 1583 2147.5 1579 2147.5 1575 2147.4 1571 2147.4 1566.9 2147.4 1562.9 2147.4 1558.9 2147.4 1554.9 2147.4 1550.9 2147.3 1546.9 2147.3 1542.9 2147.3 1538.9 2147.3 1534.9 2147.2 1530.9 2147.2 1526.9 2147.2 1522.9 2147.2 1518.9 2147.1 1514.9 2147.1 1510.9 2147.1 1506.9 2147 1502.9 2147 1498.9 2147 1494.8 2147 1490.8 2146.9 1486.8 2146.9 1482.8 2146.9 1478.8 2146.8 1474.8 2146.8 1470.8 2146.7 1466.8 2146.7 1462.8 2146.6 1458.8 2146.6 1454.8 2146.5 1450.8 2146.4 1446.8 2146.4 1442.8 2146.3 1438.8 2146.3 1434.8 2146.2 1430.8 2146.1 1426.8 2146 1422.7 2146 1418.7 2145.9 1414.7 2145.8 1410.7 2145.7 1406.7 2145.6 1402.7 2145.5 1398.7 2145.4 1394.7 2145.3 1390.7 2145.2 1386.7 2145.1 1382.7 2145 1378.7 2144.9 1374.7 2144.8 1370.7 2144.7 1366.7 2144.5 1362.7 2144.4 1358.7 2144.2 1354.7 2144 1350.7 2143.9 1346.6 2143.7 1342.6 2143.5 1338.6 2143.2 1334.6 2143 1330.6 2142.8 1326.6 2142.5 1322.6 2142.3 1318.6 2142 1314.6 2141.7 1310.6 2141.5 1306.6 2141.2 1302.6 2140.9 1298.6 2140.6 1294.6 2140.3 1290.6 2140 1286.6 2139.6 1282.6 2139.3 1278.6 2139 1274.5 2138.7 1270.5 2138.3 1266.5 2138 1262.5 2137.6 1258.5 2137.3 1254.5 2136.9 1250.5 2136.5 1246.5 2136.2 1242.5 2135.8 1238.5 2135.4 1234.5 2135.1 1230.5 2134.7 1226.5 2134.3 1222.5 2133.9 1218.5 2133.6 1214.5 2133.2 1210.5 2132.8 1206.5 2132.4 1202.4 2132 1198.4 2131.6 1194.4 2131.2 1190.4 2130.8 1186.4 2130.3 1182.4 2129.9 1178.4 2129.4 1174.4 2128.9 1170.4 2128.4 1166.4 2127.9 1162.4 2127.4 1158.4 2126.9 1154.4 2126.4 1150.4 2125.9 1146.4 2125.3 1142.4 2124.8 1138.4 2124.2 1134.4 2123.6 1130.4 2123.1 1126.3 2122.5 1122.3 2121.9 1118.3 2121.3 1114.3 2120.7 1110.3 2120.1 1106.3 2119.5 1102.3 2118.9 1098.3 2118.3 1094.3 2117.6 1090.3 2117 1086.3 2116.4 1082.3 2115.7 1078.3 2115.1 1074.3 2114.5 1070.3 2113.8 1066.3 2113.2 1062.3 2112.6 1058.3 2111.9 1054.2 2111.3 1050.2 2110.6 1046.2 2110 1042.2 2109.4 1038.2 2108.7 1034.2 2108.1 1030.2 2107.4 1026.2 2106.8 1022.2 2106.2 1018.2 2105.6 1014.2 2104.9 1010.2 2104.3 1006.2 2103.7 1002.2 2103.1 998.2 2102.4 994.2 2101.8 990.2 2101.2 986.2 2100.6 982.1 2099.9 978.1 2099.3 974.1 2098.7 970.1 2098 966.1 2097.4 962.1 2096.7 958.1 2096 954.1 2095.4 950.1 2094.7 946.1 2094 942.1 2093.3 938.1 2092.6 934.1 2091.9 930.1 2091.2 926.1 2090.5 922.1 2089.7 918.1 2089 914.1 2088.2 910.1 2087.5 906 2086.7 902 2085.9 898 2085 894 2084.2 890 2083.4 886 2082.5 882 2081.6 878 2080.7 874 2079.8 870 2078.9 866 2078 862 2077 858 2076 854 2074.9 850 2073.8 846 2072.7 842 2071.4 838 2070.2 833.9 2068.9 829.9 2067.5 825.9 2066.1 821.9 2064.7 817.9 2063.3 813.9 2061.8 809.9 2060.3 805.9 2058.8 801.9 2057.3 797.9 2055.8 793.9 2054.3 789.9 2052.8 785.9 2051.3 781.9 2049.8 777.9 2048.3 773.9 2046.8 769.9 2045.4 765.9 2043.9 761.9 2042.5 757.8 2041 753.8 2039.5 749.8 2038.1 745.8 2036.6 741.8 2035.2 737.8 2033.7 733.8 2032.2 729.8 2030.7 725.8 2029.2 721.8 2027.8 717.8 2026.3 713.8 2024.7 709.8 2023.2 705.8 2021.7 701.8 2020.2 697.8 2018.6 693.8 2017.1 689.8 2015.5 685.7 2014 681.7 2012.4 677.7 2010.8 673.7 2009.2 669.7 2007.6 665.7 2006 661.7 2004.3 657.7 2002.7 653.7 2001 649.7 1999.3 645.7 1997.6 641.7 1995.9 637.7 1994.2 633.7 1992.4 629.7 1990.7 625.7 1988.9 621.7 1987.1 617.7 1985.3 613.6 1983.6 609.6 1981.7 605.6 1979.9 601.6 1978.1 597.6 1976.2 593.6 1974.4 589.6 1972.5 585.6 1970.6 581.6 1968.7 577.6 1966.8 573.6 1964.8 569.6 1962.9 565.6 1960.9 561.6 1958.9 557.6 1956.9 553.6 1954.9 549.6 1952.9 545.6 1950.8 541.6 1948.7 537.5 1946.7 533.5 1944.6 529.5 1942.4 525.5 1940.3 521.5 1938.1 517.5 1935.9 513.5 1933.7 509.5 1931.5 505.5 1929.3 501.5 1927 497.5 1924.7 493.5 1922.3 489.5 1920 485.5 1917.6 481.5 1915.2 477.5 1912.8 473.5 1910.4 469.5 1907.9 465.4 1905.4 461.4 1902.9 457.4 1900.4 453.4 1897.8 449.4 1895.2 445.4 1892.7 441.4 1890 437.4 1887.4 433.4 1884.8 429.4 1882.1 425.4 1879.4 421.4 1876.7 417.4 1874 413.4 1871.3 409.4 1868.5 405.4 1865.7 401.4 1863 397.4 1860.2 393.3 1857.3 389.3 1854.5 385.3 1851.7 381.3 1848.8 377.3 1845.9 373.3 1843 369.3 1840.1 365.3 1837.2 361.3 1834.2 357.3 1831.2 353.3 1828.2 349.3 1825.2 345.3 1822.1 341.3 1819 337.3 1815.9 333.3 1812.8 329.3 1809.6 325.3 1806.5 321.3 1803.3 317.2 1800.1 313.2 1796.8 309.2 1793.6 305.2 1790.3 301.2 1787 297.2 1783.6 293.2 1780.3 289.2 1776.9 285.2 1773.4 281.2 1770 277.2 1766.5 273.2 1763 269.2 1759.5 265.2 1756 261.2 1752.4 257.2 1748.8 253.2 1745.2 249.2 1741.5 245.1 1737.8 241.1 1734 237.1 1730.3 233.1 1726.5 229.1 1722.6 225.1 1718.7 221.1 1714.8 217.1 1710.9 213.1 1706.9 209.1 1702.9 205.1 1698.8 201.1 1694.8 197.1 1690.7 193.1 1686.5 189.1 1682.4 185.1 1678.2 181.1 1674 177.1 1669.7 173 1665.4 169 1661.1 165 1656.8 161 1652.4 157 1648 153 1643.6 149 1639.2 145 1634.7 141 1630.2 137 1625.7Z" fill="#000" clip-path="url(#cc)"/>
<path d="M137 1636.4 141 1640.8 145 1645.1 149 1649.5 153 1653.8 157 1658.1 161 1662.4 165 1666.7 169 1670.9 173 1675.1 177.1 1679.2 181.1 1683.4 185.1 1687.5 189.1 1691.6 193.1 1695.6 197.1 1699.6 201.1 1703.6 205.1 1707.6 209.1 1711.5 213.1 1715.4 217.1 1719.2 221.1 1723 225.1 1726.8 229.1 1730.6 233.1 1734.3 237.1 1737.9 241.1 1741.6 245.1 1745.2 249.2 1748.8 253.2 1752.3 257.2 1755.8 261.2 1759.3 265.2 1762.7 269.2 1766.1 273.2 1769.5 277.2 1772.9 281.2 1776.2 285.2 1779.5 289.2 1782.8 293.2 1786.1 297.2 1789.3 301.2 1792.5 305.2 1795.8 309.2 1799 313.2 1802.2 317.2 1805.4 321.3 1808.5 325.3 1811.7 329.3 1814.8 333.3 1817.9 337.3 1820.9 341.3 1824 345.3 1827 349.3 1830 353.3 1832.9 357.3 1835.9 361.3 1838.8 365.3 1841.7 369.3 1844.6 373.3 1847.5 377.3 1850.3 381.3 1853.1 385.3 1855.9 389.3 1858.7 393.3 1861.5 397.4 1864.2 401.4 1867 405.4 1869.8 409.4 1872.6 413.4 1875.4 417.4 1878.2 421.4 1880.9 425.4 1883.7 429.4 1886.4 433.4 1889.1 437.4 1891.8 441.4 1894.5 445.4 1897.1 449.4 1899.7 453.4 1902.3 457.4 1904.9 461.4 1907.5 465.4 1910.1 469.5 1912.6 473.5 1915.1 477.5 1917.6 481.5 1920 485.5 1922.5 489.5 1924.9 493.5 1927.3 497.5 1929.7 501.5 1932 505.5 1934.3 509.5 1936.6 513.5 1938.9 517.5 1941.1 521.5 1943.3 525.5 1945.5 529.5 1947.7 533.5 1949.9 537.5 1952 541.6 1954.2 545.6 1956.3 549.6 1958.4 553.6 1960.4 557.6 1962.5 561.6 1964.5 565.6 1966.5 569.6 1968.4 573.6 1970.3 577.6 1972.2 581.6 1974.1 585.6 1975.9 589.6 1977.8 593.6 1979.6 597.6 1981.4 601.6 1983.2 605.6 1985 609.6 1986.8 613.6 1988.6 617.7 1990.3 621.7 1992.1 625.7 1993.8 629.7 1995.5 633.7 1997.2 637.7 1998.9 641.7 2000.6 645.7 2002.3 649.7 2003.9 653.7 2005.6 657.7 2007.2 661.7 2008.8 665.7 2010.4 669.7 2012 673.7 2013.6 677.7 2015.1 681.7 2016.7 685.7 2018.2 689.8 2019.7 693.8 2021.2 697.8 2022.8 701.8 2024.2 705.8 2025.7 709.8 2027.2 713.8 2028.7 717.8 2030.1 721.8 2031.6 725.8 2033 729.8 2034.5 733.8 2035.9 737.8 2037.4 741.8 2038.8 745.8 2040.2 749.8 2041.6 753.8 2043 757.8 2044.5 761.9 2045.9 765.9 2047.3 769.9 2048.7 773.9 2050.1 777.9 2051.5 781.9 2053 785.9 2054.4 789.9 2055.9 793.9 2057.4 797.9 2058.8 801.9 2060.3 805.9 2061.8 809.9 2063.3 813.9 2064.7 817.9 2066.2 821.9 2067.6 825.9 2069 829.9 2070.4 833.9 2071.7 838 2073 842 2074.2 846 2075.4 850 2076.6 854 2077.7 858 2078.7 862 2079.7 866 2080.6 870 2081.6 874 2082.5 878 2083.4 882 2084.2 886 2085.1 890 2085.9 894 2086.7 898 2087.6 902 2088.4 906 2089.1 910.1 2089.9 914.1 2090.7 918.1 2091.4 922.1 2092.1 926.1 2092.8 930.1 2093.6 934.1 2094.3 938.1 2094.9 942.1 2095.6 946.1 2096.3 950.1 2097 954.1 2097.6 958.1 2098.3 962.1 2098.9 966.1 2099.5 970.1 2100.2 974.1 2100.8 978.1 2101.4 982.1 2102 986.2 2102.6 990.2 2103.2 994.2 2103.8 998.2 2104.5 1002.2 2105.1 1006.2 2105.7 1010.2 2106.3 1014.2 2106.9 1018.2 2107.5 1022.2 2108.1 1026.2 2108.7 1030.2 2109.3 1034.2 2109.9 1038.2 2110.5 1042.2 2111.1 1046.2 2111.8 1050.2 2112.4 1054.2 2113 1058.3 2113.6 1062.3 2114.2 1066.3 2114.9 1070.3 2115.5 1074.3 2116.1 1078.3 2116.7 1082.3 2117.3 1086.3 2117.9 1090.3 2118.6 1094.3 2119.2 1098.3 2119.8 1102.3 2120.4 1106.3 2121 1110.3 2121.5 1114.3 2122.1 1118.3 2122.7 1122.3 2123.3 1126.3 2123.8 1130.4 2124.4 1134.4 2125 1138.4 2125.5 1142.4 2126 1146.4 2126.6 1150.4 2127.1 1154.4 2127.6 1158.4 2128.1 1162.4 2128.6 1166.4 2129.1 1170.4 2129.6 1174.4 2130.1 1178.4 2130.5 1182.4 2131 1186.4 2131.4 1190.4 2131.8 1194.4 2132.2 1198.4 2132.6 1202.4 2133 1206.5 2133.4 1210.5 2133.8 1214.5 2134.2 1218.5 2134.5 1222.5 2134.9 1226.5 2135.3 1230.5 2135.7 1234.5 2136 1238.5 2136.4 1242.5 2136.8 1246.5 2137.1 1250.5 2137.5 1254.5 2137.8 1258.5 2138.2 1262.5 2138.5 1266.5 2138.9 1270.5 2139.2 1274.5 2139.6 1278.6 2139.9 1282.6 2140.2 1286.6 2140.5 1290.6 2140.9 1294.6 2141.2 1298.6 2141.5 1302.6 2141.8 1306.6 2142 1310.6 2142.3 1314.6 2142.6 1318.6 2142.9 1322.6 2143.1 1326.6 2143.4 1330.6 2143.6 1334.6 2143.8 1338.6 2144.1 1342.6 2144.3 1346.6 2144.5 1350.7 2144.7 1354.7 2144.9 1358.7 2145 1362.7 2145.2 1366.7 2145.3 1370.7 2145.5 1374.7 2145.6 1378.7 2145.7 1382.7 2145.8 1386.7 2145.9 1390.7 2146 1394.7 2146.1 1398.7 2146.2 1402.7 2146.3 1406.7 2146.4 1410.7 2146.5 1414.7 2146.5 1418.7 2146.6 1422.7 2146.7 1426.8 2146.8 1430.8 2146.8 1434.8 2146.9 1438.8 2147 1442.8 2147 1446.8 2147.1 1450.8 2147.1 1454.8 2147.2 1458.8 2147.2 1462.8 2147.3 1466.8 2147.3 1470.8 2147.4 1474.8 2147.4 1478.8 2147.5 1482.8 2147.5 1486.8 2147.5 1490.8 2147.6 1494.8 2147.6 1498.9 2147.6 1502.9 2147.6 1506.9 2147.7 1510.9 2147.7 1514.9 2147.7 1518.9 2147.7 1522.9 2147.8 1526.9 2147.8 1530.9 2147.8 1534.9 2147.8 1538.9 2147.8 1542.9 2147.9 1546.9 2147.9 1550.9 2147.9 1554.9 2147.9 1558.9 2147.9 1562.9 2147.9 1566.9 2148 1571 2148 1575 2148 1579 2148 1583 2148 1587 2148 1591 2148 1595 2148 1599 2148 1603 2148 1607 2148 1607 2151 1603 2151 1599 2151 1595 2151 1591 2151 1587 2151 1583 2151 1579 2151 1575 2151 1571 2151 1566.9 2151 1562.9 2150.9 1558.9 2150.9 1554.9 2150.9 1550.9 2150.9 1546.9 2150.9 1542.9 2150.9 1538.9 2150.8 1534.9 2150.8 1530.9 2150.8 1526.9 2150.8 1522.9 2150.8 1518.9 2150.7 1514.9 2150.7 1510.9 2150.7 1506.9 2150.7 1502.9 2150.6 1498.9 2150.6 1494.8 2150.6 1490.8 2150.6 1486.8 2150.5 1482.8 2150.5 1478.8 2150.5 1474.8 2150.4 1470.8 2150.4 1466.8 2150.3 1462.8 2150.3 1458.8 2150.2 1454.8 2150.2 1450.8 2150.1 1446.8 2150.1 1442.8 2150 1438.8 2150 1434.8 2149.9 1430.8 2149.8 1426.8 2149.8 1422.7 2149.7 1418.7 2149.6 1414.7 2149.5 1410.7 2149.5 1406.7 2149.4 1402.7 2149.3 1398.7 2149.2 1394.7 2149.1 1390.7 2149 1386.7 2148.9 1382.7 2148.8 1378.7 2148.7 1374.7 2148.6 1370.7 2148.5 1366.7 2148.3 1362.7 2148.2 1358.7 2148 1354.7 2147.9 1350.7 2147.7 1346.6 2147.5 1342.6 2147.3 1338.6 2147.1 1334.6 2146.8 1330.6 2146.6 1326.6 2146.4 1322.6 2146.1 1318.6 2145.9 1314.6 2145.6 1310.6 2145.3 1306.6 2145 1302.6 2144.8 1298.6 2144.5 1294.6 2144.2 1290.6 2143.9 1286.6 2143.5 1282.6 2143.2 1278.6 2142.9 1274.5 2142.6 1270.5 2142.2 1266.5 2141.9 1262.5 2141.5 1258.5 2141.2 1254.5 2140.8 1250.5 2140.5 1246.5 2140.1 1242.5 2139.8 1238.5 2139.4 1234.5 2139 1230.5 2138.7 1226.5 2138.3 1222.5 2137.9 1218.5 2137.5 1214.5 2137.2 1210.5 2136.8 1206.5 2136.4 1202.4 2136 1198.4 2135.6 1194.4 2135.2 1190.4 2134.8 1186.4 2134.4 1182.4 2134 1178.4 2133.5 1174.4 2133.1 1170.4 2132.6 1166.4 2132.1 1162.4 2131.6 1158.4 2131.1 1154.4 2130.6 1150.4 2130.1 1146.4 2129.6 1142.4 2129 1138.4 2128.5 1134.4 2128 1130.4 2127.4 1126.3 2126.8 1122.3 2126.3 1118.3 2125.7 1114.3 2125.1 1110.3 2124.5 1106.3 2124 1102.3 2123.4 1098.3 2122.8 1094.3 2122.2 1090.3 2121.6 1086.3 2120.9 1082.3 2120.3 1078.3 2119.7 1074.3 2119.1 1070.3 2118.5 1066.3 2117.9 1062.3 2117.2 1058.3 2116.6 1054.2 2116 1050.2 2115.4 1046.2 2114.8 1042.2 2114.1 1038.2 2113.5 1034.2 2112.9 1030.2 2112.3 1026.2 2111.7 1022.2 2111.1 1018.2 2110.5 1014.2 2109.9 1010.2 2109.3 1006.2 2108.7 1002.2 2108.1 998.2 2107.5 994.2 2106.8 990.2 2106.2 986.2 2105.6 982.1 2105 978.1 2104.4 974.1 2103.8 970.1 2103.2 966.1 2102.5 962.1 2101.9 958.1 2101.3 954.1 2100.6 950.1 2100 946.1 2099.3 942.1 2098.6 938.1 2097.9 934.1 2097.3 930.1 2096.6 926.1 2095.8 922.1 2095.1 918.1 2094.4 914.1 2093.7 910.1 2092.9 906 2092.1 902 2091.4 898 2090.6 894 2089.7 890 2088.9 886 2088.1 882 2087.2 878 2086.4 874 2085.5 870 2084.6 866 2083.6 862 2082.7 858 2081.7 854 2080.7 850 2079.6 846 2078.4 842 2077.2 838 2076 833.9 2074.7 829.9 2073.4 825.9 2072 821.9 2070.6 817.9 2069.2 813.9 2067.7 809.9 2066.3 805.9 2064.8 801.9 2063.3 797.9 2061.8 793.9 2060.4 789.9 2058.9 785.9 2057.4 781.9 2056 777.9 2054.5 773.9 2053.1 769.9 2051.7 765.9 2050.3 761.9 2048.9 757.8 2047.5 753.8 2046 749.8 2044.6 745.8 2043.2 741.8 2041.8 737.8 2040.4 733.8 2038.9 729.8 2037.5 725.8 2036 721.8 2034.6 717.8 2033.1 713.8 2031.7 709.8 2030.2 705.8 2028.7 701.8 2027.2 697.8 2025.8 693.8 2024.2 689.8 2022.7 685.7 2021.2 681.7 2019.7 677.7 2018.1 673.7 2016.6 669.7 2015 665.7 2013.4 661.7 2011.8 657.7 2010.2 653.7 2008.6 649.7 2006.9 645.7 2005.3 641.7 2003.6 637.7 2001.9 633.7 2000.2 629.7 1998.5 625.7 1996.8 621.7 1995.1 617.7 1993.3 613.6 1991.6 609.6 1989.8 605.6 1988 601.6 1986.2 597.6 1984.4 593.6 1982.6 589.6 1980.8 585.6 1978.9 581.6 1977.1 577.6 1975.2 573.6 1973.3 569.6 1971.4 565.6 1969.5 561.6 1967.5 557.6 1965.5 553.6 1963.4 549.6 1961.4 545.6 1959.3 541.6 1957.2 537.5 1955 533.5 1952.9 529.5 1950.7 525.5 1948.5 521.5 1946.3 517.5 1944.1 513.5 1941.9 509.5 1939.6 505.5 1937.3 501.5 1935 497.5 1932.7 493.5 1930.3 489.5 1927.9 485.5 1925.5 481.5 1923 477.5 1920.6 473.5 1918.1 469.5 1915.6 465.4 1913.1 461.4 1910.5 457.4 1907.9 453.4 1905.3 449.4 1902.7 445.4 1900.1 441.4 1897.5 437.4 1894.8 433.4 1892.1 429.4 1889.4 425.4 1886.7 421.4 1883.9 417.4 1881.2 413.4 1878.4 409.4 1875.6 405.4 1872.8 401.4 1870 397.4 1867.2 393.3 1864.5 389.3 1861.7 385.3 1858.9 381.3 1856.1 377.3 1853.3 373.3 1850.5 369.3 1847.6 365.3 1844.7 361.3 1841.8 357.3 1838.9 353.3 1835.9 349.3 1833 345.3 1830 341.3 1827 337.3 1823.9 333.3 1820.9 329.3 1817.8 325.3 1814.7 321.3 1811.5 317.2 1808.4 313.2 1805.2 309.2 1802 305.2 1798.8 301.2 1795.5 297.2 1792.3 293.2 1789.1 289.2 1785.8 285.2 1782.5 281.2 1779.2 277.2 1775.9 273.2 1772.5 269.2 1769.1 265.2 1765.7 261.2 1762.3 257.2 1758.8 253.2 1755.3 249.2 1751.8 245.1 1748.2 241.1 1744.6 237.1 1740.9 233.1 1737.3 229.1 1733.6 225.1 1729.8 221.1 1726 217.1 1722.2 213.1 1718.4 209.1 1714.5 205.1 1710.6 201.1 1706.6 197.1 1702.6 193.1 1698.6 189.1 1694.6 185.1 1690.5 181.1 1686.5 177.1 1682.3 173 1678.2 169 1674 165 1669.8 161 1665.6 157 1661.3 153 1657 149 1652.7 145 1648.4 141 1644 137 1639.6Z" fill="#f00" clip-path="url(#cc)"/>
<path d="M137 1627.3 141 1631.8 145 1636.3 149 1640.8 153 1645.2 157 1649.6 161 1654 165 1658.3 169 1662.7 173 1667 177.1 1671.2 181.1 1675.5 185.1 1679.7 189.1 1683.9 193.1 1688 197.1 1692.1 201.1 1696.2 205.1 1700.3 209.1 1704.3 213.1 1708.3 217.1 1712.2 221.1 1716.2 225.1 1720.1 229.1 1723.9 233.1 1727.7 237.1 1731.5 241.1 1735.3 245.1 1739 249.2 1742.6 253.2 1746.3 257.2 1749.9 261.2 1753.5 265.2 1757 269.2 1760.5 273.2 1764 277.2 1767.5 281.2 1770.9 285.2 1774.3 289.2 1777.7 293.2 1781.1 297.2 1784.4 301.2 1787.7 305.2 1791 309.2 1794.3 313.2 1797.5 317.2 1800.7 321.3 1803.9 325.3 1807 329.3 1810.2 333.3 1813.3 337.3 1816.4 341.3 1819.5 345.3 1822.5 349.3 1825.5 353.3 1828.5 357.3 1831.5 361.3 1834.5 365.3 1837.4 369.3 1840.3 373.3 1843.2 377.3 1846.1 381.3 1849 385.3 1851.8 389.3 1854.6 393.3 1857.4 397.4 1860.2 401.4 1863 405.4 1865.7 409.4 1868.5 413.4 1871.3 417.4 1874 421.4 1876.7 425.4 1879.4 429.4 1882.1 433.4 1884.8 437.4 1887.4 441.4 1890 445.4 1892.7 449.4 1895.2 453.4 1897.8 457.4 1900.4 461.4 1902.9 465.4 1905.4 469.5 1907.9 473.5 1910.4 477.5 1912.8 481.5 1915.2 485.5 1917.6 489.5 1920 493.5 1922.3 497.5 1924.7 501.5 1927 505.5 1929.3 509.5 1931.5 513.5 1933.7 517.5 1935.9 521.5 1938.1 525.5 1940.3 529.5 1942.4 533.5 1944.6 537.5 1946.7 541.6 1948.7 545.6 1950.8 549.6 1952.9 553.6 1954.9 557.6 1956.9 561.6 1958.9 565.6 1960.9 569.6 1962.9 573.6 1964.8 577.6 1966.8 581.6 1968.7 585.6 1970.6 589.6 1972.5 593.6 1974.4 597.6 1976.2 601.6 1978.1 605.6 1979.9 609.6 1981.7 613.6 1983.6 617.7 1985.3 621.7 1987.1 625.7 1988.9 629.7 1990.7 633.7 1992.4 637.7 1994.2 641.7 1995.9 645.7 1997.6 649.7 1999.3 653.7 2001 657.7 2002.7 661.7 2004.3 665.7 2006 669.7 2007.6 673.7 2009.2 677.7 2010.8 681.7 2012.4 685.7 2014 689.8 2015.5 693.8 2017.1 697.8 2018.6 701.8 2020.2 705.8 2021.7 709.8 2023.2 713.8 2024.7 717.8 2026.3 721.8 2027.8 725.8 2029.2 729.8 2030.7 733.8 2032.2 737.8 2033.7 741.8 2035.2 745.8 2036.6 749.8 2038.1 753.8 2039.5 757.8 2041 761.9 2042.5 765.9 2043.9 769.9 2045.4 773.9 2046.8 777.9 2048.3 781.9 2049.8 785.9 2051.3 789.9 2052.8 793.9 2054.3 797.9 2055.8 801.9 2057.3 805.9 2058.9 809.9 2060.5 813.9 2062 817.9 2063.5 821.9 2065 825.9 2066.5 829.9 2067.9 833.9 2069.3 838 2070.7 842 2072 846 2073.2 850 2074.5 854 2075.6 858 2076.7 862 2077.8 866 2078.8 870 2079.8 874 2080.8 878 2081.7 882 2082.7 886 2083.6 890 2084.5 894 2085.4 898 2086.3 902 2087.1 906 2088 910.1 2088.8 914.1 2089.7 918.1 2090.5 922.1 2091.3 926.1 2092.1 930.1 2092.8 934.1 2093.6 938.1 2094.4 942.1 2095.1 946.1 2095.8 950.1 2096.6 954.1 2097.3 958.1 2098 962.1 2098.7 966.1 2099.4 970.1 2100.1 974.1 2100.8 978.1 2101.5 982.1 2102.2 986.2 2102.9 990.2 2103.6 994.2 2104.2 998.2 2104.9 1002.2 2105.6 1006.2 2106.3 1010.2 2106.9 1014.2 2107.6 1018.2 2108.3 1022.2 2109 1026.2 2109.6 1030.2 2110.3 1034.2 2111 1038.2 2111.7 1042.2 2112.4 1046.2 2113.1 1050.2 2113.8 1054.2 2114.5 1058.3 2115.1 1062.3 2115.8 1066.3 2116.5 1070.3 2117.2 1074.3 2117.9 1078.3 2118.6 1082.3 2119.3 1086.3 2120 1090.3 2120.6 1094.3 2121.3 1098.3 2122 1102.3 2122.6 1106.3 2123.3 1110.3 2124 1114.3 2124.6 1118.3 2125.3 1122.3 2125.9 1126.3 2126.6 1130.4 2127.2 1134.4 2127.8 1138.4 2128.4 1142.4 2129 1146.4 2129.6 1150.4 2130.2 1154.4 2130.8 1158.4 2131.4 1162.4 2132 1166.4 2132.5 1170.4 2133.1 1174.4 2133.6 1178.4 2134.1 1182.4 2134.6 1186.4 2135.2 1190.4 2135.6 1194.4 2136.1 1198.4 2136.6 1202.4 2137 1206.5 2137.5 1210.5 2137.9 1214.5 2138.3 1218.5 2138.7 1222.5 2139.1 1226.5 2139.5 1230.5 2139.9 1234.5 2140.3 1238.5 2140.7 1242.5 2141.1 1246.5 2141.5 1250.5 2141.9 1254.5 2142.3 1258.5 2142.7 1262.5 2143.1 1266.5 2143.5 1270.5 2143.8 1274.5 2144.2 1278.6 2144.6 1282.6 2144.9 1286.6 2145.3 1290.6 2145.6 1294.6 2146 1298.6 2146.3 1302.6 2146.6 1306.6 2147 1310.6 2147.3 1314.6 2147.6 1318.6 2147.9 1322.6 2148.2 1326.6 2148.5 1330.6 2148.7 1334.6 2149 1338.6 2149.3 1342.6 2149.5 1346.6 2149.7 1350.7 2150 1354.7 2150.2 1358.7 2150.4 1362.7 2150.6 1366.7 2150.8 1370.7 2150.9 1374.7 2151.1 1378.7 2151.3 1382.7 2151.4 1386.7 2151.5 1390.7 2151.7 1394.7 2151.8 1398.7 2151.9 1402.7 2152 1406.7 2152.1 1410.7 2152.3 1414.7 2152.4 1418.7 2152.5 1422.7 2152.6 1426.8 2152.7 1430.8 2152.8 1434.8 2152.9 1438.8 2153 1442.8 2153.1 1446.8 2153.2 1450.8 2153.3 1454.8 2153.4 1458.8 2153.5 1462.8 2153.6 1466.8 2153.6 1470.8 2153.7 1474.8 2153.8 1478.8 2153.9 1482.8 2153.9 1486.8 2154 1490.8 2154.1 1494.8 2154.1 1498.9 2154.2 1502.9 2154.3 1506.9 2154.3 1510.9 2154.4 1514.9 2154.4 1518.9 2154.5 1522.9 2154.5 1526.9 2154.6 1530.9 2154.7 1534.9 2154.7 1538.9 2154.8 1542.9 2154.8 1546.9 2154.9 1550.9 2154.9 1554.9 2155 1558.9 2155 1562.9 2155.1 1566.9 2155.1 1571 2155.2 1575 2155.2 1579 2155.2 1583 2155.3 1587 2155.3 1591 2155.4 1595 2155.4 1599 2155.4 1603 2155.5 1607 2155.5 1607 2158.5 1603 2158.5 1599 2158.4 1595 2158.4 1591 2158.4 1587 2158.3 1583 2158.3 1579 2158.2 1575 2158.2 1571 2158.2 1566.9 2158.1 1562.9 2158.1 1558.9 2158 1554.9 2158 1550.9 2157.9 1546.9 2157.9 1542.9 2157.8 1538.9 2157.8 1534.9 2157.7 1530.9 2157.7 1526.9 2157.6 1522.9 2157.5 1518.9 2157.5 1514.9 2157.4 1510.9 2157.4 1506.9 2157.3 1502.9 2157.3 1498.9 2157.2 1494.8 2157.1 1490.8 2157.1 1486.8 2157 1482.8 2156.9 1478.8 2156.9 1474.8 2156.8 1470.8 2156.7 1466.8 2156.6 1462.8 2156.6 1458.8 2156.5 1454.8 2156.4 1450.8 2156.3 1446.8 2156.2 1442.8 2156.1 1438.8 2156 1434.8 2155.9 1430.8 2155.8 1426.8 2155.7 1422.7 2155.6 1418.7 2155.5 1414.7 2155.4 1410.7 2155.3 1406.7 2155.1 1402.7 2155 1398.7 2154.9 1394.7 2154.8 1390.7 2154.7 1386.7 2154.5 1382.7 2154.4 1378.7 2154.3 1374.7 2154.1 1370.7 2153.9 1366.7 2153.8 1362.7 2153.6 1358.7 2153.4 1354.7 2153.2 1350.7 2153 1346.6 2152.7 1342.6 2152.5 1338.6 2152.3 1334.6 2152 1330.6 2151.7 1326.6 2151.5 1322.6 2151.2 1318.6 2150.9 1314.6 2150.6 1310.6 2150.3 1306.6 2150 1302.6 2149.6 1298.6 2149.3 1294.6 2149 1290.6 2148.6 1286.6 2148.3 1282.6 2147.9 1278.6 2147.6 1274.5 2147.2 1270.5 2146.8 1266.5 2146.5 1262.5 2146.1 1258.5 2145.7 1254.5 2145.3 1250.5 2144.9 1246.5 2144.5 1242.5 2144.1 1238.5 2143.7 1234.5 2143.3 1230.5 2142.9 1226.5 2142.5 1222.5 2142.1 1218.5 2141.7 1214.5 2141.3 1210.5 2140.9 1206.5 2140.5 1202.4 2140 1198.4 2139.6 1194.4 2139.1 1190.4 2138.6 1186.4 2138.2 1182.4 2137.6 1178.4 2137.1 1174.4 2136.6 1170.4 2136.1 1166.4 2135.5 1162.4 2135 1158.4 2134.4 1154.4 2133.8 1150.4 2133.2 1146.4 2132.6 1142.4 2132 1138.4 2131.4 1134.4 2130.8 1130.4 2130.2 1126.3 2129.6 1122.3 2128.9 1118.3 2128.3 1114.3 2127.6 1110.3 2127 1106.3 2126.3 1102.3 2125.6 1098.3 2125 1094.3 2124.3 1090.3 2123.6 1086.3 2123 1082.3 2122.3 1078.3 2121.6 1074.3 2120.9 1070.3 2120.2 1066.3 2119.5 1062.3 2118.8 1058.3 2118.1 1054.2 2117.5 1050.2 2116.8 1046.2 2116.1 1042.2 2115.4 1038.2 2114.7 1034.2 2114 1030.2 2113.3 1026.2 2112.6 1022.2 2112 1018.2 2111.3 1014.2 2110.6 1010.2 2109.9 1006.2 2109.3 1002.2 2108.6 998.2 2107.9 994.2 2107.2 990.2 2106.6 986.2 2105.9 982.1 2105.2 978.1 2104.5 974.1 2103.8 970.1 2103.1 966.1 2102.4 962.1 2101.7 958.1 2101 954.1 2100.3 950.1 2099.6 946.1 2098.8 942.1 2098.1 938.1 2097.4 934.1 2096.6 930.1 2095.8 926.1 2095.1 922.1 2094.3 918.1 2093.5 914.1 2092.7 910.1 2091.8 906 2091 902 2090.1 898 2089.3 894 2088.4 890 2087.5 886 2086.6 882 2085.7 878 2084.7 874 2083.8 870 2082.8 866 2081.8 862 2080.8 858 2079.7 854 2078.6 850 2077.5 846 2076.2 842 2075 838 2073.7 833.9 2072.3 829.9 2070.9 825.9 2069.5 821.9 2068 817.9 2066.5 813.9 2065 809.9 2063.5 805.9 2061.9 801.9 2060.3 797.9 2058.8 793.9 2057.3 789.9 2055.8 785.9 2054.3 781.9 2052.8 777.9 2051.3 773.9 2049.8 769.9 2048.4 765.9 2046.9 761.9 2045.5 757.8 2044 753.8 2042.5 749.8 2041.1 745.8 2039.6 741.8 2038.2 737.8 2036.7 733.8 2035.2 729.8 2033.7 725.8 2032.2 721.8 2030.8 717.8 2029.3 713.8 2027.7 709.8 2026.2 705.8 2024.7 701.8 2023.2 697.8 2021.6 693.8 2020.1 689.8 2018.5 685.7 2017 681.7 2015.4 677.7 2013.8 673.7 2012.2 669.7 2010.6 665.7 2009 661.7 2007.3 657.7 2005.7 653.7 2004 649.7 2002.3 645.7 2000.6 641.7 1998.9 637.7 1997.2 633.7 1995.4 629.7 1993.7 625.7 1991.9 621.7 1990.1 617.7 1988.3 613.6 1986.6 609.6 1984.7 605.6 1982.9 601.6 1981.1 597.6 1979.2 593.6 1977.4 589.6 1975.5 585.6 1973.6 581.6 1971.7 577.6 1969.8 573.6 1967.8 569.6 1965.9 565.6 1963.9 561.6 1961.9 557.6 1959.9 553.6 1957.9 549.6 1955.9 545.6 1953.8 541.6 1951.7 537.5 1949.7 533.5 1947.6 529.5 1945.4 525.5 1943.3 521.5 1941.1 517.5 1938.9 513.5 1936.7 509.5 1934.5 505.5 1932.3 501.5 1930 497.5 1927.7 493.5 1925.3 489.5 1923 485.5 1920.6 481.5 1918.2 477.5 1915.8 473.5 1913.4 469.5 1910.9 465.4 1908.4 461.4 1905.9 457.4 1903.4 453.4 1900.8 449.4 1898.2 445.4 1895.7 441.4 1893 437.4 1890.4 433.4 1887.8 429.4 1885.1 425.4 1882.4 421.4 1879.7 417.4 1877 413.4 1874.3 409.4 1871.5 405.4 1868.7 401.4 1866 397.4 1863.2 393.3 1860.4 389.3 1857.6 385.3 1854.8 381.3 1852 377.3 1849.1 373.3 1846.2 369.3 1843.3 365.3 1840.4 361.3 1837.5 357.3 1834.5 353.3 1831.5 349.3 1828.5 345.3 1825.5 341.3 1822.5 337.3 1819.4 333.3 1816.3 329.3 1813.2 325.3 1810 321.3 1806.9 317.2 1803.7 313.2 1800.5 309.2 1797.3 305.2 1794 301.2 1790.7 297.2 1787.4 293.2 1784.1 289.2 1780.7 285.2 1777.3 281.2 1773.9 277.2 1770.5 273.2 1767 269.2 1763.5 265.2 1760 261.2 1756.5 257.2 1752.9 253.2 1749.3 249.2 1745.6 245.1 1742 241.1 1738.3 237.1 1734.5 233.1 1730.7 229.1 1726.9 225.1 1723.1 221.1 1719.2 217.1 1715.2 213.1 1711.3 209.1 1707.3 205.1 1703.3 201.1 1699.3 197.1 1695.2 193.1 1691.1 189.1 1687 185.1 1682.8 181.1 1678.6 177.1 1674.4 173 1670.2 169 1665.9 165 1661.6 161 1657.2 157 1652.9 153 1648.5 149 1644.1 145 1639.6 141 1635.2 137 1630.7Z" fill="#00f" clip-path="url(#cc)"/>
<path d="M136.8 1632h3v3h-3zM150.2 1646.8h3v3h-3zM163.8 1661.5h3v3h-3zM177.7 1676.2h3v3h-3zM191.9 1691h3v3h-3zM206.6 1705.7h3v3h-3zM221.3 1720.2h3v3h-3zM236.1 1734.1h3v3h-3zM250.8 1747.6h3v3h-3zM265.6 1760.7h3v3h-3zM280.3 1773.3h3v3h-3zM295.1 1785.6h3v3h-3zM309.8 1797.6h3v3h-3zM324.6 1809.2h3v3h-3zM339.3 1820.6h3v3h-3zM354.1 1831.6h3v3h-3zM368.8 1842.3h3v3h-3zM383.6 1852.7h3v3h-3zM398.3 1862.9h3v3h-3zM413.1 1873.1h3v3h-3zM427.8 1883.2h3v3h-3zM442.6 1893h3v3h-3zM457.3 1902.5h3v3h-3zM472.1 1911.8h3v3h-3zM486.8 1920.7h3v3h-3zM501.6 1929.4h3v3h-3zM516.3 1937.7h3v3h-3zM531.1 1945.7h3v3h-3zM545.8 1953.5h3v3h-3zM560.6 1961h3v3h-3zM575.3 1968.3h3v3h-3zM590.1 1975.4h3v3h-3zM604.8 1982.3h3v3h-3zM619.6 1989h3v3h-3zM634.3 1995.5h3v3h-3zM649.1 2001.9h3v3h-3zM663.8 2008.1h3v3h-3zM678.6 2014.1h3v3h-3zM693.3 2020h3v3h-3zM708.1 2025.7h3v3h-3zM722.8 2031.3h3v3h-3zM737.6 2036.8h3v3h-3zM752.3 2042.3h3v3h-3zM767.1 2047.7h3v3h-3zM781.8 2053.2h3v3h-3zM796.6 2058.9h3v3h-3zM811.3 2064.5h3v3h-3zM826.1 2069.9h3v3h-3zM840.8 2074.9h3v3h-3zM855.6 2079.2h3v3h-3zM870.3 2082.9h3v3h-3zM885.1 2086.3h3v3h-3zM899.8 2089.5h3v3h-3zM914.6 2092.5h3v3h-3zM929.3 2095.3h3v3h-3zM944.1 2098h3v3h-3zM958.8 2100.6h3v3h-3zM973.6 2103.1h3v3h-3zM988.3 2105.6h3v3h-3zM1003.1 2108h3v3h-3zM1017.8 2110.4h3v3h-3zM1032.6 2112.8h3v3h-3zM1047.3 2115.3h3v3h-3zM1062.1 2117.7h3v3h-3zM1076.8 2120.2h3v3h-3zM1091.6 2122.6h3v3h-3zM1106.3 2125h3v3h-3zM1121.1 2127.3h3v3h-3zM1135.8 2129.6h3v3h-3zM1150.6 2131.7h3v3h-3zM1165.3 2133.7h3v3h-3zM1180.1 2135.6h3v3h-3zM1194.8 2137.4h3v3h-3zM1209.6 2138.9h3v3h-3zM1224.3 2140.3h3v3h-3zM1239.1 2141.7h3v3h-3zM1253.8 2143.1h3v3h-3zM1268.6 2144.4h3v3h-3zM1283.3 2145.7h3v3h-3zM1298.1 2146.9h3v3h-3zM1312.8 2148h3v3h-3zM1327.6 2149h3v3h-3zM1342.3 2149.9h3v3h-3zM1357.1 2150.6h3v3h-3zM1371.8 2151.2h3v3h-3zM1386.6 2151.6h3v3h-3zM1401.3 2152h3v3h-3zM1416.1 2152.4h3v3h-3zM1430.8 2152.7h3v3h-3zM1445.6 2153h3v3h-3zM1460.3 2153.2h3v3h-3zM1475.1 2153.5h3v3h-3zM1489.8 2153.6h3v3h-3zM1504.6 2153.8h3v3h-3zM1519.3 2153.9h3v3h-3zM1534.1 2154.1h3v3h-3zM1548.8 2154.2h3v3h-3zM1563.6 2154.3h3v3h-3zM1578.3 2154.4h3v3h-3zM1593.1 2154.5h3v3h-3z" fill="#000" clip-path="url(#cc)"/>
<path d="M137 1653h3v3h-3zM151.8 1667.3h3v3h-3zM166.5 1681.2h3v3h-3zM181.2 1694.8h3v3h-3zM196 1707.9h3v3h-3zM210.8 1720.7h3v3h-3zM225.5 1733h3v3h-3zM240.2 1744.9h3v3h-3zM255 1757h3v3h-3zM269.8 1769.6h3v3h-3zM284.5 1781.9h3v3h-3zM299.2 1793.9h3v3h-3zM314 1805.5h3v3h-3zM328.8 1816.7h3v3h-3zM343.5 1827.7h3v3h-3zM358.2 1838.4h3v3h-3zM373 1848.7h3v3h-3zM387.8 1858.8h3v3h-3zM402.5 1868.8h3v3h-3zM417.2 1879h3v3h-3zM432 1888.9h3v3h-3zM446.8 1898.6h3v3h-3zM461.5 1908h3v3h-3zM476.2 1917.2h3v3h-3zM491 1926h3v3h-3zM505.8 1934.5h3v3h-3zM520.5 1942.7h3v3h-3zM535.2 1950.6h3v3h-3zM550 1958.2h3v3h-3zM564.8 1965.7h3v3h-3zM579.5 1972.9h3v3h-3zM594.2 1979.8h3v3h-3zM609 1986.7h3v3h-3zM623.8 1993.3h3v3h-3zM638.5 1999.8h3v3h-3zM653.2 2006.1h3v3h-3zM668 2012.2h3v3h-3zM682.8 2018.1h3v3h-3zM697.5 2023.9h3v3h-3zM712.2 2029.5h3v3h-3zM727 2035.1h3v3h-3zM741.8 2040.5h3v3h-3zM756.5 2046h3v3h-3zM771.2 2051.3h3v3h-3zM786 2056.8h3v3h-3zM800.8 2062.5h3v3h-3zM815.5 2068.1h3v3h-3zM830.2 2073.5h3v3h-3zM845 2078.3h3v3h-3zM859.8 2082.4h3v3h-3zM874.5 2086h3v3h-3zM889.2 2089.4h3v3h-3zM904 2092.6h3v3h-3zM918.8 2095.6h3v3h-3zM933.5 2098.4h3v3h-3zM948.2 2101.1h3v3h-3zM963 2103.7h3v3h-3zM977.8 2106.3h3v3h-3zM992.5 2108.7h3v3h-3zM1007.2 2111.2h3v3h-3zM1022 2113.6h3v3h-3zM1036.8 2116.1h3v3h-3zM1051.5 2118.6h3v3h-3zM1066.2 2121.1h3v3h-3zM1081 2123.6h3v3h-3zM1095.8 2126.1h3v3h-3zM1110.5 2128.5h3v3h-3zM1125.2 2130.8h3v3h-3zM1140 2133.1h3v3h-3zM1154.8 2135.2h3v3h-3zM1169.5 2137.2h3v3h-3zM1184.2 2139.1h3v3h-3zM1199 2140.8h3v3h-3zM1213.8 2142.3h3v3h-3zM1228.5 2143.7h3v3h-3zM1243.2 2145.1h3v3h-3zM1258 2146.5h3v3h-3zM1272.8 2147.8h3v3h-3zM1287.5 2149.1h3v3h-3zM1302.2 2150.2h3v3h-3zM1317 2151.3h3v3h-3zM1331.8 2152.3h3v3h-3zM1346.5 2153.1h3v3h-3zM1361.2 2153.8h3v3h-3zM1376 2154.3h3v3h-3zM1390.8 2154.8h3v3h-3zM1405.5 2155.1h3v3h-3zM1420.2 2155.5h3v3h-3zM1435 2155.8h3v3h-3zM1449.8 2156.1h3v3h-3zM1464.5 2156.3h3v3h-3zM1479.2 2156.5h3v3h-3zM1494 2156.7h3v3h-3zM1508.8 2156.8h3v3h-3zM1523.5 2157h3v3h-3zM1538.2 2157.1h3v3h-3zM1553 2157.2h3v3h-3zM1567.8 2157.3h3v3h-3zM1582.5 2157.4h3v3h-3zM1597.2 2157.5h3v3h-3z" fill="#f00" clip-path="url(#cc)"/>
<path d="M136.9 1660h3v3h-3zM150.7 1674.8h3v3h-3zM164.9 1689.5h3v3h-3zM179.4 1704.2h3v3h-3zM194.1 1718.9h3v3h-3zM208.9 1733.1h3v3h-3zM223.6 1746.8h3v3h-3zM238.4 1760.2h3v3h-3zM253.1 1773h3v3h-3zM267.9 1785.4h3v3h-3zM282.6 1797.4h3v3h-3zM297.4 1809.1h3v3h-3zM312.1 1820.7h3v3h-3zM326.9 1832.1h3v3h-3zM341.6 1843.1h3v3h-3zM356.4 1853.9h3v3h-3zM371.1 1864.3h3v3h-3zM385.9 1874.5h3v3h-3zM400.6 1884.5h3v3h-3zM415.4 1894.6h3v3h-3zM430.1 1904.6h3v3h-3zM444.9 1914.3h3v3h-3zM459.6 1923.7h3v3h-3zM474.4 1932.8h3v3h-3zM489.1 1941.7h3v3h-3zM503.9 1950.2h3v3h-3zM518.6 1958.4h3v3h-3zM533.4 1966.3h3v3h-3zM548.1 1973.9h3v3h-3zM562.9 1981.2h3v3h-3zM577.6 1987.9h3v3h-3zM592.4 1994.4h3v3h-3zM607.1 2000.8h3v3h-3zM621.9 2006.9h3v3h-3zM636.6 2012.9h3v3h-3zM651.4 2018.8h3v3h-3zM666.1 2024.5h3v3h-3zM680.9 2030h3v3h-3zM695.6 2035.3h3v3h-3zM710.4 2040.5h3v3h-3zM725.1 2045.7h3v3h-3zM739.9 2050.7h3v3h-3zM754.6 2055.7h3v3h-3zM769.4 2060.6h3v3h-3zM784.1 2065.7h3v3h-3zM798.9 2070.8h3v3h-3zM813.6 2075.9h3v3h-3zM828.4 2080.8h3v3h-3zM843.1 2085.1h3v3h-3zM857.9 2088.8h3v3h-3zM872.6 2091.9h3v3h-3zM887.4 2095.1h3v3h-3zM902.1 2098.2h3v3h-3zM916.9 2101h3v3h-3zM931.6 2103.8h3v3h-3zM946.4 2106.3h3v3h-3zM961.1 2108.8h3v3h-3zM975.9 2111.2h3v3h-3zM990.6 2113.5h3v3h-3zM1005.4 2115.8h3v3h-3zM1020.1 2118.1h3v3h-3zM1034.9 2120.4h3v3h-3zM1049.6 2122.8h3v3h-3zM1064.4 2125.1h3v3h-3zM1079.1 2127.5h3v3h-3zM1093.9 2129.8h3v3h-3zM1108.6 2132.1h3v3h-3zM1123.4 2134.3h3v3h-3zM1138.1 2136.4h3v3h-3zM1152.9 2138.4h3v3h-3zM1167.6 2140.3h3v3h-3zM1182.4 2142h3v3h-3zM1197.1 2143.6h3v3h-3zM1211.9 2145.1h3v3h-3zM1226.6 2146.5h3v3h-3zM1241.4 2147.9h3v3h-3zM1256.1 2149.3h3v3h-3zM1270.9 2150.6h3v3h-3zM1285.6 2151.9h3v3h-3zM1300.4 2153.1h3v3h-3zM1315.1 2154.2h3v3h-3zM1329.9 2155.1h3v3h-3zM1344.6 2156h3v3h-3zM1359.4 2156.7h3v3h-3zM1374.1 2157.3h3v3h-3zM1388.9 2157.7h3v3h-3zM1403.6 2158.1h3v3h-3zM1418.4 2158.4h3v3h-3zM1433.1 2158.8h3v3h-3zM1447.9 2159h3v3h-3zM1462.6 2159.3h3v3h-3zM1477.4 2159.5h3v3h-3zM1492.1 2159.7h3v3h-3zM1506.9 2159.8h3v3h-3zM1521.6 2160h3v3h-3zM1536.4 2160.1h3v3h-3zM1551.1 2160.2h3v3h-3zM1565.9 2160.3h3v3h-3zM1580.6 2160.4h3v3h-3zM1595.4 2160.5h3v3h-3z" fill="#00f" clip-path="url(#cc)"/>
<path d="M137 1595.2 141 1600.1 145 1604.9 149 1609.8 153 1614.6 157 1619.3 161 1624.1 161.2 1624.2 161.2 1627.8 161 1627.6 157 1622.9 153 1618.1 149 1613.4 145 1608.5 141 1603.7 137 1598.8ZM171.4 1636.3 173 1638.2 174 1639.3 174 1642.7 173 1641.6 171.4 1639.7ZM185.3 1652.3 189.1 1656.5 193.1 1661 197.1 1665.5 201.1 1670 205.1 1674.4 209.1 1678.7 211.5 1681.4 211.5 1684.6 209.1 1682 205.1 1677.6 201.1 1673.3 197.1 1668.8 193.1 1664.4 189.1 1659.9 185.3 1655.7ZM222.8 1693.4 225.1 1695.9 225.6 1696.4 225.6 1699.6 225.1 1699.1 222.8 1696.6ZM238.2 1709.5 241.1 1712.5 245.1 1716.6 249.2 1720.6 253.2 1724.6 257.2 1728.5 261.2 1732.4 265.2 1736.3 267.1 1738.1 267.1 1741.1 265.2 1739.3 261.2 1735.4 257.2 1731.5 253.2 1727.6 249.2 1723.6 245.1 1719.6 241.1 1715.6 238.2 1712.5ZM279.1 1749.5 281.2 1751.6 282.1 1752.4 282.1 1755.4 281.2 1754.6 279.1 1752.5ZM295.1 1764.5 297.2 1766.5 301.2 1770.1 305.2 1773.8 309.2 1777.4 313.2 1781 317.2 1784.6 321.3 1788.1 324.1 1790.5 324.1 1793.5 321.3 1791.1 317.2 1787.6 313.2 1784 309.2 1780.4 305.2 1776.8 301.2 1773.1 297.2 1769.5 295.1 1767.5ZM336.1 1800.9 337.3 1801.9 339.1 1803.4 339.1 1806.4 337.3 1804.9 336.1 1803.9ZM352.1 1814.2 353.3 1815.2 357.3 1818.4 361.3 1821.6 365.3 1824.8 369.3 1827.9 373.3 1831 377.3 1834.1 381.1 1836.9 381.1 1839.9 377.3 1837.1 373.3 1834 369.3 1830.9 365.3 1827.8 361.3 1824.6 357.3 1821.4 353.3 1818.2 352.1 1817.2ZM393.1 1845.7 393.3 1845.9 396.1 1847.8 396.1 1850.8 393.3 1848.9 393.1 1848.7ZM409.1 1857 409.4 1857.2 413.4 1860 417.4 1862.8 421.4 1865.5 425.4 1868.2 429.4 1870.9 433.4 1873.5 437.4 1876.2 438.1 1876.6 438.1 1879.6 437.4 1879.2 433.4 1876.5 429.4 1873.9 425.4 1871.2 421.4 1868.5 417.4 1865.8 413.4 1863 409.4 1860.2 409.1 1860ZM450.1 1884.3 453.1 1886.2 453.1 1889.2 450.1 1887.3ZM466.1 1894.3 469.5 1896.3 473.5 1898.7 477.5 1901.1 481.5 1903.5 485.5 1905.8 489.5 1908.2 493.5 1910.4 495.1 1911.3 495.1 1914.3 493.5 1913.4 489.5 1911.2 485.5 1908.8 481.5 1906.5 477.5 1904.1 473.5 1901.7 469.5 1899.3 466.1 1897.3ZM507.1 1918 509.5 1919.4 510.1 1919.7 510.1 1922.7 509.5 1922.4 507.1 1921ZM523.1 1926.7 525.5 1928 529.5 1930.1 533.5 1932.1 537.5 1934.2 541.6 1936.2 545.6 1938.2 549.6 1940.2 552.1 1941.4 552.1 1944.4 549.6 1943.2 545.6 1941.2 541.6 1939.2 537.5 1937.2 533.5 1935.1 529.5 1933.1 525.5 1931 523.1 1929.7ZM564.1 1947.3 565.6 1948 567.1 1948.7 567.1 1951.7 565.6 1951 564.1 1950.3ZM580.1 1954.8 581.6 1955.5 585.6 1957.4 589.6 1959.2 593.6 1961 597.6 1962.8 601.6 1964.6 605.6 1966.3 609.1 1967.8 609.1 1970.8 605.6 1969.3 601.6 1967.6 597.6 1965.8 593.6 1964 589.6 1962.2 585.6 1960.4 581.6 1958.5 580.1 1957.8ZM621.1 1973 621.7 1973.3 624.1 1974.3 624.1 1977.3 621.7 1976.3 621.1 1976ZM637.1 1979.8 637.7 1980.1 641.7 1981.7 645.7 1983.4 649.7 1985 653.7 1986.7 657.7 1988.3 661.7 1989.9 665.7 1991.5 666.1 1991.6 666.1 1994.6 665.7 1994.5 661.7 1992.9 657.7 1991.3 653.7 1989.7 649.7 1988 645.7 1986.4 641.7 1984.7 637.7 1983.1 637.1 1982.8ZM678.1 1996.3 681.1 1997.5 681.1 2000.5 678.1 1999.3ZM694.1 2002.5 697.8 2003.9 701.8 2005.4 705.8 2006.9 709.8 2008.4 713.8 2009.9 717.8 2011.3 721.8 2012.8 723.1 2013.2 723.1 2016.2 721.8 2015.8 717.8 2014.3 713.8 2012.9 709.8 2011.4 705.8 2009.9 701.8 2008.4 697.8 2006.9 694.1 2005.5ZM735.1 2017.5 737.8 2018.5 738.1 2018.6 738.1 2021.6 737.8 2021.5 735.1 2020.5ZM751.1 2023.1 753.8 2024 757.8 2025.4 761.9 2026.8 765.9 2028.1 769.9 2029.5 773.9 2030.8 777.9 2032.1 780.1 2032.8 780.1 2035.8 777.9 2035.1 773.9 2033.8 769.9 2032.5 765.9 2031.1 761.9 2029.8 757.8 2028.4 753.8 2027 751.1 2026.1ZM792.1 2036.8 793.9 2037.4 795.1 2037.8 795.1 2040.8 793.9 2040.4 792.1 2039.8ZM808.1 2042 809.9 2042.6 813.9 2043.9 817.9 2045.2 821.9 2046.5 825.9 2047.7 829.9 2048.9 833.9 2050.2 837.1 2051.1 837.1 2054.1 833.9 2053.2 829.9 2051.9 825.9 2050.7 821.9 2049.5 817.9 2048.2 813.9 2046.9 809.9 2045.6 808.1 2045ZM849.1 2054.6 850 2054.8 852.1 2055.4 852.1 2058.4 850 2057.8 849.1 2057.6ZM865.1 2058.9 866 2059.1 870 2060.1 874 2061.1 878 2062 882 2062.9 886 2063.9 890 2064.8 894 2065.6 894.1 2065.7 894.1 2068.7 894 2068.6 890 2067.8 886 2066.9 882 2065.9 878 2065 874 2064.1 870 2063.1 866 2062.1 865.1 2061.9ZM906.1 2068.2 909.1 2068.9 909.1 2071.9 906.1 2071.2ZM922.1 2071.5 922.1 2071.5 926.1 2072.3 930.1 2073.1 934.1 2073.9 938.1 2074.7 942.1 2075.4 946.1 2076.2 950.1 2076.9 951.1 2077.1 951.1 2080.1 950.1 2079.9 946.1 2079.2 942.1 2078.4 938.1 2077.7 934.1 2076.9 930.1 2076.1 926.1 2075.3 922.1 2074.5 922.1 2074.5ZM963.1 2079.3 966.1 2079.8 966.1 2082.8 963.1 2082.3ZM979.1 2082.1 982.1 2082.7 986.2 2083.3 990.2 2084 994.2 2084.7 998.2 2085.4 1002.2 2086.1 1006.2 2086.7 1008.1 2087 1008.1 2090 1006.2 2089.7 1002.2 2089.1 998.2 2088.4 994.2 2087.7 990.2 2087 986.2 2086.3 982.1 2085.7 979.1 2085.1ZM1020.1 2089 1022.2 2089.4 1023.1 2089.5 1023.1 2092.5 1022.2 2092.4 1020.1 2092ZM1036.1 2091.7 1038.2 2092.1 1042.2 2092.7 1046.2 2093.4 1050.2 2094 1054.2 2094.7 1058.3 2095.4 1062.3 2096 1065.1 2096.5 1065.1 2099.5 1062.3 2099 1058.3 2098.4 1054.2 2097.7 1050.2 2097 1046.2 2096.4 1042.2 2095.7 1038.2 2095.1 1036.1 2094.7ZM1077.1 2098.5 1078.3 2098.7 1080.1 2099 1080.1 2102 1078.3 2101.7 1077.1 2101.5ZM1093.1 2101.1 1094.3 2101.3 1098.3 2102 1102.3 2102.6 1106.3 2103.3 1110.3 2103.9 1114.3 2104.6 1118.3 2105.2 1122.1 2105.8 1122.1 2108.8 1118.3 2108.2 1114.3 2107.6 1110.3 2106.9 1106.3 2106.3 1102.3 2105.6 1098.3 2105 1094.3 2104.3 1093.1 2104.1ZM1134.1 2107.6 1134.4 2107.7 1137.1 2108.1 1137.1 2111.1 1134.4 2110.7 1134.1 2110.6ZM1150.1 2110 1150.4 2110.1 1154.4 2110.6 1158.4 2111.2 1162.4 2111.8 1166.4 2112.3 1170.4 2112.9 1174.4 2113.4 1178.4 2113.9 1179.1 2114 1179.1 2117 1178.4 2116.9 1174.4 2116.4 1170.4 2115.9 1166.4 2115.3 1162.4 2114.8 1158.4 2114.2 1154.4 2113.6 1150.4 2113.1 1150.1 2113ZM1191.1 2115.5 1194.1 2115.8 1194.1 2118.8 1191.1 2118.5ZM1207.1 2117.3 1210.5 2117.7 1214.5 2118.1 1218.5 2118.6 1222.5 2119 1226.5 2119.4 1230.5 2119.9 1234.5 2120.3 1236.1 2120.4 1236.1 2123.4 1234.5 2123.3 1230.5 2122.9 1226.5 2122.4 1222.5 2122 1218.5 2121.6 1214.5 2121.1 1210.5 2120.7 1207.1 2120.3ZM1248.1 2121.7 1250.5 2121.9 1251.1 2122 1251.1 2125 1250.5 2124.9 1248.1 2124.7ZM1264.1 2123.3 1266.5 2123.5 1270.5 2123.9 1274.5 2124.3 1278.6 2124.6 1282.6 2125 1286.6 2125.4 1290.6 2125.7 1293.1 2125.9 1293.1 2128.9 1290.6 2128.7 1286.6 2128.4 1282.6 2128 1278.6 2127.6 1274.5 2127.3 1270.5 2126.9 1266.5 2126.5 1264.1 2126.3ZM1305.1 2126.9 1306.6 2127.1 1308.1 2127.2 1308.1 2130.2 1306.6 2130.1 1305.1 2129.9ZM1321.1 2128.1 1322.6 2128.3 1326.6 2128.5 1330.6 2128.8 1334.6 2129.1 1338.6 2129.3 1342.6 2129.6 1346.6 2129.8 1350.1 2130 1350.1 2133 1346.6 2132.8 1342.6 2132.6 1338.6 2132.3 1334.6 2132.1 1330.6 2131.8 1326.6 2131.5 1322.6 2131.3 1321.1 2131.1ZM1362.1 2130.7 1362.7 2130.7 1365.1 2130.8 1365.1 2133.8 1362.7 2133.7 1362.1 2133.7ZM1378.1 2131.5 1378.7 2131.5 1382.7 2131.7 1386.7 2131.9 1390.7 2132.1 1394.7 2132.3 1398.7 2132.4 1402.7 2132.6 1406.7 2132.8 1407.1 2132.8 1407.1 2135.8 1406.7 2135.8 1402.7 2135.6 1398.7 2135.4 1394.7 2135.3 1390.7 2135.1 1386.7 2134.9 1382.7 2134.7 1378.7 2134.5 1378.1 2134.5ZM1419.1 2133.3 1422.1 2133.4 1422.1 2136.4 1419.1 2136.3ZM1435.1 2133.9 1438.8 2134.1 1442.8 2134.2 1446.8 2134.4 1450.8 2134.5 1454.8 2134.6 1458.8 2134.8 1462.8 2134.9 1464.1 2134.9 1464.1 2137.9 1462.8 2137.9 1458.8 2137.8 1454.8 2137.6 1450.8 2137.5 1446.8 2137.4 1442.8 2137.2 1438.8 2137.1 1435.1 2136.9ZM1476.1 2135.3 1478.8 2135.4 1479.1 2135.4 1479.1 2138.4 1478.8 2138.4 1476.1 2138.3ZM1492.1 2135.8 1494.8 2135.9 1498.9 2136 1502.9 2136.1 1506.9 2136.2 1510.9 2136.3 1514.9 2136.4 1518.9 2136.5 1521.1 2136.5 1521.1 2139.5 1518.9 2139.5 1514.9 2139.4 1510.9 2139.3 1506.9 2139.2 1502.9 2139.1 1498.9 2139 1494.8 2138.9 1492.1 2138.8ZM1533.1 2136.8 1534.9 2136.9 1536.1 2136.9 1536.1 2139.9 1534.9 2139.9 1533.1 2139.8ZM1549.1 2137.2 1550.9 2137.2 1554.9 2137.3 1558.9 2137.4 1562.9 2137.5 1566.9 2137.6 1571 2137.6 1575 2137.7 1578.1 2137.8 1578.1 2140.8 1575 2140.7 1571 2140.6 1566.9 2140.6 1562.9 2140.5 1558.9 2140.4 1554.9 2140.3 1550.9 2140.2 1549.1 2140.2ZM1590.1 2138 1591 2138 1593.1 2138 1593.1 2141 1591 2141 1590.1 2141ZM1606.1 2138.2 1607 2138.2 1607 2141.2 1606.1 2141.2Z" fill="#000" clip-path="url(#cc)"/>
<rect x="132.4" y="1559.2" width="1475.3" height="634.2" fill="none" stroke="#000" stroke-width="3"/>
<line x1="294.5" y1="2193.4" x2="294.5" y2="2177.4" stroke="#000" stroke-width="3"/>
<text transform="translate(291.5 2238.8) scale(0.91 1)" font-family="'Liberation Sans', Arial, Helvetica, sans-serif" font-size="41.7" text-anchor="middle">20</text>
<line x1="459.4" y1="2193.4" x2="459.4" y2="2177.4" stroke="#000" stroke-width="3"/>
<text transform="translate(456.4 2238.8) scale(0.91 1)" font-family="'Liberation Sans', Arial, Helvetica, sans-serif" font-size="41.7" text-anchor="middle">40</text>
<line x1="625.1" y1="2193.4" x2="625.1" y2="2177.4" stroke="#000" stroke-width="3"/>
<text transform="translate(622.1 2238.8) scale(0.91 1)" font-family="'Liberation Sans', Arial, Helvetica, sans-serif" font-size="41.7" text-anchor="middle">60</text>
<line x1="790.1" y1="2193.4" x2="790.1" y2="2177.4" stroke="#000" stroke-width="3"/>
<text transform="translate(787.1 2238.8) scale(0.91 1)" font-family="'Liberation Sans', Arial, Helvetica, sans-serif" font-size="41.7" text-anchor="middle">80</text>
<line x1="955.5" y1="2193.4" x2="955.5" y2="2177.4" stroke="#000" stroke-width="3"/>
<text transform="translate(955 2238.8) scale(0.91 1)" font-family="'Liberation Sans', Arial, Helvetica, sans-serif" font-size="41.7" text-anchor="middle">100</text>
<line x1="1120.5" y1="2193.4" x2="1120.5" y2="2177.4" stroke="#000" stroke-width="3"/>
<text transform="translate(1120 2238.8) scale(0.91 1)" font-family="'Liberation Sans', Arial, Helvetica, sans-serif" font-size="41.7" text-anchor="middle">120</text>
<line x1="1285.5" y1="2193.4" x2="1285.5" y2="2177.4" stroke="#000" stroke-width="3"/>
<text transform="translate(1285 2238.8) scale(0.91 1)" font-family="'Liberation Sans', Arial, Helvetica, sans-serif" font-size="41.7" text-anchor="middle">140</text>
<line x1="1448.4" y1="2193.4" x2="1448.4" y2="2177.4" stroke="#000" stroke-width="3"/>
<text transform="translate(1447.9 2238.8) scale(0.91 1)" font-family="'Liberation Sans', Arial, Helvetica, sans-serif" font-size="41.7" text-anchor="middle">160</text>
<line x1="294.5" y1="1559.2" x2="294.5" y2="1575.7" stroke="#000" stroke-width="3"/>
<line x1="459.4" y1="1559.2" x2="459.4" y2="1575.7" stroke="#000" stroke-width="3"/>
<line x1="625.1" y1="1559.2" x2="625.1" y2="1575.7" stroke="#000" stroke-width="3"/>
<line x1="790.1" y1="1559.2" x2="790.1" y2="1575.7" stroke="#000" stroke-width="3"/>
<line x1="955.5" y1="1559.2" x2="955.5" y2="1575.7" stroke="#000" stroke-width="3"/>
<line x1="1120.5" y1="1559.2" x2="1120.5" y2="1575.7" stroke="#000" stroke-width="3"/>
<line x1="1285.5" y1="1559.2" x2="1285.5" y2="1566.5" stroke="#000" stroke-width="3"/>
<line x1="1448.4" y1="1559.2" x2="1448.4" y2="1575.7" stroke="#000" stroke-width="3"/>
<text transform="translate(130.5 2238.8) scale(0.91 1)" font-family="'Liberation Sans', Arial, Helvetica, sans-serif" font-size="41.7" text-anchor="middle">0</text>
<line x1="132.4" y1="2128.4" x2="151.4" y2="2128.4" stroke="#000" stroke-width="3"/>
<line x1="1607.7" y1="2128.4" x2="1591.7" y2="2128.4" stroke="#000" stroke-width="3"/>
<text transform="translate(118.3 2141.2) scale(0.93 1)" font-family="'Liberation Sans', Arial, Helvetica, sans-serif" font-size="41" text-anchor="end">1.1</text>
<line x1="132.4" y1="2025.5" x2="151.4" y2="2025.5" stroke="#000" stroke-width="3"/>
<line x1="1607.7" y1="2025.5" x2="1591.7" y2="2025.5" stroke="#000" stroke-width="3"/>
<text transform="translate(118.3 2038.3) scale(0.93 1)" font-family="'Liberation Sans', Arial, Helvetica, sans-serif" font-size="41" text-anchor="end">1.2</text>
<line x1="132.4" y1="1922.1" x2="151.4" y2="1922.1" stroke="#000" stroke-width="3"/>
<line x1="1607.7" y1="1922.1" x2="1591.7" y2="1922.1" stroke="#000" stroke-width="3"/>
<text transform="translate(118.3 1934.9) scale(0.93 1)" font-family="'Liberation Sans', Arial, Helvetica, sans-serif" font-size="41" text-anchor="end">1.3</text>
<line x1="132.4" y1="1819.1" x2="151.4" y2="1819.1" stroke="#000" stroke-width="3"/>
<line x1="1607.7" y1="1819.1" x2="1591.7" y2="1819.1" stroke="#000" stroke-width="3"/>
<text transform="translate(118.3 1831.9) scale(0.93 1)" font-family="'Liberation Sans', Arial, Helvetica, sans-serif" font-size="41" text-anchor="end">1.4</text>
<line x1="132.4" y1="1715.7" x2="151.4" y2="1715.7" stroke="#000" stroke-width="3"/>
<line x1="1607.7" y1="1715.7" x2="1591.7" y2="1715.7" stroke="#000" stroke-width="3"/>
<text transform="translate(118.3 1728.5) scale(0.93 1)" font-family="'Liberation Sans', Arial, Helvetica, sans-serif" font-size="41" text-anchor="end">1.5</text>
<line x1="132.4" y1="1612.9" x2="151.4" y2="1612.9" stroke="#000" stroke-width="3"/>
<line x1="1607.7" y1="1612.9" x2="1591.7" y2="1612.9" stroke="#000" stroke-width="3"/>
<text transform="translate(118.3 1625.7) scale(0.93 1)" font-family="'Liberation Sans', Arial, Helvetica, sans-serif" font-size="41" text-anchor="end">1.6</text>
<rect x="1253.2" y="1606.5" width="299.3" height="259.9" fill="#fff" stroke="#000" stroke-width="3"/>
<clipPath id="cci"><rect x="1253.2" y="1606.5" width="299.29999999999995" height="259.9000000000001"/></clipPath>
<path d="M1255 1651.5 1259 1652.9 1263 1654.3 1267 1655.9 1271.1 1657.6 1275.1 1659.3 1279.1 1661.1 1283.1 1662.9 1284.4 1663.5 1284.4 1666.5 1283.1 1665.9 1279.1 1664.1 1275.1 1662.3 1271.1 1660.6 1267 1658.9 1263 1657.3 1259 1655.9 1255 1654.5ZM1296.4 1668.8 1299.1 1669.9 1303.2 1671.6 1307.2 1673.3 1311.2 1675 1315.2 1676.8 1319.2 1678.5 1323.2 1680.3 1325.8 1681.3 1325.8 1684.3 1323.2 1683.3 1319.2 1681.5 1315.2 1679.8 1311.2 1678 1307.2 1676.3 1303.2 1674.6 1299.1 1672.9 1296.4 1671.8ZM1337.8 1686.1 1339.3 1686.6 1343.3 1688 1347.3 1689.5 1351.3 1691 1355.3 1692.5 1359.4 1694 1363.4 1695.5 1367.2 1697 1367.2 1700 1363.4 1698.5 1359.4 1697 1355.3 1695.5 1351.3 1694 1347.3 1692.5 1343.3 1691 1339.3 1689.6 1337.8 1689.1ZM1379.2 1701.5 1379.4 1701.5 1383.4 1703 1387.4 1704.4 1391.5 1705.9 1395.5 1707.5 1399.5 1709.1 1403.5 1710.7 1407.5 1712.2 1408.6 1712.6 1408.6 1715.6 1407.5 1715.2 1403.5 1713.7 1399.5 1712.1 1395.5 1710.5 1391.5 1708.9 1387.4 1707.4 1383.4 1706 1379.4 1704.5 1379.2 1704.5ZM1420.6 1715.8 1423.6 1716.3 1427.6 1717 1431.6 1717.8 1435.6 1718.9 1439.6 1720 1443.6 1721.3 1447.6 1722.5 1450 1723.1 1450 1726.1 1447.6 1725.5 1443.6 1724.3 1439.6 1723 1435.6 1721.9 1431.6 1720.8 1427.6 1720 1423.6 1719.3 1420.6 1718.8ZM1462 1725.9 1463.7 1726.3 1467.7 1727.1 1471.7 1728 1475.7 1728.8 1479.8 1729.5 1483.8 1730.1 1487.8 1730.5 1491.4 1730.8 1491.4 1733.8 1487.8 1733.5 1483.8 1733.1 1479.8 1732.5 1475.7 1731.8 1471.7 1731 1467.7 1730.1 1463.7 1729.3 1462 1728.9ZM1503.4 1731 1503.8 1731 1507.9 1731 1511.9 1731 1515.9 1731 1519.9 1731 1523.9 1730.9 1527.9 1730.9 1531.9 1730.9 1532.8 1730.9 1532.8 1733.9 1531.9 1733.9 1527.9 1733.9 1523.9 1733.9 1519.9 1734 1515.9 1734 1511.9 1734 1507.9 1734 1503.8 1734 1503.4 1734ZM1544.8 1730.7 1548 1730.6 1552 1730.5 1552 1733.5 1548 1733.6 1544.8 1733.7Z" fill="#000" clip-path="url(#cci)"/>
<path d="M1264.3 1743.3 1268.3 1745.6 1272.3 1747.8 1276.3 1750 1280.3 1752.1 1284.4 1754.1 1288.4 1756.1 1292.4 1757.9 1293.7 1758.5 1293.7 1761.5 1292.4 1760.9 1288.4 1759.1 1284.4 1757.1 1280.3 1755.1 1276.3 1753 1272.3 1750.8 1268.3 1748.6 1264.3 1746.3ZM1305.7 1763.5 1308.4 1764.8 1312.4 1766.8 1316.4 1769 1320.4 1771.2 1324.5 1773.5 1328.5 1775.7 1332.5 1777.9 1335.1 1779.3 1335.1 1782.3 1332.5 1780.9 1328.5 1778.7 1324.5 1776.5 1320.4 1774.2 1316.4 1772 1312.4 1769.8 1308.4 1767.8 1305.7 1766.5ZM1347.1 1785.3 1348.5 1785.8 1352.5 1787.2 1356.5 1788.4 1360.5 1789.5 1364.6 1790.6 1368.6 1791.7 1372.6 1792.9 1376.5 1794.3 1376.5 1797.3 1372.6 1795.9 1368.6 1794.7 1364.6 1793.6 1360.5 1792.5 1356.5 1791.4 1352.5 1790.2 1348.5 1788.8 1347.1 1788.3ZM1388.5 1799.1 1388.6 1799.2 1392.6 1800.6 1396.6 1802.1 1400.6 1803.6 1404.7 1805 1408.7 1806.3 1412.7 1807.4 1416.7 1808.4 1417.9 1808.7 1417.9 1811.7 1416.7 1811.4 1412.7 1810.4 1408.7 1809.3 1404.7 1808 1400.6 1806.6 1396.6 1805.1 1392.6 1803.6 1388.6 1802.2 1388.5 1802.1ZM1429.9 1810.9 1432.7 1811.4 1436.7 1812.3 1440.7 1813.2 1444.8 1814.1 1448.8 1815 1452.8 1816 1456.8 1816.9 1459.3 1817.6 1459.3 1820.6 1456.8 1819.9 1452.8 1819 1448.8 1818 1444.8 1817.1 1440.7 1816.2 1436.7 1815.3 1432.7 1814.4 1429.9 1813.9ZM1471.3 1820.6 1472.8 1820.8 1476.8 1821.3 1480.8 1821.6 1484.9 1821.9 1488.9 1822.2 1492.9 1822.5 1496.9 1822.9 1500.7 1823.4 1500.7 1826.4 1496.9 1825.9 1492.9 1825.5 1488.9 1825.2 1484.9 1824.9 1480.8 1824.6 1476.8 1824.3 1472.8 1823.8 1471.3 1823.6ZM1512.7 1825.6 1512.9 1825.6 1516.9 1825.6 1520.9 1825.6 1525 1825.6 1529 1825.6 1533 1825.6 1537 1825.6 1541 1825.6 1541 1828.6 1537 1828.6 1533 1828.6 1529 1828.6 1525 1828.6 1520.9 1828.6 1516.9 1828.6 1512.9 1828.6 1512.7 1828.6Z" fill="#f00" clip-path="url(#cci)"/>
<path d="M1264.3 1760.5 1268.3 1763.3 1272.3 1765.9 1276.3 1768.4 1280.3 1770.7 1284.4 1772.8 1288.4 1774.7 1292.4 1776.4 1293.7 1776.9 1293.7 1779.9 1292.4 1779.4 1288.4 1777.7 1284.4 1775.8 1280.3 1773.7 1276.3 1771.4 1272.3 1768.9 1268.3 1766.3 1264.3 1763.5ZM1305.7 1780.9 1308.4 1781.9 1312.4 1783.4 1316.4 1785.1 1320.4 1786.8 1324.5 1788.6 1328.5 1790.6 1332.5 1792.7 1335.1 1794.3 1335.1 1797.3 1332.5 1795.7 1328.5 1793.6 1324.5 1791.6 1320.4 1789.8 1316.4 1788.1 1312.4 1786.4 1308.4 1784.9 1305.7 1783.9ZM1347.1 1802.5 1348.5 1803.2 1352.5 1804.8 1356.5 1806.3 1360.5 1807.5 1364.6 1808.8 1368.6 1810 1372.6 1811.3 1376.5 1812.8 1376.5 1815.8 1372.6 1814.3 1368.6 1813 1364.6 1811.8 1360.5 1810.5 1356.5 1809.3 1352.5 1807.8 1348.5 1806.2 1347.1 1805.5ZM1388.5 1817.4 1388.6 1817.4 1392.6 1818.4 1396.6 1819.3 1400.6 1820.2 1404.7 1820.9 1408.7 1821.6 1412.7 1822.4 1416.7 1823.1 1417.9 1823.3 1417.9 1826.3 1416.7 1826.1 1412.7 1825.4 1408.7 1824.6 1404.7 1823.9 1400.6 1823.2 1396.6 1822.3 1392.6 1821.4 1388.6 1820.4 1388.5 1820.4ZM1429.9 1825.6 1432.7 1826.2 1436.7 1827.2 1440.7 1828.3 1444.8 1829.5 1448.8 1830.7 1452.8 1831.8 1456.8 1832.9 1459.3 1833.6 1459.3 1836.6 1456.8 1835.9 1452.8 1834.8 1448.8 1833.7 1444.8 1832.5 1440.7 1831.3 1436.7 1830.2 1432.7 1829.2 1429.9 1828.6ZM1471.3 1836.6 1472.8 1836.8 1476.8 1837.1 1480.8 1837.3 1484.9 1837.5 1488.9 1837.7 1492.9 1837.8 1496.9 1837.9 1500.7 1837.9 1500.7 1840.9 1496.9 1840.9 1492.9 1840.8 1488.9 1840.7 1484.9 1840.5 1480.8 1840.3 1476.8 1840.1 1472.8 1839.8 1471.3 1839.6ZM1512.7 1837.9 1512.9 1837.9 1516.9 1838 1520.9 1838.2 1525 1838.4 1529 1838.8 1533 1839.3 1537 1839.8 1541 1840.3 1541 1843.3 1537 1842.8 1533 1842.3 1529 1841.8 1525 1841.4 1520.9 1841.2 1516.9 1841 1512.9 1840.9 1512.7 1840.9Z" fill="#00f" clip-path="url(#cci)"/>
<path d="M1255.7 1665.9 1259.7 1667.1 1263.7 1668.5 1267.7 1669.8 1271.7 1671.3 1275.7 1672.8 1279.7 1674.3 1283.7 1676 1287.7 1677.8 1291.7 1679.7 1295.7 1681.6 1299.7 1683.5 1303.7 1685.4 1307.8 1687.2 1311.8 1688.8 1315.8 1690.3 1319.8 1691.8 1323.8 1693.2 1327.8 1694.6 1331.8 1696 1335.8 1697.5 1339.8 1699 1343.8 1700.6 1347.8 1702.2 1351.8 1703.8 1355.8 1705.4 1359.8 1706.9 1363.8 1708.2 1367.8 1709.3 1371.8 1710.4 1375.8 1711.3 1379.8 1712.2 1383.8 1713.1 1387.8 1713.9 1391.8 1714.7 1395.8 1715.5 1399.8 1716.3 1403.8 1717.1 1407.9 1717.8 1411.9 1718.5 1415.9 1719.2 1419.9 1719.8 1423.9 1720.4 1427.9 1720.9 1431.9 1721.4 1435.9 1721.8 1439.9 1722.3 1443.9 1722.8 1447.9 1723.3 1451.9 1724 1455.9 1724.8 1459.9 1725.8 1463.9 1726.8 1467.9 1727.7 1471.9 1728.5 1475.9 1728.9 1479.9 1729.2 1483.9 1729.4 1487.9 1729.5 1491.9 1729.7 1495.9 1729.9 1499.9 1730 1504 1730.2 1508 1730.3 1512 1730.4 1516 1730.5 1520 1730.6 1524 1730.7 1528 1730.8 1532 1730.9 1536 1730.9 1540 1730.9 1544 1731 1548 1731 1552 1731 1552 1734 1548 1734 1544 1734 1540 1733.9 1536 1733.9 1532 1733.9 1528 1733.8 1524 1733.7 1520 1733.6 1516 1733.5 1512 1733.4 1508 1733.3 1504 1733.2 1499.9 1733 1495.9 1732.9 1491.9 1732.7 1487.9 1732.5 1483.9 1732.4 1479.9 1732.2 1475.9 1731.9 1471.9 1731.5 1467.9 1730.7 1463.9 1729.8 1459.9 1728.8 1455.9 1727.8 1451.9 1727 1447.9 1726.3 1443.9 1725.8 1439.9 1725.3 1435.9 1724.8 1431.9 1724.4 1427.9 1723.9 1423.9 1723.4 1419.9 1722.8 1415.9 1722.2 1411.9 1721.5 1407.9 1720.8 1403.8 1720.1 1399.8 1719.3 1395.8 1718.5 1391.8 1717.7 1387.8 1716.9 1383.8 1716.1 1379.8 1715.2 1375.8 1714.3 1371.8 1713.4 1367.8 1712.3 1363.8 1711.2 1359.8 1709.9 1355.8 1708.4 1351.8 1706.8 1347.8 1705.2 1343.8 1703.6 1339.8 1702 1335.8 1700.5 1331.8 1699 1327.8 1697.6 1323.8 1696.2 1319.8 1694.8 1315.8 1693.3 1311.8 1691.8 1307.8 1690.2 1303.7 1688.4 1299.7 1686.5 1295.7 1684.6 1291.7 1682.7 1287.7 1680.8 1283.7 1679 1279.7 1677.3 1275.7 1675.8 1271.7 1674.3 1267.7 1672.8 1263.7 1671.5 1259.7 1670.1 1255.7 1668.9Z" fill="#000" clip-path="url(#cci)"/>
<path d="M1255.7 1684.8 1259.7 1685.8 1263.7 1687 1267.7 1688.3 1271.7 1689.7 1275.7 1691.1 1279.7 1692.7 1283.7 1694.5 1287.7 1696.5 1291.7 1698.7 1295.7 1701 1299.7 1703.3 1303.7 1705.5 1307.8 1707.5 1311.8 1709.3 1315.8 1711 1319.8 1712.5 1323.8 1714.1 1327.8 1715.5 1331.8 1717 1335.8 1718.4 1339.8 1719.8 1343.8 1721.2 1347.8 1722.6 1351.8 1724 1355.8 1725.3 1359.8 1726.6 1363.8 1727.8 1367.8 1729 1371.8 1730.1 1375.8 1731.2 1379.8 1732.2 1383.8 1733.2 1387.8 1734.2 1391.8 1735.1 1395.8 1736 1399.8 1736.9 1403.8 1737.7 1407.9 1738.6 1411.9 1739.3 1415.9 1740.1 1419.9 1740.7 1423.9 1741.3 1427.9 1741.8 1431.9 1742.3 1435.9 1742.8 1439.9 1743.2 1443.9 1743.7 1447.9 1744.2 1451.9 1744.8 1455.9 1745.7 1459.9 1746.6 1463.9 1747.6 1467.9 1748.4 1471.9 1749.1 1475.9 1749.4 1479.9 1749.4 1483.9 1749.4 1487.9 1749.4 1491.9 1749.4 1495.9 1749.4 1499.9 1749.4 1504 1749.4 1508 1749.4 1512 1749.4 1516 1749.4 1520 1749.4 1524 1749.4 1528 1749.4 1532 1749.4 1536 1749.4 1540 1749.4 1544 1749.4 1548 1749.4 1552 1749.4 1552 1752.4 1548 1752.4 1544 1752.4 1540 1752.4 1536 1752.4 1532 1752.4 1528 1752.4 1524 1752.4 1520 1752.4 1516 1752.4 1512 1752.4 1508 1752.4 1504 1752.4 1499.9 1752.4 1495.9 1752.4 1491.9 1752.4 1487.9 1752.4 1483.9 1752.4 1479.9 1752.4 1475.9 1752.4 1471.9 1752.1 1467.9 1751.4 1463.9 1750.6 1459.9 1749.6 1455.9 1748.7 1451.9 1747.8 1447.9 1747.2 1443.9 1746.7 1439.9 1746.2 1435.9 1745.8 1431.9 1745.3 1427.9 1744.8 1423.9 1744.3 1419.9 1743.7 1415.9 1743.1 1411.9 1742.3 1407.9 1741.6 1403.8 1740.7 1399.8 1739.9 1395.8 1739 1391.8 1738.1 1387.8 1737.2 1383.8 1736.2 1379.8 1735.2 1375.8 1734.2 1371.8 1733.1 1367.8 1732 1363.8 1730.8 1359.8 1729.6 1355.8 1728.3 1351.8 1727 1347.8 1725.6 1343.8 1724.2 1339.8 1722.8 1335.8 1721.4 1331.8 1720 1327.8 1718.5 1323.8 1717.1 1319.8 1715.5 1315.8 1714 1311.8 1712.3 1307.8 1710.5 1303.7 1708.5 1299.7 1706.3 1295.7 1704 1291.7 1701.7 1287.7 1699.5 1283.7 1697.5 1279.7 1695.7 1275.7 1694.1 1271.7 1692.7 1267.7 1691.3 1263.7 1690 1259.7 1688.8 1255.7 1687.8Z" fill="#f00" clip-path="url(#cci)"/>
<path d="M1255.7 1705.2 1259.7 1707.6 1263.7 1709.9 1267.7 1712.1 1271.7 1714.3 1275.7 1716.4 1279.7 1718.5 1283.7 1720.4 1287.7 1722.3 1291.7 1724.2 1295.7 1726 1299.7 1727.7 1303.7 1729.5 1307.8 1731.3 1311.8 1733.1 1315.8 1734.9 1319.8 1736.7 1323.8 1738.5 1327.8 1740.3 1331.8 1742.1 1335.8 1744 1339.8 1746.1 1343.8 1748.4 1347.8 1750.8 1351.8 1753.2 1355.8 1755.5 1359.8 1757.7 1363.8 1759.6 1367.8 1761.1 1371.8 1762.4 1375.8 1763.5 1379.8 1764.5 1383.8 1765.5 1387.8 1766.5 1391.8 1767.5 1395.8 1768.6 1399.8 1769.7 1403.8 1770.8 1407.9 1771.9 1411.9 1773 1415.9 1774 1419.9 1775.1 1423.9 1776.1 1427.9 1777.2 1431.9 1778.3 1435.9 1779.3 1439.9 1780.3 1443.9 1781.3 1447.9 1782.2 1451.9 1783 1455.9 1783.8 1459.9 1784.5 1463.9 1785.2 1467.9 1785.9 1471.9 1786.6 1475.9 1787.3 1479.9 1788.2 1483.9 1789.1 1487.9 1790.1 1491.9 1790.9 1495.9 1791.2 1499.9 1791.2 1504 1791.2 1508 1791.2 1512 1791.2 1516 1791.2 1520 1791.2 1524 1791.2 1528 1791.2 1532 1791.2 1536 1791.2 1540 1791.2 1544 1791.2 1548 1791.2 1552 1791.2 1552 1794.2 1548 1794.2 1544 1794.2 1540 1794.2 1536 1794.2 1532 1794.2 1528 1794.2 1524 1794.2 1520 1794.2 1516 1794.2 1512 1794.2 1508 1794.2 1504 1794.2 1499.9 1794.2 1495.9 1794.2 1491.9 1793.9 1487.9 1793.1 1483.9 1792.1 1479.9 1791.2 1475.9 1790.3 1471.9 1789.6 1467.9 1788.9 1463.9 1788.2 1459.9 1787.5 1455.9 1786.8 1451.9 1786 1447.9 1785.2 1443.9 1784.3 1439.9 1783.3 1435.9 1782.3 1431.9 1781.3 1427.9 1780.2 1423.9 1779.1 1419.9 1778.1 1415.9 1777 1411.9 1776 1407.9 1774.9 1403.8 1773.8 1399.8 1772.7 1395.8 1771.6 1391.8 1770.5 1387.8 1769.5 1383.8 1768.5 1379.8 1767.5 1375.8 1766.5 1371.8 1765.4 1367.8 1764.1 1363.8 1762.6 1359.8 1760.7 1355.8 1758.5 1351.8 1756.2 1347.8 1753.8 1343.8 1751.4 1339.8 1749.1 1335.8 1747 1331.8 1745.1 1327.8 1743.3 1323.8 1741.5 1319.8 1739.7 1315.8 1737.9 1311.8 1736.1 1307.8 1734.3 1303.7 1732.5 1299.7 1730.7 1295.7 1729 1291.7 1727.2 1287.7 1725.3 1283.7 1723.4 1279.7 1721.5 1275.7 1719.4 1271.7 1717.3 1267.7 1715.1 1263.7 1712.9 1259.7 1710.6 1255.7 1708.2Z" fill="#00f" clip-path="url(#cci)"/>
<path d="M1282.7 1717h3v3h-3zM1297.5 1724.1h3v3h-3zM1312.2 1730.9h3v3h-3zM1327 1737.5h3v3h-3zM1341.7 1744h3v3h-3zM1356.5 1750.5h3v3h-3zM1371.2 1756.1h3v3h-3zM1386 1760.7h3v3h-3zM1400.7 1764.6h3v3h-3zM1415.5 1767.6h3v3h-3zM1430.2 1770.7h3v3h-3zM1445 1775.4h3v3h-3zM1459.7 1779.2h3v3h-3zM1474.5 1781.4h3v3h-3zM1489.2 1782.7h3v3h-3zM1504 1783.4h3v3h-3zM1518.7 1784h3v3h-3zM1533.5 1784.4h3v3h-3zM1548.2 1784.6h3v3h-3z" fill="#000" clip-path="url(#cci)"/>
<path d="M1297.4 1762.3h3v3h-3zM1312.2 1767.4h3v3h-3zM1326.9 1771.9h3v3h-3zM1341.7 1775.6h3v3h-3zM1356.4 1779.3h3v3h-3zM1371.2 1783.9h3v3h-3zM1385.9 1787.8h3v3h-3zM1400.7 1790.4h3v3h-3zM1415.4 1792.6h3v3h-3zM1430.2 1794.5h3v3h-3zM1444.9 1796.3h3v3h-3zM1459.7 1798.3h3v3h-3zM1474.4 1799.3h3v3h-3zM1489.2 1799.3h3v3h-3zM1503.9 1799.3h3v3h-3zM1518.7 1799.3h3v3h-3zM1533.4 1799.3h3v3h-3zM1548.2 1799.3h3v3h-3z" fill="#f00" clip-path="url(#cci)"/>
<path d="M1268 1756.5h3v3h-3zM1282.8 1764.8h3v3h-3zM1297.5 1770.8h3v3h-3zM1312.2 1774.5h3v3h-3zM1327 1778.2h3v3h-3zM1341.8 1783h3v3h-3zM1356.5 1788.1h3v3h-3zM1371.2 1793.4h3v3h-3zM1386 1797.6h3v3h-3zM1400.8 1800.2h3v3h-3zM1415.5 1802.6h3v3h-3zM1430.2 1805.7h3v3h-3zM1445 1808.7h3v3h-3zM1459.8 1811.8h3v3h-3zM1474.5 1813.3h3v3h-3zM1489.2 1813.6h3v3h-3zM1504 1813.8h3v3h-3zM1518.8 1813.9h3v3h-3zM1533.5 1814h3v3h-3zM1548.2 1814h3v3h-3z" fill="#00f" clip-path="url(#cci)"/>
<path d="M1255.7 1610.6 1259.7 1613.2 1263.7 1615.7 1267.7 1618.2 1271.7 1620.6 1275.7 1622.9 1279.7 1625.1 1283.7 1627.3 1284.7 1627.8 1284.7 1630.8 1283.7 1630.3 1279.7 1628.1 1275.7 1625.9 1271.7 1623.6 1267.7 1621.2 1263.7 1618.7 1259.7 1616.2 1255.7 1613.6ZM1296.7 1633.8 1299.7 1635.3 1299.7 1638.3 1296.7 1636.8ZM1312.7 1641.6 1315.8 1643.1 1319.8 1645 1323.8 1646.9 1327.8 1648.8 1331.8 1650.7 1335.8 1652.5 1339.8 1654.2 1341.7 1655 1341.7 1658 1339.8 1657.2 1335.8 1655.5 1331.8 1653.7 1327.8 1651.8 1323.8 1649.9 1319.8 1648 1315.8 1646.1 1312.7 1644.6ZM1353.7 1660 1355.8 1660.8 1356.7 1661.2 1356.7 1664.2 1355.8 1663.8 1353.7 1663ZM1369.7 1665.9 1371.8 1666.6 1375.8 1667.8 1379.8 1669 1383.8 1670.2 1387.8 1671.5 1391.8 1672.8 1395.8 1674.3 1398.7 1675.5 1398.7 1678.5 1395.8 1677.3 1391.8 1675.8 1387.8 1674.5 1383.8 1673.2 1379.8 1672 1375.8 1670.8 1371.8 1669.6 1369.7 1668.9ZM1410.7 1681 1411.9 1681.5 1413.7 1682.2 1413.7 1685.2 1411.9 1684.5 1410.7 1684ZM1426.7 1685.5 1427.9 1685.7 1431.9 1686.3 1435.9 1686.8 1439.9 1687.3 1443.9 1687.8 1447.9 1688.4 1451.9 1689.1 1455.7 1689.8 1455.7 1692.8 1451.9 1692.1 1447.9 1691.4 1443.9 1690.8 1439.9 1690.3 1435.9 1689.8 1431.9 1689.3 1427.9 1688.7 1426.7 1688.5ZM1467.7 1692.2 1467.9 1692.2 1470.7 1692.7 1470.7 1695.7 1467.9 1695.2 1467.7 1695.2ZM1483.7 1694.6 1483.9 1694.7 1487.9 1695.2 1491.9 1695.7 1495.9 1696.1 1499.9 1696.4 1504 1696.6 1508 1696.6 1512 1696.6 1512.7 1696.6 1512.7 1699.6 1512 1699.6 1508 1699.6 1504 1699.6 1499.9 1699.4 1495.9 1699.1 1491.9 1698.7 1487.9 1698.2 1483.9 1697.7 1483.7 1697.6ZM1524.7 1696.6 1527.7 1696.6 1527.7 1699.6 1524.7 1699.6ZM1540.7 1696.6 1544 1696.6 1548 1696.6 1552 1696.6 1552 1699.6 1548 1699.6 1544 1699.6 1540.7 1699.6Z" fill="#000" clip-path="url(#cci)"/>
<rect x="1253.2" y="1606.5" width="299.3" height="259.9" fill="none" stroke="#000" stroke-width="3"/>
<line x1="1268.7" y1="1866.4" x2="1268.7" y2="1859.4" stroke="#000" stroke-width="3"/>
<line x1="1268.7" y1="1606.5" x2="1268.7" y2="1613.5" stroke="#000" stroke-width="3"/>
<line x1="1530.8" y1="1866.4" x2="1530.8" y2="1859.4" stroke="#000" stroke-width="3"/>
<line x1="1530.8" y1="1606.5" x2="1530.8" y2="1613.5" stroke="#000" stroke-width="3"/>
<line x1="1253.2" y1="1648.2" x2="1260.2" y2="1648.2" stroke="#000" stroke-width="3"/>
<line x1="1552.5" y1="1648.2" x2="1545.5" y2="1648.2" stroke="#000" stroke-width="3"/>
<line x1="1253.2" y1="1750.9" x2="1260.2" y2="1750.9" stroke="#000" stroke-width="3"/>
<line x1="1552.5" y1="1750.9" x2="1545.5" y2="1750.9" stroke="#000" stroke-width="3"/>
<line x1="1253.2" y1="1854.1" x2="1260.2" y2="1854.1" stroke="#000" stroke-width="3"/>
<line x1="1552.5" y1="1854.1" x2="1545.5" y2="1854.1" stroke="#000" stroke-width="3"/>
<text transform="translate(1238.5 1660.2) scale(1.0 1)" font-family="'Liberation Sans', Arial, Helvetica, sans-serif" font-size="36" text-anchor="end">1.1</text>
<text transform="translate(1238.5 1762.9) scale(1.0 1)" font-family="'Liberation Sans', Arial, Helvetica, sans-serif" font-size="36" text-anchor="end">1.08</text>
<text transform="translate(1238.5 1866.1) scale(1.0 1)" font-family="'Liberation Sans', Arial, Helvetica, sans-serif" font-size="36" text-anchor="end">1.06</text>
<text transform="translate(1226 1920) scale(1.0 1)" font-family="'Liberation Sans', Arial, Helvetica, sans-serif" font-size="36" text-anchor="start">10</text>
<text transform="translate(1266.5 1896.5) scale(1.0 1)" font-family="'Liberation Sans', Arial, Helvetica, sans-serif" font-size="22" text-anchor="start">2.13</text>
<text transform="translate(1489 1920) scale(1.0 1)" font-family="'Liberation Sans', Arial, Helvetica, sans-serif" font-size="36" text-anchor="start">10</text>
<text transform="translate(1529 1896.5) scale(1.0 1)" font-family="'Liberation Sans', Arial, Helvetica, sans-serif" font-size="22" text-anchor="start">2.24</text>
<rect x="1608" y="1559.2" width="301" height="634.2" fill="none" stroke="#181818" stroke-width="3"/>
<path d="M1642.2 1594.7 1671.6 1594.7 1671.6 1597.7 1642.2 1597.7ZM1683.6 1594.7 1713 1594.7 1713 1597.7 1683.6 1597.7ZM1725 1594.7 1751.4 1594.7 1751.4 1597.7 1725 1597.7Z" fill="#000"/>
<text transform="translate(1762.4 1612.7) scale(1.55 1)" font-family="'DejaVu Sans', sans-serif" font-size="34" text-anchor="start" font-weight="200">α</text>
<text transform="translate(1803.5 1613.5) scale(0.95 1)" font-family="'Liberation Sans', Arial, Helvetica, sans-serif" font-size="42" text-anchor="start">=</text>
<text transform="translate(1838.5 1613.5) scale(0.875 1)" font-family="'Liberation Sans', Arial, Helvetica, sans-serif" font-size="42.3" text-anchor="start">0.1</text>
<path d="M1642.2 1655.2 1671.6 1655.2 1671.6 1658.2 1642.2 1658.2ZM1683.6 1655.2 1713 1655.2 1713 1658.2 1683.6 1658.2ZM1725 1655.2 1751.4 1655.2 1751.4 1658.2 1725 1658.2Z" fill="#f00"/>
<text transform="translate(1762.4 1673.2) scale(1.55 1)" font-family="'DejaVu Sans', sans-serif" font-size="34" text-anchor="start" font-weight="200">α</text>
<text transform="translate(1803.5 1674) scale(0.95 1)" font-family="'Liberation Sans', Arial, Helvetica, sans-serif" font-size="42" text-anchor="start">=</text>
<text transform="translate(1838.5 1674) scale(0.875 1)" font-family="'Liberation Sans', Arial, Helvetica, sans-serif" font-size="42.3" text-anchor="start">0.2</text>
<path d="M1642.2 1716.5 1671.6 1716.5 1671.6 1719.5 1642.2 1719.5ZM1683.6 1716.5 1713 1716.5 1713 1719.5 1683.6 1719.5ZM1725 1716.5 1751.4 1716.5 1751.4 1719.5 1725 1719.5Z" fill="#00f"/>
<text transform="translate(1762.4 1734.5) scale(1.55 1)" font-family="'DejaVu Sans', sans-serif" font-size="34" text-anchor="start" font-weight="200">α</text>
<text transform="translate(1803.5 1735.3) scale(0.95 1)" font-family="'Liberation Sans', Arial, Helvetica, sans-serif" font-size="42" text-anchor="start">=</text>
<text transform="translate(1838.5 1735.3) scale(0.875 1)" font-family="'Liberation Sans', Arial, Helvetica, sans-serif" font-size="42.3" text-anchor="start">0.3</text>
<path d="M1630.2 1779 1751.4 1779 1751.4 1782 1630.2 1782Z" fill="#000"/>
<text transform="translate(1762.4 1797) scale(1.55 1)" font-family="'DejaVu Sans', sans-serif" font-size="34" text-anchor="start" font-weight="200">α</text>
<text transform="translate(1803.5 1797.8) scale(0.95 1)" font-family="'Liberation Sans', Arial, Helvetica, sans-serif" font-size="42" text-anchor="start">=</text>
<text transform="translate(1838.5 1797.8) scale(0.875 1)" font-family="'Liberation Sans', Arial, Helvetica, sans-serif" font-size="42.3" text-anchor="start">0.4</text>
<path d="M1630.2 1840.8 1751.4 1840.8 1751.4 1843.8 1630.2 1843.8Z" fill="#f00"/>
<text transform="translate(1762.4 1858.8) scale(1.55 1)" font-family="'DejaVu Sans', sans-serif" font-size="34" text-anchor="start" font-weight="200">α</text>
<text transform="translate(1803.5 1859.6) scale(0.95 1)" font-family="'Liberation Sans', Arial, Helvetica, sans-serif" font-size="42" text-anchor="start">=</text>
<text transform="translate(1838.5 1859.6) scale(0.875 1)" font-family="'Liberation Sans', Arial, Helvetica, sans-serif" font-size="42.3" text-anchor="start">0.5</text>
<path d="M1630.2 1905.9 1751.4 1905.9 1751.4 1908.9 1630.2 1908.9Z" fill="#00f"/>
<text transform="translate(1762.4 1923.9) scale(1.55 1)" font-family="'DejaVu Sans', sans-serif" font-size="34" text-anchor="start" font-weight="200">α</text>
<text transform="translate(1803.5 1924.7) scale(0.95 1)" font-family="'Liberation Sans', Arial, Helvetica, sans-serif" font-size="42" text-anchor="start">=</text>
<text transform="translate(1838.5 1924.7) scale(0.875 1)" font-family="'Liberation Sans', Arial, Helvetica, sans-serif" font-size="42.3" text-anchor="start">0.6</text>
<path d="M1630.2 1967.9h3v3h-3zM1645 1967.9h3v3h-3zM1659.7 1967.9h3v3h-3zM1674.5 1967.9h3v3h-3zM1689.2 1967.9h3v3h-3zM1704 1967.9h3v3h-3zM1718.7 1967.9h3v3h-3zM1733.5 1967.9h3v3h-3zM1748.2 1967.9h3v3h-3z" fill="#000"/>
<text transform="translate(1762.4 1985.9) scale(1.55 1)" font-family="'DejaVu Sans', sans-serif" font-size="34" text-anchor="start" font-weight="200">α</text>
<text transform="translate(1803.5 1986.7) scale(0.95 1)" font-family="'Liberation Sans', Arial, Helvetica, sans-serif" font-size="42" text-anchor="start">=</text>
<text transform="translate(1838.5 1986.7) scale(0.875 1)" font-family="'Liberation Sans', Arial, Helvetica, sans-serif" font-size="42.3" text-anchor="start">0.7</text>
<path d="M1630.2 2029.6h3v3h-3zM1645 2029.6h3v3h-3zM1659.7 2029.6h3v3h-3zM1674.5 2029.6h3v3h-3zM1689.2 2029.6h3v3h-3zM1704 2029.6h3v3h-3zM1718.7 2029.6h3v3h-3zM1733.5 2029.6h3v3h-3zM1748.2 2029.6h3v3h-3z" fill="#f00"/>
<text transform="translate(1762.4 2047.6) scale(1.55 1)" font-family="'DejaVu Sans', sans-serif" font-size="34" text-anchor="start" font-weight="200">α</text>
<text transform="translate(1803.5 2048.4) scale(0.95 1)" font-family="'Liberation Sans', Arial, Helvetica, sans-serif" font-size="42" text-anchor="start">=</text>
<text transform="translate(1838.5 2048.4) scale(0.875 1)" font-family="'Liberation Sans', Arial, Helvetica, sans-serif" font-size="42.3" text-anchor="start">0.8</text>
<path d="M1630.2 2091.5h3v3h-3zM1645 2091.5h3v3h-3zM1659.7 2091.5h3v3h-3zM1674.5 2091.5h3v3h-3zM1689.2 2091.5h3v3h-3zM1704 2091.5h3v3h-3zM1718.7 2091.5h3v3h-3zM1733.5 2091.5h3v3h-3zM1748.2 2091.5h3v3h-3z" fill="#00f"/>
<text transform="translate(1762.4 2109.5) scale(1.55 1)" font-family="'DejaVu Sans', sans-serif" font-size="34" text-anchor="start" font-weight="200">α</text>
<text transform="translate(1803.5 2110.3) scale(0.95 1)" font-family="'Liberation Sans', Arial, Helvetica, sans-serif" font-size="42" text-anchor="start">=</text>
<text transform="translate(1838.5 2110.3) scale(0.875 1)" font-family="'Liberation Sans', Arial, Helvetica, sans-serif" font-size="42.3" text-anchor="start">0.9</text>
<path d="M1630.2 2153 1659.2 2153 1659.2 2156 1630.2 2156ZM1671.2 2153 1674.2 2153 1674.2 2156 1671.2 2156ZM1687.2 2153 1716.2 2153 1716.2 2156 1687.2 2156ZM1728.2 2153 1731.2 2153 1731.2 2156 1728.2 2156ZM1744.2 2153 1751.4 2153 1751.4 2156 1744.2 2156Z" fill="#000"/>
<text transform="translate(1762.4 2171) scale(1.55 1)" font-family="'DejaVu Sans', sans-serif" font-size="34" text-anchor="start" font-weight="200">α</text>
<text transform="translate(1803.5 2171.8) scale(0.95 1)" font-family="'Liberation Sans', Arial, Helvetica, sans-serif" font-size="42" text-anchor="start">=</text>
<text transform="translate(1838.5 2171.8) scale(0.875 1)" font-family="'Liberation Sans', Arial, Helvetica, sans-serif" font-size="42.3" text-anchor="start">1.0</text>
<text transform="translate(52.6 2070) rotate(-90)" font-family="'Liberation Serif', 'Times New Roman', serif" font-size="46.2">Overall Cost x 10</text>
<text transform="translate(35.7 1745.6) rotate(-90)" font-family="'Liberation Serif', 'Times New Roman', serif" font-size="30">7</text>
<text x="1013" y="2292" font-family="'Liberation Serif', 'Times New Roman', serif" font-size="46.5" text-anchor="middle">Iterations</text>
<text x="12.3" y="2292" font-family="'Liberation Sans', Arial, Helvetica, sans-serif" font-size="40">(c)</text>
</svg></body></html>
